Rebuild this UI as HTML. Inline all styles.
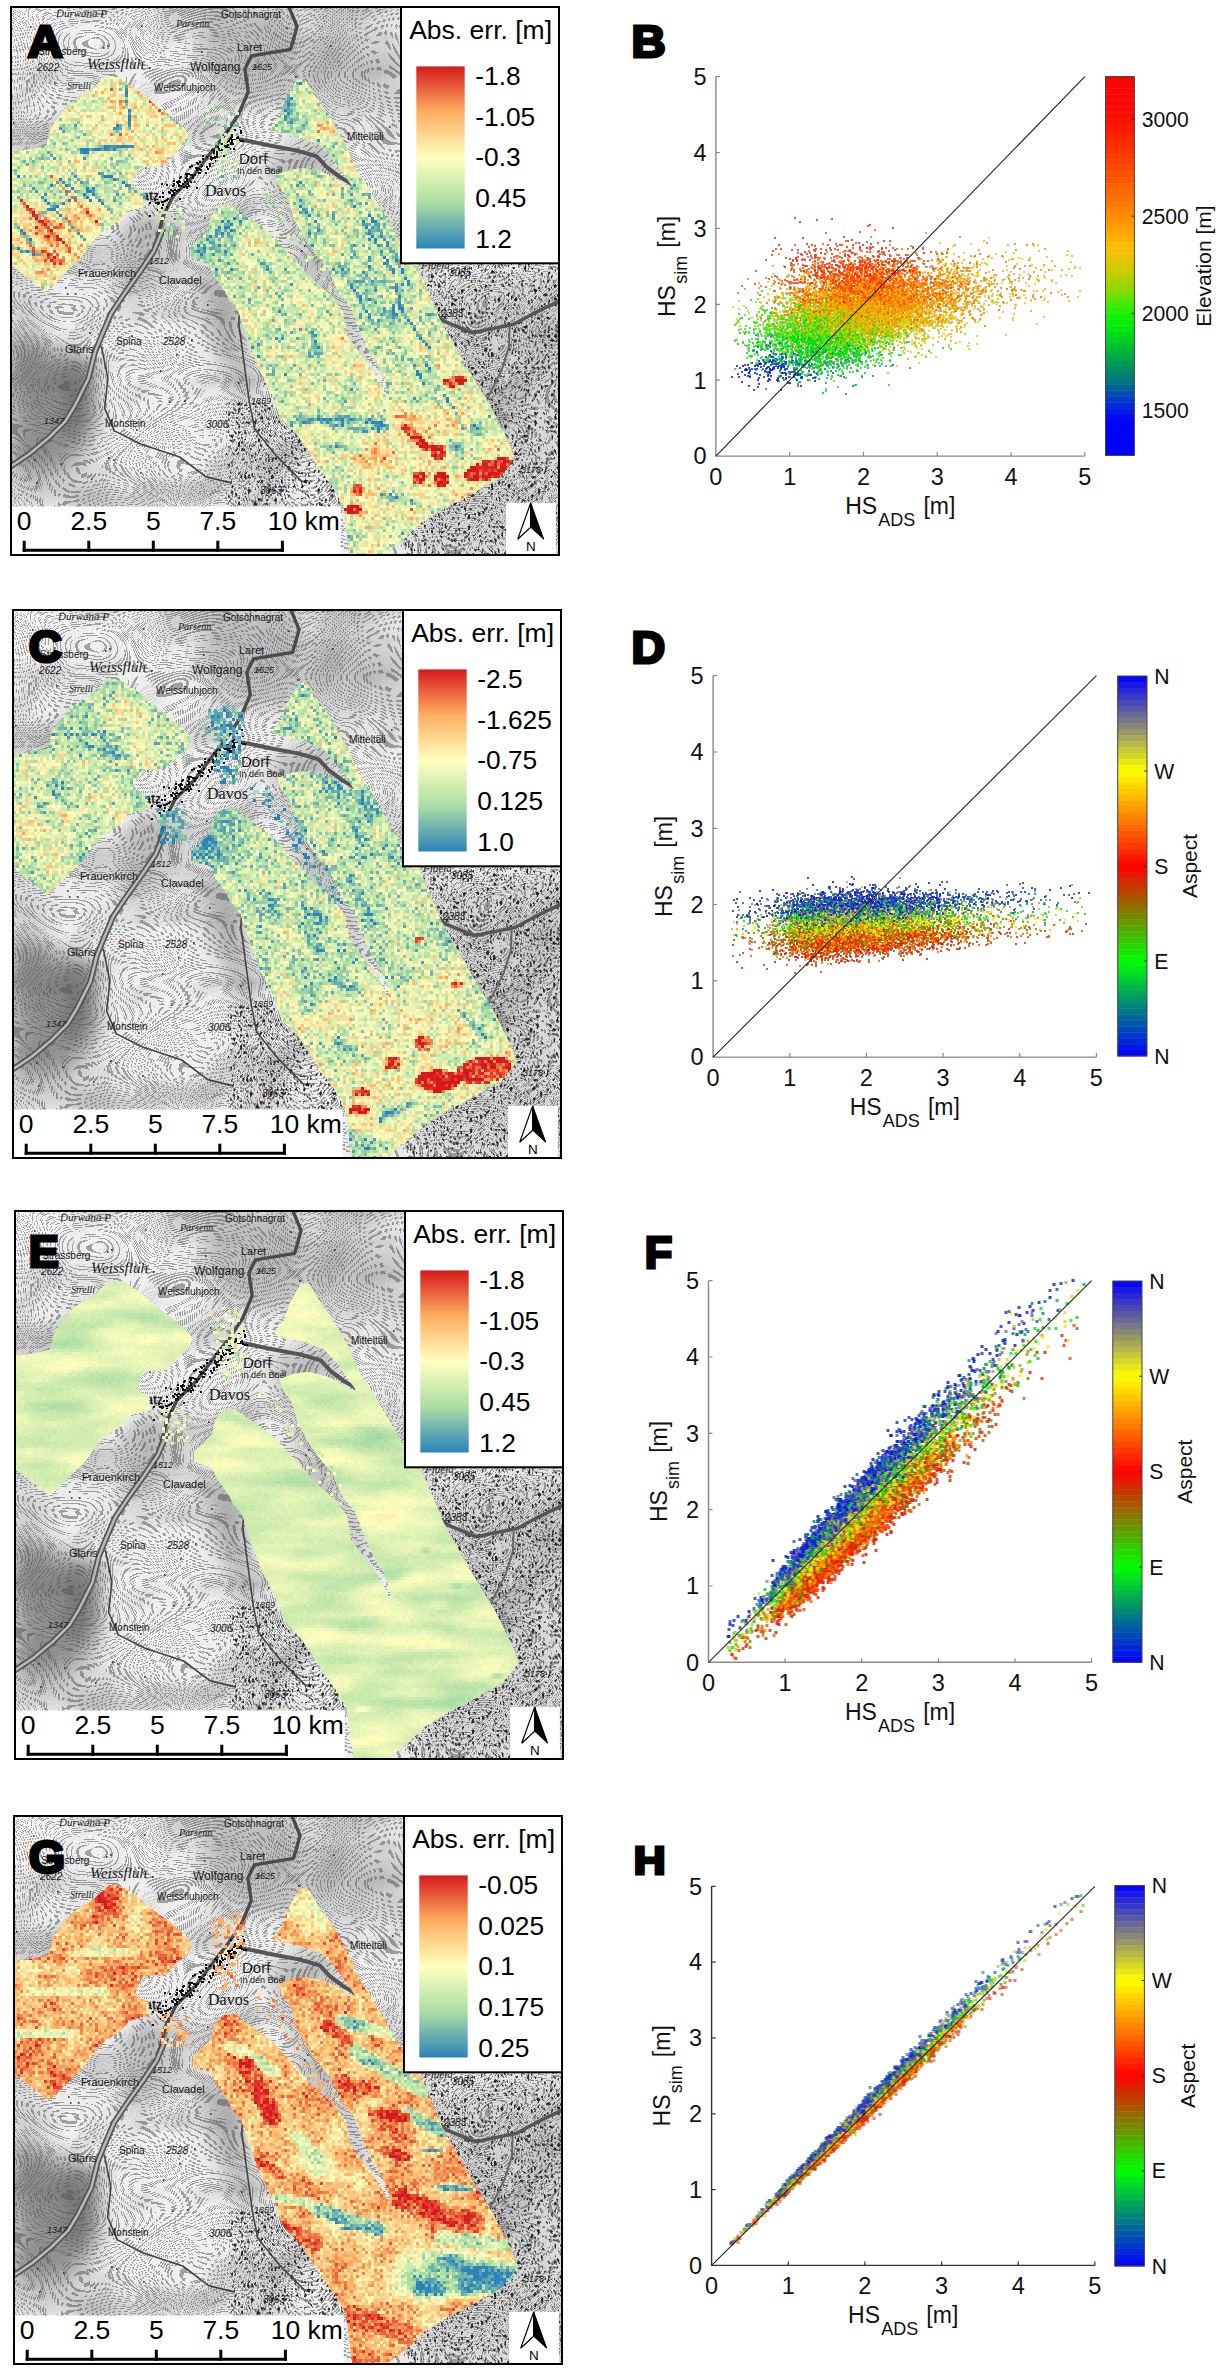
<!DOCTYPE html><html><head><meta charset="utf-8"><style>html,body{margin:0;padding:0;background:#fff;width:1226px;height:2373px;overflow:hidden}svg text{font-family:"Liberation Sans", sans-serif}</style></head><body><svg width="1226" height="2373" viewBox="0 0 1226 2373" style="position:absolute;left:0;top:0">
<defs>
<linearGradient id="gSpec" x1="0" y1="0" x2="0" y2="1"><stop offset="0.0" stop-color="#d7191c"/><stop offset="0.25" stop-color="#fdae61"/><stop offset="0.5" stop-color="#ffffbf"/><stop offset="0.75" stop-color="#abdda4"/><stop offset="1.0" stop-color="#2b83ba"/></linearGradient>
<clipPath id="cpFoot"><path d="M95.7 68.7 L109.7 70.7 L124.7 81.7 L141.7 95.7 L156.7 106.7 L170.7 118.7 L177.7 127.7 L174.7 136.7 L159.7 149.7 L152.7 158.7 L128.7 160.7 L120.7 178.7 L134.7 185.7 L134.7 199.7 L116.7 203.7 L106.7 214.7 L91.7 224.7 L80.7 235.7 L70.7 249.7 L55.7 264.7 L41.7 278.7 L34.7 284.7 L-1.3 256.7 L-1.3 144.7 L16.7 142.7 L34.7 138.7 L39.7 120.7 L45.7 111.7 L59.7 95.7 L77.7 84.7 Z M286.2 72.3 L293.7 72.3 L305.7 91.7 L317.5 107.5 L325.3 121.2 L333.1 134.7 L338.7 146.7 L344.7 162.3 L356.7 179.7 L368.4 199.5 L380.1 219.1 L387.7 232.7 L399.7 248.5 L408.7 264.1 L428.7 311.7 L455.7 359.7 L480.7 400.7 L496.7 432.7 L503.7 452.7 L487.7 471.7 L457.7 488.7 L432.7 501.7 L408.7 516.7 L393.7 531.7 L376.7 544.7 L372.7 550.7 L338.7 550.7 L331.7 497.7 L320.7 478.7 L307.7 460.7 L288.7 430.7 L268.7 409.7 L260.7 386.7 L251.7 368.7 L245.7 356.7 L235.7 329.7 L226.7 302.7 L217.7 292.7 L213.7 283.7 L201.7 267.7 L197.7 256.7 L178.7 250.7 L178.7 240.7 L197.7 222.7 L199.7 209.7 L207.7 199.7 L219.7 197.7 L233.7 207.7 L246.7 216.7 L257.7 224.7 L270.7 238.7 L283.3 252.1 L300.7 271.7 L320.5 289.3 L332.2 304.7 L336.2 328.4 L347.7 344.1 L359.7 359.7 L371.4 379.3 L375.3 390.7 L375.3 379.3 L367.5 359.7 L355.7 340.2 L347.7 320.7 L340.1 301.0 L328.3 287.3 L316.7 261.7 L300.7 242.3 L295.3 233.7 L282.3 211.2 L277.4 191.7 L266.7 177.7 L264.7 167.7 L278.7 162.7 L293.7 160.7 L309.7 164.7 L323.7 170.7 L334.7 179.7 L340.7 178.7 L323.7 154.7 L309.7 138.7 L289.7 130.7 L270.7 126.7 L258.7 122.7 L260.7 119.7 L268.7 109.7 L274.7 91.7 Z"/></clipPath>
<clipPath id="cpPanel"><rect x="0" y="0" width="548" height="548"/></clipPath>
<filter id="fA" x="0" y="0" width="548" height="548" filterUnits="userSpaceOnUse" color-interpolation-filters="sRGB"><feTurbulence type="fractalNoise" baseFrequency="0.45" numOctaves="1" seed="3" result="n1"/><feColorMatrix in="n1" type="matrix" values="1 0 0 0 0 1 0 0 0 0 1 0 0 0 0 0 0 0 0 1" result="m1"/><feTurbulence type="fractalNoise" baseFrequency="0.035" numOctaves="2" seed="53" result="n2"/><feColorMatrix in="n2" type="matrix" values="1 0 0 0 0 1 0 0 0 0 1 0 0 0 0 0 0 0 0 1" result="m2"/><feComposite in="SourceGraphic" in2="m1" operator="arithmetic" k1="0" k2="1" k3="1.15" k4="-0.575" result="v1"/><feComposite in="v1" in2="m2" operator="arithmetic" k1="0" k2="1" k3="0.45" k4="-0.225" result="v"/><feComponentTransfer in="v" result="c"><feFuncR type="table" tableValues="0.843 0.992 1.000 0.671 0.169"/><feFuncG type="table" tableValues="0.098 0.682 1.000 0.867 0.514"/><feFuncB type="table" tableValues="0.110 0.380 0.749 0.643 0.729"/></feComponentTransfer><feFlood x="1" y="1" width="1" height="1" flood-color="#fff"/><feComposite width="3" height="3"/><feTile result="grid"/><feComposite in="c" in2="grid" operator="in"/><feMorphology operator="dilate" radius="1"/></filter>
<filter id="fC" x="0" y="0" width="548" height="548" filterUnits="userSpaceOnUse" color-interpolation-filters="sRGB"><feTurbulence type="fractalNoise" baseFrequency="0.45" numOctaves="1" seed="5" result="n1"/><feColorMatrix in="n1" type="matrix" values="1 0 0 0 0 1 0 0 0 0 1 0 0 0 0 0 0 0 0 1" result="m1"/><feTurbulence type="fractalNoise" baseFrequency="0.035" numOctaves="2" seed="55" result="n2"/><feColorMatrix in="n2" type="matrix" values="1 0 0 0 0 1 0 0 0 0 1 0 0 0 0 0 0 0 0 1" result="m2"/><feComposite in="SourceGraphic" in2="m1" operator="arithmetic" k1="0" k2="1" k3="1.15" k4="-0.575" result="v1"/><feComposite in="v1" in2="m2" operator="arithmetic" k1="0" k2="1" k3="0.45" k4="-0.225" result="v"/><feComponentTransfer in="v" result="c"><feFuncR type="table" tableValues="0.843 0.992 1.000 0.671 0.169"/><feFuncG type="table" tableValues="0.098 0.682 1.000 0.867 0.514"/><feFuncB type="table" tableValues="0.110 0.380 0.749 0.643 0.729"/></feComponentTransfer><feFlood x="1" y="1" width="1" height="1" flood-color="#fff"/><feComposite width="3" height="3"/><feTile result="grid"/><feComposite in="c" in2="grid" operator="in"/><feMorphology operator="dilate" radius="1"/></filter>
<filter id="fE" x="0" y="0" width="548" height="548" filterUnits="userSpaceOnUse" color-interpolation-filters="sRGB"><feTurbulence type="fractalNoise" baseFrequency="0.45" numOctaves="1" seed="7" result="n1"/><feColorMatrix in="n1" type="matrix" values="1 0 0 0 0 1 0 0 0 0 1 0 0 0 0 0 0 0 0 1" result="m1"/><feTurbulence type="fractalNoise" baseFrequency="0.012 0.05" numOctaves="2" seed="57" result="n2"/><feColorMatrix in="n2" type="matrix" values="1 0 0 0 0 1 0 0 0 0 1 0 0 0 0 0 0 0 0 1" result="m2"/><feComposite in="SourceGraphic" in2="m1" operator="arithmetic" k1="0" k2="1" k3="0.12" k4="-0.06" result="v1"/><feComposite in="v1" in2="m2" operator="arithmetic" k1="0" k2="1" k3="0.4" k4="-0.2" result="v"/><feComponentTransfer in="v" result="c"><feFuncR type="table" tableValues="0.843 0.992 1.000 0.671 0.169"/><feFuncG type="table" tableValues="0.098 0.682 1.000 0.867 0.514"/><feFuncB type="table" tableValues="0.110 0.380 0.749 0.643 0.729"/></feComponentTransfer><feFlood x="1" y="1" width="1" height="1" flood-color="#fff"/><feComposite width="3" height="3"/><feTile result="grid"/><feComposite in="c" in2="grid" operator="in"/><feMorphology operator="dilate" radius="1"/></filter>
<filter id="fG" x="0" y="0" width="548" height="548" filterUnits="userSpaceOnUse" color-interpolation-filters="sRGB"><feTurbulence type="fractalNoise" baseFrequency="0.45" numOctaves="1" seed="9" result="n1"/><feColorMatrix in="n1" type="matrix" values="1 0 0 0 0 1 0 0 0 0 1 0 0 0 0 0 0 0 0 1" result="m1"/><feTurbulence type="fractalNoise" baseFrequency="0.03" numOctaves="2" seed="59" result="n2"/><feColorMatrix in="n2" type="matrix" values="1 0 0 0 0 1 0 0 0 0 1 0 0 0 0 0 0 0 0 1" result="m2"/><feComposite in="SourceGraphic" in2="m1" operator="arithmetic" k1="0" k2="1" k3="0.8" k4="-0.4" result="v1"/><feComposite in="v1" in2="m2" operator="arithmetic" k1="0" k2="1" k3="0.5" k4="-0.25" result="v"/><feComponentTransfer in="v" result="c"><feFuncR type="table" tableValues="0.843 0.992 1.000 0.671 0.169"/><feFuncG type="table" tableValues="0.098 0.682 1.000 0.867 0.514"/><feFuncB type="table" tableValues="0.110 0.380 0.749 0.643 0.729"/></feComponentTransfer><feFlood x="1" y="1" width="1" height="1" flood-color="#fff"/><feComposite width="3" height="3"/><feTile result="grid"/><feComposite in="c" in2="grid" operator="in"/><feMorphology operator="dilate" radius="1"/></filter>
<filter id="blur2" x="-20%" y="-20%" width="140%" height="140%"><feGaussianBlur stdDeviation="2"/></filter>
<filter id="blur3" x="-20%" y="-20%" width="140%" height="140%"><feGaussianBlur stdDeviation="3"/></filter>
<filter id="blur6" x="-30%" y="-30%" width="160%" height="160%"><feGaussianBlur stdDeviation="6"/></filter>
<filter id="blur8" x="-40%" y="-40%" width="180%" height="180%"><feGaussianBlur stdDeviation="8"/></filter>
<filter id="blur10" x="-40%" y="-40%" width="180%" height="180%"><feGaussianBlur stdDeviation="10"/></filter>
<filter id="blur12" x="-40%" y="-40%" width="180%" height="180%"><feGaussianBlur stdDeviation="12"/></filter>
<filter id="fCont" x="0" y="0" width="548" height="548" filterUnits="userSpaceOnUse" color-interpolation-filters="sRGB"><feTurbulence type="fractalNoise" baseFrequency="0.006 0.008" numOctaves="2" seed="4" result="h"/><feColorMatrix in="h" type="matrix" values="1 0 0 0 0 1 0 0 0 0 1 0 0 0 0 0 0 0 0 1" result="hh"/><feComponentTransfer in="hh" result="lines"><feFuncR type="discrete" tableValues="0 1 1 1 0 1 1 1 0 1 1 1 0 1 1 1 0 1 1 1 0 1 1 1 0 1 1 1 0 1 1 1 0 1 1 1 0 1 1 1 0 1 1 1 0 1 1 1 0 1 1 1 0 1 1 1 0 1 1 1 0 1 1 1 0 1 1 1 0 1 1 1 0 1 1 1 0 1 1 1 0 1 1 1 0 1 1 1 0 1 1 1 0 1 1 1 0 1 1 1 0 1 1 1 0 1 1 1 0 1 1 1 0 1 1 1 0 1 1 1 0 1 1 1 0 1 1 1 0 1 1 1 0 1 1 1 0 1 1 1 0 1 1 1 0 1 1 1 0 1 1 1 0 1 1 1 0 1 1 1 0 1 1 1 0 1 1 1 0 1 1 1 0 1 1 1 0 1 1 1 0 1 1 1 0 1 1 1 0 1 1 1 0 1 1 1 0 1 1 1 0 1 1 1 0 1 1 1 0 1 1 1 0 1 1 1 0 1 1 1 0 1 1 1 0 1 1 1 0 1 1 1 0 1 1 1 0 1 1 1 0 1 1 1 0 1 1 1 0 1 1 1 0 1 1 1"/></feComponentTransfer><feColorMatrix in="lines" type="matrix" values="0 0 0 0 0.33 0 0 0 0 0.33 0 0 0 0 0.33 -0.5 0 0 0 0.5"/><feGaussianBlur stdDeviation="0.3"/></filter>
<filter id="fHill" x="0" y="0" width="548" height="548" filterUnits="userSpaceOnUse" color-interpolation-filters="sRGB"><feTurbulence type="fractalNoise" baseFrequency="0.006 0.008" numOctaves="3" seed="4" result="h"/><feColorMatrix in="h" type="matrix" values="0 0 0 0 0 0 0 0 0 0 0 0 0 0 0 1 0 0 0 0" result="ha"/><feDiffuseLighting in="ha" surfaceScale="35" diffuseConstant="1" lighting-color="#fff"><feDistantLight azimuth="225" elevation="50"/></feDiffuseLighting><feColorMatrix type="matrix" values="0 0 0 0 0.3 0 0 0 0 0.3 0 0 0 0 0.3 -0.8 0 0 0 0.65"/></filter>
<clipPath id="cpRock"><path d="M395.0 265.0 L548.0 250.0 L548.0 548.0 L395.0 548.0 L380.0 520.0 Z M215 395 L330 395 L330 500 L215 500 Z"/></clipPath>
<filter id="fRock" x="0" y="0" width="548" height="548" filterUnits="userSpaceOnUse" color-interpolation-filters="sRGB"><feTurbulence type="turbulence" baseFrequency="0.3 0.22" numOctaves="2" seed="21" result="t"/><feColorMatrix in="t" type="matrix" values="0 0 0 0 0.15 0 0 0 0 0.15 0 0 0 0 0.15 4 0 0 0 -1.2"/></filter>
<g id="basemap"><rect x="0" y="0" width="548" height="548" fill="#efefef"/><rect x="0" y="0" width="548" height="548" filter="url(#fHill)" opacity="0.6"/><path d="M-1.0 319.5 L47.9 345.6 L83.8 371.7 L80.6 437.0 L51.2 469.6 L-1.0 469.6 Z" fill="#555" opacity="0.6" filter="url(#blur12)"/><path d="M47.9 352.1 L83.8 345.6 L80.6 417.4 L54.5 437.0 Z" fill="#555" opacity="0.45" filter="url(#blur8)"/><path d="M-1.0 280.4 L38.2 286.9 L38.2 326.0 L-1.0 326.0 Z" fill="#888" opacity="0.25" filter="url(#blur12)"/><path d="M181.7 254.3 L220.9 273.8 L247.0 384.8 L227.4 401.1 L194.8 319.5 Z" fill="#666" opacity="0.4" filter="url(#blur10)"/><path d="M-1.0 469.6 L106.7 469.6 L106.7 499.0 L-1.0 499.0 Z" fill="#888" opacity="0.25" filter="url(#blur10)"/><path d="M123.0 205.5 L181.7 202.3 L175.2 261.0 L136.0 293.6 L106.7 280.6 Z" fill="#777" opacity="0.3" filter="url(#blur10)"/><path d="M-1.0 124.0 L64.3 124.0 L64.3 182.7 L-1.0 182.7 Z" fill="#888" opacity="0.25" filter="url(#blur12)"/><path d="M282.8 0.0 L390.5 0.0 L390.5 65.3 L282.8 65.3 Z" fill="#999" opacity="0.15" filter="url(#blur12)"/><path d="M188.2 0.0 L282.8 0.0 L282.8 97.9 L227.4 97.9 L188.2 65.3 Z" fill="#777" opacity="0.4" filter="url(#blur10)"/><path d="M282.8 39.2 L399.0 39.2 L399.0 107.7 L282.8 107.7 Z" fill="#888" opacity="0.3" filter="url(#blur10)"/><path d="M-1.0 0.0 L162.1 0.0 L162.1 65.3 L-1.0 65.3 Z" fill="#fff" opacity="0.35" filter="url(#blur10)"/><path d="M253.5 140.3 L325.3 140.3 L357.9 358.9 L309.0 358.9 Z" fill="#777" opacity="0.25" filter="url(#blur8)"/><path d="M400.0 280.0 L548.0 260.0 L548.0 548.0 L400.0 548.0 Z" fill="#777" opacity="0.2" filter="url(#blur12)"/><rect x="0" y="0" width="548" height="548" filter="url(#fCont)"/><g clip-path="url(#cpRock)"><rect x="0" y="0" width="548" height="548" filter="url(#fRock)"/></g><path d="M278.0 0.0 L286.1 19.6 L279.6 42.4 L240.4 48.9 L233.9 62.0 L237.2 84.8 L227.4 107.7 L214.3 127.2 L201.3 143.6 L181.7 169.7 L162.1 189.2 L152.3 208.8 L142.6 244.5 L129.5 264.0 L113.2 286.9 L100.1 306.5 L90.4 329.3 L83.8 345.6 L77.3 371.7 L64.3 397.8 L54.5 414.1 L38.2 430.4 L18.6 446.7 L-1.0 459.8" fill="none" stroke="#4a4a4a" stroke-width="3.4" stroke-linejoin="round"/><path d="M152.3 221.6 L142.6 244.5 L129.5 264.0 L113.2 286.9 L100.1 306.5 L90.4 329.3 L83.8 345.6 L77.3 371.7 L64.3 397.8 L54.5 414.1 L38.2 430.4 L18.6 446.7 L-1.0 459.8" fill="none" stroke="#555" stroke-width="6" stroke-linejoin="round"/><path d="M152.3 221.6 L142.6 244.5 L129.5 264.0 L113.2 286.9 L100.1 306.5 L90.4 329.3 L83.8 345.6 L77.3 371.7 L64.3 397.8 L54.5 414.1 L38.2 430.4 L18.6 446.7 L-1.0 459.8" fill="none" stroke="#bbb" stroke-width="2.5" stroke-linejoin="round"/><path d="M230.4 289.0 L227.7 315.6 L233.0 355.5 L238.4 395.4 L243.7 422.0 L265.0 448.6 L291.6 475.2" fill="none" stroke="#444" stroke-width="1.6" stroke-linejoin="round"/><path d="M90.4 339.1 L96.9 371.7 L93.6 401.1 L103.4 423.9 L129.5 437.0 L168.7 450.0 L194.8 469.6 L220.9 476.1" fill="none" stroke="#444" stroke-width="1.6" stroke-linejoin="round"/><path d="M227.4 132.1 L260.0 138.7 L286.1 143.6 L305.7 149.4 L315.5 159.9 L328.5 169.7 L344.8 179.4" fill="none" stroke="#555" stroke-width="4" stroke-linejoin="round"/><path d="M418.8 302.8 L433.5 314.3 L461.2 325.7 L477.5 322.4 L502.0 317.5 L526.4 304.5 L547.0 294.7" fill="none" stroke="#555" stroke-width="3.5" stroke-linejoin="round"/><path d="M498.7 319.1 L497.9 340.4 L490.6 363.2 L477.5 389.3 L471.0 402.3" fill="none" stroke="#666" stroke-width="2" stroke-linejoin="round"/><path d="M188 166h2M151 198h2M160 189h2M226 132h2M199 150h2M190 159h2M210 143h2M210 153h2M138 196h2M205 149h2M213 135h2M179 175h2M176 167h2M168 171h2M202 146h2M185 163h2M162 188h2M215 140h2M216 138h2M148 190h2M229 124h2M158 186h2M177 167h2M221 137h2M195 160h2M169 170h2M151 195h2M155 178h2M226 130h2M198 157h2M214 140h2M210 137h2M174 167h2M169 179h2M177 179h2M178 160h2M207 142h2M205 150h2M217 134h2M167 179h2M150 177h2M201 156h2M213 139h2M200 153h2M163 183h2M176 167h2M180 159h2M210 143h2M159 183h2M185 161h2M191 152h2M227 133h2M202 151h2M185 156h2M168 175h2M198 159h2M145 196h2M173 175h2M186 157h2M143 193h2M196 162h2M222 142h2M151 186h2M167 174h2M231 134h2M188 155h2M181 171h2M185 181h2M179 168h2M201 154h2M181 169h2M175 169h2M165 175h2M146 197h2M219 137h2M214 135h2M214 137h2M148 199h2M162 178h2M220 133h2M215 135h2M206 140h2M162 174h2M224 132h2M214 140h2M224 132h2M189 163h2M222 132h2M215 135h2M199 152h2M195 150h2M138 209h2M215 140h2M166 176h2M157 185h2M167 178h2M223 123h2M169 179h2M167 183h2M201 151h2M184 161h2M150 195h2M224 131h2M175 174h2M146 203h2M219 131h2M210 138h2M203 154h2M220 130h2M200 143h2M203 151h2M165 184h2M160 188h2M218 132h2M179 168h2M208 144h2M151 190h2M217 141h2M179 175h2M156 192h2M161 184h2M219 136h2M174 179h2M205 145h2M201 151h2M175 172h2M150 201h2M214 143h2M176 177h2M187 162h2M147 196h2M162 186h2M203 141h2M174 171h2M203 141h2M203 150h2M218 142h2M216 124h2M161 179h2M175 181h2M172 180h2M206 146h2M216 138h2M185 163h2M187 166h2M220 135h2M183 168h2M162 177h2M155 200h2M215 138h2M168 192h2M180 168h2M211 139h2M212 149h2M175 180h2M171 177h2M205 146h2M153 194h2M220 128h2M155 193h2M229 126h2M229 134h2M194 166h2M216 142h2M144 196h2M162 186h2M228 120h2M202 144h2M191 149h2M205 148h2" stroke="#111" stroke-width="2"/><path d="M380 295h1.6M486 402h1.6M224 266h1.6M258 478h1.6M76 232h1.6M293 239h1.6M328 273h1.6M227 376h1.6M180 333h1.6M399 72h1.6M179 518h1.6M529 544h1.6M23 453h1.6M513 494h1.6M392 370h1.6M394 315h1.6M432 275h1.6M124 52h1.6M498 414h1.6M97 451h1.6M165 348h1.6M195 117h1.6M96 39h1.6M41 38h1.6M49 457h1.6M284 70h1.6M288 297h1.6M272 113h1.6M238 477h1.6M210 276h1.6M510 128h1.6M398 265h1.6M431 197h1.6M297 202h1.6M475 501h1.6M346 538h1.6M401 455h1.6M490 149h1.6M541 214h1.6M272 99h1.6M450 185h1.6M378 120h1.6M193 211h1.6M130 19h1.6M422 521h1.6M124 89h1.6M190 45h1.6M356 202h1.6M308 496h1.6M472 505h1.6M512 323h1.6M275 21h1.6M56 287h1.6M469 237h1.6M2 116h1.6M416 87h1.6M109 156h1.6M334 458h1.6M120 329h1.6M290 244h1.6M318 446h1.6M119 272h1.6M54 281h1.6M433 547h1.6M261 163h1.6M318 204h1.6M64 287h1.6M438 488h1.6M536 202h1.6M138 61h1.6M239 442h1.6M129 466h1.6M390 110h1.6M346 449h1.6M511 89h1.6M450 425h1.6M134 161h1.6M524 198h1.6M158 395h1.6M73 265h1.6M196 298h1.6M331 351h1.6M237 486h1.6M458 511h1.6M244 400h1.6M236 153h1.6M357 518h1.6M441 156h1.6M125 423h1.6M386 473h1.6M80 472h1.6M237 150h1.6M188 544h1.6M524 46h1.6M173 394h1.6M19 20h1.6M25 476h1.6M183 175h1.6M435 175h1.6M405 202h1.6M163 212h1.6M92 41h1.6M477 476h1.6M253 377h1.6M473 214h1.6M390 414h1.6M43 76h1.6M411 387h1.6M102 453h1.6M439 182h1.6M186 61h1.6M244 60h1.6M298 342h1.6M319 39h1.6M341 412h1.6M78 326h1.6M449 106h1.6M501 533h1.6M390 478h1.6M149 364h1.6" stroke="#222" stroke-width="1.6"/><text x="45" y="10" style='font-family:"Liberation Serif", serif' font-size="11" font-style="italic" font-weight="normal" fill="#1a1a1a">Durwana P</text><text x="210" y="11" style='font-family:"Liberation Sans", sans-serif' font-size="10" font-style="normal" font-weight="normal" fill="#1a1a1a">Gotschnagrat</text><text x="165" y="20" style='font-family:"Liberation Serif", serif' font-size="10" font-style="italic" font-weight="normal" fill="#1a1a1a">Parsenn</text><text x="226" y="44" style='font-family:"Liberation Sans", sans-serif' font-size="11" font-style="normal" font-weight="normal" fill="#1a1a1a">Laret</text><text x="179" y="64" style='font-family:"Liberation Sans", sans-serif' font-size="12" font-style="normal" font-weight="normal" fill="#1a1a1a">Wolfgang</text><text x="241" y="63" style='font-family:"Liberation Sans", sans-serif' font-size="9" font-style="italic" font-weight="normal" fill="#1a1a1a">1625</text><text x="76" y="62" style='font-family:"Liberation Serif", serif' font-size="15" font-style="italic" font-weight="normal" fill="#1a1a1a">Weissfluh</text><text x="27" y="48" style='font-family:"Liberation Sans", sans-serif' font-size="10" font-style="normal" font-weight="normal" fill="#1a1a1a">Strassberg</text><text x="26" y="64" style='font-family:"Liberation Sans", sans-serif' font-size="10" font-style="italic" font-weight="normal" fill="#1a1a1a">2622</text><text x="56" y="82" style='font-family:"Liberation Serif", serif' font-size="10" font-style="italic" font-weight="normal" fill="#1a1a1a">Strelli</text><text x="143" y="84" style='font-family:"Liberation Sans", sans-serif' font-size="10" font-style="normal" font-weight="normal" fill="#1a1a1a">Weissfluhjoch</text><text x="228" y="157" style='font-family:"Liberation Sans", sans-serif' font-size="15" font-style="normal" font-weight="normal" fill="#1a1a1a">Dorf</text><text x="226" y="167" style='font-family:"Liberation Sans", sans-serif' font-size="9" font-style="normal" font-weight="normal" fill="#1a1a1a">In den Büel</text><text x="194" y="189" style='font-family:"Liberation Serif", serif' font-size="16" font-style="normal" font-weight="normal" fill="#1a1a1a">Davos</text><text x="120" y="193" style='font-family:"Liberation Sans", sans-serif' font-size="12" font-style="normal" font-weight="bold" fill="#1a1a1a">Platz</text><text x="67" y="270" style='font-family:"Liberation Sans", sans-serif' font-size="11" font-style="normal" font-weight="normal" fill="#1a1a1a">Frauenkirch</text><text x="148" y="277" style='font-family:"Liberation Sans", sans-serif' font-size="11" font-style="normal" font-weight="normal" fill="#1a1a1a">Clavadel</text><text x="138" y="257" style='font-family:"Liberation Sans", sans-serif' font-size="9" font-style="italic" font-weight="normal" fill="#1a1a1a">1512</text><text x="54" y="346" style='font-family:"Liberation Sans", sans-serif' font-size="11" font-style="normal" font-weight="normal" fill="#1a1a1a">Glaris</text><text x="105" y="338" style='font-family:"Liberation Sans", sans-serif' font-size="10" font-style="normal" font-weight="normal" fill="#1a1a1a">Spina</text><text x="152" y="338" style='font-family:"Liberation Sans", sans-serif' font-size="10" font-style="italic" font-weight="normal" fill="#1a1a1a">2528</text><text x="94" y="420" style='font-family:"Liberation Sans", sans-serif' font-size="10" font-style="normal" font-weight="normal" fill="#1a1a1a">Monstein</text><text x="33" y="417" style='font-family:"Liberation Sans", sans-serif' font-size="9" font-style="italic" font-weight="normal" fill="#1a1a1a">1347</text><text x="195" y="421" style='font-family:"Liberation Sans", sans-serif' font-size="10" font-style="italic" font-weight="normal" fill="#1a1a1a">3006</text><text x="240" y="397" style='font-family:"Liberation Sans", sans-serif' font-size="9" font-style="italic" font-weight="normal" fill="#1a1a1a">1859</text><text x="249" y="487" style='font-family:"Liberation Sans", sans-serif' font-size="10" font-style="italic" font-weight="normal" fill="#1a1a1a">3063</text><text x="336" y="133" style='font-family:"Liberation Sans", sans-serif' font-size="10" font-style="normal" font-weight="normal" fill="#1a1a1a">Mitteltäli</text><text x="438" y="269" style='font-family:"Liberation Sans", sans-serif' font-size="10" font-style="italic" font-weight="normal" fill="#1a1a1a">3085</text><text x="430" y="310" style='font-family:"Liberation Sans", sans-serif' font-size="10" font-style="italic" font-weight="normal" fill="#1a1a1a">2383</text><text x="510" y="466" style='font-family:"Liberation Sans", sans-serif' font-size="9" font-style="italic" font-weight="normal" fill="#1a1a1a">3178</text><text x="410" y="262" style='font-family:"Liberation Serif", serif' font-size="11" font-style="italic" font-weight="normal" fill="#1a1a1a">Flüela</text></g>
</defs>
<rect x="0" y="0" width="1226" height="2373" fill="#fff"/>
<g transform="translate(11,7)">
<g clip-path="url(#cpPanel)">
<use href="#basemap"/>
<g clip-path="url(#cpFoot)"><g filter="url(#fA)"><rect x="0" y="0" width="548" height="548" fill="#999999"/><path d="M95.7 68.7 L178.7 127.7 L174.7 136.7 L152.7 158.7 L108.7 142.7 L78.7 92.7 Z" fill="#737373" filter="url(#blur6)"/><ellipse cx="28.7" cy="237.7" rx="50" ry="38" transform="rotate(-40 28.7 237.7)" fill="#6b6b6b" filter="url(#blur6)"/><path d="M3.7 232.7 L48.7 254.7" fill="none" stroke="#1a1a1a" stroke-width="6" stroke-linecap="round" filter="url(#blur2)"/><path d="M18.7 220.7 L58.7 242.7" fill="none" stroke="#262626" stroke-width="4" stroke-linecap="round" filter="url(#blur2)"/><ellipse cx="68.7" cy="207.7" rx="30" ry="18" transform="rotate(-40 68.7 207.7)" fill="#6b6b6b" filter="url(#blur6)"/><ellipse cx="18.7" cy="162.7" rx="25" ry="25" transform="rotate(0 18.7 162.7)" fill="#9e9e9e" filter="url(#blur6)"/><path d="M113.7 76.7 L116.7 97.7 L119.7 122.7" fill="none" stroke="#f7f7f7" stroke-width="3" stroke-linecap="round"/><path d="M70.7 143.7 L98.7 140.7 L120.7 138.7" fill="none" stroke="#f7f7f7" stroke-width="5" stroke-linecap="round"/><path d="M88.7 167.7 L108.7 172.7 L136.7 192.7" fill="none" stroke="#f2f2f2" stroke-width="3" stroke-linecap="round"/><path d="M28.7 207.7 L58.7 192.7 L83.7 182.7" fill="none" stroke="#ebebeb" stroke-width="3" stroke-linecap="round"/><path d="M2.7 240.7 L28.7 248.7" fill="none" stroke="#f2f2f2" stroke-width="3" stroke-linecap="round"/><ellipse cx="106.7" cy="122.7" rx="6" ry="5" transform="rotate(0 106.7 122.7)" fill="#f2f2f2"/><path d="M48.7 172.7 L78.7 192.7" fill="none" stroke="#e6e6e6" stroke-width="3" stroke-linecap="round"/><path d="M178.7 240.7 L197.7 222.7 L207.7 199.7 L233.7 207.7 L258.7 232.7 L288.7 287.7 L228.7 302.7 L201.7 267.7 Z" fill="#c2c2c2" filter="url(#blur6)"/><ellipse cx="233.7" cy="242.7" rx="12" ry="10" transform="rotate(0 233.7 242.7)" fill="#ededed" filter="url(#blur3)"/><ellipse cx="253.7" cy="270.7" rx="10" ry="6" transform="rotate(0 253.7 270.7)" fill="#e6e6e6" filter="url(#blur3)"/><ellipse cx="188.7" cy="244.7" rx="10" ry="5" transform="rotate(0 188.7 244.7)" fill="#e6e6e6" filter="url(#blur3)"/><path d="M285.7 72.7 L338.7 146.7 L288.7 132.7 L258.7 122.7 Z" fill="#b8b8b8" filter="url(#blur6)"/><ellipse cx="313.7" cy="120.7" rx="12" ry="8" transform="rotate(0 313.7 120.7)" fill="#6b6b6b" filter="url(#blur3)"/><ellipse cx="278.7" cy="102.7" rx="8" ry="14" transform="rotate(0 278.7 102.7)" fill="#e6e6e6" filter="url(#blur3)"/><path d="M218.7 222.7 L257.9 222.7 L328.3 287.3 L336.2 328.4 L375.3 389.1 L297.0 438.0 L218.7 359.7 Z" fill="#999999" filter="url(#blur10)"/><path d="M283.3 222.7 L385.1 222.7 L434.0 320.6 L414.5 359.7 L375.3 379.3 L328.3 287.3 Z" fill="#adadad" filter="url(#blur10)"/><path d="M248.1 252.1 L257.9 265.8" fill="none" stroke="#ebebeb" stroke-width="5" stroke-linecap="round" filter="url(#blur2)"/><path d="M297.0 316.7 L304.8 332.3 L308.8 350.0" fill="none" stroke="#ededed" stroke-width="5" stroke-linecap="round" filter="url(#blur2)"/><path d="M261.8 301.0 L273.5 306.9" fill="none" stroke="#e6e6e6" stroke-width="4" stroke-linecap="round" filter="url(#blur2)"/><path d="M355.7 289.3 L371.4 301.0 L385.1 310.8" fill="none" stroke="#e6e6e6" stroke-width="4" stroke-linecap="round" filter="url(#blur2)"/><path d="M365.5 312.8 L394.9 324.5" fill="none" stroke="#e6e6e6" stroke-width="3" stroke-linecap="round" filter="url(#blur2)"/><path d="M394.9 324.5 L406.6 344.1 L418.4 359.7" fill="none" stroke="#ebebeb" stroke-width="4" stroke-linecap="round" filter="url(#blur2)"/><path d="M336.2 238.4 L346.0 250.1" fill="none" stroke="#e6e6e6" stroke-width="4" stroke-linecap="round" filter="url(#blur2)"/><path d="M267.6 332.3 L283.3 344.1" fill="none" stroke="#e6e6e6" stroke-width="4" stroke-linecap="round" filter="url(#blur2)"/><path d="M238.3 246.2 L248.1 261.9" fill="none" stroke="#e0e0e0" stroke-width="3" stroke-linecap="round" filter="url(#blur2)"/><path d="M288.7 192.7 L298.7 232.7" fill="none" stroke="#e6e6e6" stroke-width="4" stroke-linecap="round" filter="url(#blur3)"/><path d="M323.7 207.7 L338.7 232.7 L348.7 252.7" fill="none" stroke="#e6e6e6" stroke-width="3" stroke-linecap="round" filter="url(#blur3)"/><path d="M383.7 272.7 L388.7 292.7 L393.7 312.7" fill="none" stroke="#e6e6e6" stroke-width="3" stroke-linecap="round"/><ellipse cx="416.7" cy="335.7" rx="6" ry="4" transform="rotate(0 416.7 335.7)" fill="#1a1a1a"/><ellipse cx="443.7" cy="374.7" rx="13" ry="5" transform="rotate(-10 443.7 374.7)" fill="#080808"/><ellipse cx="408.7" cy="332.7" rx="25" ry="15" transform="rotate(30 408.7 332.7)" fill="#737373" filter="url(#blur6)"/><path d="M288.7 430.7 L468.7 392.7 L503.7 452.7 L373.7 548.7 L331.7 497.7 Z" fill="#858585" filter="url(#blur10)"/><path d="M288.7 413.7 L328.7 410.7 L370.7 416.7" fill="none" stroke="#f2f2f2" stroke-width="6" stroke-linecap="round" filter="url(#blur2)"/><path d="M307.7 437.7 L328.7 439.7 L350.7 444.7" fill="none" stroke="#f2f2f2" stroke-width="5" stroke-linecap="round" filter="url(#blur2)"/><path d="M367.7 487.7 L388.7 492.7 L408.7 498.7" fill="none" stroke="#ebebeb" stroke-width="5" stroke-linecap="round" filter="url(#blur2)"/><path d="M300.9 410.6 L328.3 418.5 L355.7 422.4 L375.3 418.5" fill="none" stroke="#ededed" stroke-width="5" stroke-linecap="round" filter="url(#blur2)"/><ellipse cx="398.7" cy="420.7" rx="22" ry="12" transform="rotate(45 398.7 420.7)" fill="#545454" filter="url(#blur6)"/><ellipse cx="368.7" cy="454.7" rx="25" ry="9" transform="rotate(-10 368.7 454.7)" fill="#5c5c5c" filter="url(#blur6)"/><ellipse cx="443.7" cy="412.7" rx="15" ry="10" transform="rotate(0 443.7 412.7)" fill="#666666" filter="url(#blur6)"/><path d="M393.7 419.7 L415.7 440.7" fill="none" stroke="#080808" stroke-width="7" stroke-linecap="round"/><ellipse cx="427.7" cy="444.7" rx="9" ry="8" transform="rotate(0 427.7 444.7)" fill="#080808"/><ellipse cx="478.7" cy="462.7" rx="26" ry="10" transform="rotate(-15 478.7 462.7)" fill="#000000"/><ellipse cx="407.7" cy="470.7" rx="7" ry="7" transform="rotate(0 407.7 470.7)" fill="#0a0a0a"/><ellipse cx="430.7" cy="472.7" rx="8" ry="8" transform="rotate(0 430.7 472.7)" fill="#0a0a0a"/><ellipse cx="346.7" cy="482.7" rx="6" ry="6" transform="rotate(0 346.7 482.7)" fill="#0a0a0a"/><ellipse cx="341.7" cy="502.7" rx="9" ry="5" transform="rotate(0 341.7 502.7)" fill="#0a0a0a"/><ellipse cx="458.7" cy="487.7" rx="20" ry="8" transform="rotate(-30 458.7 487.7)" fill="#666666" filter="url(#blur3)"/><ellipse cx="443.7" cy="437.7" rx="8" ry="6" transform="rotate(0 443.7 437.7)" fill="#e6e6e6" filter="url(#blur2)"/><ellipse cx="463.7" cy="422.7" rx="6" ry="5" transform="rotate(0 463.7 422.7)" fill="#ebebeb" filter="url(#blur2)"/><path d="M338.7 192.7 L363.7 232.7 L383.7 267.7" fill="none" stroke="#ebebeb" stroke-width="3" stroke-linecap="round"/><path d="M358.7 207.7 L380.7 242.7 L398.7 277.7" fill="none" stroke="#e6e6e6" stroke-width="3" stroke-linecap="round"/><path d="M383.7 292.7 L403.7 322.7 L418.7 342.7" fill="none" stroke="#ebebeb" stroke-width="3" stroke-linecap="round"/><path d="M328.7 257.7 L348.7 292.7 L368.7 327.7" fill="none" stroke="#e6e6e6" stroke-width="3" stroke-linecap="round"/><path d="M398.7 352.7 L413.7 377.7" fill="none" stroke="#ebebeb" stroke-width="3" stroke-linecap="round"/><path d="M433.7 387.7 L453.7 422.7" fill="none" stroke="#e6e6e6" stroke-width="3" stroke-linecap="round"/><path d="M8.7 192.7 L33.7 217.7 L58.7 242.7" fill="none" stroke="#141414" stroke-width="3" stroke-linecap="round"/><path d="M18.7 177.7 L48.7 207.7 L73.7 232.7" fill="none" stroke="#e6e6e6" stroke-width="3" stroke-linecap="round"/><path d="M38.7 167.7 L68.7 197.7 L88.7 217.7" fill="none" stroke="#262626" stroke-width="3" stroke-linecap="round"/><path d="M3.7 217.7 L23.7 237.7" fill="none" stroke="#e6e6e6" stroke-width="3" stroke-linecap="round"/><path d="M58.7 162.7 L83.7 187.7 L103.7 207.7" fill="none" stroke="#ebebeb" stroke-width="3" stroke-linecap="round"/><path d="M118.7 77.7 L153.7 107.7" fill="none" stroke="#333333" stroke-width="3" stroke-linecap="round"/><path d="M138.7 87.7 L166.7 114.7" fill="none" stroke="#e6e6e6" stroke-width="3" stroke-linecap="round"/></g></g>
<path d="M207 111h3v3h-3zM225 135h3v3h-3zM201 153h3v3h-3zM210 153h3v3h-3zM207 159h3v3h-3zM213 108h3v3h-3zM228 111h3v3h-3zM213 135h3v3h-3zM222 159h3v3h-3zM195 117h3v3h-3zM210 150h3v3h-3zM210 120h3v3h-3zM207 144h3v3h-3zM216 141h3v3h-3zM210 96h3v3h-3zM216 144h3v3h-3zM207 123h3v3h-3zM204 141h3v3h-3zM210 159h3v3h-3zM228 117h3v3h-3zM222 99h3v3h-3zM204 117h3v3h-3zM159 219h3v3h-3zM165 228h3v3h-3zM150 222h3v3h-3zM144 213h3v3h-3zM159 222h3v3h-3zM165 210h3v3h-3zM153 213h3v3h-3zM153 225h3v3h-3zM159 225h3v3h-3zM153 228h3v3h-3zM297 252h3v3h-3zM318 291h3v3h-3zM303 234h3v3h-3zM309 249h3v3h-3zM291 252h3v3h-3zM255 189h3v3h-3zM288 228h3v3h-3zM294 228h3v3h-3zM267 213h3v3h-3zM318 255h3v3h-3zM327 282h3v3h-3zM306 246h3v3h-3zM279 231h3v3h-3zM270 213h3v3h-3zM252 180h3v3h-3zM315 252h3v3h-3zM252 186h3v3h-3z" fill="#abdda4"/><path d="M216 117h3v3h-3zM210 165h3v3h-3zM225 105h3v3h-3zM213 150h3v3h-3zM210 120h3v3h-3zM210 132h3v3h-3zM210 120h3v3h-3zM219 162h3v3h-3zM207 159h3v3h-3zM216 159h3v3h-3zM210 150h3v3h-3zM216 108h3v3h-3zM195 102h3v3h-3zM195 108h3v3h-3zM207 123h3v3h-3zM228 117h3v3h-3zM156 216h3v3h-3zM171 213h3v3h-3zM147 198h3v3h-3zM165 228h3v3h-3zM168 204h3v3h-3zM159 201h3v3h-3zM147 201h3v3h-3zM150 210h3v3h-3zM144 204h3v3h-3zM171 219h3v3h-3zM162 198h3v3h-3zM312 258h3v3h-3zM294 252h3v3h-3zM303 237h3v3h-3zM297 249h3v3h-3zM306 234h3v3h-3zM288 219h3v3h-3zM267 201h3v3h-3zM288 225h3v3h-3zM276 228h3v3h-3zM255 183h3v3h-3zM309 261h3v3h-3zM312 246h3v3h-3zM312 261h3v3h-3z" fill="#e3f4b6"/><path d="M207 162h3v3h-3zM210 129h3v3h-3zM204 156h3v3h-3zM213 126h3v3h-3zM207 144h3v3h-3zM201 138h3v3h-3zM201 99h3v3h-3zM216 153h3v3h-3zM225 132h3v3h-3zM207 129h3v3h-3zM201 153h3v3h-3zM219 123h3v3h-3zM213 168h3v3h-3zM219 96h3v3h-3zM213 144h3v3h-3zM213 132h3v3h-3zM201 99h3v3h-3zM222 153h3v3h-3zM195 111h3v3h-3zM225 153h3v3h-3zM204 96h3v3h-3zM219 168h3v3h-3zM213 153h3v3h-3zM210 138h3v3h-3zM213 141h3v3h-3zM144 198h3v3h-3zM147 222h3v3h-3zM171 216h3v3h-3zM168 213h3v3h-3zM165 207h3v3h-3zM153 204h3v3h-3zM147 210h3v3h-3zM159 225h3v3h-3zM162 213h3v3h-3zM171 222h3v3h-3zM162 219h3v3h-3zM150 204h3v3h-3zM294 222h3v3h-3zM282 228h3v3h-3zM318 282h3v3h-3zM258 186h3v3h-3zM306 237h3v3h-3zM264 210h3v3h-3zM318 279h3v3h-3zM291 234h3v3h-3zM270 198h3v3h-3zM258 198h3v3h-3zM300 249h3v3h-3zM324 294h3v3h-3zM312 270h3v3h-3zM297 234h3v3h-3z" fill="#c7e8ad"/><path d="M225 117h3v3h-3zM195 114h3v3h-3zM225 126h3v3h-3zM204 135h3v3h-3zM219 105h3v3h-3zM204 99h3v3h-3zM207 129h3v3h-3zM222 168h3v3h-3zM204 111h3v3h-3zM222 117h3v3h-3zM213 117h3v3h-3zM159 228h3v3h-3zM162 219h3v3h-3zM159 216h3v3h-3zM156 222h3v3h-3zM165 198h3v3h-3zM261 198h3v3h-3zM288 234h3v3h-3z" fill="#80bfab"/><path d="M210 168h3v3h-3z" fill="#56a1b3"/><path d="M222 129h3v3h-3zM147 222h3v3h-3zM168 201h3v3h-3zM162 198h3v3h-3zM309 249h3v3h-3z" fill="#ffffbf"/>
<rect x="390" y="0" width="160" height="256.3" fill="#fff" stroke="#000" stroke-width="2"/>
<text x="398.2" y="31.5" font-size="26.5" font-family='"Liberation Sans", sans-serif'>Abs. err. [m]</text>
<rect x="405.3" y="59.4" width="48.4" height="182.1" fill="url(#gSpec)"/>
<text x="464.3" y="77.7" font-size="26.3" font-family='"Liberation Sans", sans-serif'>-1.8</text>
<text x="464.3" y="118.5" font-size="26.3" font-family='"Liberation Sans", sans-serif'>-1.05</text>
<text x="464.3" y="159.2" font-size="26.3" font-family='"Liberation Sans", sans-serif'>-0.3</text>
<text x="464.3" y="199.9" font-size="26.3" font-family='"Liberation Sans", sans-serif'>0.45</text>
<text x="464.3" y="240.7" font-size="26.3" font-family='"Liberation Sans", sans-serif'>1.2</text>
<rect x="0" y="499.5" width="329.7" height="50" fill="#fff"/>
<path d="M11.7 543.2 H272.9" stroke="#000" stroke-width="3"/>
<path d="M13.2 533.7 V544.7" stroke="#000" stroke-width="3"/>
<path d="M77.8 533.7 V544.7" stroke="#000" stroke-width="3"/>
<path d="M142.3 533.7 V544.7" stroke="#000" stroke-width="3"/>
<path d="M206.8 533.7 V544.7" stroke="#000" stroke-width="3"/>
<path d="M271.4 533.7 V544.7" stroke="#000" stroke-width="3"/>
<text x="13.2" y="523.2" font-size="26.5" text-anchor="middle" font-family='"Liberation Sans", sans-serif'>0</text>
<text x="77.8" y="523.2" font-size="26.5" text-anchor="middle" font-family='"Liberation Sans", sans-serif'>2.5</text>
<text x="142.3" y="523.2" font-size="26.5" text-anchor="middle" font-family='"Liberation Sans", sans-serif'>5</text>
<text x="206.8" y="523.2" font-size="26.5" text-anchor="middle" font-family='"Liberation Sans", sans-serif'>7.5</text>
<text x="256.7" y="523.2" font-size="26.5" font-family='"Liberation Sans", sans-serif'>10 km</text>
<rect x="495.1" y="495.7" width="49.8" height="55" fill="#fff"/>
<path d="M519.7 495.9 L506.7 532.2 L519.7 520.3 Z" fill="#fff" stroke="#000" stroke-width="1.2" stroke-linejoin="miter"/>
<path d="M519.7 495.9 L532.7 532.2 L519.7 520.3 Z" fill="#000" stroke="#000" stroke-width="1"/>
<text x="519.8" y="543.9" font-size="13.5" text-anchor="middle" font-family='"Liberation Sans", sans-serif'>N</text>
</g>
<rect x="0" y="0" width="548" height="548" fill="none" stroke="#000" stroke-width="2"/>
</g>
<g transform="translate(13,610)">
<g clip-path="url(#cpPanel)">
<use href="#basemap"/>
<g clip-path="url(#cpFoot)"><g filter="url(#fC)"><rect x="0" y="0" width="548" height="548" fill="#a8a8a8"/><path d="M39.7 111.4 L97.8 66.7 L147.0 111.4 L88.9 133.7 L39.7 133.7 Z" fill="#bdbdbd" filter="url(#blur12)"/><path d="M42.0 124.8 L88.9 122.5" fill="none" stroke="#ededed" stroke-width="6" stroke-linecap="round" filter="url(#blur2)"/><path d="M66.6 133.7 L115.7 147.1" fill="none" stroke="#e6e6e6" stroke-width="4" stroke-linecap="round" filter="url(#blur2)"/><path d="M97.8 71.1 L147.0 111.4 L115.7 133.7 L88.9 111.4 Z" fill="#858585" filter="url(#blur12)"/><path d="M26.3 178.4 L53.1 209.7" fill="none" stroke="#595959" stroke-width="6" stroke-linecap="round" filter="url(#blur3)"/><path d="M8.4 225.3 L35.3 241.0" fill="none" stroke="#1a1a1a" stroke-width="7" stroke-linecap="round" filter="url(#blur2)"/><path d="M66.6 151.6 L133.6 156.1" fill="none" stroke="#666666" stroke-width="5" stroke-linecap="round" filter="url(#blur3)"/><path d="M-0.5 200.8 L66.6 223.1 L44.2 276.8 L-0.5 249.9 Z" fill="#8f8f8f" filter="url(#blur12)"/><path d="M80.0 187.4 L115.7 209.7" fill="none" stroke="#595959" stroke-width="4" stroke-linecap="round" filter="url(#blur3)"/><path d="M178.0 200.5 L222.8 200.5 L222.8 253.5 L178.0 253.5 Z" fill="#e6e6e6" filter="url(#blur8)"/><ellipse cx="232.0" cy="258.9" rx="17.881090746535538" ry="17.881090746535538" transform="rotate(0 232.0 258.9)" fill="#b2b2b2" filter="url(#blur6)"/><path d="M265.7 100.6 L284.0 100.6 L284.0 125.1 L265.7 125.1 Z" fill="#e6e6e6" filter="url(#blur8)"/><path d="M312.6 151.6 L333.0 151.6 L333.0 180.1 L312.6 180.1 Z" fill="#e0e0e0" filter="url(#blur6)"/><path d="M341.1 182.2 L361.5 182.2 L361.5 204.6 L341.1 204.6 Z" fill="#dbdbdb" filter="url(#blur6)"/><path d="M312.4 169.5 L348.2 232.1" fill="none" stroke="#e6e6e6" stroke-width="8" stroke-linecap="round" filter="url(#blur3)"/><path d="M285.6 290.2 L312.4 312.5" fill="none" stroke="#e6e6e6" stroke-width="6" stroke-linecap="round" filter="url(#blur3)"/><path d="M285.6 312.5 L312.4 348.3" fill="none" stroke="#e6e6e6" stroke-width="6" stroke-linecap="round" filter="url(#blur3)"/><path d="M312.4 366.2 L339.2 384.0" fill="none" stroke="#e6e6e6" stroke-width="6" stroke-linecap="round" filter="url(#blur3)"/><path d="M249.8 276.8 L267.7 312.5" fill="none" stroke="#e6e6e6" stroke-width="5" stroke-linecap="round" filter="url(#blur3)"/><path d="M330.3 249.9 L357.1 312.5" fill="none" stroke="#e6e6e6" stroke-width="5" stroke-linecap="round" filter="url(#blur3)"/><path d="M276.7 401.9 L446.5 357.2 L500.2 451.1 L401.8 536.0 L312.4 513.7 Z" fill="#8a8a8a" filter="url(#blur14)"/><ellipse cx="471.1" cy="460.0" rx="29.05677246312025" ry="13.410818059901654" transform="rotate(-10 471.1 460.0)" fill="#050505"/><ellipse cx="424.2" cy="471.2" rx="22.35136343316942" ry="11.17568171658471" transform="rotate(0 424.2 471.2)" fill="#0d0d0d"/><ellipse cx="348.2" cy="482.4" rx="8.940545373267769" ry="4.470272686633884" transform="rotate(0 348.2 482.4)" fill="#0d0d0d"/><ellipse cx="345.9" cy="500.3" rx="11.17568171658471" ry="4.470272686633884" transform="rotate(0 345.9 500.3)" fill="#0d0d0d"/><ellipse cx="444.3" cy="375.1" rx="6.705409029950827" ry="4.470272686633884" transform="rotate(0 444.3 375.1)" fill="#0f0f0f"/><ellipse cx="410.8" cy="433.2" rx="8.940545373267769" ry="8.940545373267769" transform="rotate(0 410.8 433.2)" fill="#141414"/><ellipse cx="379.5" cy="453.3" rx="8.940545373267769" ry="6.705409029950827" transform="rotate(0 379.5 453.3)" fill="#1a1a1a"/><ellipse cx="406.3" cy="330.4" rx="5.364327223960661" ry="3.5762181493071075" transform="rotate(0 406.3 330.4)" fill="#1a1a1a"/><path d="M321.4 428.7 L357.1 451.1" fill="none" stroke="#e6e6e6" stroke-width="6" stroke-linecap="round" filter="url(#blur2)"/><path d="M366.1 509.2 L401.8 491.3" fill="none" stroke="#e6e6e6" stroke-width="6" stroke-linecap="round" filter="url(#blur2)"/><path d="M446.5 401.9 L473.3 428.7" fill="none" stroke="#e0e0e0" stroke-width="5" stroke-linecap="round" filter="url(#blur2)"/></g></g>
<path d="M207 102h3v3h-3zM228 111h3v3h-3zM219 120h3v3h-3zM204 117h3v3h-3zM198 108h3v3h-3zM207 147h3v3h-3zM207 117h3v3h-3zM201 102h3v3h-3zM228 102h3v3h-3zM201 120h3v3h-3zM216 105h3v3h-3zM225 150h3v3h-3zM219 168h3v3h-3zM204 135h3v3h-3zM210 159h3v3h-3zM222 99h3v3h-3zM201 159h3v3h-3zM210 135h3v3h-3zM216 114h3v3h-3zM207 141h3v3h-3zM207 156h3v3h-3zM216 102h3v3h-3zM210 96h3v3h-3zM207 165h3v3h-3zM219 147h3v3h-3zM219 171h3v3h-3zM210 111h3v3h-3zM225 126h3v3h-3zM192 117h3v3h-3zM225 108h3v3h-3zM225 141h3v3h-3zM225 132h3v3h-3zM204 153h3v3h-3zM222 159h3v3h-3zM201 153h3v3h-3zM219 147h3v3h-3zM222 120h3v3h-3zM225 153h3v3h-3zM213 162h3v3h-3zM222 156h3v3h-3zM219 165h3v3h-3zM195 120h3v3h-3zM222 105h3v3h-3zM195 99h3v3h-3zM222 141h3v3h-3zM207 141h3v3h-3zM219 159h3v3h-3zM225 114h3v3h-3zM222 159h3v3h-3zM225 102h3v3h-3zM210 132h3v3h-3zM204 102h3v3h-3zM219 117h3v3h-3zM210 162h3v3h-3zM210 114h3v3h-3zM216 117h3v3h-3zM216 111h3v3h-3zM201 99h3v3h-3zM219 168h3v3h-3zM204 108h3v3h-3zM225 117h3v3h-3zM216 111h3v3h-3zM213 156h3v3h-3zM198 108h3v3h-3zM207 123h3v3h-3zM201 123h3v3h-3zM201 108h3v3h-3zM204 111h3v3h-3zM213 144h3v3h-3zM207 105h3v3h-3zM201 105h3v3h-3zM201 120h3v3h-3zM225 108h3v3h-3zM192 117h3v3h-3zM213 144h3v3h-3zM219 159h3v3h-3zM225 141h3v3h-3zM213 99h3v3h-3zM219 123h3v3h-3zM225 138h3v3h-3zM204 117h3v3h-3zM210 117h3v3h-3zM228 108h3v3h-3zM210 99h3v3h-3zM210 144h3v3h-3zM216 153h3v3h-3zM219 168h3v3h-3zM216 132h3v3h-3zM156 204h3v3h-3zM165 210h3v3h-3zM144 198h3v3h-3zM150 216h3v3h-3zM159 222h3v3h-3zM159 210h3v3h-3zM168 216h3v3h-3zM153 207h3v3h-3zM159 201h3v3h-3zM156 225h3v3h-3zM165 228h3v3h-3zM153 201h3v3h-3zM162 198h3v3h-3zM171 213h3v3h-3zM147 198h3v3h-3zM150 207h3v3h-3zM165 198h3v3h-3zM165 216h3v3h-3zM153 201h3v3h-3zM165 207h3v3h-3zM156 216h3v3h-3zM168 228h3v3h-3zM150 207h3v3h-3zM168 213h3v3h-3zM162 204h3v3h-3zM159 204h3v3h-3zM168 210h3v3h-3zM162 222h3v3h-3zM153 210h3v3h-3zM165 222h3v3h-3zM156 216h3v3h-3zM159 219h3v3h-3zM150 210h3v3h-3zM147 219h3v3h-3zM153 222h3v3h-3zM168 201h3v3h-3zM150 222h3v3h-3zM162 201h3v3h-3zM147 207h3v3h-3zM162 201h3v3h-3zM147 228h3v3h-3zM153 207h3v3h-3zM156 216h3v3h-3zM297 231h3v3h-3zM297 255h3v3h-3zM249 183h3v3h-3zM285 222h3v3h-3zM279 228h3v3h-3zM258 186h3v3h-3zM276 225h3v3h-3zM309 243h3v3h-3zM282 240h3v3h-3zM324 282h3v3h-3zM309 279h3v3h-3zM252 189h3v3h-3zM303 267h3v3h-3zM306 273h3v3h-3zM288 216h3v3h-3zM288 231h3v3h-3zM273 213h3v3h-3zM273 219h3v3h-3zM252 177h3v3h-3zM249 192h3v3h-3zM282 237h3v3h-3zM324 273h3v3h-3zM321 288h3v3h-3zM315 288h3v3h-3zM288 225h3v3h-3zM282 207h3v3h-3zM312 243h3v3h-3z" fill="#56a1b3"/><path d="M204 141h3v3h-3zM210 171h3v3h-3zM198 114h3v3h-3zM213 135h3v3h-3zM222 99h3v3h-3zM213 156h3v3h-3zM210 99h3v3h-3zM207 135h3v3h-3zM222 147h3v3h-3zM210 156h3v3h-3zM201 150h3v3h-3zM207 135h3v3h-3zM216 135h3v3h-3zM204 159h3v3h-3zM207 129h3v3h-3zM201 153h3v3h-3zM210 126h3v3h-3zM207 114h3v3h-3zM210 168h3v3h-3zM216 114h3v3h-3zM201 117h3v3h-3zM219 126h3v3h-3zM219 138h3v3h-3zM216 162h3v3h-3zM210 144h3v3h-3zM201 117h3v3h-3zM198 102h3v3h-3zM222 144h3v3h-3zM216 159h3v3h-3zM219 165h3v3h-3zM210 120h3v3h-3zM207 171h3v3h-3zM225 138h3v3h-3zM210 162h3v3h-3zM213 114h3v3h-3zM213 102h3v3h-3zM207 114h3v3h-3zM201 120h3v3h-3zM207 156h3v3h-3zM222 156h3v3h-3zM213 141h3v3h-3zM207 114h3v3h-3zM198 111h3v3h-3zM216 117h3v3h-3zM198 111h3v3h-3zM210 132h3v3h-3zM213 147h3v3h-3zM225 135h3v3h-3zM198 114h3v3h-3zM159 207h3v3h-3zM150 216h3v3h-3zM159 207h3v3h-3zM153 204h3v3h-3zM165 198h3v3h-3zM150 204h3v3h-3zM159 207h3v3h-3zM147 219h3v3h-3zM150 204h3v3h-3zM150 231h3v3h-3zM147 204h3v3h-3zM156 228h3v3h-3zM159 204h3v3h-3zM159 213h3v3h-3zM153 222h3v3h-3zM153 210h3v3h-3zM153 228h3v3h-3zM153 210h3v3h-3zM162 225h3v3h-3zM159 228h3v3h-3zM162 228h3v3h-3zM282 234h3v3h-3zM249 192h3v3h-3zM291 252h3v3h-3zM291 243h3v3h-3zM291 219h3v3h-3zM327 291h3v3h-3zM261 207h3v3h-3zM279 234h3v3h-3zM270 198h3v3h-3zM318 276h3v3h-3zM264 207h3v3h-3zM291 246h3v3h-3zM264 204h3v3h-3zM300 255h3v3h-3zM285 231h3v3h-3zM312 258h3v3h-3zM273 222h3v3h-3zM294 246h3v3h-3zM240 189h3v3h-3zM324 288h3v3h-3zM300 234h3v3h-3zM252 192h3v3h-3zM255 189h3v3h-3z" fill="#2b83ba"/><path d="M204 123h3v3h-3zM222 162h3v3h-3zM222 102h3v3h-3zM219 96h3v3h-3zM204 144h3v3h-3zM225 105h3v3h-3zM213 126h3v3h-3zM216 171h3v3h-3zM216 171h3v3h-3zM204 141h3v3h-3zM222 168h3v3h-3zM222 129h3v3h-3zM201 153h3v3h-3zM222 156h3v3h-3zM216 153h3v3h-3zM225 132h3v3h-3zM210 162h3v3h-3zM201 129h3v3h-3zM213 165h3v3h-3zM222 126h3v3h-3zM204 144h3v3h-3zM219 144h3v3h-3zM225 129h3v3h-3zM210 132h3v3h-3zM207 150h3v3h-3zM213 162h3v3h-3zM213 96h3v3h-3zM225 153h3v3h-3zM222 141h3v3h-3zM201 111h3v3h-3zM210 126h3v3h-3zM207 120h3v3h-3zM222 105h3v3h-3zM195 105h3v3h-3zM219 99h3v3h-3zM228 123h3v3h-3zM204 150h3v3h-3zM213 123h3v3h-3zM210 129h3v3h-3zM204 126h3v3h-3zM210 141h3v3h-3zM207 108h3v3h-3zM222 102h3v3h-3zM228 111h3v3h-3zM210 108h3v3h-3zM195 102h3v3h-3zM150 204h3v3h-3zM162 210h3v3h-3zM153 216h3v3h-3zM171 228h3v3h-3zM150 210h3v3h-3zM171 228h3v3h-3zM162 228h3v3h-3zM147 210h3v3h-3zM171 225h3v3h-3zM162 204h3v3h-3zM150 213h3v3h-3zM165 222h3v3h-3zM153 210h3v3h-3zM165 225h3v3h-3zM171 213h3v3h-3zM159 222h3v3h-3zM147 207h3v3h-3zM144 210h3v3h-3zM156 231h3v3h-3zM156 201h3v3h-3zM162 204h3v3h-3zM168 228h3v3h-3zM171 228h3v3h-3zM168 228h3v3h-3zM165 222h3v3h-3zM162 219h3v3h-3zM165 198h3v3h-3zM147 213h3v3h-3zM165 228h3v3h-3zM258 201h3v3h-3zM318 279h3v3h-3zM285 237h3v3h-3zM315 264h3v3h-3zM255 183h3v3h-3zM276 207h3v3h-3zM318 255h3v3h-3zM315 261h3v3h-3zM306 240h3v3h-3zM267 210h3v3h-3zM282 225h3v3h-3zM297 228h3v3h-3zM315 258h3v3h-3zM324 267h3v3h-3zM267 210h3v3h-3zM318 258h3v3h-3zM288 216h3v3h-3zM315 279h3v3h-3zM252 183h3v3h-3zM309 252h3v3h-3zM267 201h3v3h-3zM303 249h3v3h-3zM300 264h3v3h-3zM291 222h3v3h-3z" fill="#80bfab"/><path d="M201 120h3v3h-3zM213 120h3v3h-3zM222 99h3v3h-3zM213 126h3v3h-3zM216 120h3v3h-3zM216 120h3v3h-3zM204 147h3v3h-3zM207 150h3v3h-3zM207 141h3v3h-3zM198 102h3v3h-3zM195 123h3v3h-3zM207 111h3v3h-3zM222 105h3v3h-3zM162 216h3v3h-3zM156 228h3v3h-3zM153 207h3v3h-3zM147 207h3v3h-3zM159 213h3v3h-3zM168 204h3v3h-3zM276 216h3v3h-3zM303 264h3v3h-3zM309 249h3v3h-3zM240 180h3v3h-3zM252 192h3v3h-3zM243 180h3v3h-3zM252 180h3v3h-3zM240 183h3v3h-3z" fill="#abdda4"/><path d="M213 159h3v3h-3zM204 105h3v3h-3zM219 108h3v3h-3zM204 105h3v3h-3zM219 141h3v3h-3zM213 105h3v3h-3zM204 150h3v3h-3zM225 117h3v3h-3zM198 105h3v3h-3zM159 231h3v3h-3zM147 222h3v3h-3zM147 231h3v3h-3zM255 195h3v3h-3zM237 177h3v3h-3zM282 222h3v3h-3zM300 243h3v3h-3zM318 285h3v3h-3zM255 183h3v3h-3z" fill="#2b83ba"/><path d="M204 132h3v3h-3z" fill="#c7e8ad"/><path d="M225 105h3v3h-3zM147 219h3v3h-3zM309 240h3v3h-3zM285 228h3v3h-3z" fill="#2b83ba"/>
<rect x="390" y="0" width="160" height="256.3" fill="#fff" stroke="#000" stroke-width="2"/>
<text x="398.2" y="31.5" font-size="26.5" font-family='"Liberation Sans", sans-serif'>Abs. err. [m]</text>
<rect x="405.3" y="59.4" width="48.4" height="182.1" fill="url(#gSpec)"/>
<text x="464.3" y="77.7" font-size="26.3" font-family='"Liberation Sans", sans-serif'>-2.5</text>
<text x="464.3" y="118.5" font-size="26.3" font-family='"Liberation Sans", sans-serif'>-1.625</text>
<text x="464.3" y="159.2" font-size="26.3" font-family='"Liberation Sans", sans-serif'>-0.75</text>
<text x="464.3" y="199.9" font-size="26.3" font-family='"Liberation Sans", sans-serif'>0.125</text>
<text x="464.3" y="240.7" font-size="26.3" font-family='"Liberation Sans", sans-serif'>1.0</text>
<rect x="0" y="499.5" width="329.7" height="50" fill="#fff"/>
<path d="M11.7 543.2 H272.9" stroke="#000" stroke-width="3"/>
<path d="M13.2 533.7 V544.7" stroke="#000" stroke-width="3"/>
<path d="M77.8 533.7 V544.7" stroke="#000" stroke-width="3"/>
<path d="M142.3 533.7 V544.7" stroke="#000" stroke-width="3"/>
<path d="M206.8 533.7 V544.7" stroke="#000" stroke-width="3"/>
<path d="M271.4 533.7 V544.7" stroke="#000" stroke-width="3"/>
<text x="13.2" y="523.2" font-size="26.5" text-anchor="middle" font-family='"Liberation Sans", sans-serif'>0</text>
<text x="77.8" y="523.2" font-size="26.5" text-anchor="middle" font-family='"Liberation Sans", sans-serif'>2.5</text>
<text x="142.3" y="523.2" font-size="26.5" text-anchor="middle" font-family='"Liberation Sans", sans-serif'>5</text>
<text x="206.8" y="523.2" font-size="26.5" text-anchor="middle" font-family='"Liberation Sans", sans-serif'>7.5</text>
<text x="256.7" y="523.2" font-size="26.5" font-family='"Liberation Sans", sans-serif'>10 km</text>
<rect x="495.1" y="495.7" width="49.8" height="55" fill="#fff"/>
<path d="M519.7 495.9 L506.7 532.2 L519.7 520.3 Z" fill="#fff" stroke="#000" stroke-width="1.2" stroke-linejoin="miter"/>
<path d="M519.7 495.9 L532.7 532.2 L519.7 520.3 Z" fill="#000" stroke="#000" stroke-width="1"/>
<text x="519.8" y="543.9" font-size="13.5" text-anchor="middle" font-family='"Liberation Sans", sans-serif'>N</text>
</g>
<rect x="0" y="0" width="548" height="548" fill="none" stroke="#000" stroke-width="2"/>
</g>
<g transform="translate(15,1211)">
<g clip-path="url(#cpPanel)">
<use href="#basemap"/>
<g clip-path="url(#cpFoot)"><g filter="url(#fE)"><rect x="0" y="0" width="548" height="548" fill="#999999"/><path d="M276.7 169.5 L383.9 249.9" fill="none" stroke="#adadad" stroke-width="14" stroke-linecap="round" filter="url(#blur12)"/><path d="M223.0 285.7 L357.1 401.9" fill="none" stroke="#adadad" stroke-width="14" stroke-linecap="round" filter="url(#blur12)"/><path d="M312.4 312.5 L446.5 424.3" fill="none" stroke="#adadad" stroke-width="12" stroke-linecap="round" filter="url(#blur12)"/><path d="M44.2 133.7 L133.6 200.8" fill="none" stroke="#ababab" stroke-width="14" stroke-linecap="round" filter="url(#blur12)"/><path d="M312.4 401.9 L446.5 491.3" fill="none" stroke="#adadad" stroke-width="12" stroke-linecap="round" filter="url(#blur12)"/><ellipse cx="133.6" cy="129.2" rx="8.940545373267769" ry="3.5762181493071075" transform="rotate(0 133.6 129.2)" fill="#737373" filter="url(#blur6)"/><ellipse cx="312.4" cy="115.8" rx="11.17568171658471" ry="3.5762181493071075" transform="rotate(0 312.4 115.8)" fill="#7a7a7a" filter="url(#blur6)"/><ellipse cx="397.4" cy="366.2" rx="8.940545373267769" ry="3.5762181493071075" transform="rotate(0 397.4 366.2)" fill="#6b6b6b" filter="url(#blur6)"/><ellipse cx="424.2" cy="393.0" rx="8.940545373267769" ry="3.5762181493071075" transform="rotate(0 424.2 393.0)" fill="#6b6b6b" filter="url(#blur6)"/><ellipse cx="348.2" cy="498.0" rx="6.705409029950827" ry="2.6821636119803305" transform="rotate(0 348.2 498.0)" fill="#666666" filter="url(#blur3)"/><ellipse cx="410.8" cy="339.3" rx="4.470272686633884" ry="1.7881090746535537" transform="rotate(0 410.8 339.3)" fill="#d9d9d9" filter="url(#blur2)"/><ellipse cx="442.1" cy="375.1" rx="4.470272686633884" ry="1.7881090746535537" transform="rotate(0 442.1 375.1)" fill="#d9d9d9" filter="url(#blur2)"/><ellipse cx="482.3" cy="464.5" rx="6.705409029950827" ry="2.235136343316942" transform="rotate(0 482.3 464.5)" fill="#d9d9d9" filter="url(#blur2)"/><ellipse cx="12.9" cy="245.5" rx="8.940545373267769" ry="4.470272686633884" transform="rotate(0 12.9 245.5)" fill="#787878" filter="url(#blur6)"/></g></g>
<path d="M213 135h3v3h-3z" fill="#80bfab"/><path d="M219 132h3v3h-3zM213 165h3v3h-3zM225 117h3v3h-3zM210 135h3v3h-3zM222 105h3v3h-3zM198 105h3v3h-3zM213 123h3v3h-3zM204 120h3v3h-3zM219 135h3v3h-3zM219 102h3v3h-3zM225 159h3v3h-3zM210 126h3v3h-3zM219 144h3v3h-3zM219 108h3v3h-3zM210 126h3v3h-3zM210 132h3v3h-3zM207 135h3v3h-3zM216 117h3v3h-3zM201 123h3v3h-3zM201 144h3v3h-3zM168 210h3v3h-3zM162 216h3v3h-3zM159 207h3v3h-3zM147 219h3v3h-3zM150 198h3v3h-3zM276 216h3v3h-3zM270 216h3v3h-3zM312 267h3v3h-3zM303 240h3v3h-3zM300 258h3v3h-3zM294 243h3v3h-3zM294 255h3v3h-3zM318 279h3v3h-3zM273 204h3v3h-3zM306 243h3v3h-3z" fill="#c7e8ad"/><path d="M213 129h3v3h-3zM219 156h3v3h-3zM213 153h3v3h-3zM213 162h3v3h-3zM216 120h3v3h-3zM216 153h3v3h-3zM222 156h3v3h-3zM216 138h3v3h-3zM225 153h3v3h-3zM225 117h3v3h-3zM222 108h3v3h-3zM222 123h3v3h-3zM210 159h3v3h-3zM207 126h3v3h-3zM213 129h3v3h-3zM201 120h3v3h-3zM213 99h3v3h-3zM219 99h3v3h-3zM213 168h3v3h-3zM204 150h3v3h-3zM207 96h3v3h-3zM207 159h3v3h-3zM213 144h3v3h-3zM219 96h3v3h-3zM225 114h3v3h-3zM210 165h3v3h-3zM225 141h3v3h-3zM204 126h3v3h-3zM162 228h3v3h-3zM150 207h3v3h-3zM156 231h3v3h-3zM144 207h3v3h-3zM171 204h3v3h-3zM150 210h3v3h-3zM162 228h3v3h-3zM150 222h3v3h-3zM162 210h3v3h-3zM168 228h3v3h-3zM153 225h3v3h-3zM162 198h3v3h-3zM156 222h3v3h-3zM147 225h3v3h-3zM159 210h3v3h-3zM165 225h3v3h-3zM150 228h3v3h-3zM147 198h3v3h-3zM147 216h3v3h-3zM261 186h3v3h-3zM291 255h3v3h-3zM327 279h3v3h-3zM285 231h3v3h-3zM273 222h3v3h-3zM318 261h3v3h-3zM285 231h3v3h-3zM312 261h3v3h-3zM246 180h3v3h-3zM276 222h3v3h-3zM324 291h3v3h-3zM264 198h3v3h-3z" fill="#e3f4b6"/><path d="M222 147h3v3h-3zM210 165h3v3h-3zM222 141h3v3h-3zM225 144h3v3h-3zM219 141h3v3h-3zM201 117h3v3h-3zM162 225h3v3h-3zM171 204h3v3h-3zM282 234h3v3h-3zM315 255h3v3h-3zM276 225h3v3h-3z" fill="#abdda4"/><path d="M204 138h3v3h-3zM210 162h3v3h-3zM225 120h3v3h-3zM219 150h3v3h-3zM222 135h3v3h-3zM216 108h3v3h-3zM222 129h3v3h-3zM216 138h3v3h-3zM216 123h3v3h-3zM210 102h3v3h-3zM225 144h3v3h-3zM216 132h3v3h-3zM201 129h3v3h-3zM222 153h3v3h-3zM210 150h3v3h-3zM198 120h3v3h-3zM216 129h3v3h-3zM207 114h3v3h-3zM213 108h3v3h-3zM147 216h3v3h-3zM156 201h3v3h-3zM165 216h3v3h-3zM168 213h3v3h-3zM150 210h3v3h-3zM162 219h3v3h-3zM171 225h3v3h-3zM243 183h3v3h-3zM282 213h3v3h-3zM240 177h3v3h-3zM318 261h3v3h-3zM240 177h3v3h-3zM315 252h3v3h-3zM303 270h3v3h-3zM297 258h3v3h-3zM315 282h3v3h-3zM276 213h3v3h-3zM324 273h3v3h-3z" fill="#ffffbf"/><path d="M195 102h3v3h-3zM201 108h3v3h-3zM222 102h3v3h-3zM219 96h3v3h-3zM153 219h3v3h-3zM168 228h3v3h-3zM156 213h3v3h-3zM159 204h3v3h-3zM168 207h3v3h-3zM261 195h3v3h-3z" fill="#fee4a0"/>
<rect x="390" y="0" width="160" height="256.3" fill="#fff" stroke="#000" stroke-width="2"/>
<text x="398.2" y="31.5" font-size="26.5" font-family='"Liberation Sans", sans-serif'>Abs. err. [m]</text>
<rect x="405.3" y="59.4" width="48.4" height="182.1" fill="url(#gSpec)"/>
<text x="464.3" y="77.7" font-size="26.3" font-family='"Liberation Sans", sans-serif'>-1.8</text>
<text x="464.3" y="118.5" font-size="26.3" font-family='"Liberation Sans", sans-serif'>-1.05</text>
<text x="464.3" y="159.2" font-size="26.3" font-family='"Liberation Sans", sans-serif'>-0.3</text>
<text x="464.3" y="199.9" font-size="26.3" font-family='"Liberation Sans", sans-serif'>0.45</text>
<text x="464.3" y="240.7" font-size="26.3" font-family='"Liberation Sans", sans-serif'>1.2</text>
<rect x="0" y="499.5" width="329.7" height="50" fill="#fff"/>
<path d="M11.7 543.2 H272.9" stroke="#000" stroke-width="3"/>
<path d="M13.2 533.7 V544.7" stroke="#000" stroke-width="3"/>
<path d="M77.8 533.7 V544.7" stroke="#000" stroke-width="3"/>
<path d="M142.3 533.7 V544.7" stroke="#000" stroke-width="3"/>
<path d="M206.8 533.7 V544.7" stroke="#000" stroke-width="3"/>
<path d="M271.4 533.7 V544.7" stroke="#000" stroke-width="3"/>
<text x="13.2" y="523.2" font-size="26.5" text-anchor="middle" font-family='"Liberation Sans", sans-serif'>0</text>
<text x="77.8" y="523.2" font-size="26.5" text-anchor="middle" font-family='"Liberation Sans", sans-serif'>2.5</text>
<text x="142.3" y="523.2" font-size="26.5" text-anchor="middle" font-family='"Liberation Sans", sans-serif'>5</text>
<text x="206.8" y="523.2" font-size="26.5" text-anchor="middle" font-family='"Liberation Sans", sans-serif'>7.5</text>
<text x="256.7" y="523.2" font-size="26.5" font-family='"Liberation Sans", sans-serif'>10 km</text>
<rect x="495.1" y="495.7" width="49.8" height="55" fill="#fff"/>
<path d="M519.7 495.9 L506.7 532.2 L519.7 520.3 Z" fill="#fff" stroke="#000" stroke-width="1.2" stroke-linejoin="miter"/>
<path d="M519.7 495.9 L532.7 532.2 L519.7 520.3 Z" fill="#000" stroke="#000" stroke-width="1"/>
<text x="519.8" y="543.9" font-size="13.5" text-anchor="middle" font-family='"Liberation Sans", sans-serif'>N</text>
</g>
<rect x="0" y="0" width="548" height="548" fill="none" stroke="#000" stroke-width="2"/>
</g>
<g transform="translate(14,1816)">
<g clip-path="url(#cpPanel)">
<use href="#basemap"/>
<g clip-path="url(#cpFoot)"><g filter="url(#fG)"><rect x="0" y="0" width="548" height="548" fill="#4c4c4c"/><path d="M84.4 71.1 L106.8 75.6 L106.8 102.4 L84.4 102.4 Z" fill="#141414" filter="url(#blur6)"/><path d="M66.6 138.2 L115.7 133.7" fill="none" stroke="#b8b8b8" stroke-width="10" stroke-linecap="round" filter="url(#blur6)"/><path d="M-0.5 220.9 L53.1 214.2" fill="none" stroke="#d1d1d1" stroke-width="10" stroke-linecap="round" filter="url(#blur6)"/><path d="M4.0 232.1 L44.2 241.0 L44.2 267.8 L4.0 263.3 Z" fill="#1a1a1a" filter="url(#blur6)"/><path d="M17.4 178.4 L88.9 173.9" fill="none" stroke="#a8a8a8" stroke-width="10" stroke-linecap="round" filter="url(#blur6)"/><path d="M80.0 142.6 L124.7 147.1 L124.7 169.5 L80.0 165.0 Z" fill="#242424" filter="url(#blur6)"/><path d="M8.4 147.1 L53.1 156.1" fill="none" stroke="#9e9e9e" stroke-width="8" stroke-linecap="round" filter="url(#blur6)"/><path d="M276.7 75.6 L312.4 75.6 L312.4 111.4 L276.7 111.4 Z" fill="#8c8c8c" filter="url(#blur10)"/><path d="M215.8 230.1 L261.4 255.8" fill="none" stroke="#9e9e9e" stroke-width="12" stroke-linecap="round" filter="url(#blur4)"/><path d="M284.3 321.4 L304.3 344.3" fill="none" stroke="#9e9e9e" stroke-width="14" stroke-linecap="round" filter="url(#blur4)"/><path d="M327.1 204.4 L381.3 220.1" fill="none" stroke="#adadad" stroke-width="12" stroke-linecap="round" filter="url(#blur4)"/><path d="M341.4 235.8 L409.9 275.8" fill="none" stroke="#b2b2b2" stroke-width="14" stroke-linecap="round" filter="url(#blur4)"/><path d="M347.1 244.3 L364.2 248.6" fill="none" stroke="#e6e6e6" stroke-width="6" stroke-linecap="round" filter="url(#blur2)"/><path d="M392.8 295.7 L427.0 315.7" fill="none" stroke="#c7c7c7" stroke-width="12" stroke-linecap="round" filter="url(#blur4)"/><path d="M409.9 332.8 L427.0 335.7" fill="none" stroke="#f2f2f2" stroke-width="8" stroke-linecap="round" filter="url(#blur2)"/><path d="M427.0 371.4 L455.6 374.2" fill="none" stroke="#f2f2f2" stroke-width="10" stroke-linecap="round" filter="url(#blur2)"/><path d="M301.4 392.8 L364.2 412.8" fill="none" stroke="#c2c2c2" stroke-width="14" stroke-linecap="round" filter="url(#blur4)"/><path d="M330.0 411.3 L361.4 414.2" fill="none" stroke="#f2f2f2" stroke-width="7" stroke-linecap="round" filter="url(#blur2)"/><path d="M261.4 381.4 L295.7 387.1" fill="none" stroke="#adadad" stroke-width="10" stroke-linecap="round" filter="url(#blur4)"/><path d="M290.0 344.3 L335.7 361.4" fill="none" stroke="#8c8c8c" stroke-width="16" stroke-linecap="round" filter="url(#blur6)"/><path d="M427.0 421.3 L489.8 429.9" fill="none" stroke="#adadad" stroke-width="14" stroke-linecap="round" filter="url(#blur4)"/><path d="M375.6 435.6 L504.1 441.3 L504.1 478.4 L375.6 478.4 Z" fill="#b8b8b8" filter="url(#blur8)"/><path d="M444.1 449.9 L504.1 449.9 L501.2 478.4 L444.1 478.4 Z" fill="#f5f5f5" filter="url(#blur3)"/><path d="M398.5 462.7 L432.7 462.7 L432.7 478.4 L398.5 478.4 Z" fill="#ededed" filter="url(#blur3)"/><path d="M421.3 438.5 L449.9 438.5 L449.9 455.6 L421.3 455.6 Z" fill="#e6e6e6" filter="url(#blur3)"/><path d="M324.2 481.3 L364.2 481.3" fill="none" stroke="#ebebeb" stroke-width="10" stroke-linecap="round" filter="url(#blur2)"/><path d="M232.9 250.1 L258.6 301.4" fill="none" stroke="#141414" stroke-width="18" stroke-linecap="round" filter="url(#blur4)"/><path d="M312.8 210.1 L335.7 224.4" fill="none" stroke="#1a1a1a" stroke-width="12" stroke-linecap="round" filter="url(#blur4)"/><path d="M330.0 264.3 L361.4 275.8" fill="none" stroke="#1a1a1a" stroke-width="12" stroke-linecap="round" filter="url(#blur4)"/><path d="M358.5 295.7 L392.8 301.4" fill="none" stroke="#1a1a1a" stroke-width="10" stroke-linecap="round" filter="url(#blur4)"/><path d="M369.9 335.7 L392.8 341.4" fill="none" stroke="#1a1a1a" stroke-width="10" stroke-linecap="round" filter="url(#blur4)"/><path d="M387.0 384.2 L461.3 407.1" fill="none" stroke="#1a1a1a" stroke-width="20" stroke-linecap="round" filter="url(#blur4)"/><path d="M255.7 407.1 L301.4 427.0" fill="none" stroke="#1f1f1f" stroke-width="16" stroke-linecap="round" filter="url(#blur4)"/><path d="M335.7 498.4 L404.2 521.3" fill="none" stroke="#1f1f1f" stroke-width="20" stroke-linecap="round" filter="url(#blur4)"/><path d="M244.3 347.1 L267.2 358.5" fill="none" stroke="#1f1f1f" stroke-width="10" stroke-linecap="round" filter="url(#blur4)"/><path d="M270.0 227.2 L295.7 255.8" fill="none" stroke="#737373" stroke-width="10" stroke-linecap="round" filter="url(#blur6)"/></g></g>
<path d="M201 135h3v3h-3zM213 108h3v3h-3zM207 171h3v3h-3zM210 129h3v3h-3zM213 141h3v3h-3zM222 129h3v3h-3zM213 111h3v3h-3zM225 135h3v3h-3zM207 105h3v3h-3zM219 114h3v3h-3zM207 102h3v3h-3zM201 120h3v3h-3zM219 105h3v3h-3zM219 147h3v3h-3zM225 126h3v3h-3zM207 117h3v3h-3zM198 123h3v3h-3zM204 108h3v3h-3zM204 102h3v3h-3zM216 156h3v3h-3zM201 114h3v3h-3zM216 129h3v3h-3zM198 105h3v3h-3zM219 144h3v3h-3zM219 96h3v3h-3zM204 105h3v3h-3zM210 168h3v3h-3zM201 153h3v3h-3zM204 138h3v3h-3zM201 150h3v3h-3zM219 162h3v3h-3zM213 117h3v3h-3zM201 117h3v3h-3zM216 147h3v3h-3zM222 102h3v3h-3zM204 150h3v3h-3zM225 99h3v3h-3zM213 153h3v3h-3zM213 138h3v3h-3zM168 216h3v3h-3zM168 222h3v3h-3zM147 222h3v3h-3zM156 201h3v3h-3zM168 222h3v3h-3zM168 222h3v3h-3zM162 216h3v3h-3zM168 216h3v3h-3zM171 228h3v3h-3zM153 213h3v3h-3zM153 210h3v3h-3zM162 210h3v3h-3zM171 201h3v3h-3zM168 219h3v3h-3zM147 213h3v3h-3zM159 210h3v3h-3zM150 210h3v3h-3zM165 204h3v3h-3zM171 228h3v3h-3zM165 213h3v3h-3zM147 225h3v3h-3zM162 222h3v3h-3zM171 216h3v3h-3zM255 198h3v3h-3zM306 267h3v3h-3zM330 288h3v3h-3zM306 270h3v3h-3zM291 249h3v3h-3zM318 261h3v3h-3zM282 213h3v3h-3zM312 279h3v3h-3zM243 180h3v3h-3zM276 222h3v3h-3zM267 198h3v3h-3zM306 249h3v3h-3zM303 270h3v3h-3zM303 264h3v3h-3zM294 231h3v3h-3zM315 252h3v3h-3zM261 186h3v3h-3zM297 246h3v3h-3z" fill="#fdae61"/><path d="M216 111h3v3h-3zM207 117h3v3h-3zM228 111h3v3h-3zM228 117h3v3h-3zM222 141h3v3h-3zM198 108h3v3h-3zM210 117h3v3h-3zM222 120h3v3h-3zM210 165h3v3h-3zM201 126h3v3h-3zM210 135h3v3h-3zM210 171h3v3h-3zM225 123h3v3h-3zM219 165h3v3h-3zM222 105h3v3h-3zM213 114h3v3h-3zM198 111h3v3h-3zM201 135h3v3h-3zM210 156h3v3h-3zM207 159h3v3h-3zM210 111h3v3h-3zM222 168h3v3h-3zM210 105h3v3h-3zM225 114h3v3h-3zM216 126h3v3h-3zM207 129h3v3h-3zM198 123h3v3h-3zM156 207h3v3h-3zM156 228h3v3h-3zM159 210h3v3h-3zM159 201h3v3h-3zM165 213h3v3h-3zM153 198h3v3h-3zM147 201h3v3h-3zM165 216h3v3h-3zM159 210h3v3h-3zM147 213h3v3h-3zM162 225h3v3h-3zM171 219h3v3h-3zM165 225h3v3h-3zM150 210h3v3h-3zM294 225h3v3h-3zM330 285h3v3h-3zM300 258h3v3h-3zM240 192h3v3h-3zM318 273h3v3h-3zM285 225h3v3h-3zM294 258h3v3h-3zM297 258h3v3h-3zM285 210h3v3h-3zM309 252h3v3h-3z" fill="#fec980"/><path d="M204 108h3v3h-3zM204 156h3v3h-3zM225 108h3v3h-3zM207 150h3v3h-3zM225 111h3v3h-3zM210 120h3v3h-3zM213 138h3v3h-3zM219 117h3v3h-3zM219 99h3v3h-3zM222 129h3v3h-3zM228 126h3v3h-3zM204 108h3v3h-3zM213 114h3v3h-3zM222 120h3v3h-3zM213 156h3v3h-3zM201 129h3v3h-3zM219 138h3v3h-3zM222 168h3v3h-3zM162 222h3v3h-3zM165 207h3v3h-3zM165 219h3v3h-3zM150 198h3v3h-3zM312 264h3v3h-3zM258 189h3v3h-3zM282 231h3v3h-3zM318 282h3v3h-3zM321 270h3v3h-3zM258 183h3v3h-3zM312 246h3v3h-3zM270 219h3v3h-3zM276 204h3v3h-3z" fill="#f07c4a"/><path d="M204 168h3v3h-3zM219 132h3v3h-3z" fill="#ffffbf"/><path d="M216 159h3v3h-3zM228 105h3v3h-3zM222 111h3v3h-3zM147 216h3v3h-3zM267 201h3v3h-3z" fill="#e44b33"/><path d="M219 144h3v3h-3zM219 150h3v3h-3zM210 135h3v3h-3zM222 114h3v3h-3zM204 153h3v3h-3zM156 222h3v3h-3zM162 228h3v3h-3zM153 207h3v3h-3zM147 222h3v3h-3zM150 225h3v3h-3zM153 228h3v3h-3zM309 243h3v3h-3zM321 282h3v3h-3zM267 210h3v3h-3z" fill="#fee4a0"/>
<rect x="390" y="0" width="160" height="256.3" fill="#fff" stroke="#000" stroke-width="2"/>
<text x="398.2" y="31.5" font-size="26.5" font-family='"Liberation Sans", sans-serif'>Abs. err. [m]</text>
<rect x="405.3" y="59.4" width="48.4" height="182.1" fill="url(#gSpec)"/>
<text x="464.3" y="77.7" font-size="26.3" font-family='"Liberation Sans", sans-serif'>-0.05</text>
<text x="464.3" y="118.5" font-size="26.3" font-family='"Liberation Sans", sans-serif'>0.025</text>
<text x="464.3" y="159.2" font-size="26.3" font-family='"Liberation Sans", sans-serif'>0.1</text>
<text x="464.3" y="199.9" font-size="26.3" font-family='"Liberation Sans", sans-serif'>0.175</text>
<text x="464.3" y="240.7" font-size="26.3" font-family='"Liberation Sans", sans-serif'>0.25</text>
<rect x="0" y="499.5" width="329.7" height="50" fill="#fff"/>
<path d="M11.7 543.2 H272.9" stroke="#000" stroke-width="3"/>
<path d="M13.2 533.7 V544.7" stroke="#000" stroke-width="3"/>
<path d="M77.8 533.7 V544.7" stroke="#000" stroke-width="3"/>
<path d="M142.3 533.7 V544.7" stroke="#000" stroke-width="3"/>
<path d="M206.8 533.7 V544.7" stroke="#000" stroke-width="3"/>
<path d="M271.4 533.7 V544.7" stroke="#000" stroke-width="3"/>
<text x="13.2" y="523.2" font-size="26.5" text-anchor="middle" font-family='"Liberation Sans", sans-serif'>0</text>
<text x="77.8" y="523.2" font-size="26.5" text-anchor="middle" font-family='"Liberation Sans", sans-serif'>2.5</text>
<text x="142.3" y="523.2" font-size="26.5" text-anchor="middle" font-family='"Liberation Sans", sans-serif'>5</text>
<text x="206.8" y="523.2" font-size="26.5" text-anchor="middle" font-family='"Liberation Sans", sans-serif'>7.5</text>
<text x="256.7" y="523.2" font-size="26.5" font-family='"Liberation Sans", sans-serif'>10 km</text>
<rect x="495.1" y="495.7" width="49.8" height="55" fill="#fff"/>
<path d="M519.7 495.9 L506.7 532.2 L519.7 520.3 Z" fill="#fff" stroke="#000" stroke-width="1.2" stroke-linejoin="miter"/>
<path d="M519.7 495.9 L532.7 532.2 L519.7 520.3 Z" fill="#000" stroke="#000" stroke-width="1"/>
<text x="519.8" y="543.9" font-size="13.5" text-anchor="middle" font-family='"Liberation Sans", sans-serif'>N</text>
</g>
<rect x="0" y="0" width="548" height="548" fill="none" stroke="#000" stroke-width="2"/>
</g>
<text transform="translate(27.1,56.5) scale(1.083,1)" x="0.4" y="0" font-size="45.1" font-weight="bold" stroke="#000" stroke-width="3.0" stroke-linejoin="miter" fill="#000">A</text>
<text transform="translate(29.2,661.8) scale(1.014,1)" x="-0.4" y="0" font-size="45.2" font-weight="bold" stroke="#000" stroke-width="3.0" stroke-linejoin="miter" fill="#000">C</text>
<text transform="translate(30.2,1267.3) scale(1.028,1)" x="-1.4" y="0" font-size="43.9" font-weight="bold" stroke="#000" stroke-width="3.0" stroke-linejoin="miter" fill="#000">E</text>
<text transform="translate(29.2,1873.1) scale(1.024,1)" x="-0.4" y="0" font-size="45.6" font-weight="bold" stroke="#000" stroke-width="3.0" stroke-linejoin="miter" fill="#000">G</text>
<text transform="translate(633.0,57.0) scale(1.053,1)" x="-1.5" y="0" font-size="44.9" font-weight="bold" stroke="#000" stroke-width="3.0" stroke-linejoin="miter" fill="#000">B</text>
<text transform="translate(633.0,662.5) scale(1.035,1)" x="-1.5" y="0" font-size="45.1" font-weight="bold" stroke="#000" stroke-width="3.0" stroke-linejoin="miter" fill="#000">D</text>
<text transform="translate(646.3,1267.9) scale(0.998,1)" x="-1.5" y="0" font-size="45.1" font-weight="bold" stroke="#000" stroke-width="3.0" stroke-linejoin="miter" fill="#000">F</text>
<text transform="translate(635.1,1873.5) scale(1.135,1)" x="-1.1" y="0" font-size="38.8" font-weight="bold" stroke="#000" stroke-width="3.0" stroke-linejoin="miter" fill="#000">H</text>
<path d="M758 379v2m0 5v2m31-12v2" stroke="#0000ff" stroke-width="2" opacity="0.75"/><path d="M742 381v2m1-18v2m9-5v2m2 25v2m24-25v2m0 12v2" stroke="#0000ff" stroke-width="2" opacity="0.75"/><path d="M748 375v2m1-10v2m20-8v2m2 1v2m2-6v2m3-4v2m1 19v2m3-11v2m1 3v2m1-11v2m4 10v2m11-6v2" stroke="#0000ff" stroke-width="2" opacity="0.75"/><path d="M738 373v2m2-8v2m10 7v2m2-10v2m3 2v2m4-14v2m11-20v2m0 28v2m3-15v2m0 6v2m1-3v2m2-15v2m2 22v2m7-10v2m3-6v2m5-7v2m2 7v2m2-3v2m3 4v2m7-15v2m2 11v2m4 1v2" stroke="#0016eb" stroke-width="2" opacity="0.75"/><path d="M755 368v2m7-22v2m2 11v2m2-7v2m30 1v2m4-2v2m2-9v2m12 13v2m27 6v2" stroke="#0030d4" stroke-width="2" opacity="0.75"/><path d="M758 341v2m2 19v2m38-13v2m10 26v2m11-15v2m15-32v2" stroke="#004dae" stroke-width="2" opacity="0.75"/><path d="M817 356v2m9 5v2m5-8v2m0 11v2" stroke="#006b86" stroke-width="2" opacity="0.75"/><path d="M756 334v2m11 10v2m15-6v2m9 4v2m3 20v2m4 13v2m6-21v2m12-21v2m4 20v2m5-3v2m28-28v2m9 9v2" stroke="#00816f" stroke-width="2" opacity="0.75"/><path d="M785 353v2m10-24v2m2 34v2m3 12v2m5-42v2m2 12v2m0 18v2m1-28v2m8 9v2m4-17v2m6 9v2m11-5v2m2 10v2m5-43v2m1 18v2m14 8v2m3 20v2m11-3v2m34-36v2m3 24v2" stroke="#009759" stroke-width="2" opacity="0.75"/><path d="M761 317v2m5 69v2m2-46v2m0 11v2m5-24v2m2 10v2m2-16v2m3-5v2m6 36v2m4 6v2m2-20v2m1-31v2m1 10v2m1-14v2m0 31v2m6-31v2m5-3v2m0 1v2m2 4v2m0 5v2m0 1v2m1-46v2m0 46v2m0 7v2m1-6v2m2-4v2m3-3v2m5-8v2m1-22v2m0 0v2m0 6v2m1 8v2m1-1v2m1-3v2m6-32v2m2 8v2m0 9v2m4 26v2m2-49v2m1 25v2m1-5v2m2-11v2m3-16v2m1 36v2m1-15v2m0 16v2m1-40v2m2 19v2m2-21v2m0 9v2m0 1v2m3-16v2m2 37v2m2-21v2m6-14v2m9-5v2m1 27v2" stroke="#00ac44" stroke-width="2" opacity="0.75"/><path d="M758 345v2m7-36v2m1 24v2m3 35v2m3-20v2m1-6v2m3-7v2m1-21v2m2 11v2m1 11v2m1-13v2m0 27v2m5-17v2m0 3v2m2-15v2m9-42v2m0 31v2m0 5v2m3-20v2m3 19v2m2-29v2m1 32v2m1-14v2m1 7v2m1-15v2m0 28v2m5-28v2m1-13v2m0-2v2m0 17v2m3-17v2m0 15v2m1-14v2m0 1v2m1-20v2m0 4v2m0 27v2m1-16v2m0 15v2m1-17v2m1-31v2m1 20v2m2-12v2m1 24v2m1-42v2m2 24v2m0 3v2m1-20v2m1-2v2m1 30v2m4-27v2m1-2v2m0 0v2m2-2v2m2 5v2m1-24v2m0 11v2m1 3v2m1-11v2m5-18v2m0 18v2m0 13v2m3-12v2m3 35v2m4-52v2m0 23v2m1-49v2m0 24v2m2 3v2m2 9v2m0 16v2m2-49v2m1 9v2m0 1v2m0 2v2m0 19v2m0 1v2m5-35v2m7 15v2m2 1v2m7-13v2" stroke="#00c031" stroke-width="2" opacity="0.75"/><path d="M749 347v2m5-28v2m2 15v2m11-14v2m1 7v2m4 3v2m3 12v2m1-30v2m4 25v2m1-7v2m2-4v2m0-1v2m0 7v2m1-53v2m1 25v2m1 27v2m2-23v2m1-8v2m0 24v2m1-37v2m1 6v2m1 18v2m1-24v2m0 18v2m1 14v2m1-42v2m3 16v2m3-28v2m0 41v2m0 12v2m1-31v2m1-27v2m1-9v2m1 15v2m0 6v2m1 21v2m1-41v2m1 12v2m0 22v2m0 9v2m2-47v2m0 44v2m1-45v2m0 1v2m0 1v2m0 14v2m1-27v2m1-6v2m0 14v2m1-34v2m0 13v2m0 23v2m1 4v2m1-8v2m0 22v2m1-40v2m0 29v2m2-27v2m1-4v2m1-5v2m1-9v2m0 12v2m0 7v2m1-29v2m0 6v2m2-2v2m0 17v2m1-22v2m0 57v2m1-62v2m0 4v2m1 4v2m0 3v2m1-30v2m1 42v2m1-23v2m0-2v2m0 2v2m0-1v2m1-22v2m0 9v2m2-8v2m1-8v2m2 9v2m0 14v2m2-18v2m0 3v2m0 9v2m1-32v2m1-9v2m0 6v2m0 25v2m1-11v2m1-38v2m0 9v2m0 15v2m0 0v2m1 7v2m1-16v2m7-12v2m1 29v2m1-8v2m1-11v2m1-2v2m2-10v2m3-29v2m0 57v2m1-44v2m1-3v2m0 9v2m1 10v2m5-29v2m1 28v2m3-5v2m2-12v2m6 4v2m4-4v2m8 6v2m6 9v2" stroke="#00d51f" stroke-width="2" opacity="0.75"/><path d="M757 362v2m1-20v2m0 8v2m2-26v2m1 14v2m1-5v2m0-1v2m1-6v2m1-15v2m0-1v2m0 29v2m1 10v2m1-13v2m2-45v2m1 41v2m1-47v2m0 11v2m2 25v2m0 4v2m2-26v2m1-6v2m7-7v2m0 32v2m2-11v2m1-11v2m1-32v2m0 12v2m1-3v2m0 5v2m2 1v2m2 3v2m2-23v2m0 12v2m0 3v2m3-10v2m0 21v2m1-13v2m1-3v2m0 2v2m1 12v2m2-33v2m0 37v2m1-46v2m0-1v2m0 38v2m1-24v2m3-26v2m0 7v2m0 18v2m1-13v2m0 10v2m1-24v2m1-13v2m0 1v2m0 3v2m0 15v2m1-33v2m0 2v2m0 5v2m0 2v2m3 16v2m0 1v2m0 10v2m1-48v2m0 16v2m1 7v2m0 34v2m1-51v2m0 8v2m0 9v2m1-45v2m0 20v2m1 1v2m0 32v2m1-49v2m0 4v2m0 1v2m0 12v2m1-5v2m0-1v2m0-1v2m0 21v2m3-43v2m0 8v2m0 1v2m0 6v2m0 12v2m1-28v2m1-1v2m0 1v2m1-35v2m0 34v2m1-5v2m0 17v2m1-22v2m0 14v2m1 2v2m1-45v2m0 25v2m0 4v2m2 16v2m1-16v2m1-33v2m0 28v2m0 2v2m3-8v2m1-25v2m0 8v2m0 6v2m1 14v2m0 12v2m0-2v2m2-30v2m0 12v2m1-13v2m1-21v2m1-16v2m0 50v2m1-6v2m2-29v2m0 17v2m3-13v2m0 3v2m2 14v2m1-19v2m2 1v2m1 11v2m1-28v2m0 16v2m0 1v2m2-8v2m1-32v2m0 34v2m3-25v2m1-10v2m0 15v2m2-11v2m0 26v2m1-26v2m2-6v2m2-12v2m4 1v2m2 32v2m2-42v2m0 34v2m4-39v2m0 7v2m0 1v2m8-7v2m18 14v2m42 5v2" stroke="#00e90c" stroke-width="2" opacity="0.75"/><path d="M750 327v2m5-1v2m11 17v2m1-21v2m0 14v2m2-26v2m1 8v2m2 10v2m2 6v2m2-43v2m0 51v2m3-31v2m1-12v2m0 4v2m1-2v2m0 18v2m1-10v2m7-7v2m0 26v2m1-36v2m1 9v2m1-6v2m0 17v2m1-36v2m1 1v2m0 9v2m2-32v2m0 15v2m1 9v2m0 6v2m0 5v2m1-27v2m1 9v2m1-16v2m0 11v2m1 25v2m1-31v2m0 37v2m2-62v2m0 6v2m0 16v2m0 1v2m1 24v2m1-16v2m2-38v2m1-5v2m0 0v2m4 26v2m0 9v2m1-27v2m0 3v2m0 7v2m0 6v2m1-31v2m0 15v2m0 2v2m1-55v2m0 20v2m0 13v2m0 21v2m3 15v2m1-55v2m0 3v2m0 6v2m1-5v2m0 21v2m0 5v2m1-21v2m2 12v2m2 0v2m1-32v2m4-7v2m0 7v2m0 8v2m1-12v2m2 17v2m1-24v2m1-6v2m2-3v2m1 9v2m0 22v2m1-20v2m0 39v2m1-58v2m0 11v2m2-10v2m0 12v2m1 5v2m1-44v2m0 14v2m0 5v2m0 6v2m1-13v2m1-16v2m2 22v2m0 0v2m1-3v2m1 13v2m1-41v2m1 24v2m2 0v2m0 7v2m2-34v2m3 29v2m1-10v2m1-15v2m0 15v2m1-45v2m0 23v2m1 23v2m4 5v2m3 2v2m3-19v2m1-6v2m1-11v2m13 0v2m1 25v2m18-35v2" stroke="#11ee04" stroke-width="2" opacity="0.75"/><path d="M745 314v2m0 12v2m0 3v2m7 3v2m12-31v2m1 17v2m1 28v2m5-49v2m1 38v2m3-13v2m0 1v2m2-31v2m0 16v2m1-4v2m2 13v2m1-29v2m0 43v2m1-37v2m1-25v2m1 18v2m0 38v2m2-9v2m1-18v2m3-57v2m1 37v2m0 3v2m0-1v2m1-2v2m1-8v2m1-5v2m0 13v2m6-9v2m1 4v2m1-12v2m0 2v2m0 0v2m0 4v2m0 3v2m1-35v2m2 18v2m3-39v2m1 21v2m0 35v2m1-42v2m0 63v2m1-50v2m1 15v2m1-18v2m1 5v2m1-20v2m0 14v2m1 8v2m1-13v2m1-18v2m1 6v2m1-8v2m1 1v2m0 12v2m3 4v2m1-10v2m2-24v2m0 6v2m0-1v2m1-15v2m0 7v2m0-2v2m0 20v2m1 8v2m1-7v2m1-24v2m0 13v2m2-7v2m2-18v2m0 9v2m0 17v2m2-25v2m1-18v2m0 43v2m1-13v2m1-13v2m2-31v2m0 33v2m2-18v2m3 15v2m1-12v2m0 3v2m2-24v2m1 20v2m1-9v2m4-24v2m3 44v2m2-25v2m1-2v2m1-14v2m11 22v2m2-11v2m2-17v2m2 21v2m3-6v2m0 3v2m3-21v2m2-8v2m3 22v2m1-46v2m0 25v2m12-16v2m5 0v2m7 9v2" stroke="#2ded00" stroke-width="2" opacity="0.75"/><path d="M736 323v2m10-18v2m26 14v2m0 3v2m2 14v2m4-14v2m0 2v2m1-4v2m2-21v2m1 4v2m0 8v2m1-36v2m2 31v2m3-10v2m1 8v2m0-2v2m1 4v2m2-31v2m0 22v2m2-49v2m1 59v2m1-22v2m2-4v2m2 19v2m1-60v2m0 39v2m1 31v2m3-33v2m2-8v2m1 10v2m1-24v2m2-16v2m1 35v2m2-8v2m0-2v2m2-20v2m1 5v2m0 2v2m1-4v2m2 16v2m1-16v2m3-6v2m0 5v2m3-10v2m1-7v2m1 38v2m1-47v2m0 3v2m3 37v2m2-37v2m2 18v2m3-7v2m0-1v2m0-1v2m1-14v2m1 15v2m0 7v2m1 0v2m2-24v2m1-2v2m0 2v2m2-31v2m0 9v2m2 21v2m2-21v2m1 16v2m1-24v2m1 7v2m3 9v2m2-14v2m2 5v2m7-14v2m11 30v2m3-51v2m4 17v2m6 3v2m8-9v2m10 8v2m4 23v2m10-25v2" stroke="#5fe300" stroke-width="2" opacity="0.75"/><path d="M761 342v2m10-19v2m5 20v2m4-27v2m1-10v2m5-24v2m2 8v2m1 52v2m2-24v2m1-18v2m1 8v2m1 7v2m1-24v2m2 5v2m1-20v2m0 22v2m1 3v2m1-1v2m1-30v2m0 44v2m3-34v2m0 4v2m0 25v2m1-46v2m0 25v2m1-21v2m2 10v2m1-13v2m0 1v2m4-10v2m0 3v2m3 3v2m0-1v2m2-4v2m1-7v2m0 33v2m2-12v2m1-30v2m0 15v2m0 3v2m1-16v2m0 0v2m2 6v2m2-14v2m3 20v2m2-27v2m1 7v2m0 8v2m2-21v2m1 16v2m1-17v2m2 32v2m3-36v2m2-24v2m1 10v2m1-4v2m0 24v2m3-27v2m0 4v2m0 2v2m5 3v2m0 14v2m0 17v2m4-26v2m0 0v2m0 20v2m1-58v2m0 10v2m1 5v2m3-23v2m0 14v2m0 24v2m2-20v2m2-3v2m1-8v2m7-6v2m1 18v2m5-24v2m1 24v2m0 1v2m1-14v2m4-2v2m1 7v2m1-17v2m3 9v2m1-24v2m10 12v2m4 7v2m2-11v2m8-13v2m0 11v2m2 0v2m23-45v2m11-9v2m2 35v2m10-23v2m33 3v2" stroke="#8bda00" stroke-width="2" opacity="0.75"/><path d="M740 325v2m17-14v2m16 0v2m2 13v2m1 3v2m8-23v2m7-13v2m0 20v2m0 4v2m3 1v2m1-12v2m2-12v2m1-20v2m3 17v2m3-10v2m2 29v2m1-9v2m1-23v2m2 18v2m1-11v2m3-13v2m0 5v2m0 19v2m3-22v2m3-5v2m2-17v2m3 16v2m2-5v2m4-2v2m0 20v2m6-7v2m1-34v2m0 24v2m0 6v2m2-40v2m1 14v2m1-3v2m0 39v2m1-34v2m1-8v2m1-17v2m2 24v2m1-3v2m1 0v2m0-2v2m0 2v2m4-23v2m1 2v2m0 20v2m2-27v2m0 1v2m1-6v2m2 16v2m1-8v2m1-7v2m0 30v2m3-2v2m1-19v2m0 11v2m1-35v2m0 4v2m0 24v2m1-17v2m1-26v2m4 14v2m0 5v2m2-2v2m4-21v2m2 5v2m0 17v2m1-40v2m1 27v2m1-16v2m3-2v2m0 3v2m2-1v2m0 9v2m0-2v2m1 3v2m4-34v2m0 7v2m0 5v2m1-12v2m2 3v2m1 5v2m0 19v2m6-24v2m2 9v2m7-15v2m2 12v2m3-11v2m6-14v2m7 9v2m3-21v2m0 5v2m9 5v2m0 5v2m7 22v2m1-33v2m35-40v2m1 12v2" stroke="#a9d300" stroke-width="2" opacity="0.75"/><path d="M764 296v2m2 28v2m2-2v2m3 1v2m6-4v2m1-5v2m7-19v2m3 10v2m2 4v2m8 9v2m2-21v2m2 13v2m3-38v2m0 38v2m2-3v2m1-29v2m3 16v2m2-5v2m1 14v2m1-30v2m1 0v2m0 7v2m2-18v2m0 14v2m0 8v2m4-31v2m0 9v2m2-27v2m2 17v2m1-5v2m1 12v2m1-5v2m1-20v2m0 28v2m0-2v2m1-6v2m1 4v2m1-22v2m0 20v2m2-19v2m0 18v2m1-40v2m0 21v2m2 10v2m1-48v2m1 7v2m0 4v2m1 0v2m1 9v2m0 23v2m1-50v2m0 12v2m0 0v2m0 7v2m2-9v2m0 20v2m1-45v2m0 27v2m1-3v2m2 10v2m2-14v2m2 10v2m1-35v2m2 18v2m1-24v2m0 9v2m0 15v2m1-12v2m0 2v2m0 17v2m2 14v2m1-61v2m0 2v2m0 11v2m3 0v2m0 1v2m0 18v2m1-33v2m1 2v2m0 36v2m1-20v2m1-23v2m1 24v2m1-24v2m0 27v2m1-30v2m0 3v2m1 24v2m1-29v2m0 11v2m2-10v2m1-13v2m0 6v2m1 8v2m0 5v2m1-19v2m1-22v2m0 25v2m1-7v2m1-7v2m2 20v2m0-1v2m1-32v2m0 5v2m0-2v2m1-20v2m2 8v2m0 14v2m0 2v2m1-12v2m0 4v2m0 7v2m1-20v2m1 6v2m0 11v2m1-16v2m2-19v2m0 0v2m0 10v2m0 12v2m1-33v2m0 11v2m0 0v2m0 20v2m1-16v2m2 41v2m1-23v2m1-56v2m0 17v2m0 22v2m3 12v2m1-30v2m0 8v2m1 2v2m4-24v2m0 20v2m1-31v2m3-9v2m1 23v2m1 2v2m3-31v2m2 8v2m0 28v2m0-1v2m1-25v2m0 15v2m1-13v2m0 22v2m3-29v2m0 18v2m1-8v2m3-40v2m1 26v2m4 20v2m5-25v2m1-7v2m2 1v2m1 14v2m3-32v2m0 22v2m6-68v2m3 24v2m4 28v2m2-23v2m8 45v2m7-26v2m4-27v2m1-34v2m33 53v2m18-22v2m12-11v2m9-23v2m4 11v2m11-30v2" stroke="#c8cc00" stroke-width="2" opacity="0.75"/><path d="M739 308v2m34 1v2m2-1v2m1 7v2m1-15v2m2 21v2m2-36v2m9 9v2m5-6v2m1 14v2m1-10v2m2 38v2m1-57v2m0 8v2m4-9v2m0 9v2m1-13v2m0 11v2m0 12v2m2-39v2m0 8v2m3-2v2m0 33v2m3-46v2m0 12v2m1 10v2m2-21v2m1 20v2m2-11v2m1 5v2m0 13v2m1-36v2m3 17v2m2-2v2m0 13v2m1-29v2m0 14v2m1-3v2m1 10v2m0 3v2m2-38v2m5-13v2m0 12v2m1 12v2m1-36v2m0 12v2m1 13v2m1-5v2m0 2v2m1 7v2m0 3v2m0-1v2m1-23v2m0 22v2m1-39v2m0 28v2m1-37v2m1 6v2m0 3v2m0 9v2m0 9v2m0 7v2m0 23v2m1-54v2m0 0v2m0 11v2m1-38v2m0 23v2m0 7v2m0 15v2m1-31v2m0 6v2m1-12v2m0 13v2m1-7v2m0 14v2m0 7v2m1-39v2m0 4v2m0 8v2m1 5v2m1-24v2m0 7v2m1 3v2m2 1v2m0 17v2m1-48v2m2 15v2m2-17v2m1 26v2m1-15v2m0 6v2m0 3v2m1-18v2m1-28v2m1 18v2m0 10v2m1 0v2m2-12v2m0 3v2m0 8v2m1-30v2m0 2v2m0 4v2m0 2v2m1 25v2m1-16v2m1-11v2m1 4v2m0 9v2m1-28v2m0 0v2m0 7v2m0 4v2m0 19v2m1-44v2m0 28v2m1-28v2m1-15v2m0 4v2m0 13v2m1 10v2m1-3v2m2-13v2m2 1v2m1-3v2m1 4v2m1-20v2m0 19v2m1-22v2m0 3v2m0 5v2m0 1v2m1-13v2m0 19v2m1 6v2m1-27v2m0 2v2m1-21v2m0 21v2m2-34v2m0 41v2m0 14v2m1-40v2m0 7v2m0-1v2m1-7v2m1 4v2m0 8v2m1-23v2m0 6v2m2-26v2m1 21v2m0-2v2m1-23v2m0 19v2m1-1v2m1-1v2m1-1v2m1 6v2m3-2v2m1 5v2m1-16v2m1 3v2m1-5v2m1-30v2m0 29v2m2-35v2m0 18v2m0 42v2m2-49v2m1 16v2m0-1v2m0 33v2m2-57v2m1 30v2m2-47v2m2 10v2m0 11v2m1-40v2m0 18v2m4 2v2m1 16v2m2 2v2m9-12v2m2 3v2m1-10v2m2-48v2m1 1v2m0 47v2m1 11v2m2-30v2m1 9v2m1-13v2m0 1v2m1-41v2m2 54v2m1-35v2m5-6v2m1-9v2m6 30v2m10-46v2m2 21v2m4 6v2m1-20v2m9-31v2m14 27v2m4 29v2m11-13v2m9-59v2m4-3v2m1 34v2" stroke="#e1c600" stroke-width="2" opacity="0.75"/><path d="M768 326v2m17-19v2m10 33v2m1-34v2m0 13v2m1-7v2m1-27v2m0 5v2m0 0v2m2 4v2m4 4v2m1-23v2m1 3v2m0 4v2m4-17v2m0 11v2m0 2v2m1-11v2m0 7v2m0 29v2m2-18v2m0 2v2m1-48v2m0 11v2m0 13v2m0 4v2m1-19v2m1 1v2m0 12v2m0-1v2m0 4v2m1 2v2m3-15v2m0 12v2m0 0v2m1 0v2m2-53v2m0 36v2m3 7v2m1-24v2m1-2v2m2 7v2m2 2v2m2-20v2m0 7v2m1-9v2m2 4v2m1-23v2m1 26v2m1-18v2m0 21v2m1-33v2m0 5v2m0 12v2m0-1v2m1-19v2m0 36v2m1-22v2m0 23v2m1-27v2m0 8v2m3-27v2m0 2v2m0 0v2m0 24v2m1-50v2m0 27v2m0 6v2m1-37v2m0 12v2m1 22v2m1-22v2m0 37v2m1-44v2m0 11v2m0 18v2m1-42v2m0 19v2m0-1v2m2-11v2m0-1v2m0 2v2m1-10v2m0 7v2m0 14v2m1-29v2m0 2v2m0 3v2m0 11v2m0-1v2m1-50v2m0 39v2m3-24v2m0 15v2m0 12v2m3 2v2m1-5v2m1-37v2m0 1v2m0-1v2m0 0v2m1 25v2m1-13v2m0 1v2m1-11v2m0-1v2m0-1v2m0 5v2m0 4v2m0 15v2m1-17v2m1-7v2m0 0v2m0 3v2m1-21v2m0 16v2m0 2v2m1-18v2m0 0v2m0 8v2m3-19v2m0 9v2m2-16v2m1 3v2m0-2v2m0 5v2m0 7v2m1-32v2m0 10v2m0 30v2m1-37v2m0 24v2m1-5v2m1-17v2m0 0v2m1-52v2m2 47v2m0 6v2m1-45v2m0 14v2m0 0v2m0-2v2m1-7v2m0 20v2m0 0v2m0 6v2m0 2v2m1-31v2m0 22v2m1-23v2m0 2v2m1-21v2m0 17v2m3-11v2m1 18v2m0 13v2m1-14v2m1-7v2m1-11v2m0 9v2m1-27v2m1 8v2m1-1v2m1-32v2m0 20v2m0 14v2m0-1v2m0 3v2m1-40v2m1 2v2m0 13v2m0 6v2m0 3v2m1-20v2m0 12v2m1 5v2m0 17v2m1-26v2m0 7v2m3-2v2m3-17v2m0 13v2m2 22v2m1-53v2m1 7v2m0 7v2m0 5v2m1-25v2m0 26v2m1-26v2m0 11v2m1-4v2m2-15v2m1 9v2m3 0v2m1 0v2m0 8v2m4-15v2m1-2v2m3-19v2m1 0v2m2-15v2m2 24v2m1-2v2m1-14v2m0 1v2m1-48v2m1 56v2m2 0v2m1-3v2m8-41v2m8 17v2m0 9v2m3-35v2m1 29v2m7 5v2m3-38v2m1 0v2m6 33v2m6-26v2m2-30v2m5 35v2m9 38v2m1-71v2m12 29v2m1-1v2m2-10v2m12-1v2m10 7v2m17-26v2m14-11v2" stroke="#f5c000" stroke-width="2" opacity="0.75"/><path d="M779 296v2m4-3v2m7 10v2m5-6v2m1-7v2m2 21v2m3-19v2m3 1v2m0 3v2m0 1v2m1-27v2m0 33v2m3-28v2m1-14v2m1-14v2m0 43v2m4-33v2m0 4v2m0 49v2m1-60v2m0 17v2m1 16v2m1-11v2m1-19v2m0 16v2m2-6v2m3-1v2m3 16v2m2-24v2m3-2v2m0 8v2m3-16v2m1-14v2m0 17v2m1-6v2m1-36v2m1 24v2m0 1v2m1-18v2m0 28v2m1-33v2m0 4v2m0 27v2m1-18v2m0-1v2m0 16v2m1-22v2m0 6v2m1-2v2m0 3v2m0-2v2m0 9v2m1-53v2m0 19v2m2-14v2m0 7v2m0 18v2m0 19v2m0 5v2m1-53v2m0 4v2m0 6v2m0 11v2m1 10v2m2-17v2m0 7v2m1-14v2m1-43v2m0 15v2m0 15v2m0-1v2m0 10v2m1-19v2m0 1v2m1-10v2m1 22v2m2-21v2m1-24v2m2 47v2m1-36v2m0 24v2m0 0v2m2 4v2m1-43v2m0 11v2m0 6v2m0-1v2m0 1v2m0-1v2m1-10v2m0 2v2m0 11v2m1-32v2m1 14v2m2-3v2m1-22v2m1 3v2m1-12v2m0 12v2m0 15v2m1 4v2m0 17v2m1-37v2m1-13v2m0 5v2m0 15v2m0 14v2m1-44v2m2 8v2m0 13v2m1-7v2m0 6v2m1-17v2m0 7v2m0 1v2m0 9v2m1-20v2m0 2v2m0 6v2m0 5v2m1-41v2m0 0v2m1 29v2m1-30v2m0 18v2m1-44v2m0 17v2m0 11v2m0 13v2m1-13v2m0 14v2m1-33v2m0 3v2m0 1v2m0-1v2m0 3v2m2-16v2m1 21v2m2-26v2m0 26v2m1-33v2m0 23v2m1-38v2m0 7v2m1 15v2m0 16v2m2-39v2m0 31v2m1-16v2m0 12v2m1-45v2m1 34v2m1 22v2m1-31v2m0 1v2m0-1v2m1-2v2m0 3v2m1-8v2m1-5v2m1-17v2m1 19v2m1-13v2m2 4v2m2-1v2m3 0v2m1 5v2m0-2v2m1-10v2m2-12v2m0 0v2m0 38v2m1-31v2m2-18v2m0 12v2m0 25v2m1-43v2m1 10v2m0 9v2m0 3v2m2-29v2m0 21v2m6-19v2m1 14v2m2-29v2m4 4v2m7 7v2m1-5v2m3 8v2m2-30v2m1-44v2m5 24v2m1 21v2m4 10v2m5-34v2m1 66v2m25-68v2m19-20v2m16 25v2m10-37v2m8 4v2" stroke="#ffb600" stroke-width="2" opacity="0.75"/><path d="M780 311v2m4 15v2m4-20v2m4-10v2m0 24v2m3-31v2m1 24v2m2 2v2m1-34v2m3 37v2m1-40v2m1 8v2m0 3v2m1-35v2m1 4v2m0 27v2m1-15v2m4 24v2m5-30v2m0 25v2m4-18v2m2-24v2m4 27v2m0 6v2m3-13v2m2-36v2m2 34v2m2-20v2m0 15v2m1 14v2m1-35v2m0 1v2m0 9v2m0 0v2m1-22v2m3 8v2m0 3v2m2-22v2m0 14v2m0 19v2m1-25v2m1 1v2m2-12v2m0-1v2m0 29v2m1-43v2m0 2v2m2 21v2m0 0v2m1 13v2m1-4v2m1-42v2m0 36v2m3-12v2m1-13v2m0-1v2m0 5v2m1 11v2m1-53v2m0 7v2m0 8v2m0 1v2m0 8v2m1-8v2m1 3v2m1-4v2m0 7v2m1-18v2m1 1v2m1-16v2m0-1v2m0 36v2m1-38v2m0 8v2m0 5v2m2-17v2m0 5v2m0 4v2m1-25v2m0 15v2m0 5v2m1-18v2m1-9v2m0 12v2m2-20v2m4 25v2m0 34v2m3-69v2m1 47v2m1-44v2m1-3v2m1 19v2m0 2v2m0 15v2m1-42v2m1 15v2m0 13v2m1-33v2m1 26v2m1 2v2m1-16v2m0 7v2m1-31v2m0 46v2m2-32v2m1-11v2m0 4v2m0-2v2m1 6v2m0 4v2m2-7v2m1 7v2m2-24v2m0-1v2m1 7v2m1 4v2m1-10v2m0 46v2m1-38v2m1-12v2m3-8v2m1-3v2m1 14v2m2-14v2m1-6v2m6 1v2m1-1v2m3-28v2m0 18v2m1-20v2m0 46v2m3-29v2m0-2v2m1-7v2m2-1v2m4-7v2m9-9v2m0 14v2m1 16v2m3-41v2m1-12v2m3 45v2m5 26v2m7-57v2m1 28v2m1-37v2m5-17v2m2 27v2m6-5v2m52-38v2" stroke="#ffa700" stroke-width="2" opacity="0.75"/><path d="M760 301v2m8-10v2m1 4v2m5-18v2m1 23v2m1 3v2m1-19v2m3 19v2m10-19v2m4-13v2m5 26v2m6-24v2m0 2v2m3-28v2m6 44v2m4-12v2m1-16v2m5 14v2m2-2v2m1-8v2m2-19v2m1-13v2m1 20v2m2 2v2m0 47v2m2-61v2m1 17v2m1-5v2m1-11v2m0 1v2m1-35v2m1 39v2m3-25v2m1-4v2m0 7v2m2-24v2m3 30v2m1 8v2m0-1v2m0 7v2m1-25v2m0-2v2m2-19v2m1 13v2m0-1v2m1-1v2m1-7v2m0 10v2m1-10v2m0 9v2m1-17v2m0 25v2m1-45v2m1 14v2m1-38v2m0 27v2m0 15v2m0 0v2m0 1v2m2-2v2m0-1v2m1-28v2m0 11v2m0 12v2m0 13v2m2-48v2m0 15v2m0 2v2m2 23v2m1-21v2m0 6v2m0 9v2m2-37v2m0 35v2m2-47v2m0 34v2m0 3v2m1-44v2m0 24v2m1-42v2m1 2v2m1 4v2m1 45v2m2-46v2m0 9v2m1-28v2m0 23v2m0 14v2m1-39v2m0 0v2m0-1v2m1 18v2m3 22v2m3-31v2m0-1v2m0 4v2m0 20v2m5-33v2m0 12v2m1-25v2m5-5v2m0 25v2m1-21v2m3 7v2m0 26v2m0 6v2m1-24v2m2-7v2m1-18v2m0 10v2m0 0v2m1-16v2m0 8v2m1 1v2m0 6v2m3 1v2m2 6v2m2-13v2m1-9v2m4 27v2m1-10v2m2-4v2m3-29v2m1-2v2m1 16v2m2-16v2m1-5v2m6 36v2m3-49v2m0 3v2m0 32v2m4-35v2m0 28v2m1-24v2m1-7v2m0 10v2m2-5v2m0 12v2m3-26v2m9-1v2m2-37v2m6 19v2m1 10v2m1-21v2m3 31v2m2-47v2m1 8v2m2 46v2m4-30v2m0 10v2m20-3v2m4-28v2m7 8v2m8-11v2m11-8v2" stroke="#ff9700" stroke-width="2" opacity="0.75"/><path d="M782 292v2m2-29v2m8 50v2m3-30v2m4 5v2m11 3v2m5-24v2m1 24v2m5-27v2m1 23v2m1-7v2m0 8v2m1-30v2m0 35v2m3 3v2m2-29v2m1-5v2m3-17v2m4 25v2m4-25v2m0 5v2m0 17v2m4 24v2m1-59v2m0 14v2m0 3v2m2-23v2m0 23v2m1 6v2m2-47v2m0 19v2m0 2v2m2-8v2m0-2v2m0 44v2m1-51v2m0 25v2m1-21v2m1 13v2m0 4v2m2-36v2m1 11v2m0 18v2m1-17v2m0 7v2m1-25v2m0 36v2m2-50v2m0 12v2m0 29v2m2-40v2m1 6v2m0 23v2m1-11v2m0 33v2m1-50v2m0 2v2m3-4v2m1 8v2m1-24v2m0 22v2m1-31v2m0 13v2m1 14v2m1-7v2m1-2v2m1-4v2m1-10v2m0 3v2m1-10v2m0 2v2m1 2v2m1-5v2m1-23v2m0 26v2m1-17v2m1 4v2m0 31v2m1-53v2m0 26v2m1 2v2m1-31v2m0 19v2m1 0v2m1-7v2m0 2v2m1-34v2m0 34v2m0-1v2m1 1v2m1 17v2m1-24v2m1-37v2m0 47v2m1-15v2m0 6v2m2 4v2m1-38v2m1 23v2m0 5v2m2-35v2m0 27v2m4-21v2m3 11v2m0 1v2m0 11v2m2-13v2m1-38v2m0 18v2m3 7v2m0 8v2m2 3v2m1-32v2m3-30v2m2 60v2m1-14v2m1-10v2m0 18v2m3-25v2m3 0v2m0 3v2m1-4v2m1-4v2m6 8v2m1 8v2m2-23v2m5-24v2m2 43v2m4-32v2m1 8v2m0-1v2m1 3v2m2-28v2m1-4v2m1 14v2m3 11v2m1-19v2m2-11v2m2-16v2m0 12v2m3 16v2m1-48v2m7 29v2m11-33v2m8 26v2m16 8v2m1-7v2m5 7v2m26-51v2m7 30v2" stroke="#ff8800" stroke-width="2" opacity="0.75"/><path d="M774 280v2m19 10v2m8 17v2m1-18v2m3-26v2m0 29v2m0 6v2m1-40v2m2 5v2m2 22v2m6-9v2m2-24v2m2 5v2m6 20v2m1 9v2m1-45v2m0 49v2m2-34v2m3-1v2m1 10v2m1 7v2m1-32v2m0 4v2m0-1v2m0 0v2m1 11v2m2 0v2m2 5v2m1-41v2m0 4v2m1-31v2m1 52v2m1-15v2m0 12v2m1-7v2m1-30v2m0 21v2m0 0v2m2-9v2m0 14v2m1-45v2m0 18v2m0 4v2m3-3v2m2 3v2m1 12v2m1-14v2m2 17v2m1-40v2m2-2v2m1 19v2m2-25v2m1-15v2m0 34v2m1-27v2m0 26v2m0 1v2m0-1v2m0 1v2m1-41v2m1-8v2m0 12v2m0-2v2m1 32v2m1-17v2m1-13v2m0 3v2m0 3v2m2 10v2m0 3v2m1-33v2m0 17v2m0 0v2m2 5v2m0 8v2m1-33v2m2-21v2m0 19v2m1 2v2m0 6v2m0 7v2m1-49v2m1 16v2m0 20v2m1-10v2m1 1v2m1 0v2m0-1v2m0 3v2m1-22v2m0 2v2m0 6v2m1 0v2m1-32v2m2 25v2m3-5v2m2-18v2m0 14v2m2-4v2m1 14v2m1-31v2m0 41v2m1-50v2m0 20v2m1-6v2m1 0v2m0 2v2m0 19v2m3-33v2m0 8v2m1 4v2m1 20v2m1-27v2m1-33v2m1 9v2m0-1v2m0 12v2m1-15v2m0 14v2m1-13v2m1-5v2m1-4v2m2-4v2m0 6v2m1 12v2m0 13v2m1-41v2m0 12v2m2 26v2m1-28v2m2-7v2m1-15v2m2 22v2m1 1v2m7-39v2m0 25v2m1 12v2m3-15v2m1-27v2m0 0v2m0 28v2m1-9v2m2-25v2m0 5v2m1 10v2m2-2v2m5-8v2m1 19v2m3-11v2m1 0v2m1-36v2m0 51v2m1 1v2m1-29v2m1 23v2m1-40v2m5-17v2m15 21v2m21 4v2m7-20v2m2 19v2m5-52v2m19 47v2" stroke="#ff7a00" stroke-width="2" opacity="0.75"/><path d="M780 279v2m4 30v2m3-7v2m5-40v2m2 42v2m17 2v2m3-26v2m3 0v2m0 4v2m4-38v2m5 21v2m1-11v2m0 3v2m3 20v2m1-6v2m0 13v2m4-43v2m0 4v2m1 0v2m3 0v2m0 1v2m1-6v2m1 7v2m1-9v2m2-12v2m0 23v2m1-49v2m2 62v2m1-2v2m1-23v2m2-8v2m0 12v2m3-30v2m1 1v2m0 9v2m0-1v2m0 0v2m1 15v2m1-11v2m2-43v2m2 17v2m0 1v2m1 5v2m1-6v2m0 2v2m1 34v2m1-61v2m3-10v2m0 44v2m1-29v2m0 15v2m0 0v2m0 0v2m1-1v2m1 16v2m2-42v2m1 21v2m1-14v2m0 2v2m0 2v2m1-35v2m0 31v2m1-10v2m5 6v2m1-19v2m1-2v2m0 15v2m2-33v2m1 44v2m2-52v2m0 22v2m2 14v2m2-16v2m0 14v2m1-26v2m0 10v2m0 9v2m1-45v2m0 44v2m0-2v2m1 17v2m3-45v2m1-4v2m0 17v2m2-17v2m0 3v2m0 1v2m1-4v2m1-22v2m1 20v2m1-12v2m1 5v2m0 0v2m2-4v2m0 10v2m2-34v2m0 14v2m2 12v2m0-1v2m1-25v2m0 4v2m1 14v2m0 8v2m1-40v2m0 16v2m0 34v2m1-59v2m0 2v2m2 34v2m1-26v2m0 43v2m2-17v2m2-17v2m4-15v2m1 4v2m1-19v2m2 11v2m1 1v2m1 9v2m2-10v2m1-21v2m0 4v2m2 23v2m2-12v2m7-23v2m0 8v2m3 14v2m1 0v2m7-31v2m5-9v2m6 1v2m0 42v2m3-27v2m0 6v2m30 2v2m8-17v2m1 1v2" stroke="#ff6d00" stroke-width="2" opacity="0.75"/><path d="M810 298v2m10-10v2m2-18v2m2 30v2m2-24v2m0 13v2m2-13v2m2-7v2m3-5v2m1-4v2m1 16v2m1-24v2m1 39v2m1-31v2m0 10v2m1-23v2m1 2v2m0 8v2m1-7v2m1-5v2m0 3v2m1 1v2m1-3v2m0 8v2m1-8v2m1-16v2m0 4v2m1-16v2m0 10v2m0 3v2m2-10v2m0 12v2m0 0v2m2-24v2m0 15v2m2 8v2m1-26v2m4-4v2m0 20v2m2-19v2m0 10v2m2-27v2m1 14v2m0 0v2m2-5v2m1-16v2m0 23v2m1-4v2m1-19v2m0 12v2m1 3v2m2-9v2m2 3v2m1-16v2m1-5v2m0 2v2m0 7v2m1-7v2m0 16v2m1-27v2m1-7v2m2 21v2m0 29v2m1-37v2m0 20v2m2-36v2m0 8v2m0 6v2m1-21v2m0 0v2m4 4v2m0 6v2m0 2v2m4-20v2m0 4v2m1 4v2m1-23v2m0 46v2m3-29v2m2 12v2m4-14v2m4-2v2m2-14v2m0 5v2m0 16v2m3-35v2m2 9v2m0 0v2m1-9v2m1 2v2m2 14v2m1 2v2m1-34v2m1 22v2m1-7v2m1-16v2m3 22v2m4-7v2m1 9v2m5-24v2m1 12v2m3-25v2m0 1v2m4 3v2m3-17v2m1 21v2m12-9v2m0 0v2m2-5v2m4 2v2m3 6v2m9-11v2m0-1v2m3 25v2m52-73v2m18 47v2" stroke="#ff5f00" stroke-width="2" opacity="0.75"/><path d="M778 303v2m37-38v2m3-10v2m0 10v2m3-12v2m2-20v2m0 18v2m0 39v2m4-11v2m1-21v2m4-7v2m8 29v2m1 26v2m1-60v2m1 32v2m12-42v2m2 9v2m2 33v2m2-35v2m1 14v2m2 12v2m2-36v2m3 19v2m1-21v2m0 8v2m0 6v2m0 3v2m1 0v2m2-18v2m0 18v2m2-44v2m3 15v2m1-28v2m1 22v2m0 1v2m2-23v2m2 1v2m2 14v2m0 5v2m2-13v2m4 0v2m0 3v2m0 6v2m1-1v2m1-31v2m1 6v2m1 10v2m1 17v2m1-25v2m2 0v2m0 19v2m2-12v2m1-25v2m2 12v2m2 14v2m1-36v2m0-1v2m8 29v2m6-9v2m1-10v2m3 6v2m2 13v2m2-4v2m15-24v2m13 12v2m3-2v2m7-30v2m0 19v2m2-28v2m1 29v2" stroke="#ff5100" stroke-width="2" opacity="0.75"/><path d="M810 308v2m14-38v2m11 10v2m9 1v2m1 1v2m7-25v2m0 10v2m2 19v2m1-48v2m0 26v2m2 1v2m1 11v2m3-1v2m1-16v2m2 7v2m9-14v2m4-5v2m1-4v2m0 7v2m0 15v2m3-7v2m3-9v2m6-38v2m3 12v2m1-8v2m7 48v2m4-41v2m0 28v2m1-2v2m2-19v2m15-41v2m13 42v2m3-9v2m0 12v2m15 0v2m53-15v2" stroke="#ff4600" stroke-width="2" opacity="0.75"/><path d="M809 268v2m0 19v2m2 8v2m9-1v2m3 3v2m4-40v2m3 3v2m6 20v2m9-43v2m0 11v2m5 47v2m5-26v2m1-21v2m1 0v2m5-15v2m0 28v2m6-19v2m2 2v2m0 2v2m1-16v2m1 27v2m3-21v2m0 14v2m2 7v2m2-41v2m1 18v2m0 9v2m2-30v2m3 8v2m5-21v2m1 18v2m6-8v2m2 26v2m2-40v2m2 31v2m16 2v2m27-21v2m70 12v2" stroke="#ff3b00" stroke-width="2" opacity="0.75"/><path d="M769 278v2m3 27v2m13-25v2m6-17v2m10-1v2m3 10v2m6 10v2m4 15v2m4-51v2m0 5v2m4 0v2m1 8v2m3-34v2m0 30v2m9-7v2m2-4v2m3-3v2m2-31v2m1 20v2m5-4v2m0 10v2m3 15v2m2-43v2m1 38v2m1-21v2m0 10v2m5 5v2m4-2v2m3-7v2m2 12v2m1-57v2m1 27v2m1 4v2m1-6v2m1-3v2m2-9v2m0 7v2m1 7v2m1-34v2m0 12v2m2 12v2m3-14v2m0 19v2m3-34v2m3 21v2m4-2v2m7-15v2m2 12v2m5-3v2m1-6v2m6 3v2m2-17v2m0 6v2m7-32v2m5 47v2m5-31v2" stroke="#ff3000" stroke-width="2" opacity="0.75"/><path d="M755 283v2m20-48v2m0 36v2m15 39v2m4-49v2m22-15v2m8 11v2m3 22v2m11-46v2m0 24v2m0 0v2m2-23v2m4 2v2m6 21v2m3-20v2m6 18v2m6-26v2m5 7v2m0 3v2m4 14v2m5-37v2m3-7v2m1 0v2m1 18v2m3 3v2m3-25v2m6 15v2m3 26v2m1-41v2m3 16v2m4-21v2m16 22v2m14-33v2" stroke="#ff2500" stroke-width="2" opacity="0.75"/><path d="M800 290v2m1-14v2m9-4v2m2-11v2m3-24v2m4 20v2m1-1v2m1-1v2m2 30v2m11-43v2m2 2v2m9 0v2m2 6v2m8 18v2m5-40v2m1 13v2m10-8v2m1 28v2m1 0v2m4-28v2m7 22v2m4-35v2m1-14v2m0 18v2m0 16v2m3 1v2m5-30v2m1 1v2m5 21v2m2-21v2m9-2v2m17-21v2" stroke="#ff1a00" stroke-width="2" opacity="0.75"/><path d="M799 291v2m6-42v2m10 13v2m2 17v2m8 16v2m20-55v2m2-6v2m2 46v2m8-18v2m11-23v2m0 9v2m2-12v2m1-17v2m2 23v2m1-4v2m5 5v2m16-1v2m46-8v2" stroke="#ff0f00" stroke-width="2" opacity="0.75"/><path d="M831 275v2m1-24v2m28-9v2m0 22v2m6 17v2m58-39v2" stroke="#ff0900" stroke-width="2" opacity="0.75"/><path d="M768 380v2m33 3v2" stroke="#0000ff" stroke-width="2" opacity="0.75"/><path d="M765 370v2m5-18v2m0 23v2m19-10v2m6-1v2m2-10v2m14 8v2" stroke="#0000ff" stroke-width="2" opacity="0.75"/><path d="M742 371v2m28-5v2m2-1v2m6-8v2m4-1v2m2 0v2m1 4v2m11-10v2m2-12v2" stroke="#0000ff" stroke-width="2" opacity="0.75"/><path d="M749 372v2m1 1v2m5-12v2m4-4v2m5 0v2m0 9v2m10-11v2m8-13v2m0 14v2m12 0v2" stroke="#0016eb" stroke-width="2" opacity="0.75"/><path d="M746 369v2m9-6v2m11 1v2m2-4v2m0 5v2m5-7v2m2-7v2m10 7v2" stroke="#0030d4" stroke-width="2" opacity="0.75"/><path d="M770 360v2m4 6v2m2-5v2m2 0v2m15-8v2m7 10v2m2-11v2" stroke="#004dae" stroke-width="2" opacity="0.75"/><path d="M786 353v2m8 13v2m28 2v2m14-36v2m12 18v2" stroke="#006b86" stroke-width="2" opacity="0.75"/><path d="M753 350v2m31 27v2m1-18v2m12-48v2m0 24v2m12 19v2m1-27v2m7-2v2m12-2v2m1 5v2m1-21v2m5 29v2m29-16v2m4-5v2" stroke="#00816f" stroke-width="2" opacity="0.75"/><path d="M766 344v2m6-12v2m4 25v2m10-44v2m9 20v2m11-22v2m1 18v2m11-6v2m3 22v2m13-10v2m0 8v2m3-27v2m0 19v2m2-7v2m2-4v2m5-3v2m8-17v2m26 27v2" stroke="#009759" stroke-width="2" opacity="0.75"/><path d="M758 333v2m7 0v2m1 8v2m1 14v2m12 17v2m1-40v2m2-8v2m3 25v2m11-8v2m4-13v2m5-15v2m0 22v2m2-8v2m6-10v2m3-15v2m0 21v2m0 21v2m2-17v2m2-19v2m3 3v2m0 41v2m2-26v2m3-6v2m2-6v2m2-17v2m1 15v2m8-24v2m3 14v2m1-20v2m4 21v2m1-28v2m6-16v2m4 37v2m2-1v2m3-14v2m8-13v2m2 1v2" stroke="#00ac44" stroke-width="2" opacity="0.75"/><path d="M746 331v2m1 12v2m25 15v2m1-12v2m2 5v2m1-23v2m3 3v2m4-12v2m0 2v2m11-30v2m0 28v2m2-13v2m2 16v2m0 16v2m1-36v2m2 1v2m0 3v2m1 33v2m2-41v2m4 8v2m2-16v2m0 8v2m3 1v2m1 6v2m1 5v2m1-18v2m0 0v2m0 20v2m1-25v2m7-11v2m0 2v2m1-9v2m2-6v2m0 21v2m0 2v2m0 21v2m1-52v2m0 36v2m3-36v2m0 31v2m3-32v2m0 8v2m0 20v2m1-37v2m0 8v2m0 3v2m1 0v2m0 3v2m1-26v2m0 9v2m0 3v2m1 19v2m2-42v2m2 12v2m0 21v2m0-1v2m3-6v2m1-37v2m0 20v2m1-6v2m1-3v2m1 16v2m1 9v2m1-63v2m0 23v2m2 16v2m1-26v2m0 6v2m1 6v2m2 9v2m11-25v2m0 15v2m3-29v2m3 9v2m8-11v2m4 0v2m4 31v2m2-26v2m6-2v2m10-3v2" stroke="#00c031" stroke-width="2" opacity="0.75"/><path d="M749 350v2m5-20v2m8 22v2m1-17v2m4 5v2m7 7v2m0 3v2m1-30v2m2-1v2m0 0v2m1 3v2m10-8v2m0 28v2m1-23v2m2-22v2m1-2v2m0 21v2m1-7v2m2-12v2m1 43v2m3-45v2m0 5v2m1 10v2m0 6v2m1-9v2m1-21v2m0-1v2m1 8v2m1-30v2m1 7v2m0 7v2m0 1v2m1-5v2m1 11v2m1-20v2m1 1v2m1 3v2m0-1v2m0 8v2m2-51v2m0 46v2m1-22v2m0-2v2m0 12v2m0 2v2m0 0v2m1-18v2m0 3v2m0 0v2m2-18v2m0 3v2m1 18v2m0 6v2m1-26v2m0 4v2m0-2v2m0 2v2m0 7v2m1-21v2m1-3v2m0 18v2m0 6v2m1 6v2m1-52v2m0 2v2m0 3v2m1 15v2m1-9v2m3 21v2m2-46v2m1 21v2m2-19v2m0-2v2m1 29v2m0 0v2m3-46v2m1 53v2m3-30v2m1 21v2m1-39v2m1 46v2m1-28v2m0 5v2m0 6v2m1-34v2m0 8v2m4 3v2m0 13v2m1-21v2m0 5v2m1-19v2m2 19v2m3-5v2m0 5v2m1-20v2m0 8v2m2 8v2m6-53v2m0 42v2m1-32v2m1 41v2m3-25v2m1-4v2m1-7v2m0 12v2m1-26v2m2 39v2m4-37v2m0 3v2m5 11v2m1-42v2m0 22v2m6 31v2m35-11v2m17-11v2" stroke="#00d51f" stroke-width="2" opacity="0.75"/><path d="M746 325v2m11-5v2m4 9v2m4-25v2m2-3v2m1 18v2m0 17v2m1-26v2m0-1v2m1 13v2m4 6v2m1-43v2m0 16v2m3 8v2m0 21v2m1-31v2m2-2v2m2-5v2m0 5v2m0 16v2m4-18v2m0 13v2m3-32v2m0 23v2m6-14v2m1-4v2m0 5v2m2-14v2m3 12v2m1 9v2m1-32v2m1 0v2m0 7v2m0 4v2m1-5v2m1-24v2m0 4v2m1 14v2m0 10v2m0 1v2m1-28v2m0 14v2m1-3v2m0 2v2m1-15v2m0-1v2m2-17v2m0 15v2m1 5v2m0 22v2m1-53v2m0 20v2m0 22v2m1-35v2m0 0v2m0 11v2m1-25v2m0 6v2m0 0v2m0 0v2m0 3v2m0 4v2m0 24v2m2-41v2m0 17v2m0 5v2m2-14v2m0 0v2m1-19v2m0-1v2m0-1v2m0 1v2m0 19v2m2-29v2m1 5v2m0 8v2m0 2v2m0-1v2m1-10v2m0 0v2m2-7v2m2 3v2m4-15v2m0 10v2m3 1v2m1-23v2m0-2v2m0 21v2m0 6v2m2-29v2m0 19v2m1 4v2m2-52v2m0 30v2m1-15v2m0 5v2m1 8v2m0 8v2m1 0v2m0-1v2m1-2v2m2-50v2m0 24v2m3 6v2m1-40v2m0 50v2m0 16v2m2-54v2m1 5v2m0 36v2m4-9v2m1-44v2m0 19v2m1 25v2m1-32v2m2 8v2m0 21v2m1-7v2m1-39v2m0 7v2m0 11v2m1-33v2m1 40v2m1-43v2m2 15v2m3 2v2m4 13v2m10-1v2m1-55v2m0 51v2m6-22v2m5 12v2m0 5v2" stroke="#00e90c" stroke-width="2" opacity="0.75"/><path d="M751 299v2m0 54v2m6-5v2m2-43v2m1 11v2m2-18v2m0 59v2m1-62v2m2 31v2m1-14v2m8-4v2m5 26v2m3-40v2m0 19v2m0 19v2m2-44v2m0 11v2m0 13v2m4-15v2m2 19v2m0-2v2m1-18v2m1 5v2m2-23v2m0 5v2m1 8v2m1 3v2m0-2v2m2-13v2m1-14v2m0 2v2m2 27v2m0 2v2m2-45v2m1 4v2m0 14v2m1-30v2m0 27v2m0 11v2m0 10v2m1-43v2m0 4v2m1-40v2m1 23v2m0 12v2m0 8v2m1-28v2m0 12v2m0 14v2m2-13v2m0 3v2m0 5v2m1-15v2m0 1v2m1 0v2m0 26v2m1-29v2m1-17v2m2 3v2m0 29v2m1-13v2m1-7v2m0 15v2m3-49v2m0 4v2m0 49v2m1-63v2m0 14v2m0 10v2m1-17v2m0 23v2m1-17v2m1 6v2m1-16v2m0 15v2m0 24v2m3-68v2m1 16v2m0 11v2m0 16v2m0 5v2m1 14v2m1-57v2m0 14v2m0 14v2m1-42v2m2 11v2m0 2v2m0 2v2m1-13v2m0 11v2m0-1v2m1-15v2m0 60v2m2-66v2m0 5v2m0 2v2m0 33v2m1-19v2m0 0v2m1-57v2m0 35v2m3-9v2m0 11v2m1-20v2m0 0v2m0 8v2m1-21v2m0 13v2m1 21v2m1-11v2m2-3v2m0 5v2m1-23v2m0 17v2m1-3v2m1-5v2m2 9v2m1-64v2m0 29v2m1-18v2m1 14v2m4 10v2m1-25v2m1 12v2m2-5v2m6 2v2m0 0v2m0-2v2m1-30v2m0 17v2m1-30v2m1 31v2m0 32v2m3-1v2m17-31v2m25-20v2" stroke="#11ee04" stroke-width="2" opacity="0.75"/><path d="M735 324v2m12 31v2m2-28v2m7 30v2m2-25v2m2 2v2m1-2v2m4-19v2m1 7v2m4-26v2m5 45v2m4-11v2m4-13v2m1-3v2m1-9v2m0 18v2m3-4v2m0 21v2m1-52v2m1-8v2m2 1v2m2 32v2m1 7v2m1-44v2m1-16v2m0 9v2m2 15v2m0 9v2m0 2v2m0 3v2m1-35v2m0 23v2m2-10v2m2-5v2m2-3v2m1-27v2m1 14v2m0 0v2m1 6v2m1 1v2m1 0v2m0 0v2m1-32v2m0 31v2m1-21v2m0 30v2m1-24v2m1-21v2m0 17v2m2-21v2m1 1v2m0 15v2m1-11v2m0 18v2m3 15v2m1-63v2m1 31v2m0 21v2m2-56v2m0 25v2m0 14v2m1-17v2m0 6v2m0 6v2m2-30v2m1 5v2m1-16v2m1 24v2m2-6v2m1 3v2m3-23v2m1-36v2m0 62v2m1-33v2m0 2v2m0-1v2m0 16v2m1-15v2m1-22v2m0 23v2m1-8v2m1-28v2m0 39v2m1-12v2m0 8v2m0 5v2m1-37v2m0 25v2m0 14v2m1-37v2m0 0v2m1-2v2m0 27v2m1-24v2m0 12v2m1-42v2m0 33v2m1-37v2m1 10v2m0 4v2m1 7v2m0 1v2m2-12v2m3-13v2m1 18v2m2-29v2m0 23v2m3-13v2m0 27v2m2-27v2m0 16v2m8-9v2m1-39v2m1 25v2m0 4v2m1-12v2m9 16v2m2-37v2m1 16v2m0 15v2m7-10v2" stroke="#2ded00" stroke-width="2" opacity="0.75"/><path d="M741 328v2m26 3v2m5-11v2m5 12v2m1-22v2m1-16v2m9 34v2m0 2v2m4-47v2m1 26v2m1-10v2m4-17v2m0 3v2m0 3v2m1-8v2m0 40v2m1-18v2m1-28v2m2 29v2m2-11v2m1-21v2m0 8v2m0 28v2m1-29v2m0 27v2m4-43v2m1 8v2m1 8v2m0 9v2m2 8v2m2-40v2m2 19v2m2-21v2m3-6v2m0 35v2m2-43v2m0 6v2m0-1v2m1 21v2m3 13v2m1-50v2m1-4v2m0 17v2m0 4v2m2-1v2m3 3v2m2 7v2m3 9v2m2-53v2m1 38v2m6 5v2m1-50v2m1 24v2m0 1v2m3-6v2m1-8v2m0 9v2m0-1v2m0 2v2m0 3v2m3-8v2m1-15v2m0 21v2m5-28v2m2-20v2m0 40v2m2-42v2m13 20v2m2 8v2m2-13v2m1 4v2m3-24v2m2-7v2m11 1v2m3-2v2" stroke="#5fe300" stroke-width="2" opacity="0.75"/><path d="M735 339v2m17-24v2m14 0v2m9-6v2m3 2v2m12-21v2m0 29v2m0 27v2m1-30v2m0 5v2m5-51v2m1 24v2m1-1v2m5-8v2m0 30v2m2-13v2m0-2v2m1-4v2m1 15v2m5-34v2m2-1v2m0 26v2m1-39v2m1 24v2m0 0v2m2-11v2m0 27v2m1-26v2m3-15v2m2-25v2m0 8v2m0 35v2m2-14v2m1-5v2m3-11v2m2-12v2m0 24v2m1-6v2m0 16v2m1 6v2m6-50v2m2-13v2m1 32v2m0 5v2m3-8v2m1 22v2m2-41v2m0 13v2m1-14v2m0 5v2m0 2v2m1-14v2m1 5v2m1 11v2m8-6v2m1 10v2m2-23v2m4 0v2m1 5v2m4-29v2m0 3v2m0 4v2m0 43v2m3-63v2m4 26v2m1-15v2m3-1v2m1-13v2m0 33v2m3 27v2m2-48v2m1-35v2m0 27v2m2-27v2m2 7v2m2 15v2m3 16v2m4 9v2m12-30v2m2-2v2m6 9v2m14 4v2m7-23v2m86-12v2" stroke="#8bda00" stroke-width="2" opacity="0.75"/><path d="M759 328v2m15-10v2m2 15v2m9 12v2m1-56v2m4 25v2m2-1v2m3 21v2m4-30v2m1 22v2m1-11v2m1-38v2m0 3v2m1 22v2m7 4v2m1-19v2m1 32v2m1-16v2m1-25v2m0-1v2m1-25v2m0 37v2m6-33v2m0 6v2m3 12v2m0 19v2m1-49v2m0 24v2m1-17v2m0 34v2m1-16v2m0 6v2m1-25v2m0 8v2m2-9v2m0 0v2m0 6v2m0 7v2m1-1v2m1-36v2m3 7v2m2 20v2m7-22v2m1 3v2m3 16v2m1-31v2m3 15v2m0 9v2m1-23v2m2 15v2m3-49v2m0 35v2m0 1v2m1-4v2m1-17v2m0 6v2m1-14v2m0 1v2m0 37v2m1-31v2m0 12v2m0 1v2m3-12v2m2-2v2m1-9v2m0 0v2m1 13v2m0-2v2m1-9v2m2 21v2m5-19v2m3-13v2m0 13v2m2-38v2m0 28v2m3 6v2m3-7v2m2-17v2m0 30v2m1-23v2m2 8v2m1-8v2m0-2v2m0 2v2m2-46v2m3 11v2m1 23v2m3-16v2m1 17v2m0 7v2m1 0v2m1-29v2m3-4v2m3 9v2m2-26v2m4 8v2m3 1v2m1 0v2m4-10v2m5 37v2m3-27v2m10-8v2m2-41v2m8-22v2m4 44v2m23-17v2m13-15v2m4 16v2" stroke="#a9d300" stroke-width="2" opacity="0.75"/><path d="M748 310v2m0 33v2m20-21v2m1-1v2m12-45v2m15 36v2m9-13v2m5-28v2m0 46v2m1-17v2m1-3v2m1-13v2m2 9v2m0 13v2m1-23v2m2-5v2m0 14v2m1-25v2m0 8v2m1 0v2m0 4v2m3-7v2m1 10v2m2-15v2m0 12v2m1-3v2m4-12v2m1-14v2m0 14v2m2-24v2m0 40v2m1-15v2m1-54v2m0 57v2m1-43v2m0 16v2m1-2v2m0-1v2m2 25v2m1-44v2m1 14v2m0 5v2m1-5v2m2 14v2m1-17v2m1 0v2m1-19v2m0 15v2m0 0v2m0 13v2m1 4v2m1-36v2m0 15v2m1-34v2m0 30v2m1-32v2m2 7v2m0 33v2m1-47v2m0 26v2m0-1v2m0 11v2m0 0v2m4-35v2m0 14v2m1-32v2m0 19v2m0 3v2m1 5v2m0 3v2m1-31v2m0 34v2m1-34v2m0 16v2m1-6v2m0 3v2m1-27v2m1 39v2m1-49v2m0 37v2m1-26v2m0 1v2m0 4v2m0 4v2m1-20v2m0 16v2m1-14v2m0 18v2m0 2v2m0 4v2m1-39v2m0 12v2m1-1v2m0 7v2m1-14v2m1-4v2m1 5v2m2-6v2m0 0v2m0 0v2m2-9v2m1-11v2m0 9v2m0 4v2m1-22v2m0 7v2m1 33v2m1-46v2m0 0v2m0 12v2m0 23v2m1-42v2m0 19v2m0 1v2m1-20v2m0 13v2m1 1v2m0 19v2m1-20v2m1-16v2m4-6v2m0 24v2m3-21v2m4-25v2m0 27v2m1 2v2m0 3v2m1-18v2m0 15v2m2-25v2m3-6v2m0 4v2m1 21v2m1 11v2m1-47v2m1-8v2m0 16v2m0 10v2m4-36v2m0 24v2m1 10v2m3-11v2m4-9v2m0 0v2m1-3v2m0 14v2m3-37v2m0 17v2m0 35v2m3-21v2m1-21v2m1-7v2m3-3v2m5-15v2m1-58v2m6 20v2m1 60v2m2-29v2m0 8v2m3 0v2m2-60v2m2 44v2m1 29v2m16-14v2m1-29v2m38-3v2m7-35v2m61 31v2" stroke="#c8cc00" stroke-width="2" opacity="0.75"/><path d="M772 312v2m6 11v2m7 12v2m2-20v2m3-8v2m1 7v2m3-27v2m3 22v2m2 12v2m1 0v2m4-26v2m2 4v2m0 20v2m1-14v2m1-5v2m1 9v2m0 2v2m2-43v2m1-6v2m0 16v2m0 10v2m1-31v2m0 11v2m0 2v2m0 3v2m1-19v2m0 7v2m1 14v2m2 0v2m3-45v2m0 28v2m0 24v2m1-23v2m0 12v2m3-9v2m0 3v2m1-12v2m1-1v2m0 1v2m1-36v2m2 1v2m0 10v2m1 4v2m0 2v2m0 15v2m1-54v2m0 20v2m0 22v2m0 1v2m1-45v2m0 16v2m1 3v2m1 10v2m2 0v2m1-57v2m0 46v2m0 9v2m0 1v2m1-31v2m0 8v2m0 6v2m1-11v2m1-26v2m0 47v2m1-43v2m0 4v2m0 1v2m0 2v2m0 20v2m1-10v2m1 9v2m2-53v2m0 56v2m1-28v2m0 20v2m1-40v2m0 0v2m0 29v2m1-34v2m0 0v2m0 29v2m1-50v2m2 9v2m0 3v2m1-15v2m1 7v2m0 6v2m0 19v2m1-5v2m1-21v2m2-11v2m1 12v2m1 6v2m0 20v2m1-57v2m0 34v2m1-20v2m1 13v2m0 10v2m0 5v2m0 13v2m1-53v2m0 23v2m1-27v2m0 12v2m1-17v2m0 13v2m2-28v2m0 18v2m0 6v2m1 2v2m1-19v2m1-5v2m0 21v2m1-41v2m0 39v2m1-21v2m0-1v2m0 5v2m0 7v2m1-21v2m0 0v2m0 3v2m0 12v2m1-6v2m1-18v2m0 3v2m0 5v2m0 13v2m1-26v2m0 5v2m0 0v2m1-6v2m1-17v2m1 3v2m0 0v2m1-29v2m0 22v2m0 3v2m1 15v2m1-44v2m0 15v2m0 13v2m0 31v2m2-46v2m1 0v2m1 6v2m1-9v2m0 8v2m1-15v2m1 16v2m0-2v2m0 5v2m0 0v2m1 1v2m0 1v2m1-36v2m0 28v2m2-45v2m0 20v2m0 15v2m3-24v2m1-2v2m1-3v2m1 12v2m1 3v2m2-10v2m0-2v2m1-3v2m1 0v2m0 18v2m1-11v2m3-22v2m1-9v2m0 13v2m1 7v2m2-37v2m0 32v2m3-24v2m1-3v2m0 0v2m0 21v2m1 0v2m0 4v2m1-31v2m0 16v2m1 2v2m1-2v2m1-26v2m1 7v2m0 31v2m6-59v2m3 27v2m1-17v2m4 7v2m2-61v2m4 24v2m2 10v2m0 10v2m11 3v2m2-45v2m0 0v2m1 7v2m3 18v2m1-27v2m16-3v2m0 1v2m9 1v2m2-9v2m8 30v2m6-49v2m7 38v2m2-15v2m32 31v2m1-30v2m35-23v2" stroke="#e1c600" stroke-width="2" opacity="0.75"/><path d="M761 302v2m4 8v2m5-26v2m3 27v2m6 10v2m9 4v2m0-1v2m6-2v2m1-18v2m2-25v2m3-3v2m0 24v2m0 11v2m1-39v2m1 15v2m0 28v2m1-68v2m0 0v2m2-12v2m1 31v2m2 37v2m4-40v2m1 4v2m1 16v2m1-58v2m0 23v2m0 31v2m2-24v2m3 13v2m2-14v2m1-5v2m1 0v2m0 3v2m4-4v2m0 13v2m0 2v2m1-30v2m0 0v2m0 8v2m0 3v2m1-20v2m0 11v2m1 10v2m2-28v2m0 12v2m1-7v2m0 0v2m0-2v2m0 17v2m1-28v2m0-1v2m2-1v2m1 2v2m1-10v2m1 11v2m0-2v2m1-21v2m0 9v2m0 5v2m1-11v2m0 14v2m1-36v2m0-2v2m0 6v2m0 11v2m0 8v2m0 10v2m0-2v2m1-13v2m0 20v2m2-44v2m0 7v2m0-1v2m0 3v2m1-17v2m0 1v2m0 32v2m2-33v2m0-1v2m0 19v2m1-22v2m0-1v2m0 4v2m0-2v2m1-29v2m2 0v2m0 4v2m1 14v2m1-19v2m0 10v2m0 19v2m0 4v2m1-43v2m1 25v2m0-1v2m0 1v2m1-29v2m1 14v2m0 3v2m1-39v2m0 17v2m0 13v2m1-9v2m0-1v2m0 18v2m1-1v2m1-53v2m0 19v2m0 12v2m0 8v2m0 3v2m1-30v2m1-27v2m0 46v2m2-29v2m0 2v2m0 0v2m0 16v2m1-19v2m1-18v2m0 15v2m0 26v2m1-36v2m0 7v2m0-1v2m1-20v2m0 8v2m0 21v2m2-15v2m1-23v2m1-19v2m0 38v2m0-2v2m1-26v2m0 3v2m0 15v2m1-11v2m0-1v2m1-22v2m0 4v2m0 14v2m0 14v2m0 1v2m0 3v2m1-20v2m2-20v2m0 27v2m0 8v2m1-14v2m1-37v2m0 13v2m0 13v2m1-19v2m1 2v2m0 12v2m0 9v2m0 4v2m1-34v2m1-7v2m0 1v2m0 8v2m1-22v2m0 34v2m1-37v2m0 11v2m0 14v2m0 2v2m1-46v2m0 6v2m0 5v2m0 14v2m4-17v2m3 0v2m3 12v2m1-21v2m0-2v2m0 21v2m1 1v2m1-3v2m0-1v2m1-30v2m0 13v2m2-18v2m0 29v2m1-18v2m0-1v2m0 5v2m2 1v2m2-28v2m0 12v2m2-14v2m0 12v2m2-15v2m1 42v2m1-63v2m1 36v2m2-5v2m0 10v2m0-1v2m1-31v2m4 23v2m4-10v2m0 9v2m2-44v2m0 40v2m1-33v2m4 20v2m1-35v2m1 8v2m2 31v2m2-2v2m2-63v2m2 35v2m1-47v2m4 19v2m1 11v2m0 14v2m4-38v2m0 11v2m4 14v2m2 11v2m2-35v2m3 41v2m6-22v2m6-14v2m2 14v2m1-46v2m2 24v2m21-12v2m7 11v2m5-30v2m18 18v2m34-17v2m3 5v2m6 19v2" stroke="#f5c000" stroke-width="2" opacity="0.75"/><path d="M772 285v2m4 26v2m11-1v2m3-10v2m4 7v2m2 0v2m2-7v2m2 10v2m2-9v2m6-10v2m3 4v2m5-4v2m2-21v2m1 12v2m0 21v2m2-50v2m0 8v2m1-15v2m1 17v2m0 17v2m1-16v2m0 23v2m1-25v2m1-16v2m2-5v2m0 21v2m0 4v2m1-18v2m3 4v2m0 9v2m2-11v2m1-12v2m0 0v2m0 9v2m0 18v2m1-56v2m0 14v2m4 33v2m2-24v2m0 8v2m2-41v2m1-4v2m0 33v2m2-12v2m0 22v2m1-28v2m0 14v2m0 5v2m2-39v2m0 13v2m2-36v2m2 46v2m0 10v2m0 2v2m0 2v2m1-32v2m2-19v2m1-12v2m0 28v2m1-28v2m0 13v2m0 1v2m0 13v2m1-8v2m1-6v2m0-1v2m0 13v2m0 0v2m1-24v2m0-1v2m0 10v2m1-31v2m1 19v2m0 1v2m0 4v2m0 14v2m1-25v2m0 11v2m1-13v2m0 3v2m1 2v2m1-13v2m0 10v2m0 14v2m1-65v2m0 28v2m0 16v2m0 3v2m1-24v2m0 7v2m0 19v2m1-21v2m1-16v2m1-9v2m0 9v2m0 25v2m0 8v2m1-61v2m0 25v2m0 11v2m1-14v2m1 10v2m1-27v2m0 10v2m0 7v2m1-7v2m0 5v2m1-45v2m1 16v2m1 2v2m2-17v2m0 30v2m0 4v2m1-12v2m0 5v2m1-31v2m0 22v2m1-11v2m1-6v2m0 8v2m1-1v2m0 7v2m1-19v2m0 12v2m0 13v2m1-24v2m1-9v2m1 0v2m1-3v2m1-9v2m0 12v2m0 11v2m1-57v2m1 38v2m0 10v2m1-24v2m1 19v2m0 2v2m1-20v2m0 10v2m1-2v2m0 15v2m3-24v2m1-15v2m0 4v2m1-3v2m1-24v2m0 8v2m0 20v2m0 6v2m0 7v2m1-47v2m1 1v2m0 22v2m1-9v2m4-29v2m0 37v2m2 18v2m1-6v2m1-47v2m3-7v2m1 28v2m0 0v2m2-28v2m2 8v2m1-29v2m0 40v2m4 4v2m7-2v2m5-2v2m6-39v2m1-14v2m0 0v2m0 8v2m1 25v2m1-39v2m0 54v2m1-17v2m8-42v2m2-5v2m0 44v2m3-28v2m2-6v2m4 8v2m3-47v2m0 5v2m4 35v2m18-1v2m40-36v2m25 20v2" stroke="#ffb600" stroke-width="2" opacity="0.75"/><path d="M744 305v2m17 9v2m9 6v2m9 10v2m9-63v2m8 29v2m0 8v2m4-10v2m5-29v2m7 2v2m0 23v2m4-21v2m3 6v2m2 11v2m1-47v2m0 33v2m0 0v2m0 14v2m1-29v2m0 6v2m0 2v2m3 1v2m1-16v2m2 28v2m5-14v2m0 9v2m1-19v2m1-19v2m0 30v2m1-22v2m0 12v2m1-18v2m0 22v2m1-32v2m0 43v2m1-43v2m0 3v2m2-21v2m0 6v2m0 19v2m0 3v2m2 10v2m1-31v2m0 12v2m1-11v2m0 5v2m1-9v2m3-9v2m1-17v2m2-23v2m0 49v2m1-9v2m2 5v2m0 5v2m1-34v2m1 14v2m1-50v2m0 34v2m0 17v2m1-14v2m0 2v2m0 7v2m0 4v2m1-34v2m0 13v2m2-15v2m0-2v2m0 20v2m1-7v2m1-4v2m2-16v2m0 12v2m0 0v2m0 0v2m3 15v2m0-2v2m0 16v2m1-29v2m1-35v2m0 12v2m0 12v2m1 1v2m1-4v2m1-19v2m0 11v2m0 9v2m1-33v2m0 12v2m1-8v2m2 19v2m3-18v2m1-7v2m1-18v2m0 51v2m2-48v2m1 13v2m0 3v2m0 3v2m1-25v2m0 25v2m3-11v2m0 24v2m1-36v2m0 22v2m0 8v2m3-35v2m0 5v2m0 3v2m1-11v2m0 22v2m3-9v2m3-30v2m0 7v2m1 11v2m1-22v2m0 1v2m1 0v2m2 0v2m0 7v2m0 7v2m0 5v2m1-16v2m2 10v2m3-19v2m1-26v2m7 7v2m0 51v2m2-61v2m0 9v2m8-26v2m1 12v2m4 6v2m7 7v2m0 21v2m3-65v2m5 47v2m0 8v2m2-25v2m7 27v2m1-16v2m5-15v2m1 4v2m1-33v2m1 25v2m3 12v2m3-14v2m14-12v2m73-3v2" stroke="#ffa700" stroke-width="2" opacity="0.75"/><path d="M773 265v2m10 25v2m12 26v2m5-16v2m5 23v2m4-13v2m1-19v2m1-39v2m3 60v2m2-12v2m2 11v2m1-74v2m0 51v2m1-3v2m2 7v2m1-3v2m5-54v2m0 26v2m1 17v2m2-23v2m0 8v2m1-8v2m0 8v2m2-4v2m2-21v2m0-1v2m1-4v2m2 17v2m1-9v2m1-8v2m1 0v2m1 4v2m1-19v2m0 19v2m1 39v2m1-45v2m0-1v2m0 9v2m1-24v2m0 4v2m0 29v2m1-27v2m0 5v2m1-4v2m1-10v2m0 42v2m3-77v2m1 8v2m0 14v2m0 5v2m2-19v2m2 41v2m1-29v2m0 2v2m1 8v2m0 2v2m1-5v2m1-39v2m0 22v2m0 12v2m0 7v2m1-17v2m2-18v2m1 3v2m0 7v2m1-15v2m0 13v2m0 13v2m0 2v2m1-42v2m0 3v2m0 0v2m0 15v2m1-21v2m0 14v2m1-16v2m1 8v2m1 1v2m1-15v2m1-8v2m1 9v2m0 19v2m1-12v2m1 17v2m2-27v2m0 8v2m1-9v2m1-17v2m1 19v2m1-5v2m1-19v2m0 19v2m1-6v2m1-17v2m0 30v2m1-59v2m1 45v2m0-2v2m1-32v2m0 6v2m0 4v2m1-5v2m1-11v2m3 8v2m1-2v2m0 16v2m0 1v2m1-62v2m3 29v2m2-7v2m1-11v2m2 38v2m0 1v2m0 14v2m1-45v2m2-7v2m5-15v2m0 31v2m1-13v2m3-2v2m1 5v2m1-34v2m1 39v2m1 10v2m1-8v2m2-17v2m2-38v2m0 8v2m0 22v2m7-13v2m3 5v2m1 15v2m7-27v2m2 43v2m2-40v2m4-3v2m0 17v2m6-19v2m7-22v2m13 13v2m12 6v2m2-16v2m19-12v2m42-22v2" stroke="#ff9700" stroke-width="2" opacity="0.75"/><path d="M745 288v2m37 12v2m5-16v2m19-1v2m2-6v2m7 16v2m4 0v2m2-16v2m0 23v2m1-38v2m2-4v2m2 17v2m1 15v2m2-16v2m1-29v2m0 11v2m1 27v2m1-10v2m2-33v2m1 53v2m1-8v2m1-34v2m0 14v2m2-15v2m1 4v2m1 44v2m1-30v2m2-25v2m0 3v2m1-10v2m1-5v2m1 9v2m0 6v2m1 5v2m1-37v2m0 8v2m2 25v2m1-29v2m0 8v2m0 26v2m1-27v2m1-39v2m0 35v2m1-18v2m2 6v2m1 0v2m0 17v2m2-2v2m1-38v2m1 24v2m0 9v2m1-24v2m1 11v2m0 3v2m0 4v2m2-17v2m1-38v2m0 8v2m0 5v2m1-8v2m0 43v2m1-13v2m0 15v2m1-68v2m2 31v2m1-17v2m2-1v2m0 4v2m1-8v2m0 5v2m1-1v2m0 13v2m1-30v2m1 19v2m1-21v2m2 19v2m0 16v2m3-30v2m1 6v2m0 0v2m1-18v2m0 11v2m2-30v2m1 11v2m0 18v2m1-12v2m1-10v2m0-1v2m0 4v2m1-1v2m1-23v2m0 48v2m1-38v2m0 22v2m1-10v2m2 0v2m0-1v2m1 12v2m1-23v2m0 6v2m1-3v2m0 0v2m1-4v2m1-21v2m1-9v2m0 9v2m1 6v2m1-13v2m2 5v2m0 17v2m1-34v2m0 19v2m1-26v2m1 17v2m0 10v2m3-45v2m1 41v2m3-37v2m1 24v2m2 9v2m2-43v2m3 16v2m1-9v2m0 19v2m0 14v2m2-48v2m0 39v2m1-34v2m2 5v2m2-14v2m0 3v2m0 0v2m1 23v2m3-25v2m0 3v2m0 12v2m0 11v2m1-59v2m4 21v2m8 0v2m1 32v2m3-79v2m0 58v2m4-50v2m0 18v2m0 29v2m2-23v2m0 19v2m3 8v2m1 5v2m3-48v2m2-3v2m9-30v2m1 67v2m32-62v2m32 4v2" stroke="#ff8800" stroke-width="2" opacity="0.75"/><path d="M758 292v2m17 6v2m3 13v2m9-41v2m5-12v2m3 26v2m1 22v2m2-41v2m0 19v2m4-26v2m1 17v2m7 16v2m5-53v2m0 0v2m0 64v2m2-31v2m10-9v2m0 5v2m1 7v2m2-29v2m2 8v2m1-8v2m2 7v2m0 1v2m1 3v2m0 1v2m3 2v2m1 2v2m1-55v2m1 9v2m0 33v2m1-20v2m1 1v2m0 1v2m2-23v2m0 28v2m0 7v2m1 11v2m1-79v2m0 5v2m0 44v2m1-5v2m0 14v2m2-48v2m1 9v2m0 6v2m1 7v2m1-15v2m0 9v2m0 3v2m0 18v2m1-33v2m0 1v2m1-16v2m0 35v2m1-65v2m0 17v2m0 15v2m1-5v2m1 5v2m0-1v2m1 3v2m1-17v2m0 14v2m0 2v2m0 2v2m1-39v2m1 26v2m1-8v2m0 13v2m1-13v2m1-16v2m0 3v2m0 22v2m1 15v2m1-44v2m0 0v2m1-6v2m0 20v2m0 6v2m2-33v2m0 10v2m1-19v2m0 29v2m1-40v2m0 9v2m0 7v2m0 18v2m1-9v2m1 2v2m1-45v2m1 15v2m0 28v2m1-10v2m0 20v2m1-25v2m0 0v2m0 10v2m0 5v2m1-24v2m1 9v2m1-36v2m1 25v2m1-18v2m0 3v2m2 6v2m0 12v2m1-48v2m1 12v2m0 22v2m0 10v2m1-16v2m1-33v2m0 8v2m0-2v2m1-1v2m0 21v2m1-20v2m0 2v2m0 20v2m1-15v2m0 0v2m0 2v2m1-19v2m0 15v2m1-49v2m0 44v2m1-31v2m0 18v2m1-22v2m0 34v2m0 5v2m1-47v2m0 14v2m1-26v2m0 9v2m0 43v2m1-45v2m1 18v2m2-34v2m0 16v2m0-2v2m0 17v2m1-27v2m1-11v2m2 22v2m0 1v2m0 1v2m0-2v2m1-44v2m0 21v2m0 15v2m0 19v2m2-42v2m0 9v2m2-17v2m0 3v2m1-19v2m0 26v2m1 6v2m1-9v2m0 18v2m1-50v2m1 2v2m0 4v2m0 7v2m0 2v2m0 31v2m1-9v2m1-35v2m2-2v2m1-5v2m2 26v2m2-25v2m4 12v2m4-5v2m2-5v2m1 11v2m1-42v2m2-11v2m0 42v2m0 8v2m1-49v2m0 28v2m1 1v2m6-8v2m1-24v2m1 21v2m4-32v2m0 16v2m4 0v2m8 10v2m12-9v2m8-13v2m29-2v2" stroke="#ff7a00" stroke-width="2" opacity="0.75"/><path d="M738 292v2m10-16v2m27 16v2m4-2v2m10-24v2m6 16v2m7-3v2m3-17v2m0 18v2m2 1v2m4-24v2m1 14v2m2 10v2m6-4v2m1 8v2m2-24v2m1-18v2m0-1v2m1 12v2m1 31v2m1-33v2m0 3v2m1-21v2m1 17v2m0 7v2m1 1v2m2-3v2m1-37v2m0 23v2m1-10v2m1-11v2m0 15v2m3-1v2m1-10v2m0 15v2m1-10v2m2 16v2m1-27v2m0 2v2m1-1v2m2 13v2m2-35v2m0-1v2m0 18v2m1-33v2m6 0v2m2 35v2m0 10v2m1-16v2m1-28v2m1-13v2m0 7v2m0 29v2m1-36v2m0 9v2m0 11v2m1-8v2m0 13v2m2 1v2m1-29v2m0 7v2m1 20v2m0 3v2m2-33v2m0 5v2m0 1v2m1-14v2m0 12v2m0 9v2m1-23v2m0 14v2m1-74v2m0 35v2m0 39v2m1-38v2m1 33v2m1-36v2m1 8v2m2 4v2m1 16v2m2-25v2m1-26v2m1 7v2m0 10v2m2 7v2m1-18v2m0 10v2m1-15v2m2 49v2m1-52v2m1 22v2m1-1v2m1 3v2m1-17v2m0 0v2m0 10v2m3-5v2m2-19v2m0 9v2m1-23v2m1-12v2m4-3v2m0 24v2m0 4v2m0 4v2m1-6v2m2-7v2m2-28v2m0 25v2m0 11v2m1-29v2m1-41v2m4 44v2m0 1v2m1-14v2m1 11v2m1-12v2m1 3v2m3 21v2m1 7v2m2-41v2m0 34v2m4-17v2m0 6v2m1-16v2m1-23v2m0 20v2m1 5v2m4-30v2m2 24v2m1-47v2m0 25v2m1-15v2m0 17v2m1-11v2m1-11v2m1-17v2m3 30v2m0 18v2m2-16v2m2 2v2m3-17v2m3-11v2m4-4v2m8 24v2m1-20v2m6 14v2m7-10v2m3 32v2m1-41v2m10-14v2m37 20v2" stroke="#ff6d00" stroke-width="2" opacity="0.75"/><path d="M761 285v2m31-12v2m8 21v2m1-19v2m13 18v2m0 0v2m6 7v2m2-37v2m9-22v2m3 9v2m1 36v2m4-29v2m3 5v2m4 1v2m2-9v2m0-1v2m1-20v2m1 3v2m0 6v2m0 8v2m3 7v2m0 5v2m4-22v2m0 32v2m1-63v2m2 3v2m0 2v2m0 9v2m2-13v2m2 41v2m1-31v2m3 10v2m1-4v2m1-22v2m3 14v2m0 1v2m1-15v2m1 22v2m0 2v2m2-32v2m0 14v2m1-37v2m0 31v2m1-18v2m1-6v2m1-10v2m0 19v2m0 5v2m3-23v2m0 12v2m1 28v2m2-40v2m0 2v2m0 19v2m1-17v2m2-12v2m2 13v2m0 2v2m2-14v2m0-1v2m0 8v2m1 5v2m1-14v2m0 18v2m0 12v2m3-32v2m0 10v2m7-6v2m1-15v2m0 3v2m0 2v2m0 13v2m4-9v2m2-29v2m4-6v2m4 9v2m5 16v2m1-6v2m3-10v2m3 18v2m1-25v2m1-6v2m2 11v2m1 22v2m2-17v2m0 2v2m2-30v2m1 38v2m7-24v2m0 2v2m1-20v2m0 9v2m10-13v2m26-43v2m14 43v2m13-22v2m35 0v2" stroke="#ff5f00" stroke-width="2" opacity="0.75"/><path d="M791 287v2m0 3v2m17-38v2m8 28v2m10-9v2m3 20v2m1-40v2m6 21v2m4-3v2m0 11v2m2-19v2m2 12v2m1-10v2m2-10v2m1 13v2m3-18v2m0 31v2m6-21v2m1 2v2m4-12v2m1 1v2m4-8v2m1-5v2m0 10v2m2-31v2m0 18v2m3-6v2m1-8v2m1 21v2m2 7v2m2-14v2m1-10v2m2-12v2m3-17v2m1 26v2m0 35v2m2-44v2m0 29v2m4-15v2m1-26v2m0 4v2m2-12v2m2-27v2m1 12v2m1 48v2m0-1v2m0 17v2m1-50v2m8 14v2m3-37v2m0 30v2m2-11v2m1 5v2m3-31v2m1 8v2m17 18v2m1-10v2m2 13v2m1-27v2m0 2v2m7 20v2m3-22v2m2 7v2m6 2v2m6-29v2m3 17v2m1-11v2m0 13v2" stroke="#ff5100" stroke-width="2" opacity="0.75"/><path d="M790 288v2m1-9v2m15 9v2m3-44v2m6 14v2m4 23v2m1-36v2m3 17v2m2 45v2m6-54v2m3 13v2m1-11v2m3 25v2m2-3v2m8-8v2m1-49v2m3 41v2m2 4v2m4-7v2m1-16v2m0 17v2m1-2v2m2-3v2m5-14v2m5-20v2m1-2v2m0 0v2m3 27v2m7-40v2m0 27v2m2-12v2m2 24v2m1-16v2m2-40v2m0 21v2m7-7v2m1 25v2m2-44v2m0 17v2m0 11v2m8-37v2m1 22v2m2 28v2m1-37v2m7 7v2m4-1v2m2 3v2m9-20v2m4 34v2m8-17v2m2-12v2m27-28v2m25 37v2" stroke="#ff4600" stroke-width="2" opacity="0.75"/><path d="M792 267v2m0 13v2m4-5v2m1-3v2m11 21v2m10 7v2m4-11v2m2-28v2m0 6v2m5-8v2m4-6v2m2 23v2m1 1v2m1-39v2m0 29v2m2-28v2m3 27v2m2-9v2m5-18v2m2 3v2m1-30v2m1 26v2m0 6v2m1 13v2m1-27v2m0 14v2m3-24v2m3 29v2m5-20v2m1-30v2m0 5v2m0 0v2m6 18v2m6 15v2m2-29v2m1 5v2m0 2v2m1 4v2m4-24v2m1 15v2m1-27v2m4 17v2m1 1v2m5-7v2m1 18v2m4-44v2m0 21v2m1-9v2m3 17v2m3-35v2m15 17v2m17 12v2" stroke="#ff3b00" stroke-width="2" opacity="0.75"/><path d="M772 254v2m5 20v2m17 1v2m0 1v2m2-2v2m1-25v2m5 21v2m5-15v2m3 12v2m5-25v2m4 36v2m5-43v2m5 3v2m0 25v2m3-24v2m0 8v2m3 3v2m1-41v2m5 27v2m2 16v2m1-25v2m0 9v2m1-11v2m5-4v2m1-7v2m2-17v2m0 15v2m2-3v2m1 35v2m1-23v2m5-31v2m0 17v2m2 16v2m6-25v2m1 12v2m1 7v2m2-16v2m8-5v2m2-21v2m4 25v2m5-20v2m3-2v2m5-5v2m0 34v2m6-23v2m24 4v2m2 2v2m6-2v2m4 16v2" stroke="#ff3000" stroke-width="2" opacity="0.75"/><path d="M787 280v2m3 4v2m4-17v2m4-21v2m11-8v2m0 27v2m5 10v2m1-20v2m1 23v2m2-39v2m1 6v2m0 33v2m11-6v2m1-15v2m2-18v2m1-13v2m1-10v2m1 30v2m1 3v2m1 5v2m1-17v2m4-18v2m1 47v2m1-21v2m4-6v2m3-20v2m2 4v2m6-18v2m1 1v2m0 8v2m1-17v2m3 13v2m2-27v2m1 13v2m7 38v2m3-45v2m0 5v2m2 5v2m0 8v2m1-3v2m6 13v2m2-29v2m0 3v2m2-8v2m2 11v2m6-14v2m8-15v2m5 5v2m1-19v2m11 11v2m9 6v2" stroke="#ff2500" stroke-width="2" opacity="0.75"/><path d="M807 253v2m4 16v2m4-19v2m13 38v2m4-78v2m8 56v2m7-3v2m1-23v2m0 10v2m0 0v2m5-3v2m4 15v2m3-55v2m1 31v2m2-7v2m0 3v2m1 17v2m4-60v2m2 37v2m9-2v2m11-26v2m3 23v2m20-7v2m11 1v2" stroke="#ff1a00" stroke-width="2" opacity="0.75"/><path d="M821 252v2m15 19v2m24 2v2m6 7v2m0 12v2m4-27v2m3-11v2m7 4v2m62-21v2" stroke="#ff0f00" stroke-width="2" opacity="0.75"/><path d="M807 265v2m20 0v2m12 9v2m10-8v2m3-7v2" stroke="#ff0900" stroke-width="2" opacity="0.75"/><path d="M825 264v2m81-12v2" stroke="#ff0600" stroke-width="2" opacity="0.75"/><path d="M771 375v2m10 12v2" stroke="#0000ff" stroke-width="2" opacity="0.75"/><path d="M732 376v2m17-6v2m11-11v2m7 2v2m19 8v2m11 0v2" stroke="#0000ff" stroke-width="2" opacity="0.75"/><path d="M748 364v2m1 19v2m9-22v2m3-1v2m9 1v2m2-10v2m45 10v2" stroke="#0000ff" stroke-width="2" opacity="0.75"/><path d="M737 365v2m8 7v2m2-7v2m3-2v2m0-1v2m7-8v2m8-3v2m3 10v2m9-18v2m2 1v2m5 1v2m2-6v2m2-17v2m5 23v2m5 1v2m3 1v2m1-3v2m2-14v2m8-3v2m2 6v2" stroke="#0016eb" stroke-width="2" opacity="0.75"/><path d="M757 373v2m6-16v2m7-2v2m1 8v2" stroke="#0030d4" stroke-width="2" opacity="0.75"/><path d="M771 356v2m7 9v2m7-1v2m20-10v2" stroke="#004dae" stroke-width="2" opacity="0.75"/><path d="M780 358v2m15 2v2m2-4v2m22-5v2m34 26v2" stroke="#006b86" stroke-width="2" opacity="0.75"/><path d="M779 375v2m15-41v2m14 8v2m5 3v2m15 21v2m2-63v2m11 47v2m3 12v2m2 15v2m8-40v2m8-25v2m15-5v2" stroke="#00816f" stroke-width="2" opacity="0.75"/><path d="M763 368v2m6-25v2m19-1v2m4 1v2m3 16v2m0 5v2m4-32v2m0 19v2m8 0v2m2-32v2m10 39v2m2-41v2m4 10v2m6-8v2m1 4v2m0 0v2m1 11v2m5-31v2m0 35v2m3-34v2m5 2v2m0 11v2m2-17v2m3 21v2m12-40v2m8 25v2m11 5v2" stroke="#009759" stroke-width="2" opacity="0.75"/><path d="M761 349v2m16-2v2m1-3v2m8 2v2m2-3v2m11-15v2m0 12v2m0 4v2m3-19v2m0 10v2m1-24v2m5-6v2m5 14v2m0 5v2m0 15v2m2-30v2m4 5v2m0 11v2m3-19v2m4 38v2m1-27v2m3 3v2m1-28v2m2 34v2m2-31v2m1-11v2m1 11v2m1-10v2m0 23v2m2-28v2m1 18v2m0 1v2m1-5v2m1-18v2m4-2v2m6-30v2m0 18v2m1-18v2m1 34v2m1-22v2m0 17v2m3-14v2m7 9v2m12-7v2m3 5v2m5 9v2" stroke="#00ac44" stroke-width="2" opacity="0.75"/><path d="M753 349v2m1-1v2m2-7v2m10-9v2m2 8v2m2-33v2m0 27v2m7-26v2m3 2v2m0 48v2m2-30v2m4-7v2m0 1v2m1-7v2m5 5v2m2 17v2m1 2v2m1-36v2m3 2v2m1 17v2m1-5v2m1-30v2m0 27v2m2-38v2m1 5v2m1-12v2m0 7v2m1 24v2m1 5v2m1-23v2m1-11v2m1 14v2m1-10v2m0 8v2m4-4v2m2 25v2m1-20v2m3-31v2m1 35v2m1-43v2m0 36v2m2-33v2m0 4v2m1 1v2m0 1v2m3-3v2m1 0v2m0 0v2m2-6v2m2-18v2m1 5v2m0 13v2m1-36v2m1 4v2m0 23v2m0 6v2m2-16v2m0 10v2m1-27v2m0 13v2m0 6v2m0 0v2m1-4v2m3-14v2m1-15v2m1 40v2m1-58v2m7 9v2m3 12v2m0 29v2m3-22v2m3-19v2m1 1v2m0 16v2m2-32v2m4 20v2m17-12v2m3-1v2" stroke="#00c031" stroke-width="2" opacity="0.75"/><path d="M739 313v2m1 17v2m12 21v2m5-15v2m1-6v2m2-9v2m5 16v2m6-39v2m0 21v2m3-14v2m3 14v2m11-16v2m2-4v2m1 26v2m2-22v2m0 18v2m2-14v2m1-12v2m1 11v2m1-12v2m1-2v2m0 11v2m1 8v2m1-52v2m0 32v2m0 9v2m2-21v2m0 6v2m0 15v2m1-20v2m2 3v2m1 15v2m2-12v2m0-1v2m2-44v2m0 10v2m0 15v2m0 9v2m1-52v2m0 55v2m1-12v2m1 22v2m1-54v2m0 1v2m0-1v2m0 0v2m0 15v2m0-1v2m0 14v2m1-43v2m1 11v2m0 2v2m1-5v2m0 6v2m0-1v2m0 29v2m1-4v2m1-11v2m3-41v2m0 6v2m1-9v2m0 19v2m1 0v2m1-18v2m1-5v2m0 3v2m0 14v2m3-13v2m1 13v2m0 7v2m3-30v2m0 27v2m1-9v2m2-12v2m1-39v2m0 22v2m0 27v2m2-30v2m3-5v2m2-3v2m0 10v2m0 15v2m1-21v2m0 13v2m1-11v2m2-49v2m0 23v2m0 11v2m0 19v2m1-24v2m0-2v2m1-5v2m1 6v2m1-3v2m2 44v2m3-53v2m1 11v2m0 5v2m2-31v2m11-12v2m0 22v2m5 1v2m4 16v2m5-16v2m43 3v2" stroke="#00d51f" stroke-width="2" opacity="0.75"/><path d="M740 318v2m11 36v2m20-25v2m1 17v2m1-31v2m1-13v2m3 25v2m2-2v2m1-5v2m1 16v2m2-29v2m0 19v2m2-8v2m1-34v2m1 12v2m0 22v2m3-56v2m0 30v2m0 33v2m1-27v2m0 9v2m1-13v2m0 2v2m1-20v2m0-1v2m2 11v2m1-6v2m1 6v2m1-28v2m0 17v2m1-10v2m0 32v2m0 11v2m0 7v2m1-37v2m0 2v2m1-35v2m0 41v2m1-16v2m1-40v2m1 29v2m0-1v2m1-3v2m1-38v2m0 12v2m0 16v2m0 4v2m0 5v2m1-34v2m0 38v2m3 8v2m0-1v2m1-24v2m0 6v2m2-33v2m0 18v2m0 20v2m0 1v2m1-29v2m1 6v2m1-19v2m1-12v2m0 43v2m1-57v2m0 29v2m2 10v2m1-29v2m2-12v2m0 17v2m1 2v2m0 1v2m0 0v2m2-4v2m0 3v2m1-29v2m0 22v2m0 11v2m1-45v2m0 7v2m0 3v2m0 3v2m0-1v2m1-18v2m1 8v2m0 3v2m1 14v2m1-7v2m0 2v2m1-14v2m1-5v2m1 1v2m1-6v2m0 2v2m0 7v2m1-12v2m1-35v2m0 38v2m1-29v2m0 6v2m1-13v2m0 12v2m0 7v2m0 0v2m0-1v2m0 14v2m1-24v2m1 18v2m1-41v2m0 14v2m0 20v2m2-27v2m0 20v2m2-40v2m1 6v2m1 10v2m2-3v2m0 19v2m3-12v2m1-13v2m0-1v2m1 5v2m1 4v2m0 10v2m1-25v2m1 13v2m0 7v2m2-9v2m1-6v2m1-5v2m2-19v2m0 21v2m6-17v2m3-11v2m1 21v2m1-15v2m6-14v2m5 10v2m0 4v2m2-8v2m3-2v2m6-3v2m12-24v2" stroke="#00e90c" stroke-width="2" opacity="0.75"/><path d="M735 340v2m4-13v2m4 10v2m6-11v2m1 7v2m8-45v2m4 35v2m1-32v2m5 16v2m0 9v2m1-3v2m6-7v2m4 6v2m1 11v2m1-17v2m0 7v2m1-30v2m0 32v2m0 2v2m3-20v2m1-5v2m0 3v2m2 7v2m2-12v2m0 18v2m1-47v2m2 22v2m0 2v2m2-36v2m1-4v2m0 13v2m0 34v2m0 8v2m1-54v2m0 23v2m0-1v2m1-34v2m0 62v2m1-66v2m2 26v2m2-5v2m0 14v2m1-24v2m0 10v2m0 1v2m3-20v2m0 2v2m1-29v2m0 38v2m2 1v2m2 2v2m3 11v2m1-30v2m0 7v2m0 7v2m1-37v2m1-10v2m1 49v2m1-12v2m1-31v2m0 8v2m0 13v2m0 6v2m2-30v2m0 15v2m1-32v2m0 12v2m0 0v2m0 22v2m1-25v2m0 16v2m1-11v2m0 50v2m1-60v2m1 4v2m0 33v2m1-42v2m1 7v2m0-1v2m0 1v2m0 9v2m0-2v2m1-23v2m0 4v2m2-25v2m0 1v2m0 0v2m1 10v2m0 0v2m2-15v2m0 29v2m1-39v2m0 10v2m0 15v2m1-25v2m0 6v2m0 2v2m0 21v2m0 3v2m2-28v2m0 17v2m1-47v2m0 2v2m0 6v2m0 5v2m0 28v2m1-14v2m1-44v2m0 26v2m0 8v2m2-43v2m0 29v2m1 12v2m0 6v2m1-31v2m0 6v2m1-21v2m0-1v2m0 30v2m1-11v2m3 0v2m1-36v2m3 14v2m0 17v2m1-18v2m0 25v2m2-35v2m0 14v2m2 5v2m0 21v2m3-65v2m0 5v2m1 32v2m4 3v2m3-33v2m0 7v2m0 10v2m8-19v2m0-2v2" stroke="#11ee04" stroke-width="2" opacity="0.75"/><path d="M745 344v2m11-18v2m1 29v2m1-28v2m3 10v2m7-32v2m3 8v2m3-9v2m0 7v2m7-11v2m1 10v2m2-10v2m2-2v2m0 24v2m1-12v2m3-31v2m2 22v2m2-7v2m1 23v2m4-53v2m1 1v2m1 39v2m2-17v2m1-2v2m1-1v2m1-2v2m2-3v2m0 9v2m0 2v2m1-14v2m3 12v2m0 18v2m1-32v2m1-34v2m0 17v2m0 9v2m1 6v2m1-18v2m0 23v2m3-40v2m0 5v2m0 3v2m6-10v2m1 34v2m2-12v2m0 24v2m1-36v2m0 6v2m1-35v2m4 22v2m0 7v2m4-36v2m1 4v2m2 2v2m0 3v2m0 20v2m2-55v2m0 19v2m0 10v2m0 11v2m1 24v2m2-22v2m2-25v2m0 22v2m1-22v2m1-12v2m2 2v2m2 2v2m2-6v2m0 2v2m3 11v2m0 5v2m3-39v2m0 22v2m3 6v2m3 23v2m1-68v2m1 15v2m11 12v2m0 13v2m2 9v2m1-23v2m5-22v2m10 0v2m0 13v2m5-27v2m0 19v2m7-7v2m130-57v2" stroke="#2ded00" stroke-width="2" opacity="0.75"/><path d="M755 325v2m3-2v2m7 5v2m5-16v2m1 5v2m2 17v2m1-23v2m6 2v2m2 25v2m1-52v2m2 19v2m1 2v2m1-8v2m1-2v2m0 14v2m1-1v2m1-24v2m1 5v2m3 4v2m1 16v2m1-22v2m2-9v2m1 14v2m0 10v2m1-43v2m1-4v2m7-7v2m1 20v2m0 25v2m4-28v2m2-2v2m1-6v2m2-4v2m2-3v2m0 13v2m1-7v2m0 3v2m0-1v2m1-4v2m0 6v2m0 5v2m1-29v2m1 18v2m2-4v2m5-33v2m0 27v2m3 42v2m4-63v2m0 10v2m0 11v2m0-1v2m2-28v2m1-8v2m0 3v2m1-12v2m0 33v2m1-25v2m1 4v2m2 6v2m1-10v2m1-9v2m0-2v2m3 16v2m1-28v2m2 11v2m4 9v2m1-27v2m2 10v2m1 4v2m1 16v2m1-44v2m11 36v2m4-9v2m3-6v2m8-7v2m1-2v2" stroke="#5fe300" stroke-width="2" opacity="0.75"/><path d="M743 331v2m22-21v2m10-2v2m8-4v2m1-15v2m5 27v2m1 6v2m1-28v2m1 0v2m1 42v2m11-44v2m0 2v2m1 4v2m1-29v2m2 18v2m2-6v2m1 16v2m3-30v2m0 7v2m0-2v2m4 15v2m0 17v2m1-56v2m0 32v2m0 15v2m0 0v2m1-14v2m1 7v2m2-43v2m0 55v2m1-55v2m4 5v2m2 19v2m2-60v2m1 56v2m0 0v2m2-33v2m0 3v2m1 4v2m0-2v2m1-2v2m2 22v2m1-18v2m4 23v2m2-34v2m1 3v2m7-5v2m0 2v2m3 14v2m0 7v2m1-22v2m6-18v2m1 21v2m5 18v2m1-56v2m1 39v2m1-15v2m0 1v2m2-16v2m1 2v2m2-15v2m3 11v2m2 3v2m2-31v2m0 29v2m3-21v2m1 3v2m1 1v2m2-13v2m2 11v2m1-14v2m1 24v2m0 2v2m1-7v2m2-24v2m9 12v2m22-4v2m12-44v2m4-26v2m1 29v2m47-15v2" stroke="#8bda00" stroke-width="2" opacity="0.75"/><path d="M749 312v2m5 30v2m9-24v2m1-3v2m5 0v2m12-8v2m12-11v2m0 16v2m0 3v2m4-30v2m1 33v2m4-29v2m1-12v2m0 35v2m2-27v2m0 30v2m3-20v2m5-14v2m0 19v2m1-36v2m1 23v2m2-30v2m1 9v2m1 11v2m1-16v2m0 12v2m0 23v2m4-43v2m0 4v2m4 12v2m1 18v2m2-9v2m1-42v2m1 20v2m1-24v2m0 22v2m0 6v2m1-12v2m1-19v2m0 21v2m0 0v2m0 1v2m1-4v2m0 6v2m1 0v2m1-48v2m0 24v2m0 4v2m1-21v2m0 17v2m1-33v2m0 22v2m0 4v2m0 11v2m1-1v2m1-7v2m1-18v2m0 6v2m1-17v2m1-11v2m0 6v2m1 6v2m1-17v2m0 12v2m2-20v2m0 38v2m0 7v2m1-38v2m3 23v2m1-48v2m0 11v2m0 16v2m0 9v2m1-22v2m0 14v2m2-33v2m0 12v2m0 29v2m1-22v2m1-17v2m1 2v2m1-16v2m0 6v2m1-19v2m2 22v2m1-8v2m2 9v2m1-18v2m1-15v2m0 11v2m0 37v2m2-38v2m2-3v2m1 10v2m1-16v2m2 15v2m1-7v2m0 13v2m1-8v2m1-21v2m0 23v2m3-12v2m2-14v2m0 11v2m3-10v2m2 28v2m1-29v2m1 17v2m0 3v2m5-20v2m1-45v2m1 32v2m1 32v2m1-25v2m7-11v2m3 26v2m3-2v2m3-28v2m0 5v2m2-5v2m0-2v2m4-25v2m0 23v2m1-18v2m1 29v2m11-55v2m3-16v2m9 71v2m5-39v2m4-32v2m5-5v2m0 33v2m6-38v2m8-11v2m3 30v2" stroke="#a9d300" stroke-width="2" opacity="0.75"/><path d="M772 315v2m17-3v2m5-29v2m2 23v2m6 5v2m1-8v2m2-13v2m0 21v2m0-1v2m3-23v2m1 1v2m3 23v2m0 1v2m1-45v2m1 18v2m0 2v2m2-17v2m0 2v2m1 13v2m2-23v2m1 15v2m1-34v2m0 9v2m0 20v2m0 3v2m0 3v2m2-20v2m3 27v2m1-31v2m1-15v2m0 40v2m0 1v2m1-46v2m2 9v2m0 7v2m1 7v2m0 15v2m1-49v2m0 24v2m0 7v2m2-18v2m1 11v2m0 12v2m1-59v2m0 5v2m2 48v2m3-32v2m0 29v2m2-55v2m0 24v2m2 4v2m1-17v2m0 8v2m1-30v2m2 22v2m0 27v2m1-26v2m1-21v2m0 19v2m0 29v2m2-30v2m1-19v2m0 6v2m0 10v2m0 8v2m1-29v2m0 0v2m0 20v2m1-32v2m1 7v2m1-8v2m0 15v2m0 17v2m1-12v2m1-33v2m0 15v2m2-37v2m0 27v2m0 22v2m2-15v2m1-23v2m2 3v2m0 0v2m0 5v2m0 5v2m1-22v2m0 32v2m1-37v2m0 6v2m2 10v2m1 14v2m1-36v2m0 21v2m1-27v2m0 17v2m0 13v2m1-29v2m0 2v2m2-20v2m1 0v2m2-9v2m0 32v2m3-24v2m1 6v2m4-13v2m0 22v2m1 10v2m1-12v2m2-6v2m2 7v2m1-26v2m1 11v2m1-12v2m1 6v2m1 18v2m1-29v2m0-2v2m0 1v2m0 17v2m3-4v2m3-1v2m6-25v2m1-1v2m1 11v2m1-48v2m0 22v2m2 1v2m3 23v2m5-6v2m1-8v2m1 15v2m1-13v2m9-31v2m1 32v2m1-38v2m4 15v2m4-27v2m4 28v2m2-11v2m18 8v2m5 16v2m0 6v2m7-105v2m3 21v2m5 12v2m9 13v2m8-35v2" stroke="#c8cc00" stroke-width="2" opacity="0.75"/><path d="M756 301v2m4 5v2m9 24v2m1-11v2m10-6v2m1-1v2m3-26v2m6 13v2m2 0v2m0 4v2m4 2v2m1-29v2m1-13v2m2 32v2m3-26v2m1 31v2m1-63v2m0 41v2m0 4v2m1 8v2m2-24v2m0 19v2m1-38v2m0 16v2m0 17v2m3-20v2m1 0v2m0 3v2m1-12v2m0 8v2m1-23v2m3 1v2m0 17v2m1-27v2m0 14v2m1-2v2m0 1v2m1 6v2m0 9v2m2-24v2m0 2v2m1-4v2m0 0v2m0 11v2m2-34v2m1 10v2m0-1v2m1-9v2m2 9v2m1-7v2m1 5v2m1 15v2m0-1v2m1-39v2m0 29v2m2-16v2m1-9v2m0 16v2m2-35v2m0 21v2m1-14v2m0 6v2m0 15v2m1-1v2m2-23v2m0 35v2m1-50v2m2 19v2m2 13v2m0 1v2m1-39v2m0 15v2m0 0v2m0 2v2m1-9v2m0 1v2m1 4v2m1-4v2m0 2v2m0 1v2m1-13v2m0 1v2m0 5v2m0 6v2m1-28v2m1-3v2m1-18v2m0 3v2m0 15v2m0 7v2m1 7v2m1-40v2m0 17v2m0-1v2m1 25v2m1-62v2m0 44v2m1-8v2m1-12v2m0 11v2m1-8v2m1-14v2m0 2v2m0 2v2m0-1v2m1-8v2m0 18v2m0 18v2m1-59v2m0 23v2m0-2v2m1-18v2m1 16v2m1-31v2m0 35v2m0 8v2m1-42v2m0 21v2m1-33v2m0 18v2m0 2v2m0 10v2m1-28v2m0 2v2m0 4v2m0-2v2m0 10v2m1 13v2m2-60v2m0 18v2m0 7v2m0-1v2m0 9v2m1-1v2m0 15v2m1-30v2m0 2v2m1 13v2m1-33v2m0 21v2m1-1v2m1 1v2m1-54v2m0 11v2m1 38v2m1-46v2m0 20v2m0 14v2m1-14v2m0 16v2m2-23v2m0 13v2m4-4v2m1-24v2m0 6v2m0 0v2m0 22v2m1-32v2m0 7v2m0 5v2m0 6v2m0 5v2m2-30v2m2 14v2m1-17v2m1-24v2m1 51v2m1-53v2m0 32v2m0 16v2m1-35v2m1 24v2m1-6v2m2-45v2m0 18v2m0 25v2m1-16v2m0 5v2m0 1v2m1-15v2m0-2v2m0 6v2m3-2v2m0 2v2m0 28v2m1-50v2m0 0v2m0 33v2m3-44v2m2 2v2m2 17v2m1 5v2m2-1v2m1-8v2m1 6v2m1-20v2m0 2v2m3-26v2m0 39v2m1-6v2m4-11v2m0 4v2m2-17v2m3-51v2m0 32v2m0 4v2m1-33v2m0 25v2m2 18v2m1-63v2m0 62v2m5-49v2m0 14v2m3 14v2m2-24v2m3-6v2m1 17v2m0 5v2m2 13v2m9-30v2m4-53v2m1 22v2m10 21v2m1-34v2m11 42v2m19-9v2m24-19v2" stroke="#e1c600" stroke-width="2" opacity="0.75"/><path d="M774 318v2m2 25v2m4-23v2m11-20v2m12 2v2m2-22v2m3 5v2m3 14v2m0 8v2m2-19v2m3-11v2m0 2v2m3 7v2m0 29v2m2-31v2m0 2v2m1 2v2m0 13v2m1-22v2m1-10v2m0 18v2m1-38v2m0 9v2m0 12v2m1-8v2m1-25v2m1 13v2m0-1v2m0 0v2m1-7v2m1-4v2m0-1v2m0 3v2m0 8v2m0 21v2m2-67v2m0 34v2m0 11v2m1-24v2m0 0v2m0 19v2m1-11v2m1 21v2m1-48v2m0 1v2m0 26v2m2-25v2m1 17v2m0 0v2m1-3v2m0 10v2m1-8v2m1-28v2m0-1v2m1-7v2m0 27v2m0 2v2m1-30v2m0 30v2m1-23v2m0 6v2m0 5v2m1-5v2m0 2v2m1-33v2m0 8v2m1-1v2m0 3v2m1-17v2m0 22v2m0 3v2m1-37v2m0 11v2m0 6v2m0-1v2m1-26v2m0 9v2m0 3v2m0-1v2m0 11v2m1-23v2m0 12v2m0 0v2m0 6v2m0 5v2m1-24v2m0 4v2m1 3v2m1-22v2m1 17v2m0 23v2m1-41v2m0 16v2m3-4v2m1-36v2m0 12v2m0 25v2m0 0v2m1-43v2m0 1v2m0 12v2m0 4v2m0-1v2m0 30v2m1-41v2m0 3v2m0 12v2m0 27v2m2-44v2m0 1v2m0 10v2m0 10v2m0 8v2m2-27v2m0 10v2m1-22v2m0 4v2m2-1v2m0 12v2m1-22v2m0-1v2m1 3v2m1-34v2m0 10v2m1-15v2m0 17v2m0 0v2m0 11v2m0 9v2m2-20v2m0 13v2m0 9v2m1-56v2m0 13v2m0 13v2m1-11v2m0 2v2m1-17v2m0 2v2m0 0v2m0 36v2m1-16v2m1-9v2m1 10v2m0 0v2m1-32v2m0 3v2m0-1v2m2-19v2m0 0v2m1 3v2m0 5v2m1-4v2m0 11v2m1-21v2m1 0v2m1 10v2m0 21v2m0 1v2m2-27v2m0 8v2m0 3v2m1-24v2m1 12v2m2-1v2m1-20v2m1 21v2m1-43v2m0 10v2m0 22v2m1-25v2m1 16v2m1 2v2m2-8v2m2 1v2m1-14v2m0 23v2m2-42v2m0 17v2m0 6v2m0 3v2m2-18v2m1 7v2m2-17v2m0 15v2m0-2v2m1-11v2m0 0v2m1 12v2m1-49v2m0 27v2m0 25v2m1-34v2m0 4v2m0 0v2m4 43v2m3-19v2m2-27v2m1-1v2m0 22v2m1-51v2m0 3v2m0 14v2m3 2v2m2 0v2m1-1v2m4-37v2m1 1v2m0 17v2m1 23v2m1-36v2m2 5v2m1-38v2m1 68v2m1-67v2m2 42v2m1-29v2m2 3v2m1-30v2m1 27v2m0 23v2m2-27v2m3-28v2m3 50v2m6-37v2m19 25v2m2-76v2m17 12v2m1 16v2m61-21v2" stroke="#f5c000" stroke-width="2" opacity="0.75"/><path d="M768 281v2m5-10v2m14 28v2m3 11v2m1-12v2m1-6v2m0 43v2m4-41v2m2-18v2m3-19v2m2 26v2m4 10v2m0 21v2m3-47v2m2 2v2m3 5v2m2 5v2m4-4v2m0-1v2m3-15v2m1 7v2m0 3v2m3-21v2m0 18v2m1-33v2m0 19v2m0 11v2m0 7v2m2-7v2m1 16v2m1-51v2m1 41v2m1-46v2m0 3v2m0 7v2m5-4v2m0 1v2m0 9v2m0 12v2m1-23v2m0 15v2m2-7v2m0 4v2m0 1v2m1-12v2m1-30v2m0 11v2m0 6v2m0 32v2m1-43v2m0-2v2m0 13v2m1-1v2m1-17v2m0 0v2m1-8v2m1-2v2m0 6v2m1-17v2m1 13v2m3-21v2m0-1v2m0 8v2m0 6v2m0 9v2m1-54v2m2 20v2m0 4v2m2 12v2m0 23v2m1-31v2m0-2v2m1-3v2m0 5v2m1-15v2m0 32v2m0 9v2m1-55v2m0-1v2m0 14v2m1 21v2m2-35v2m1 27v2m1-21v2m0 6v2m1-23v2m0 2v2m0 7v2m0-2v2m1 15v2m1-24v2m0 12v2m0 5v2m1 16v2m1-32v2m1-11v2m0 10v2m1 6v2m1-30v2m0 34v2m0 2v2m2-52v2m1 20v2m0 0v2m4-32v2m0 15v2m0 19v2m0 23v2m1-61v2m1-3v2m0 3v2m0 24v2m1 15v2m0 0v2m1-34v2m1-4v2m0 29v2m1-41v2m0 13v2m1 49v2m1-62v2m0 17v2m0 4v2m4-31v2m1 22v2m2-16v2m1 3v2m0 2v2m1-22v2m1 29v2m1-1v2m2-31v2m0 8v2m1 27v2m2-71v2m0 22v2m1 4v2m0-1v2m0 12v2m0 8v2m1-54v2m2 33v2m1-1v2m0 17v2m1-23v2m2-31v2m1 27v2m0 18v2m0 1v2m3-33v2m2 10v2m2 13v2m1-2v2m3-5v2m1-19v2m0 9v2m1 8v2m1 1v2m2 12v2m2-18v2m1 2v2m2-45v2m0 2v2m1 10v2m0-1v2m1 19v2m1-18v2m4-41v2m0 20v2m4-10v2m0 6v2m3-21v2m0 6v2m2-7v2m1 28v2m5-5v2m1 26v2m1-66v2m2-12v2m1 39v2m0 8v2m11-24v2m0 8v2m11-29v2m5 33v2m7-7v2m1 21v2m3-8v2m21-42v2m4 0v2m9 48v2" stroke="#ffb600" stroke-width="2" opacity="0.75"/><path d="M760 316v2m20-16v2m1-16v2m2-8v2m11 28v2m1 4v2m7 13v2m4-32v2m1-18v2m6-7v2m1 15v2m0 7v2m0 8v2m1-12v2m1-36v2m0 22v2m0 6v2m1-17v2m0 1v2m1 13v2m4-11v2m3-13v2m1-2v2m0 14v2m0 6v2m0 8v2m3-27v2m1 11v2m1-2v2m1 4v2m1-10v2m2 14v2m1-22v2m3-30v2m0 36v2m1 7v2m2-11v2m1-13v2m3 21v2m1-1v2m2-19v2m0 0v2m2-3v2m1-13v2m3-14v2m0 15v2m0 10v2m1-41v2m1 8v2m0 17v2m0 0v2m0 9v2m1-20v2m0 16v2m1-32v2m1 6v2m0 5v2m1-45v2m0 21v2m0 9v2m0 33v2m1-39v2m0 2v2m0 25v2m1-6v2m1-28v2m0 14v2m2 9v2m1-57v2m0 58v2m1-37v2m1 13v2m0 8v2m2-19v2m0 34v2m1-48v2m1-12v2m0 14v2m0 14v2m0 2v2m2-26v2m2-6v2m0 15v2m1-11v2m2 0v2m1-16v2m0 23v2m1-21v2m1 4v2m0 1v2m0 12v2m0 3v2m1-29v2m1 7v2m0 13v2m1 4v2m0-1v2m0-1v2m2-22v2m0 2v2m1 6v2m1-54v2m3 36v2m2 20v2m2-17v2m0-1v2m3-19v2m0 2v2m0 13v2m0 2v2m2-18v2m0 6v2m0 0v2m3-15v2m0 14v2m1-21v2m1 17v2m1-11v2m0 52v2m1-73v2m0 0v2m1 12v2m1 11v2m2-41v2m0 37v2m2-45v2m0 31v2m0 3v2m1-28v2m1 15v2m3-22v2m0 16v2m0 2v2m0 15v2m2-17v2m0 3v2m1-20v2m1-12v2m9 11v2m3-16v2m2-9v2m0 9v2m9 32v2m4-32v2m0 30v2m1-26v2m0 4v2m3-2v2m2-41v2m9 3v2m10 13v2m2 9v2m5 8v2m2-13v2m7 4v2m24-13v2m4-18v2m18 4v2m20 9v2m8-19v2m6-21v2" stroke="#ffa700" stroke-width="2" opacity="0.75"/><path d="M773 300v2m1 0v2m9-10v2m21-24v2m1 40v2m4-19v2m0 6v2m2 12v2m1-5v2m2 11v2m6-3v2m2-34v2m1-11v2m7 13v2m1-10v2m1 14v2m2-14v2m0 0v2m0 18v2m6-29v2m0 17v2m0 10v2m1-23v2m0 4v2m0 11v2m1-14v2m0 0v2m1-10v2m1 4v2m1 1v2m0 9v2m1-48v2m0 32v2m1-21v2m0 0v2m3 1v2m0 19v2m1-37v2m2 42v2m1-32v2m0 3v2m0 8v2m2-48v2m0 16v2m0 17v2m0 12v2m1-34v2m0 24v2m1-12v2m0 2v2m1-28v2m0 3v2m0 27v2m0 3v2m3-8v2m1-13v2m0 11v2m1 4v2m1-3v2m5-38v2m1 0v2m1-12v2m0 19v2m1-36v2m0 28v2m0 0v2m0 7v2m2 0v2m1-6v2m0 9v2m4-33v2m0 6v2m2-12v2m0 16v2m0 35v2m1-64v2m2 26v2m1 2v2m1-32v2m0 19v2m0 1v2m1-3v2m0 3v2m0 19v2m0 0v2m3-58v2m0 56v2m1-35v2m0 12v2m2-2v2m1-6v2m0 19v2m4-28v2m1-3v2m1-5v2m0 8v2m1-16v2m0 21v2m2 3v2m5-22v2m4-5v2m3 17v2m1-5v2m2-31v2m0 30v2m3-12v2m3-10v2m1-3v2m0-1v2m0 13v2m1 2v2m1-44v2m0 16v2m4 30v2m1-25v2m1-11v2m3-8v2m1-7v2m0 32v2m1-18v2m1-42v2m0 28v2m2 7v2m1 4v2m3-13v2m5-5v2m3 18v2m1-11v2m6-27v2m0 5v2m0 34v2m4 11v2m1-56v2m10 1v2m1-23v2m0 25v2m3-5v2m6 2v2m7 9v2m21-14v2m24-15v2" stroke="#ff9700" stroke-width="2" opacity="0.75"/><path d="M779 296v2m1 3v2m1-1v2m7 7v2m1-32v2m0 32v2m5-28v2m5-17v2m1 22v2m4-8v2m4 6v2m1-8v2m1 8v2m1 8v2m2-24v2m7 15v2m1-6v2m6-4v2m2-19v2m0 5v2m0 14v2m0 0v2m1-37v2m1 32v2m2-7v2m1-25v2m0 4v2m2-35v2m1 43v2m1-22v2m0 35v2m1-21v2m3-7v2m0 5v2m1-9v2m0-2v2m0 30v2m1-11v2m2-9v2m1-22v2m0 5v2m0 0v2m1-2v2m0 0v2m0 2v2m1-11v2m1 34v2m2-25v2m1-12v2m0-1v2m1 5v2m1 0v2m1-21v2m0 26v2m1-31v2m0 6v2m2-7v2m1-19v2m0 23v2m0 7v2m0 0v2m1-10v2m1-25v2m2 30v2m1-32v2m0 28v2m1-37v2m0 19v2m0 7v2m1-27v2m0 13v2m0 2v2m1-14v2m0 7v2m0-2v2m1 15v2m0 13v2m2-27v2m1-15v2m1-21v2m0 20v2m1 18v2m2-54v2m0 26v2m1-4v2m1 7v2m1-38v2m0 31v2m0 3v2m1-8v2m0 0v2m0 3v2m1-22v2m0 27v2m1-29v2m0 21v2m2-22v2m0 12v2m1 9v2m1 4v2m2-22v2m0 0v2m0 1v2m1-35v2m0 8v2m2-25v2m1 3v2m0 21v2m0 12v2m3 4v2m2-27v2m0 37v2m1-34v2m0 5v2m0 4v2m1-10v2m1 26v2m1-21v2m0 26v2m3-56v2m0 28v2m1-12v2m0 11v2m3-15v2m1-6v2m0 21v2m1-32v2m0-1v2m1 8v2m1-14v2m0 12v2m0 25v2m1-40v2m3-5v2m0-1v2m5 16v2m1-17v2m0 22v2m3-9v2m1-15v2m1-25v2m3 37v2m0 4v2m2-7v2m1-4v2m1 8v2m3-33v2m0-1v2m0 12v2m1-14v2m0 5v2m7-13v2m0 13v2m1 19v2m5-21v2m2 4v2m3-25v2m0 21v2m5-37v2m1 9v2m0 2v2m17-2v2m3 4v2m4-3v2m3-7v2m20-13v2" stroke="#ff8800" stroke-width="2" opacity="0.75"/><path d="M772 276v2m6 19v2m16-11v2m5 20v2m5-19v2m0 4v2m3-10v2m5-11v2m4 9v2m3-17v2m0 32v2m1-19v2m1 9v2m0-2v2m8-22v2m1 9v2m1-13v2m1-5v2m0 3v2m0 6v2m2 22v2m1-20v2m3-27v2m0 15v2m1-13v2m0 0v2m1-35v2m1 39v2m1 2v2m1 1v2m2 5v2m2-38v2m1 37v2m1-6v2m0 5v2m1-12v2m0-2v2m3 7v2m1-3v2m2-29v2m1-8v2m0 23v2m3-18v2m0 2v2m0 21v2m1-8v2m0 15v2m1-37v2m1 4v2m1-22v2m2 15v2m1-16v2m0 22v2m2-6v2m2-24v2m0 3v2m0 19v2m1-1v2m1-13v2m0 38v2m1-45v2m0 7v2m0 7v2m1-30v2m1 20v2m1-4v2m1-18v2m0 10v2m0 0v2m1-17v2m0 7v2m1 12v2m0 10v2m1-33v2m0 1v2m1 4v2m0 18v2m1-38v2m0-1v2m0 40v2m3-26v2m0 5v2m1 3v2m1-2v2m2-17v2m0 2v2m2-42v2m0 43v2m2-19v2m1-13v2m0 3v2m0 9v2m0 8v2m1-14v2m0 29v2m1-23v2m2-16v2m0 29v2m0 5v2m1-39v2m1 1v2m0 17v2m1 4v2m1-23v2m0 12v2m3-2v2m1-26v2m1 30v2m2-8v2m1-22v2m0 6v2m0-1v2m0 10v2m1-10v2m1-30v2m0 9v2m0 25v2m1-56v2m0 29v2m1-2v2m2-25v2m3 27v2m0 6v2m2 0v2m1-17v2m1-12v2m2-52v2m0 77v2m1-6v2m1 12v2m2-16v2m1-22v2m4-9v2m2 18v2m1 15v2m6-40v2m0 9v2m0 10v2m1-19v2m0 3v2m0 5v2m1-3v2m4-11v2m0 19v2m1-24v2m0 12v2m2 3v2m2 3v2m7-28v2m6 3v2m4 12v2m8 5v2m12-29v2m1-16v2m7 34v2m13-18v2m2-48v2m18 49v2" stroke="#ff7a00" stroke-width="2" opacity="0.75"/><path d="M779 253v2m6 29v2m10 16v2m3-8v2m7 6v2m3-24v2m0 10v2m0 9v2m6-39v2m2 5v2m0 5v2m0 17v2m4 3v2m3-35v2m5 34v2m1-9v2m3-38v2m0 5v2m1-5v2m0 9v2m2 14v2m1-44v2m0 36v2m1-10v2m0 10v2m1 3v2m2-31v2m0 10v2m0 29v2m1-22v2m1-7v2m0 31v2m2-53v2m1-5v2m0 11v2m0 13v2m1-16v2m0 41v2m1-31v2m1 8v2m1-36v2m0 51v2m1-43v2m1-2v2m0 12v2m2-14v2m0 11v2m0 8v2m1-18v2m1-10v2m3-12v2m1-1v2m0 2v2m0 5v2m1 2v2m1-13v2m1-19v2m0 3v2m0 40v2m1-14v2m1-6v2m0 8v2m1-53v2m0 20v2m0 20v2m0 28v2m1-37v2m1 3v2m0-1v2m1-33v2m0 19v2m0 5v2m1-20v2m1-1v2m1 17v2m2 22v2m1-32v2m1-9v2m1-13v2m0-1v2m0 13v2m0 13v2m1-27v2m3-12v2m0 22v2m0-2v2m1 0v2m2-2v2m0 5v2m1 2v2m2-29v2m0 3v2m0 3v2m0 24v2m1-48v2m0 15v2m0 0v2m0 0v2m0 18v2m1-24v2m1 13v2m0 3v2m1-13v2m3-29v2m0 10v2m0 0v2m0-2v2m0 0v2m0 18v2m1-15v2m1-27v2m2 15v2m1 4v2m2-21v2m0 30v2m2-13v2m1-3v2m0 15v2m1-14v2m2-31v2m0 10v2m2 24v2m2-48v2m1 11v2m1-6v2m3 18v2m0 0v2m0 10v2m2-42v2m0 13v2m0 15v2m1-9v2m0 9v2m0 16v2m2-14v2m3-8v2m2-19v2m1-20v2m2 20v2m0-1v2m2-25v2m1 18v2m7-13v2m2 10v2m0 14v2m1-22v2m1-33v2m0 12v2m1 25v2m4 8v2m1-17v2m0 12v2m9-26v2m0 27v2m1-47v2m0 3v2m1 53v2m5-32v2m1 6v2m3-32v2m5 20v2m1 6v2m3-36v2m1 40v2m1-8v2m9-48v2m1 39v2m2-22v2m7 11v2m14-11v2m0 6v2m13-1v2" stroke="#ff6d00" stroke-width="2" opacity="0.75"/><path d="M775 290v2m12 1v2m14 28v2m15-44v2m7-17v2m2 13v2m0 22v2m2-29v2m0 17v2m0 10v2m0 8v2m3-55v2m5 2v2m0 1v2m0 12v2m7-29v2m1 10v2m2 25v2m1-19v2m0-1v2m1 1v2m2-25v2m1 23v2m0 8v2m0-1v2m2-15v2m0 20v2m1-29v2m0 8v2m1-3v2m1-19v2m0 18v2m2-8v2m0 33v2m1-33v2m2-3v2m2-5v2m0 1v2m0 10v2m1-7v2m6-14v2m0 27v2m2-28v2m1-8v2m1-4v2m1 16v2m1 0v2m1-8v2m1-1v2m1-34v2m2 31v2m0 8v2m1-17v2m2-14v2m1 1v2m0 30v2m4-27v2m0 17v2m0 2v2m1-30v2m0 36v2m2-27v2m0 2v2m3 7v2m2 7v2m1-67v2m0 21v2m2-8v2m2 3v2m1-30v2m0 36v2m2-6v2m1 7v2m0 17v2m4-42v2m0 11v2m1-15v2m0 29v2m6-51v2m0 33v2m1 22v2m0 6v2m4-28v2m10 3v2m2-6v2m2-8v2m1-23v2m2 53v2m2-10v2m9-20v2m4-18v2m2-19v2m3 31v2m2-62v2m3 75v2m11-13v2m10-27v2m15 30v2m30-33v2m12 16v2" stroke="#ff5f00" stroke-width="2" opacity="0.75"/><path d="M767 302v2m27-40v2m0 10v2m20-13v2m1 27v2m2 5v2m6-16v2m11-9v2m8 5v2m0 0v2m2 24v2m1-34v2m5-21v2m1-3v2m0 27v2m1-20v2m0 33v2m5-43v2m1 13v2m0 12v2m1-31v2m1 10v2m2-12v2m4-8v2m3 18v2m0 21v2m1-32v2m3 24v2m2-16v2m2-14v2m2 32v2m2-29v2m3-4v2m1-7v2m1-9v2m3 12v2m4-22v2m1 9v2m0 14v2m1-35v2m6 0v2m3 19v2m0 24v2m1-13v2m3-15v2m8-13v2m3-3v2m4 17v2m5-20v2m0 19v2m4-30v2m7 18v2m7 5v2m2-46v2m26 31v2m6 10v2m50-20v2" stroke="#ff5100" stroke-width="2" opacity="0.75"/><path d="M742 285v2m18 7v2m39-8v2m0 18v2m14-11v2m1-22v2m1 3v2m5 11v2m3-12v2m7-16v2m2 23v2m1-18v2m2-23v2m1 37v2m0 5v2m4-23v2m2-1v2m5-9v2m1-1v2m2-2v2m0 16v2m1 3v2m1-15v2m1-18v2m0 21v2m1-32v2m7 14v2m1 5v2m7-17v2m3-15v2m5 19v2m2 24v2m2-4v2m3-58v2m3 32v2m4 9v2m1-26v2m0 17v2m1-23v2m0 35v2m8-38v2m4-13v2m7 24v2m2 32v2m4-29v2m9-19v2m0 0v2m1 6v2m2 9v2m0-2v2m22-19v2m1-23v2m4 5v2m26 20v2" stroke="#ff4600" stroke-width="2" opacity="0.75"/><path d="M795 244v2m8 42v2m3 29v2m2-23v2m2-7v2m0 6v2m3-29v2m7 0v2m5-20v2m0 16v2m0 0v2m6 0v2m0 14v2m7-43v2m2 4v2m0 2v2m4 7v2m2-36v2m1 38v2m3-26v2m0 42v2m3-35v2m3 11v2m0 1v2m2 1v2m1 0v2m2-23v2m0 10v2m2 11v2m1-11v2m1-25v2m2 10v2m1 7v2m0 10v2m3-48v2m1 16v2m0 40v2m1-26v2m0-1v2m1 8v2m1-67v2m0 42v2m0 12v2m1-29v2m3 19v2m0 15v2m2-17v2m4-21v2m7 7v2m11 25v2m8-7v2m3-1v2m5-40v2m32 27v2" stroke="#ff3b00" stroke-width="2" opacity="0.75"/><path d="M766 286v2m8 2v2m5-10v2m3-1v2m18-17v2m3 20v2m4-21v2m1-2v2m2 10v2m1-3v2m1-27v2m10 39v2m1-15v2m9-27v2m1 17v2m4 7v2m1 13v2m1-44v2m1 27v2m4 3v2m1-23v2m0 12v2m0 12v2m3-45v2m2 24v2m1-24v2m0 22v2m1-1v2m2-5v2m3-11v2m1 3v2m3-11v2m4-5v2m1-6v2m1-26v2m1 54v2m2-19v2m7-23v2m5 19v2m12-12v2m0 15v2m1-15v2m6 25v2m2-38v2m4 30v2m1-37v2m2 5v2m5-4v2m2 17v2m3-16v2m5 22v2" stroke="#ff3000" stroke-width="2" opacity="0.75"/><path d="M791 264v2m2-6v2m5 20v2m3-31v2m0 46v2m1-44v2m3 20v2m10-27v2m2 19v2m19-10v2m6-14v2m0 14v2m1-12v2m0 12v2m1-9v2m4 22v2m3-45v2m1 15v2m1 1v2m0 39v2m2-61v2m1-13v2m1 22v2m2 18v2m1-41v2m7-2v2m3 11v2m2 5v2m0 8v2m5 4v2m3-6v2m6-34v2m0 12v2m0 6v2m7-3v2m6 0v2m2 7v2m9-12v2m4 10v2m14-23v2m3 19v2" stroke="#ff2500" stroke-width="2" opacity="0.75"/><path d="M773 250v2m17 6v2m1 2v2m5-6v2m9 5v2m10 3v2m8-11v2m7 8v2m0-2v2m1-24v2m5 17v2m0-2v2m2-5v2m1 4v2m4-9v2m1-30v2m7 29v2m1 13v2m3-2v2m0 7v2m15-32v2m4 13v2m3-8v2m5-24v2m1 26v2m5-10v2m2 10v2m5-33v2m4 3v2m4 13v2" stroke="#ff1a00" stroke-width="2" opacity="0.75"/><path d="M785 266v2m11-11v2m14 0v2m2-17v2m3 4v2m1 23v2m42 16v2m12-22v2m4 2v2m8-32v2m11-22v2m2 43v2" stroke="#ff0f00" stroke-width="2" opacity="0.75"/><path d="M779 244v2m26 13v2m12-42v2m7 50v2m10 2v2m6-33v2m8-6v2m4-3v2m3 19v2m2 6v2m6-26v2m25 32v2" stroke="#ff0900" stroke-width="2" opacity="0.75"/><path d="M816 248v2" stroke="#ff0600" stroke-width="2" opacity="0.75"/><path d="M745 369v2m12-3v2" stroke="#0000ff" stroke-width="2" opacity="0.75"/><path d="M746 368v2m13 13v2m11-14v2m11-5v2m7 12v2m2-2v2m8-11v2" stroke="#0000ff" stroke-width="2" opacity="0.75"/><path d="M739 376v2m20-1v2m1-5v2m6-14v2m3 14v2m14-17v2m0 7v2m0 3v2m3-23v2m0 15v2m0-1v2m6-14v2m17 6v2m6 8v2" stroke="#0000ff" stroke-width="2" opacity="0.75"/><path d="M757 351v2m4 10v2m6 6v2m1-2v2m5-17v2m4 5v2m1 13v2m1-15v2m2-2v2m0 0v2m7 12v2m3-12v2m3 3v2m2-18v2m3 1v2m3 12v2" stroke="#0016eb" stroke-width="2" opacity="0.75"/><path d="M745 364v2m24 0v2m1-8v2m0 6v2m1-20v2m2 11v2m2-5v2m7-9v2m0 3v2m1-3v2m2 2v2m2 5v2m5-14v2m2-5v2m3 7v2m18 13v2" stroke="#0030d4" stroke-width="2" opacity="0.75"/><path d="M743 365v2m26-12v2m11-15v2m6 10v2m0 7v2m4 8v2m2-15v2m101 2v2" stroke="#004dae" stroke-width="2" opacity="0.75"/><path d="M758 346v2m16 5v2m37 10v2m20-27v2" stroke="#006b86" stroke-width="2" opacity="0.75"/><path d="M770 346v2m8 14v2m1 1v2m54 5v2m15-52v2m4 18v2m2 8v2m4-7v2" stroke="#00816f" stroke-width="2" opacity="0.75"/><path d="M756 369v2m15-35v2m10 22v2m6-25v2m11 44v2m6-47v2m9 6v2m0 4v2m2 9v2m9-14v2m1 9v2m1-15v2m1-8v2m1 16v2m7-14v2m1-4v2m1 14v2m6-13v2m4-7v2m2-4v2m3 12v2m1 1v2m4-14v2m9 0v2m7-13v2m14-17v2" stroke="#009759" stroke-width="2" opacity="0.75"/><path d="M754 349v2m15 4v2m6-13v2m1-2v2m4-13v2m2 9v2m6-19v2m0 16v2m1 15v2m4-25v2m0 5v2m7 2v2m1-7v2m1-13v2m1 8v2m0 25v2m2 1v2m2-29v2m2 17v2m1-49v2m8 30v2m1-7v2m0 6v2m1-1v2m1 7v2m0 7v2m5-41v2m2 19v2m4-1v2m1-6v2m7 1v2m1-17v2m2 23v2m1-55v2m7 43v2m4-11v2m7 25v2m4-26v2m4-20v2m16-2v2m8 12v2" stroke="#00ac44" stroke-width="2" opacity="0.75"/><path d="M738 343v2m9 7v2m6-12v2m5-9v2m4 9v2m8-4v2m10 12v2m0 0v2m3-15v2m1 11v2m4 19v2m2-22v2m1-27v2m1 6v2m0 9v2m2-27v2m0 5v2m1 15v2m1-6v2m1 15v2m1-34v2m0-1v2m0 0v2m3 11v2m0 10v2m1-26v2m2-26v2m1 39v2m1-12v2m2-9v2m1-13v2m0 13v2m1-22v2m1 22v2m0 0v2m0 0v2m1-10v2m1 10v2m3-43v2m0 28v2m0 4v2m1-6v2m3 0v2m1 8v2m1-35v2m2-6v2m0 27v2m1-35v2m0 41v2m4-26v2m1 7v2m0-1v2m4-3v2m1-10v2m1 0v2m3-6v2m2 11v2m0 25v2m1-41v2m0 0v2m1 11v2m6-20v2m0 29v2m1-28v2m0 8v2m3 1v2m3 7v2m3-2v2m2-34v2m0 24v2m4-40v2m2 27v2m0-1v2m2 4v2m4 1v2m2-10v2m4-29v2m4 9v2m11 16v2" stroke="#00c031" stroke-width="2" opacity="0.75"/><path d="M735 368v2m7-53v2m7-1v2m0 24v2m5-17v2m3-16v2m4 40v2m1-45v2m1 32v2m2-9v2m2 16v2m1-43v2m0 39v2m1-16v2m1-13v2m5-35v2m0 28v2m1 26v2m1-49v2m1 28v2m2 17v2m3-28v2m0 0v2m0 0v2m2-3v2m3-8v2m5 30v2m2-49v2m0 8v2m0 10v2m0 12v2m1-17v2m0 0v2m0 12v2m0 3v2m0 13v2m2-37v2m2-44v2m0 26v2m0 22v2m1-2v2m1-15v2m1-28v2m1 45v2m1-34v2m0 5v2m0 4v2m1 11v2m0-2v2m1 3v2m1-5v2m1-12v2m0 5v2m1 9v2m1-9v2m2-15v2m3 4v2m0 3v2m2-27v2m0-1v2m0 18v2m1-16v2m0 0v2m3-10v2m1-14v2m0 8v2m0 35v2m1-56v2m3-2v2m0 44v2m0 8v2m1-24v2m1-7v2m1 4v2m1-6v2m1 19v2m2-42v2m0 26v2m4-35v2m0 21v2m4 29v2m1-35v2m0 7v2m0 24v2m2-52v2m0 22v2m0 1v2m1-1v2m0 25v2m1-34v2m0 14v2m1-30v2m0 24v2m2-29v2m0 9v2m4-7v2m0 20v2m2-11v2m0 6v2m2-10v2m1 7v2m0-2v2m1-20v2m2-20v2m1 12v2m6 15v2m2-44v2m0 25v2m1-10v2m1 10v2m1 13v2m2-28v2m3 5v2m7-6v2m6 14v2" stroke="#00d51f" stroke-width="2" opacity="0.75"/><path d="M743 342v2m2-12v2m6 28v2m3-36v2m1-8v2m0 29v2m7-65v2m7 42v2m1-4v2m1-1v2m3 14v2m1-18v2m4 6v2m2-22v2m0 20v2m2-27v2m0 19v2m1-5v2m2-6v2m1 20v2m4-4v2m1-39v2m0 21v2m2-1v2m1-10v2m0 29v2m1-44v2m1-6v2m0 5v2m0 9v2m1-12v2m1 29v2m1-19v2m2-5v2m0 16v2m0 4v2m1-29v2m0 5v2m1-26v2m1 45v2m1-33v2m2-24v2m1 28v2m1-22v2m0 1v2m0 35v2m1-19v2m0 11v2m1-27v2m1 12v2m0-2v2m1-29v2m1 18v2m2 9v2m0 7v2m3-44v2m0 21v2m0 3v2m1-4v2m1-24v2m0 42v2m1-57v2m0 17v2m0 19v2m0 3v2m3-12v2m0 13v2m1-44v2m0 18v2m1 0v2m1-13v2m0 20v2m0 6v2m0 8v2m1-27v2m1 34v2m2-43v2m1-3v2m0-1v2m0-2v2m0 13v2m1-11v2m2-39v2m1 12v2m0 19v2m0 11v2m2-55v2m1 10v2m0 2v2m0 20v2m1-7v2m1-40v2m0 39v2m2 14v2m1-12v2m1 6v2m2-23v2m0 22v2m1-50v2m2 10v2m2 41v2m1-59v2m0 26v2m0 13v2m0 6v2m0 3v2m1-28v2m1 33v2m1-1v2m1-49v2m0 16v2m2 2v2m1-12v2m2 2v2m3 5v2m1-31v2m1 7v2m2 2v2m0 24v2m4-32v2m1 5v2m1 18v2m1 3v2m6-13v2m2-7v2m3 40v2m17-54v2" stroke="#00e90c" stroke-width="2" opacity="0.75"/><path d="M738 320v2m11 17v2m0 14v2m16-37v2m2 2v2m0 6v2m2-9v2m5-2v2m2-28v2m2 15v2m0 23v2m2-3v2m3-20v2m1-8v2m3 13v2m0 12v2m1-34v2m0 4v2m3 4v2m0-2v2m0 10v2m2-4v2m0 24v2m2-25v2m2-8v2m1 7v2m1 1v2m1 0v2m1-44v2m1 8v2m0 17v2m0 6v2m1-1v2m1-5v2m1-19v2m0 24v2m1-30v2m0 27v2m2-38v2m0 25v2m0 6v2m0 7v2m3-41v2m0 16v2m1-5v2m0-1v2m1-7v2m0 2v2m1 2v2m1-23v2m1 10v2m0 34v2m3-31v2m0 34v2m1-69v2m0 13v2m1 2v2m0 12v2m0 5v2m0 2v2m1-41v2m0 52v2m1-48v2m0 16v2m2-28v2m1-12v2m0 6v2m1 24v2m1-20v2m0 8v2m1 23v2m1-10v2m1-5v2m1-43v2m0 23v2m0 22v2m0 26v2m1-60v2m2 27v2m0 3v2m1-39v2m0 4v2m2 2v2m0 14v2m2-15v2m1 11v2m0-1v2m1-22v2m1 17v2m1 12v2m1-3v2m4-45v2m1 6v2m1-1v2m0 7v2m0 7v2m2-9v2m2-11v2m0 7v2m0 4v2m1-13v2m0 14v2m0 15v2m2-9v2m0 10v2m1-58v2m4 31v2m1-4v2m5-10v2m1 11v2m1-30v2m2-26v2m0 37v2m0 18v2m7-7v2m6-34v2m1 26v2m11-7v2m2-18v2m5 20v2m6-25v2" stroke="#11ee04" stroke-width="2" opacity="0.75"/><path d="M737 339v2m11 7v2m2 24v2m4-30v2m2-27v2m4 18v2m1 4v2m11-36v2m1 30v2m3-1v2m1-10v2m1-12v2m2 41v2m1-43v2m0 12v2m1-22v2m0 3v2m1-4v2m0 17v2m1-27v2m1 23v2m1-18v2m3-15v2m1-21v2m1 13v2m0 8v2m0-2v2m1-8v2m2 21v2m1-13v2m0 3v2m2-15v2m1 4v2m2 9v2m0 7v2m4-74v2m0 29v2m1 4v2m0 22v2m1 8v2m2-25v2m1 25v2m0 10v2m1-42v2m0 6v2m1-14v2m1 4v2m0 1v2m1 17v2m0-2v2m2-37v2m0 10v2m1 4v2m1-20v2m0 7v2m1 27v2m1-27v2m1 4v2m0 9v2m1-29v2m1-11v2m0 28v2m0 3v2m1 3v2m1-50v2m0 33v2m0-1v2m1-22v2m1-17v2m2 14v2m0 30v2m1-3v2m1-26v2m3 12v2m1-1v2m0 10v2m1-26v2m0 6v2m0 8v2m0-2v2m1-5v2m1-8v2m1 14v2m1-40v2m1 18v2m1-21v2m1 7v2m1 12v2m0 2v2m1 0v2m1-30v2m1 13v2m0 17v2m1 19v2m1-57v2m0-1v2m0 20v2m1-24v2m0 10v2m1-4v2m1-5v2m0 7v2m1-10v2m0 16v2m1-15v2m2-1v2m2 3v2m1-16v2m0 8v2m1 14v2m1-17v2m0 2v2m0 1v2m2-32v2m1 20v2m1-11v2m0 1v2m3-19v2m11 4v2m10 17v2m25-5v2m26-30v2" stroke="#2ded00" stroke-width="2" opacity="0.75"/><path d="M737 322v2m21-6v2m11 36v2m11-32v2m1 17v2m0 3v2m1-31v2m1 10v2m2-6v2m3-3v2m4 19v2m4-14v2m5-19v2m4 1v2m2 2v2m2-8v2m0-2v2m0 8v2m1-20v2m1-9v2m1 26v2m2-4v2m3-19v2m0 5v2m0 6v2m0 0v2m1-16v2m0 5v2m2-16v2m1 21v2m0 14v2m4-38v2m0 13v2m0 2v2m0 3v2m1-31v2m0 23v2m0-1v2m2 3v2m1-25v2m0 7v2m0-1v2m0 8v2m1-11v2m1-30v2m0 16v2m1 10v2m3 19v2m2-41v2m3 1v2m1 12v2m0 14v2m1-16v2m0 11v2m1 3v2m1-19v2m0 9v2m1-15v2m0 2v2m1-25v2m0 11v2m3 11v2m0 2v2m3-12v2m0 9v2m1-33v2m0 9v2m0 12v2m1 21v2m1-25v2m2 1v2m1-8v2m2-12v2m2-3v2m3-15v2m1 29v2m1-9v2m1-3v2m2-22v2m2 33v2m1-27v2m0 14v2m1-29v2m0 13v2m0 12v2m9-11v2m1-4v2m3 0v2m2 16v2m12-49v2m18 48v2m42-28v2" stroke="#5fe300" stroke-width="2" opacity="0.75"/><path d="M763 324v2m8-1v2m1 25v2m1-11v2m3-26v2m3-3v2m2 12v2m4-13v2m3-8v2m1 17v2m2 5v2m1-12v2m2-17v2m0 5v2m1-15v2m1-16v2m1 45v2m0 0v2m3-36v2m1 17v2m0-2v2m2 10v2m0 0v2m2-37v2m1 19v2m1 3v2m2-17v2m2-4v2m5-7v2m0 20v2m5-12v2m3-12v2m0 2v2m0 5v2m1-4v2m2-15v2m1 8v2m1 32v2m1-24v2m1-30v2m0 8v2m2 12v2m1-21v2m3 2v2m1 7v2m0 16v2m0 14v2m7-50v2m1-14v2m2 5v2m0 26v2m6-40v2m0 36v2m2-20v2m5-14v2m0 19v2m2-19v2m0 6v2m0 32v2m1-26v2m1-20v2m8 6v2m0 12v2m1-1v2m2-1v2m3 9v2m2-12v2m0 1v2m0 5v2m4-6v2m1-22v2m4 10v2m2-32v2m0 3v2m7 20v2m3 14v2m5-33v2m5 14v2m2 13v2m6-39v2m18 22v2m13 9v2m21-37v2" stroke="#8bda00" stroke-width="2" opacity="0.75"/><path d="M761 306v2m5 27v2m20-17v2m5 9v2m1-36v2m7 33v2m7-12v2m1-8v2m0 4v2m3 5v2m5-16v2m3-17v2m0 10v2m1-6v2m2 11v2m2-2v2m0 0v2m0-1v2m0 6v2m1-6v2m5-28v2m0 14v2m0 21v2m3-24v2m0 9v2m2-23v2m0 5v2m3 11v2m1-5v2m0 4v2m0 0v2m1-20v2m2-3v2m1 12v2m1-23v2m0 13v2m2-31v2m0 43v2m5-18v2m1 4v2m1-16v2m0 2v2m0 15v2m1-15v2m1 4v2m0 2v2m1-27v2m0 40v2m2-43v2m2-7v2m0 18v2m1-13v2m0 19v2m4-4v2m2 9v2m1-1v2m1-31v2m0 4v2m0 25v2m1 1v2m1-48v2m1 24v2m1 9v2m5-50v2m1 31v2m1-32v2m0 5v2m1 27v2m1-12v2m1-7v2m0 26v2m0 12v2m2-40v2m0 17v2m1-19v2m3-17v2m0 6v2m0 14v2m4-11v2m7-36v2m1 49v2m6-14v2m0 3v2m3-17v2m4-7v2m2 11v2m1-5v2m0 19v2m6-34v2m1 23v2m11-19v2m10-13v2m25-30v2m15-4v2m1 5v2m23-45v2" stroke="#a9d300" stroke-width="2" opacity="0.75"/><path d="M755 328v2m19 3v2m4 6v2m7-33v2m12 15v2m1-14v2m1 3v2m7-13v2m3-4v2m0 6v2m3 6v2m1-14v2m5-1v2m0 16v2m2-18v2m4-13v2m0 31v2m1-35v2m0 24v2m1-8v2m2-25v2m1 0v2m0 17v2m2 28v2m2-40v2m1-22v2m0 3v2m0 44v2m1-32v2m0 6v2m4-38v2m1 35v2m1 4v2m1-16v2m0 0v2m0 12v2m1-32v2m1 15v2m0-2v2m1 16v2m2-53v2m0 16v2m0 1v2m2 16v2m1-10v2m0 18v2m2-15v2m0 3v2m1-4v2m1 10v2m0 6v2m1-46v2m1 15v2m1-21v2m0-2v2m0-1v2m0 17v2m1 23v2m1-37v2m0 15v2m1-16v2m0 12v2m1-35v2m0 0v2m1-11v2m0 22v2m0 9v2m1-36v2m1 24v2m0 5v2m0 1v2m1-30v2m0 24v2m0 8v2m1-31v2m0 21v2m0 9v2m1-45v2m0 13v2m1 9v2m0 6v2m1-34v2m1-1v2m1 9v2m0 8v2m1-18v2m0 9v2m0 0v2m1-13v2m0-1v2m1 5v2m1 13v2m2-23v2m0 8v2m0 7v2m1-22v2m1 2v2m1-11v2m0 2v2m2-3v2m0 21v2m1-12v2m1-8v2m0 18v2m1-3v2m1-38v2m0 23v2m1-2v2m0 8v2m1-12v2m0 7v2m2-19v2m0 4v2m0 28v2m2-72v2m0 14v2m1 45v2m0 8v2m1-39v2m1-13v2m0 27v2m1-17v2m1 0v2m2-8v2m1 13v2m1-39v2m0 30v2m0-2v2m1 4v2m2-8v2m1 6v2m1-29v2m0 7v2m0 1v2m1-14v2m1-4v2m1 8v2m1 1v2m1-22v2m0 12v2m1 18v2m1-7v2m0-2v2m1-9v2m1-35v2m0 52v2m5-30v2m0-1v2m4-24v2m1 33v2m0 16v2m5-39v2m1 18v2m6-65v2m2 11v2m2 10v2m2-17v2m4-2v2m2 24v2m2-29v2m0 65v2m1-9v2m10-53v2m0 34v2m1-50v2m0 41v2m1-44v2m2 28v2m7-12v2m11 3v2m7-13v2m23-31v2" stroke="#c8cc00" stroke-width="2" opacity="0.75"/><path d="M737 318v2m49 11v2m7-24v2m2-2v2m9 3v2m2-27v2m7 14v2m1-10v2m0 10v2m1-20v2m0 45v2m2-27v2m0 27v2m1-30v2m1-16v2m0 14v2m4-13v2m0 7v2m0 2v2m0 2v2m1-29v2m0 8v2m2 17v2m1 6v2m1-25v2m0 0v2m0 2v2m0 12v2m1-47v2m0 0v2m0 37v2m1-10v2m1-4v2m0 29v2m1-29v2m1-21v2m1 20v2m0 12v2m1-34v2m0 1v2m0 5v2m1-13v2m0 55v2m1-42v2m0 0v2m1-22v2m1 2v2m1-19v2m0 34v2m2-14v2m1-12v2m0 4v2m2 1v2m1-6v2m0 12v2m0 6v2m2-26v2m0 13v2m1-36v2m1 47v2m1-18v2m0 12v2m2-35v2m0 9v2m0 11v2m0 2v2m1-43v2m0 32v2m0 13v2m1-15v2m1-17v2m0 2v2m0 14v2m1-20v2m1-11v2m0 25v2m1-43v2m0 32v2m0 15v2m1-46v2m0 14v2m0-2v2m0-1v2m1-19v2m0 31v2m1-26v2m0 8v2m0 8v2m1-24v2m0 13v2m2 24v2m1-41v2m1-5v2m0 5v2m0 3v2m0 28v2m1-44v2m0 2v2m1-9v2m0 26v2m1-22v2m0 5v2m0 21v2m0 5v2m1-10v2m0-1v2m0 6v2m1-28v2m0 8v2m3-37v2m2-11v2m0 10v2m0 14v2m1-1v2m1 0v2m1 2v2m0 21v2m1-45v2m0 11v2m0 1v2m1-5v2m0 13v2m1-40v2m0 11v2m0 7v2m0 14v2m1-44v2m0 21v2m0 18v2m0 3v2m1-38v2m0 6v2m0 1v2m0 0v2m0 20v2m1-23v2m1-17v2m0 9v2m2-5v2m0 12v2m0 11v2m2-51v2m1 7v2m0 33v2m1-32v2m0 4v2m0 24v2m1-27v2m1-17v2m0 4v2m2-4v2m0 3v2m0 9v2m0 5v2m4-5v2m0 11v2m1-14v2m1-8v2m0-1v2m0-1v2m0 7v2m0 2v2m1-5v2m0 3v2m1-12v2m0 2v2m0 3v2m0 2v2m1-15v2m1 0v2m1 0v2m0 0v2m1-40v2m0 19v2m0 7v2m1 0v2m2-2v2m1-13v2m0 9v2m2-24v2m1-2v2m0 18v2m2 38v2m1-88v2m0 40v2m1 12v2m1-23v2m2 13v2m0 22v2m2-5v2m2-16v2m1-16v2m1-7v2m1 6v2m4 1v2m1-13v2m1 0v2m0 11v2m2-35v2m2 11v2m0-1v2m4-2v2m3-52v2m2 21v2m0 41v2m3-4v2m4 0v2m4-38v2m0 59v2m3-50v2m2 14v2m5-28v2m0 2v2m3-2v2m3-3v2m1 12v2m15-13v2m0-2v2m1 2v2m18-24v2m2 44v2m9-61v2m22 15v2m1 11v2m0 7v2m3 2v2m21-3v2m2-41v2" stroke="#e1c600" stroke-width="2" opacity="0.75"/><path d="M733 306v2m6-8v2m38 10v2m2 10v2m3-34v2m1 22v2m10-7v2m2-20v2m4 29v2m4-30v2m5 7v2m0 3v2m1 8v2m1 3v2m3-8v2m1-13v2m3-10v2m0 8v2m0 24v2m2-7v2m4-3v2m1 11v2m2-17v2m5-7v2m1 9v2m3-19v2m0 4v2m1-20v2m0 8v2m1-19v2m0 2v2m0 7v2m1 1v2m1-22v2m2 1v2m1 6v2m0 10v2m0 30v2m2-45v2m0 2v2m0 13v2m0 9v2m2-39v2m0 9v2m0 25v2m2-30v2m0 15v2m0 3v2m1-36v2m0-2v2m0 14v2m2-18v2m0 13v2m0-1v2m0 0v2m1-36v2m0 59v2m1-44v2m0 15v2m0 5v2m1-23v2m0 0v2m0 11v2m0 17v2m1-31v2m0 2v2m1-18v2m0 9v2m0 34v2m2-47v2m0 19v2m0-1v2m1-36v2m0 13v2m0 19v2m1-29v2m0 1v2m0 31v2m1 4v2m2-24v2m0 9v2m0-1v2m1-24v2m0 13v2m0 1v2m0 0v2m1-17v2m1-6v2m0 3v2m0-1v2m0 6v2m0 6v2m1-34v2m1 12v2m0 2v2m0 14v2m1-30v2m0 36v2m1-26v2m0 9v2m3-45v2m0 13v2m1-19v2m0 25v2m0 2v2m1-18v2m1 2v2m0 3v2m1-24v2m0 38v2m1-14v2m1-40v2m0 28v2m0 0v2m1 10v2m1-20v2m0 12v2m1-25v2m0 12v2m0 9v2m1-13v2m0 11v2m1-25v2m0 22v2m1-27v2m1 29v2m1-29v2m1 25v2m1-37v2m1-8v2m0 30v2m0-2v2m0 14v2m3-29v2m0 25v2m1-14v2m2-8v2m1-15v2m1-24v2m1-9v2m1 15v2m0 32v2m0 10v2m1-22v2m2-7v2m1-14v2m0 40v2m2-62v2m0 2v2m0 12v2m0 10v2m0 8v2m1-3v2m1 37v2m2-46v2m1-13v2m3-18v2m0 5v2m0 11v2m0 10v2m1 2v2m0 10v2m1-21v2m0 4v2m1-15v2m0 36v2m2-25v2m2-38v2m2 2v2m1 14v2m0 19v2m1-41v2m0 50v2m2-35v2m5-8v2m1 9v2m3 9v2m0 29v2m1-34v2m2-48v2m0 56v2m3-24v2m1-2v2m1-19v2m2-37v2m2 3v2m3 1v2m1 26v2m0 17v2m2-30v2m1-15v2m2 53v2m1-11v2m1-32v2m5 32v2m1-53v2m0 1v2m13 41v2m3-18v2m4-45v2m17 18v2m5 18v2m9 0v2m10-24v2m6-20v2m12-1v2m1 4v2" stroke="#f5c000" stroke-width="2" opacity="0.75"/><path d="M756 301v2m5 4v2m12-26v2m4 10v2m2 0v2m16 8v2m6 23v2m1-27v2m0 9v2m1-23v2m2-1v2m0 7v2m1 0v2m1-12v2m0 2v2m1 6v2m0 9v2m2-17v2m0 6v2m0 10v2m1-32v2m0 1v2m5-10v2m0 18v2m4-9v2m1 10v2m2-24v2m0 18v2m1-14v2m1 8v2m1-23v2m2 3v2m1 24v2m2-31v2m0 49v2m1-17v2m1-31v2m0 26v2m3-41v2m2 43v2m1-28v2m0 2v2m1 23v2m1-50v2m0 10v2m1-5v2m0 0v2m0 7v2m0 3v2m1 1v2m1-11v2m0 9v2m2-7v2m1-11v2m1-5v2m0 14v2m1-8v2m1-33v2m1 13v2m1 33v2m2-11v2m0 3v2m2-48v2m1 39v2m2-26v2m1 34v2m0-1v2m2-51v2m1 16v2m0 5v2m1 16v2m1-12v2m4-42v2m0 33v2m0-1v2m0 7v2m0 15v2m1-27v2m1-21v2m0 34v2m1-52v2m1-1v2m0 0v2m0 12v2m0 9v2m0 5v2m1-30v2m0 0v2m1 7v2m1-2v2m1-12v2m0 5v2m1 10v2m1-14v2m0 0v2m1-11v2m0 1v2m0 0v2m0 30v2m1-12v2m1-22v2m0 6v2m1 39v2m1-72v2m0 9v2m0 15v2m0 14v2m1-8v2m1-33v2m0 6v2m0 10v2m0 0v2m1 3v2m4-20v2m1 29v2m1-39v2m0 0v2m0 16v2m0-1v2m0 11v2m1-13v2m1-14v2m0 5v2m1 8v2m1-31v2m0 8v2m0 34v2m1-33v2m0 12v2m1-38v2m1 10v2m0 2v2m1 2v2m1-18v2m2 35v2m1-40v2m1 17v2m1-19v2m0 13v2m1-7v2m0 12v2m0-1v2m0-1v2m0 0v2m1-22v2m0 16v2m0 14v2m2-56v2m0 36v2m0 17v2m1-25v2m1-15v2m0 11v2m0 1v2m0 4v2m0 9v2m2-39v2m6 4v2m0 1v2m0 10v2m4-32v2m0 18v2m4 14v2m3-27v2m0 25v2m3 6v2m2-52v2m3 37v2m3-27v2m1 40v2m4-35v2m0 16v2m0 14v2m3-51v2m1-3v2m3 16v2m1-5v2m0 25v2m13 20v2m2-37v2m3-49v2m36 25v2m5-8v2m0 15v2m9-12v2m7 4v2m8-23v2m6-4v2m7 0v2" stroke="#ffb600" stroke-width="2" opacity="0.75"/><path d="M761 319v2m15-6v2m10-15v2m11-14v2m8-13v2m1 22v2m1-22v2m0 25v2m1-41v2m0 17v2m3 3v2m0 14v2m0 6v2m1-29v2m0 18v2m0 7v2m2-10v2m1-21v2m1 17v2m3-9v2m0 8v2m1-22v2m0 19v2m1-45v2m0 28v2m0 11v2m2 5v2m0 3v2m4-41v2m6 11v2m0 2v2m2-18v2m0 5v2m0 23v2m1 3v2m3-27v2m2-14v2m1 13v2m0 3v2m1-4v2m2-5v2m1-17v2m1 10v2m0 5v2m0 3v2m1-44v2m0 12v2m1 4v2m1-6v2m1 22v2m1-30v2m0 10v2m1 10v2m0 9v2m3-31v2m0 11v2m1-4v2m0 4v2m0 2v2m4-31v2m0 31v2m1-32v2m1 6v2m1 20v2m1-8v2m2-14v2m0 2v2m0 0v2m0 3v2m1-32v2m1 12v2m1-18v2m0 27v2m0 10v2m1-27v2m0 9v2m1 3v2m1-3v2m1-12v2m1 10v2m0 10v2m0 11v2m4-26v2m1-42v2m0 33v2m1-1v2m1 0v2m0 0v2m1 6v2m1-29v2m0 13v2m0 3v2m4-31v2m1 17v2m0-2v2m0 11v2m2-23v2m1-2v2m0 4v2m0 12v2m0 15v2m2-12v2m0-1v2m1-34v2m1 29v2m1-21v2m1-9v2m2 4v2m2 1v2m1 0v2m0 9v2m1-23v2m0-1v2m0 6v2m0 3v2m1-17v2m0 11v2m1-13v2m2 11v2m1 4v2m1-18v2m1-24v2m0 7v2m0 32v2m1-22v2m0-1v2m1 17v2m3-24v2m0 1v2m2-10v2m3-2v2m0 4v2m0 27v2m1-27v2m14-18v2m0 12v2m1-23v2m0 14v2m1 26v2m2-12v2m2 4v2m8-22v2m3-26v2m4 29v2m4-1v2m3-20v2m12-18v2m1-15v2m1 22v2m2-3v2m2 26v2m7-35v2m14-12v2m16 8v2m7 15v2m11-9v2m38-25v2" stroke="#ffa700" stroke-width="2" opacity="0.75"/><path d="M739 321v2m20-36v2m38 29v2m3-32v2m0 10v2m2 0v2m4-16v2m1 43v2m2-63v2m0 44v2m8-35v2m2 20v2m1-21v2m0-1v2m2 17v2m5-1v2m4-26v2m0 16v2m1 35v2m2-51v2m0 22v2m2-16v2m0 20v2m2 4v2m2-27v2m0 29v2m2 2v2m1-32v2m1 8v2m1-21v2m1-7v2m1-4v2m0 12v2m1-18v2m0 20v2m1-19v2m1 9v2m2 9v2m0-2v2m1-21v2m1 29v2m1-18v2m1-25v2m1-7v2m0-1v2m0 13v2m0 4v2m0 12v2m1 1v2m1-39v2m2 18v2m1-20v2m1 15v2m3-5v2m1-14v2m1-4v2m0 10v2m0 35v2m1-44v2m0 33v2m1-49v2m0 31v2m4-26v2m2 17v2m2-1v2m2-42v2m0 47v2m1-36v2m0 8v2m4-18v2m3 29v2m1 8v2m2-43v2m0 14v2m1 22v2m1-32v2m0 34v2m1-42v2m0 22v2m1-27v2m0 19v2m2-23v2m0 0v2m0 3v2m0 2v2m1 13v2m0 14v2m1-32v2m0 9v2m2-24v2m0 6v2m0 20v2m1-58v2m2 21v2m1 12v2m1-17v2m0 10v2m2-9v2m1 12v2m1-28v2m4 7v2m2 16v2m1-16v2m1 19v2m5-17v2m0 31v2m4-48v2m4 14v2m1 20v2m2-55v2m5-12v2m1 56v2m2-50v2m0 26v2m1-5v2m3-17v2m4-1v2m2-1v2m2-1v2m2 7v2m0 17v2m7-2v2m1-34v2m1 5v2m8-13v2m2 3v2m1 17v2m8 8v2m7-27v2m1 10v2m2-14v2m27 4v2m34-26v2" stroke="#ff9700" stroke-width="2" opacity="0.75"/><path d="M759 282v2m16 14v2m3-22v2m4 36v2m5-17v2m0 11v2m0 3v2m7-25v2m2 23v2m6 5v2m1-30v2m3 4v2m3-35v2m0 24v2m2-13v2m4-23v2m3 41v2m5-25v2m3 2v2m0 1v2m1 13v2m1-17v2m7 9v2m1-27v2m2-3v2m0 11v2m0 11v2m1-25v2m0 16v2m0 6v2m1-50v2m0 60v2m2-10v2m1-23v2m2 5v2m1-3v2m1 2v2m1 14v2m2-39v2m0 2v2m0 16v2m0 2v2m0 14v2m1-50v2m0 7v2m0 4v2m1-25v2m1 23v2m1 1v2m1 26v2m1-7v2m1-43v2m0 7v2m2 23v2m2-20v2m1-22v2m0 28v2m1-22v2m1-27v2m1 17v2m0 10v2m1-5v2m0 1v2m0 1v2m0 9v2m0 13v2m0 3v2m1-16v2m1-26v2m0 11v2m0 0v2m1 20v2m0 8v2m1-13v2m1-42v2m0 12v2m1-12v2m0 32v2m2-26v2m1-1v2m2-14v2m0 10v2m0 33v2m1-58v2m0 19v2m0 18v2m1-11v2m0 18v2m1-23v2m2-27v2m0 4v2m1-22v2m2 36v2m0 4v2m1-30v2m0 27v2m1-27v2m1 16v2m1-36v2m2 32v2m1-14v2m0 0v2m1-5v2m0 5v2m2-14v2m0 1v2m0 23v2m1-19v2m0 10v2m6-13v2m0 3v2m0 2v2m1-33v2m0 18v2m2-1v2m1-17v2m2 19v2m1-10v2m0 15v2m1-9v2m0 3v2m0 2v2m2-35v2m2 11v2m0 5v2m1-29v2m1 10v2m0 10v2m0-2v2m0 2v2m0 5v2m6-10v2m0 9v2m1-15v2m1-26v2m5 38v2m1-7v2m0 6v2m2-18v2m5-22v2m0 32v2m2-52v2m1 14v2m3-4v2m0 14v2m2-27v2m2-4v2m1-24v2m4 45v2m11 15v2m4-20v2m0 6v2m3 5v2m4-17v2m40-24v2m1 32v2m2-12v2m13-23v2m32-9v2" stroke="#ff8800" stroke-width="2" opacity="0.75"/><path d="M774 283v2m0 27v2m11 0v2m1-5v2m6-21v2m1 14v2m1 4v2m1-29v2m1 32v2m1-31v2m3 11v2m4-5v2m1 29v2m3-42v2m0 3v2m8-27v2m2 0v2m3-10v2m1 20v2m2 2v2m1-16v2m2-30v2m2 59v2m1-31v2m1 12v2m1-11v2m1 6v2m1-8v2m3 7v2m1-26v2m0-2v2m0 27v2m1-12v2m0 0v2m1-31v2m0 21v2m0 3v2m2 7v2m2-29v2m0 6v2m0 13v2m0 15v2m1-23v2m2-28v2m0 6v2m1 5v2m1 19v2m1 20v2m0 4v2m1-29v2m0 5v2m2-45v2m0 5v2m1-5v2m0 15v2m0 10v2m2-18v2m0 16v2m1-4v2m0 6v2m1-43v2m1 4v2m1 9v2m1-12v2m1 42v2m1-38v2m1-15v2m0 11v2m0 16v2m1-3v2m0 18v2m1-43v2m0 13v2m1-28v2m0 37v2m0 0v2m1-32v2m0 7v2m0 22v2m1-33v2m0 26v2m1-44v2m0 26v2m0 11v2m1-16v2m1 0v2m0 4v2m1-19v2m0 7v2m0 0v2m0 27v2m1-71v2m0 29v2m1 17v2m0 4v2m0 1v2m0 1v2m2-38v2m0 12v2m1-7v2m1-5v2m1-2v2m1 3v2m0 5v2m0 27v2m1-51v2m0 35v2m1-40v2m1 12v2m1-14v2m0 10v2m0-1v2m0 6v2m0 11v2m1-16v2m3-4v2m0 1v2m1-63v2m2 66v2m0 6v2m1-48v2m0 26v2m0-1v2m0 0v2m1-30v2m0 12v2m0 7v2m0 11v2m1-6v2m1-15v2m0 5v2m2-24v2m0-1v2m0 9v2m0 16v2m0 5v2m4-4v2m1-25v2m1 11v2m0-1v2m2-7v2m0 5v2m1-23v2m1 10v2m2-41v2m0 21v2m1 20v2m0 20v2m1-22v2m1-11v2m1 5v2m2-31v2m0 11v2m0 19v2m2-4v2m2 4v2m1-24v2m0 20v2m2-55v2m1 39v2m4-16v2m4-15v2m0 15v2m2-12v2m0 7v2m5 9v2m2-44v2m0 30v2m0 26v2m5-18v2m1-21v2m3-16v2m0 34v2m1-26v2m1 12v2m1-27v2m4 53v2m3-49v2m1 48v2m6-28v2m7-20v2m15-6v2m6-6v2m6 14v2m2-18v2m12 8v2m9-1v2m5-33v2m36 32v2m3 1v2" stroke="#ff7a00" stroke-width="2" opacity="0.75"/><path d="M780 287v2m9 3v2m3-31v2m2 5v2m0 30v2m4-41v2m1 41v2m1-4v2m5-4v2m5-4v2m2-8v2m1-35v2m5 39v2m1-16v2m1-13v2m1-9v2m0 31v2m2-8v2m1 12v2m2-27v2m2 26v2m4-38v2m1 14v2m1 0v2m1-15v2m2 22v2m2-19v2m3 6v2m1-15v2m0 11v2m2-6v2m2-10v2m1 15v2m0-1v2m1-37v2m0 17v2m1-15v2m0 6v2m2-7v2m0 12v2m0-1v2m1-15v2m0 17v2m0 0v2m0 4v2m3-39v2m0 17v2m0-1v2m2-26v2m0 30v2m0 1v2m1-37v2m0 31v2m2-11v2m0 5v2m1-17v2m0 21v2m1-8v2m1-40v2m1-1v2m0 24v2m3 8v2m2-7v2m0-2v2m0 4v2m1-37v2m1-1v2m0 52v2m3-20v2m1-30v2m1 15v2m0 3v2m2-20v2m1 31v2m2-33v2m0 7v2m0 8v2m1-30v2m0 9v2m0 3v2m1 13v2m1-17v2m3 3v2m1 3v2m1 3v2m1-26v2m3 5v2m1 11v2m2-20v2m0 19v2m6-1v2m0 9v2m2-14v2m1-41v2m0 27v2m4-14v2m1 43v2m0 2v2m1-55v2m2-4v2m0 2v2m0 20v2m2-32v2m0 23v2m2-5v2m0 21v2m1-58v2m1 43v2m1-19v2m0 9v2m1-2v2m0 30v2m1-43v2m1-11v2m0 15v2m0 3v2m2-20v2m2 7v2m3-7v2m1 28v2m1-29v2m1-6v2m4-10v2m3 20v2m0 9v2m5-28v2m1-1v2m8-12v2m1 33v2m1-5v2m2-20v2m6 15v2m0-1v2m1-23v2m0 10v2m3-19v2m0 28v2m4 4v2m4-56v2m4 15v2m3-3v2m0 31v2m2-42v2m9 12v2m24-11v2m1-11v2m5-5v2m0-2v2m2-23v2m3 19v2" stroke="#ff6d00" stroke-width="2" opacity="0.75"/><path d="M766 277v2m9 2v2m7-3v2m15 13v2m6-27v2m0 26v2m0 4v2m2-29v2m12 17v2m1-35v2m2 37v2m0 16v2m2-35v2m5 9v2m2 52v2m3-32v2m1-31v2m2 6v2m1-17v2m4-14v2m4 24v2m0 20v2m3-42v2m1-5v2m0 7v2m2 0v2m0 5v2m1-26v2m0-1v2m1 7v2m1 6v2m2 18v2m3-17v2m3 3v2m0 13v2m1-57v2m1 31v2m4-29v2m0 11v2m0 27v2m3-26v2m0 9v2m1-7v2m0 4v2m1-4v2m1-21v2m1 3v2m0 5v2m3 1v2m0 10v2m1-43v2m3-4v2m0 12v2m0 12v2m0-1v2m0 9v2m1-12v2m2-11v2m1 18v2m0 5v2m2-10v2m1-9v2m1-24v2m2 30v2m0 10v2m1-26v2m0 1v2m2 10v2m1-12v2m1-17v2m0 12v2m2-23v2m0 14v2m1-16v2m0 9v2m0 8v2m0 3v2m0 0v2m1-26v2m1 22v2m1-28v2m0 8v2m0-1v2m1-6v2m0 16v2m1-18v2m0 2v2m1-11v2m1 32v2m3-42v2m2-9v2m0-2v2m0 11v2m2 3v2m0 4v2m1 24v2m8-42v2m3-2v2m2 12v2m5-36v2m0 15v2m4-27v2m4 29v2m0 10v2m3 1v2m11 0v2m5-1v2m9-19v2m7 34v2m27-66v2m4 4v2m9 2v2" stroke="#ff5f00" stroke-width="2" opacity="0.75"/><path d="M793 264v2m1 28v2m2 1v2m21-24v2m9-1v2m5 12v2m6-8v2m4 34v2m6-49v2m4 40v2m1-38v2m0 6v2m0 15v2m1-29v2m5 11v2m4-18v2m0 14v2m2 3v2m1-27v2m4 24v2m5-42v2m1 22v2m2 21v2m3-19v2m2 1v2m2 11v2m3-10v2m2-9v2m7-11v2m2 12v2m4-12v2m6-36v2m3 40v2m6-38v2m0 22v2m0 13v2m6-19v2m1 12v2m13 6v2m2-7v2m1 2v2m6-12v2m11-17v2m1 14v2m1-2v2m21-37v2" stroke="#ff5100" stroke-width="2" opacity="0.75"/><path d="M805 278v2m8 2v2m3 26v2m9-23v2m4-26v2m2 38v2m4-13v2m2-39v2m3 23v2m1-22v2m5 33v2m1-22v2m2 10v2m1-23v2m4 22v2m10-30v2m0 12v2m3-21v2m1 27v2m2-14v2m6-4v2m0-1v2m0 2v2m4 14v2m2-20v2m1-15v2m1 7v2m5 24v2m2-14v2m6-20v2m7 32v2m7-20v2m2-20v2m11 30v2m18-18v2m11-9v2" stroke="#ff4600" stroke-width="2" opacity="0.75"/><path d="M803 267v2m2-4v2m1 27v2m2-1v2m11 28v2m1-16v2m1-25v2m1-15v2m4-45v2m2 41v2m2 2v2m3 6v2m4-44v2m1 27v2m2 9v2m0 9v2m1-10v2m2 6v2m0 3v2m1-43v2m8 23v2m1-11v2m5-12v2m9 29v2m1-24v2m5-2v2m2-17v2m1 31v2m2-39v2m0 53v2m1-21v2m1-8v2m1 6v2m3-12v2m3 0v2m1 24v2m5-49v2m5 4v2m0 0v2m0 11v2m0 13v2m6-40v2m6 33v2m2 1v2m3-43v2" stroke="#ff3b00" stroke-width="2" opacity="0.75"/><path d="M756 270v2m33 9v2m1 0v2m2 27v2m1-55v2m10 3v2m0 33v2m10-37v2m1 45v2m1-56v2m2 13v2m1 27v2m5-30v2m1 7v2m1-11v2m2-7v2m0 31v2m2-36v2m2 30v2m2-19v2m1-25v2m1 13v2m3 10v2m4-8v2m9 5v2m0 1v2m2-22v2m6 3v2m1-8v2m1 8v2m0 10v2m1 22v2m1-52v2m1 12v2m1 15v2m2-47v2m8 37v2m3-50v2m0 7v2m0 9v2m2 34v2m1-18v2m0-1v2m3-21v2m0 37v2m3-34v2m5-3v2m6-12v2m0 9v2m2 12v2m5 7v2m8-50v2m1 19v2m1 9v2m3-23v2m2 15v2m15 2v2" stroke="#ff3000" stroke-width="2" opacity="0.75"/><path d="M781 248v2m4 29v2m1-24v2m12-10v2m5 7v2m0 30v2m2 8v2m5-50v2m4-5v2m2 3v2m0 16v2m0 25v2m6-36v2m5-4v2m1 5v2m3-1v2m1-9v2m4-2v2m0 14v2m8-1v2m1 7v2m2-24v2m2-10v2m1-13v2m1 26v2m6-5v2m2-9v2m1-20v2m0 10v2m4 23v2m1-26v2m1 2v2m0 3v2m4 7v2m0-1v2m2-4v2m8 13v2m2-24v2m1-6v2m2-16v2m0 39v2m5-12v2m4-29v2m17 6v2m3 27v2m24-39v2m9-8v2" stroke="#ff2500" stroke-width="2" opacity="0.75"/><path d="M766 259v2m26-12v2m6 5v2m2 23v2m4-13v2m11 2v2m2-1v2m1-11v2m2-1v2m8-25v2m2 1v2m9 17v2m0 15v2m1-14v2m0 29v2m5-49v2m0 20v2m1-15v2m4 3v2m0 16v2m4-9v2m5-7v2m3-17v2m0 6v2m3 5v2m2-2v2m3-26v2m4 42v2m2-29v2m1 14v2m2-4v2m3-21v2m6-7v2m4 29v2m1-44v2m2 11v2m11 4v2m4 2v2m3-2v2m30 17v2" stroke="#ff1a00" stroke-width="2" opacity="0.75"/><path d="M776 248v2m19-33v2m2 41v2m5-8v2m1-19v2m4 4v2m4 10v2m10 20v2m4-13v2m19 33v2m2-19v2m7-42v2m12 21v2m4 18v2m1-65v2m0 22v2m3 5v2m7-4v2m3 32v2m1-49v2m0 44v2m5-27v2m3-3v2m2-1v2m8 6v2m2 13v2" stroke="#ff0f00" stroke-width="2" opacity="0.75"/><path d="M821 248v2m1 20v2m3-19v2m5-16v2m29 1v2m1 20v2m9 0v2m4-22v2m6 2v2" stroke="#ff0900" stroke-width="2" opacity="0.75"/><path d="M800 221v2m49 32v2m6 16v2" stroke="#ff0600" stroke-width="2" opacity="0.75"/>
<path d="M715.9 76.6 V456.1 H1084.8" fill="none" stroke="#888" stroke-width="1.4"/><path d="M789.7 456.1 v-4 M715.9 380.2 h4" stroke="#888" stroke-width="1.2"/><path d="M863.5 456.1 v-4 M715.9 304.3 h4" stroke="#888" stroke-width="1.2"/><path d="M937.2 456.1 v-4 M715.9 228.4 h4" stroke="#888" stroke-width="1.2"/><path d="M1011.0 456.1 v-4 M715.9 152.5 h4" stroke="#888" stroke-width="1.2"/><path d="M1084.8 456.1 v-4 M715.9 76.6 h4" stroke="#888" stroke-width="1.2"/><text x="715.9" y="485.1" font-size="23.5" text-anchor="middle" font-family='"Liberation Sans", sans-serif' fill="#111">0</text><text x="706.5" y="464.4" font-size="23.5" text-anchor="end" font-family='"Liberation Sans", sans-serif' fill="#111">0</text><text x="789.7" y="485.1" font-size="23.5" text-anchor="middle" font-family='"Liberation Sans", sans-serif' fill="#111">1</text><text x="706.5" y="388.5" font-size="23.5" text-anchor="end" font-family='"Liberation Sans", sans-serif' fill="#111">1</text><text x="863.5" y="485.1" font-size="23.5" text-anchor="middle" font-family='"Liberation Sans", sans-serif' fill="#111">2</text><text x="706.5" y="312.6" font-size="23.5" text-anchor="end" font-family='"Liberation Sans", sans-serif' fill="#111">2</text><text x="937.2" y="485.1" font-size="23.5" text-anchor="middle" font-family='"Liberation Sans", sans-serif' fill="#111">3</text><text x="706.5" y="236.7" font-size="23.5" text-anchor="end" font-family='"Liberation Sans", sans-serif' fill="#111">3</text><text x="1011.0" y="485.1" font-size="23.5" text-anchor="middle" font-family='"Liberation Sans", sans-serif' fill="#111">4</text><text x="706.5" y="160.8" font-size="23.5" text-anchor="end" font-family='"Liberation Sans", sans-serif' fill="#111">4</text><text x="1084.8" y="485.1" font-size="23.5" text-anchor="middle" font-family='"Liberation Sans", sans-serif' fill="#111">5</text><text x="706.5" y="84.9" font-size="23.5" text-anchor="end" font-family='"Liberation Sans", sans-serif' fill="#111">5</text><path d="M715.9 456.1 L1084.8 76.6" stroke="#222" stroke-width="1.1"/><text x="900.3" y="513.7" font-size="23" text-anchor="middle" font-family='"Liberation Sans", sans-serif' fill="#111">HS<tspan font-size="18" dx="1.2" dy="12">ADS</tspan><tspan dx="1.7" dy="-12"> [m]</tspan></text><text transform="translate(674.6,266.4) rotate(-90)" x="0" y="0" font-size="23" text-anchor="middle" font-family='"Liberation Sans", sans-serif' fill="#111">HS<tspan font-size="18" dx="1.2" dy="12">sim</tspan><tspan dx="1.7" dy="-12"> [m]</tspan></text><rect x="1105.5" y="76.60" width="28.9" height="6.32" fill="#ff0100"/><rect x="1105.5" y="82.52" width="28.9" height="6.32" fill="#ff0200"/><rect x="1105.5" y="88.44" width="28.9" height="6.32" fill="#ff0400"/><rect x="1105.5" y="94.36" width="28.9" height="6.32" fill="#ff0500"/><rect x="1105.5" y="100.28" width="28.9" height="6.32" fill="#ff0700"/><rect x="1105.5" y="106.20" width="28.9" height="6.32" fill="#ff0900"/><rect x="1105.5" y="112.12" width="28.9" height="6.32" fill="#ff0b00"/><rect x="1105.5" y="118.04" width="28.9" height="6.32" fill="#ff1200"/><rect x="1105.5" y="123.96" width="28.9" height="6.32" fill="#ff1800"/><rect x="1105.5" y="129.88" width="28.9" height="6.32" fill="#ff1f00"/><rect x="1105.5" y="135.80" width="28.9" height="6.32" fill="#ff2600"/><rect x="1105.5" y="141.72" width="28.9" height="6.32" fill="#ff2d00"/><rect x="1105.5" y="147.64" width="28.9" height="6.32" fill="#ff3400"/><rect x="1105.5" y="153.56" width="28.9" height="6.32" fill="#ff3b00"/><rect x="1105.5" y="159.48" width="28.9" height="6.32" fill="#ff4100"/><rect x="1105.5" y="165.40" width="28.9" height="6.32" fill="#ff4800"/><rect x="1105.5" y="171.32" width="28.9" height="6.32" fill="#ff4f00"/><rect x="1105.5" y="177.25" width="28.9" height="6.32" fill="#ff5700"/><rect x="1105.5" y="183.17" width="28.9" height="6.32" fill="#ff6000"/><rect x="1105.5" y="189.09" width="28.9" height="6.32" fill="#ff6800"/><rect x="1105.5" y="195.01" width="28.9" height="6.32" fill="#ff7100"/><rect x="1105.5" y="200.93" width="28.9" height="6.32" fill="#ff7900"/><rect x="1105.5" y="206.85" width="28.9" height="6.32" fill="#ff8200"/><rect x="1105.5" y="212.77" width="28.9" height="6.32" fill="#ff8a00"/><rect x="1105.5" y="218.69" width="28.9" height="6.32" fill="#ff9400"/><rect x="1105.5" y="224.61" width="28.9" height="6.32" fill="#ff9e00"/><rect x="1105.5" y="230.53" width="28.9" height="6.32" fill="#ffa800"/><rect x="1105.5" y="236.45" width="28.9" height="6.32" fill="#ffb100"/><rect x="1105.5" y="242.37" width="28.9" height="6.32" fill="#ffbb00"/><rect x="1105.5" y="248.29" width="28.9" height="6.32" fill="#f6c000"/><rect x="1105.5" y="254.21" width="28.9" height="6.32" fill="#eac300"/><rect x="1105.5" y="260.13" width="28.9" height="6.32" fill="#ddc600"/><rect x="1105.5" y="266.05" width="28.9" height="6.32" fill="#ceca00"/><rect x="1105.5" y="271.97" width="28.9" height="6.32" fill="#bbcf00"/><rect x="1105.5" y="277.89" width="28.9" height="6.32" fill="#a8d300"/><rect x="1105.5" y="283.81" width="28.9" height="6.32" fill="#95d800"/><rect x="1105.5" y="289.73" width="28.9" height="6.32" fill="#81dc00"/><rect x="1105.5" y="295.65" width="28.9" height="6.32" fill="#62e200"/><rect x="1105.5" y="301.57" width="28.9" height="6.32" fill="#43e900"/><rect x="1105.5" y="307.49" width="28.9" height="6.32" fill="#24ef00"/><rect x="1105.5" y="313.41" width="28.9" height="6.32" fill="#14ee03"/><rect x="1105.5" y="319.33" width="28.9" height="6.32" fill="#09ec07"/><rect x="1105.5" y="325.25" width="28.9" height="6.32" fill="#00e80d"/><rect x="1105.5" y="331.17" width="28.9" height="6.32" fill="#00db19"/><rect x="1105.5" y="337.09" width="28.9" height="6.32" fill="#00ce24"/><rect x="1105.5" y="343.01" width="28.9" height="6.32" fill="#00c230"/><rect x="1105.5" y="348.93" width="28.9" height="6.32" fill="#00b53c"/><rect x="1105.5" y="354.85" width="28.9" height="6.32" fill="#00a848"/><rect x="1105.5" y="360.77" width="28.9" height="6.32" fill="#009b55"/><rect x="1105.5" y="366.70" width="28.9" height="6.32" fill="#008d63"/><rect x="1105.5" y="372.62" width="28.9" height="6.32" fill="#008070"/><rect x="1105.5" y="378.54" width="28.9" height="6.32" fill="#00737d"/><rect x="1105.5" y="384.46" width="28.9" height="6.32" fill="#006292"/><rect x="1105.5" y="390.38" width="28.9" height="6.32" fill="#004fac"/><rect x="1105.5" y="396.30" width="28.9" height="6.32" fill="#003cc5"/><rect x="1105.5" y="402.22" width="28.9" height="6.32" fill="#002bd8"/><rect x="1105.5" y="408.14" width="28.9" height="6.32" fill="#001be7"/><rect x="1105.5" y="414.06" width="28.9" height="6.32" fill="#000cf5"/><rect x="1105.5" y="419.98" width="28.9" height="6.32" fill="#0000ff"/><rect x="1105.5" y="425.90" width="28.9" height="6.32" fill="#0000ff"/><rect x="1105.5" y="431.82" width="28.9" height="6.32" fill="#0000ff"/><rect x="1105.5" y="437.74" width="28.9" height="6.32" fill="#0000ff"/><rect x="1105.5" y="443.66" width="28.9" height="6.32" fill="#0000ff"/><rect x="1105.5" y="449.58" width="28.9" height="6.32" fill="#0000ff"/><rect x="1105.5" y="76.6" width="28.9" height="378.9" fill="none" stroke="#444" stroke-width="1"/><path d="M1134.4 119.1 h-3" stroke="#333" stroke-width="1"/><text x="1141.7" y="126.6" font-size="21.2" font-family='"Liberation Sans", sans-serif' fill="#111">3000</text><path d="M1134.4 216.2 h-3" stroke="#333" stroke-width="1"/><text x="1141.7" y="223.7" font-size="21.2" font-family='"Liberation Sans", sans-serif' fill="#111">2500</text><path d="M1134.4 313.3 h-3" stroke="#333" stroke-width="1"/><text x="1141.7" y="320.8" font-size="21.2" font-family='"Liberation Sans", sans-serif' fill="#111">2000</text><path d="M1134.4 410.4 h-3" stroke="#333" stroke-width="1"/><text x="1141.7" y="417.9" font-size="21.2" font-family='"Liberation Sans", sans-serif' fill="#111">1500</text><text transform="translate(1211.0,266.1) rotate(-90)" x="0" y="0" font-size="21" text-anchor="middle" font-family='"Liberation Sans", sans-serif' fill="#111">Elevation [m]</text>
<path d="M764 916v2m10-13v2m10-12v2m2-5v2m7 7v2m1 0v2m1 16v2m1 5v2m2-26v2m1-1v2m3 8v2m3-7v2m0 0v2m1 2v2m4-13v2m0 4v2m3-12v2m3 2v2m1 4v2m2-8v2m1-7v2m5 10v2m0 6v2m2-12v2m1 5v2m1-21v2m1 2v2m5-1v2m3 4v2m1-9v2m0 9v2m3-8v2m0 16v2m1-24v2m1-4v2m1 12v2m1-11v2m1 14v2m2-17v2m0-1v2m3 6v2m3 3v2m8-17v2m0 9v2m8-10v2m1 0v2m2-11v2m0 6v2m3-6v2m2-7v2m1-3v2m9-11v2m3 8v2m1 1v2m5 0v2m5-6v2m3 6v2m0 2v2m1-20v2m3 0v2m1-3v2m7-13v2m4 9v2m6-5v2m8-4v2m3 7v2m6-15v2m1 18v2m12 0v2m32-18v2" stroke="#000df2" stroke-width="2" opacity="0.8"/><path d="M738 906v2m31-3v2m13 8v2m10-1v2m14-5v2m4-11v2m0 0v2m5-9v2m5 25v2m4-15v2m1-20v2m0 14v2m1-15v2m0 15v2m3 7v2m1-12v2m1-14v2m2 16v2m1-17v2m1 1v2m0 9v2m1-8v2m4-24v2m1 5v2m3 19v2m1-2v2m1-19v2m4 6v2m1-13v2m3 8v2m2-9v2m0 1v2m0-1v2m0 4v2m1-5v2m1 9v2m7-24v2m1 2v2m2-14v2m0 6v2m1-3v2m2 2v2m2 2v2m9-9v2m0 1v2m1 17v2m3-16v2m1 1v2m1-21v2m0 13v2m3-11v2m4 12v2m1-5v2m4 0v2m0 0v2m2-9v2m1 15v2m1-14v2m1-3v2m10-20v2m0 7v2m9 8v2m2-18v2m4-2v2m9 14v2m18-8v2m8-9v2m5 7v2m8 2v2m18-11v2m38-5v2" stroke="#0026d9" stroke-width="2" opacity="0.8"/><path d="M736 902v2m45 13v2m2 2v2m8 1v2m3-31v2m2 7v2m4 6v2m3-6v2m0 5v2m5-13v2m2 8v2m3 5v2m6-24v2m2 0v2m1 0v2m1 10v2m4 3v2m3-21v2m2 3v2m1 6v2m0 7v2m2-22v2m2 8v2m3-6v2m1-5v2m1-14v2m7 11v2m2-7v2m1 1v2m2 3v2m0 6v2m1-5v2m1-12v2m3 2v2m6-5v2m2 4v2m4-21v2m5 2v2m0 2v2m2 3v2m9-8v2m1-5v2m10-1v2m11 10v2m9-7v2m2-9v2m12 7v2m2-9v2m15-4v2m17 7v2m13-21v2m5 9v2m20 2v2" stroke="#0040bf" stroke-width="2" opacity="0.8"/><path d="M748 916v2m12-9v2m13 2v2m14 0v2m7-7v2m2 0v2m8 0v2m4 0v2m3-15v2m4 9v2m1-6v2m2-9v2m1-4v2m0 5v2m2-16v2m1-5v2m4 24v2m2 4v2m1-38v2m1 18v2m4-7v2m0 0v2m3 26v2m2-32v2m4 0v2m0 22v2m1-28v2m3-4v2m10 10v2m4-8v2m1 5v2m1-9v2m0 0v2m0 4v2m1-2v2m1-7v2m0 7v2m9-24v2m4 15v2m0-1v2m2-23v2m4 6v2m0 17v2m2-20v2m3 7v2m6-18v2m8 13v2m2-3v2m5-9v2m1-6v2m11 16v2m15-21v2m16-3v2m3-9v2m0 16v2m18-6v2m5-7v2m5 9v2m24-8v2m27-17v2m6 9v2" stroke="#0059a6" stroke-width="2" opacity="0.8"/><path d="M743 902v2m0 10v2m44-5v2m1-7v2m5 2v2m5 8v2m3-9v2m11-4v2m3-4v2m0 0v2m1 5v2m4-12v2m0 3v2m2-5v2m4 10v2m1-27v2m3 24v2m3-19v2m2 1v2m2 4v2m1-7v2m1 13v2m1-12v2m3-2v2m0 4v2m2-9v2m3-16v2m7 2v2m1-2v2m1 15v2m0 6v2m2-35v2m3 20v2m1-5v2m8-2v2m0 6v2m1-22v2m3 4v2m6-8v2m1-4v2m4-17v2m0 14v2m2 3v2m2 1v2m1-11v2m0 4v2m10 3v2m5 3v2m1-7v2m13 6v2m3-10v2m14-19v2m0 2v2m2 0v2m22-4v2m6 4v2m7 0v2m2-5v2m11 10v2m5-26v2m82-1v2" stroke="#00738c" stroke-width="2" opacity="0.8"/><path d="M786 910v2m9-14v2m1 19v2m1-14v2m3-16v2m1 10v2m4-1v2m1-2v2m9 2v2m4-9v2m0 0v2m0 16v2m2-5v2m1-14v2m2-6v2m1 0v2m4-2v2m4-9v2m6 7v2m0 7v2m3-11v2m2-10v2m11 13v2m2-4v2m4 7v2m4-14v2m6 11v2m1-11v2m2 9v2m3-23v2m2-2v2m1 3v2m0 7v2m1-21v2m6 8v2m1-9v2m5-2v2m7-7v2m0-1v2m6 0v2m0 4v2m8 2v2m4 12v2m4-11v2m2-11v2m1-12v2m0-1v2m7 6v2m5-12v2m9 17v2m26-10v2m29 3v2m20-8v2m6-7v2m0 1v2m8-12v2" stroke="#008c73" stroke-width="2" opacity="0.8"/><path d="M749 914v2m33 12v2m13-15v2m1 7v2m3-13v2m0 4v2m1-20v2m2 7v2m0 6v2m10-1v2m2-17v2m3 14v2m1-6v2m2-2v2m2 2v2m3-1v2m2 4v2m1-20v2m0 2v2m0 12v2m1-14v2m3-4v2m0 3v2m2-4v2m2 5v2m1-11v2m7-11v2m4-3v2m1 11v2m0-1v2m0 7v2m3-30v2m3 14v2m5 1v2m1 2v2m1-25v2m0 10v2m0 3v2m0 1v2m8-14v2m4-3v2m1-2v2m7-2v2m5-4v2m2-3v2m3 0v2m3 8v2m0 13v2m1-29v2m1 3v2m1-1v2m3-5v2m1-4v2m10 8v2m12-8v2m15-3v2m1 7v2m5-1v2m12-23v2m12 0v2m7-5v2m5 0v2m52-1v2" stroke="#00a659" stroke-width="2" opacity="0.8"/><path d="M775 928v2m4-13v2m3-5v2m8-6v2m1 11v2m13 0v2m8-20v2m6-16v2m0 15v2m6 0v2m0 1v2m0 15v2m2-36v2m5 17v2m1-3v2m1 12v2m1-8v2m6-4v2m2-11v2m1-11v2m2-8v2m1 4v2m1-5v2m0 9v2m0 3v2m0 17v2m1-1v2m0-2v2m3-14v2m3-19v2m0-2v2m1-1v2m0 14v2m1-8v2m0 2v2m1-9v2m4-1v2m3-11v2m1 6v2m4-10v2m0 19v2m7-9v2m1-19v2m2-3v2m4-3v2m10-1v2m6 6v2m5-8v2m4 0v2m3-1v2m2-3v2m18 12v2m2-16v2m8 0v2m2-2v2m11 11v2m29-15v2m28 0v2m67-13v2" stroke="#00bf40" stroke-width="2" opacity="0.8"/><path d="M744 920v2m14-18v2m3 8v2m14 15v2m5-3v2m8-18v2m6 11v2m4-10v2m0 10v2m6-17v2m3-6v2m7 17v2m2-11v2m1-18v2m1 34v2m5-33v2m1 7v2m1 4v2m2-3v2m3-4v2m2-5v2m1-15v2m1 9v2m1-2v2m2-12v2m3-3v2m2 15v2m1 8v2m1-34v2m1 13v2m0 6v2m1-10v2m1-3v2m0 13v2m3-21v2m1 0v2m0 3v2m0 4v2m1-11v2m1 6v2m0 1v2m1 0v2m1-23v2m0 14v2m2-9v2m3 0v2m0 1v2m1-9v2m1-2v2m1 3v2m4 3v2m4-23v2m1 30v2m11-21v2m3-1v2m11 2v2m2-8v2m4-12v2m1 28v2m2-31v2m1 16v2m2-10v2m14-6v2m3 2v2m4 4v2m15-17v2m8 2v2m27 4v2m4-3v2m7-6v2m0 14v2m30-20v2m2-3v2m50 4v2" stroke="#00d926" stroke-width="2" opacity="0.8"/><path d="M779 933v2m3-7v2m1-16v2m5-1v2m0 2v2m10-4v2m6 11v2m4 1v2m4-23v2m3-2v2m2 3v2m2 10v2m1-7v2m1-1v2m0 5v2m2-27v2m0 15v2m1-9v2m5-11v2m1 12v2m4 0v2m1-11v2m1 1v2m0-1v2m0 6v2m3-11v2m4-13v2m3 4v2m2-7v2m1 15v2m2 4v2m2-29v2m1 11v2m4-20v2m0 21v2m2-2v2m4 2v2m2-9v2m0-1v2m2-3v2m1-13v2m0 17v2m1-10v2m0 6v2m1-10v2m2-4v2m20-12v2m4 11v2m5 10v2m6-15v2m4 8v2m7-16v2m2-3v2m8 3v2m5-3v2m7-4v2m5 1v2m3 7v2m1-10v2m3 0v2m19-14v2" stroke="#00f20d" stroke-width="2" opacity="0.8"/><path d="M775 935v2m17-18v2m6 8v2m0-1v2m2-3v2m1 4v2m2 1v2m7-18v2m10-12v2m8 19v2m1 0v2m7 3v2m2-26v2m1 7v2m3 9v2m1-18v2m1 0v2m16-9v2m1 3v2m8-1v2m7-1v2m3-4v2m0 18v2m1-25v2m0 15v2m1-5v2m1 9v2m10-16v2m2-21v2m5 9v2m0 1v2m3-4v2m3 2v2m2-9v2m4-3v2m17-1v2m1 4v2m18-1v2m5-22v2m12 14v2m22-8v2m40 0v2m8-4v2" stroke="#0df200" stroke-width="2" opacity="0.8"/><path d="M768 934v2m18-9v2m1 7v2m3-7v2m1 13v2m2-9v2m1-33v2m2 16v2m10 9v2m2-7v2m2 0v2m7-8v2m1-9v2m0-1v2m4-8v2m0 3v2m0 7v2m0-1v2m1 14v2m1-30v2m8 30v2m1-33v2m0-1v2m0 6v2m0 1v2m0 0v2m2-15v2m0 14v2m4-21v2m1 9v2m1-8v2m0 8v2m2-2v2m3-11v2m2-9v2m2 10v2m11-4v2m1-12v2m1-3v2m6 4v2m0 16v2m4-3v2m1-15v2m3-10v2m3 3v2m0 4v2m6-5v2m3-13v2m4 14v2m1 1v2m7 10v2m14-37v2m0 3v2m5 18v2m2-14v2m4-14v2m7 11v2m5-1v2m13 7v2m6-15v2m2-2v2m0 4v2m22-21v2m86-1v2" stroke="#26d900" stroke-width="2" opacity="0.8"/><path d="M789 915v2m3 12v2m5-13v2m4 3v2m2-2v2m1 17v2m3-7v2m5-17v2m4-5v2m5 5v2m5-14v2m0 6v2m2-1v2m8 4v2m0 5v2m3-15v2m4-5v2m2 11v2m7-2v2m3-12v2m2-6v2m0 6v2m1-4v2m1-1v2m1 1v2m0 3v2m2-8v2m0 2v2m3-8v2m0 14v2m1-24v2m4 2v2m0 2v2m1 13v2m3-9v2m1-13v2m1-14v2m1 7v2m3-2v2m0 27v2m2-31v2m2 7v2m1-15v2m4 19v2m1-11v2m2-6v2m2-6v2m7 11v2m9-15v2m16-13v2m10 12v2m13 4v2m3-7v2m3-14v2m10 8v2m9 1v2m11 0v2m9-5v2m25 0v2m28-14v2" stroke="#40bf00" stroke-width="2" opacity="0.8"/><path d="M759 930v2m19 21v2m16-25v2m12 8v2m1 1v2m2-6v2m4-20v2m0 17v2m6-13v2m4-5v2m4 15v2m4-22v2m4 18v2m1-3v2m2-26v2m1 18v2m2-18v2m0 15v2m2-25v2m3 6v2m1 1v2m1-6v2m7 12v2m1 8v2m1-23v2m0 5v2m1-20v2m3 17v2m1 6v2m6-13v2m0 3v2m3-28v2m0 14v2m5 11v2m1-20v2m0 23v2m1-11v2m1-4v2m3 20v2m3-19v2m1-12v2m4-9v2m2 20v2m2-15v2m0 0v2m4 3v2m1-17v2m1 14v2m1-1v2m5-9v2m2-4v2m1 4v2m3-29v2m8 13v2m6 11v2m5-16v2m4 0v2m12 0v2m3-6v2m2-12v2m3 13v2m22-9v2m1 12v2m12-10v2m22-8v2m11-4v2m3 2v2m12-10v2" stroke="#59a600" stroke-width="2" opacity="0.8"/><path d="M793 945v2m10-10v2m2 1v2m1-9v2m0 2v2m1-12v2m1 0v2m2 13v2m2 10v2m5-27v2m0 11v2m3-16v2m0-1v2m5 0v2m1 11v2m1-15v2m1 9v2m4-19v2m3 0v2m2-15v2m0 28v2m1-29v2m2 14v2m1 2v2m1-15v2m1-4v2m0 9v2m0 13v2m3-23v2m1-5v2m0 19v2m1-12v2m4-3v2m1 9v2m1-10v2m1-10v2m2 2v2m5-17v2m1-5v2m0 23v2m1-19v2m1-9v2m1 29v2m1-16v2m2-3v2m1-14v2m2 13v2m1 4v2m9-10v2m2-2v2m2 7v2m4-8v2m5-3v2m4-19v2m4-2v2m1 11v2m3-14v2m6 14v2m18-21v2m15 2v2m1 1v2m9 10v2m5-7v2m5 4v2m5-28v2m18 13v2m15-3v2m8-2v2m29 2v2" stroke="#738c00" stroke-width="2" opacity="0.8"/><path d="M774 941v2m11 10v2m2-12v2m17-14v2m3 0v2m1-16v2m0 32v2m1-24v2m3 22v2m4-5v2m1-19v2m1 2v2m2-4v2m1 7v2m5-1v2m6-12v2m3-3v2m4-4v2m3-1v2m0 0v2m0 4v2m4-13v2m1-2v2m0 2v2m0 3v2m1-4v2m1 3v2m1-8v2m1-13v2m2 12v2m1-9v2m0-1v2m1-3v2m6-2v2m0 2v2m7 9v2m6-11v2m6 11v2m6-28v2m5 13v2m3-9v2m2 5v2m4-10v2m0 10v2m10-14v2m9-13v2m1 4v2m1 3v2m5-16v2m5 11v2m1-1v2m0 1v2m7 0v2m1-21v2m6 14v2m6-3v2m4-2v2m3-1v2m123-8v2" stroke="#8c7300" stroke-width="2" opacity="0.8"/><path d="M775 951v2m3-14v2m12 11v2m7-11v2m3-8v2m5-7v2m1-1v2m3 8v2m1-7v2m1 1v2m5 4v2m3-10v2m5 9v2m1-16v2m0 2v2m2-5v2m2-7v2m0 4v2m1-12v2m1 6v2m0 5v2m0 4v2m1-11v2m1-14v2m0 17v2m0 2v2m7-13v2m1-8v2m1 3v2m1-1v2m1-4v2m0 3v2m2-10v2m3 9v2m0-1v2m2-14v2m5-16v2m6 19v2m3-12v2m7-5v2m2 5v2m11 3v2m4-9v2m2-18v2m0 7v2m0 0v2m0 5v2m4-3v2m9 13v2m4-14v2m1-20v2m7 10v2m6 3v2m7-7v2m3 7v2m2-21v2m4 15v2m2-9v2m12 4v2m21-17v2m3 4v2m94 2v2" stroke="#a65900" stroke-width="2" opacity="0.8"/><path d="M763 937v2m14 0v2m9-21v2m7 8v2m5 4v2m2 5v2m3-5v2m13 4v2m2-5v2m5-9v2m5 21v2m2-19v2m0-2v2m0-1v2m0 10v2m6-28v2m0 6v2m2 16v2m1-12v2m3-22v2m5 26v2m1-17v2m2 15v2m2-29v2m0 14v2m1-15v2m5-9v2m1 35v2m1-31v2m0 7v2m0 17v2m1-40v2m6 12v2m1 6v2m1-21v2m0 26v2m1-28v2m6 0v2m0 9v2m1 3v2m8-14v2m2-7v2m2 4v2m0 5v2m1-9v2m4 5v2m3-7v2m3 1v2m0 1v2m0 1v2m1-13v2m7 2v2m1-7v2m2 5v2m4-6v2m2 12v2m1-16v2m2-20v2m1 13v2m14-1v2m36-3v2m12-2v2m8-7v2m8 1v2" stroke="#bf4000" stroke-width="2" opacity="0.8"/><path d="M767 948v2m15-1v2m8-5v2m9-7v2m9-15v2m5 14v2m0 7v2m1-19v2m5 6v2m6-7v2m2 11v2m2-14v2m2-1v2m0-2v2m1-17v2m2 22v2m1-16v2m0 3v2m0 11v2m2-8v2m7-7v2m1 7v2m1-6v2m2-18v2m2-5v2m2 7v2m9 11v2m1-25v2m0 9v2m5-13v2m0 15v2m2-19v2m1 0v2m3-14v2m0 19v2m7 0v2m3-10v2m0 13v2m2-20v2m1-1v2m8 4v2m4-5v2m1-18v2m11 26v2m5-1v2m1-20v2m2 0v2m20 4v2m3 4v2m2-2v2m18-5v2m3-16v2m1 19v2m42-17v2m1 1v2m8 6v2m12-29v2m17 12v2" stroke="#d92600" stroke-width="2" opacity="0.8"/><path d="M737 961v2m35-22v2m2-23v2m3 28v2m6-13v2m3 6v2m0 3v2m13-9v2m3 9v2m5-12v2m0 16v2m7-24v2m1 12v2m6-20v2m11 2v2m1-23v2m1 4v2m0 10v2m0-2v2m2 20v2m2-17v2m1-1v2m0-1v2m1-12v2m1 20v2m1-22v2m0 1v2m4 4v2m1-2v2m1-17v2m0 15v2m5-34v2m0 16v2m1 8v2m1-23v2m3 24v2m0 1v2m2-29v2m4 10v2m4 9v2m4-5v2m1-14v2m2-3v2m1-3v2m0 0v2m2 11v2m5-18v2m0 1v2m2 8v2m2-4v2m3-15v2m8 1v2m2-14v2m10 23v2m7-17v2m4 19v2m4-27v2m11 9v2m1 7v2m4-8v2m11-3v2" stroke="#f20d00" stroke-width="2" opacity="0.8"/><path d="M742 967v2m30-36v2m8 15v2m1 2v2m2-12v2m0 4v2m8-3v2m4-17v2m0 20v2m2-2v2m3-20v2m6-5v2m3 17v2m5-15v2m1-16v2m1 36v2m2-17v2m1 0v2m1 2v2m2-3v2m2-14v2m7 2v2m2-13v2m0 9v2m2-19v2m2 20v2m3-21v2m1 7v2m0-2v2m0 4v2m2-26v2m2 19v2m4-12v2m0 1v2m1-1v2m2-1v2m2-9v2m0 1v2m2 16v2m5-19v2m1 4v2m3-2v2m1 8v2m1-20v2m1 12v2m1-11v2m1-10v2m7 15v2m4-3v2m2-15v2m0 5v2m1-11v2m0 7v2m0 0v2m6-11v2m3-6v2m2 13v2m1-1v2m2-24v2m4 17v2m1 6v2m3-23v2m4 2v2m14-15v2m9 22v2m10-12v2m5-16v2m10 8v2m12-3v2m47 3v2" stroke="#ff0d00" stroke-width="2" opacity="0.8"/><path d="M743 952v2m31-1v2m13-19v2m13-1v2m1 6v2m2-10v2m3-3v2m2 8v2m3 5v2m3 5v2m3-29v2m3 7v2m0 5v2m2-18v2m0 10v2m0 2v2m1 0v2m3-3v2m1-10v2m0-1v2m1-18v2m2 8v2m10-3v2m4 9v2m1-16v2m0 13v2m1-10v2m7 3v2m3 2v2m1-11v2m1-2v2m0 7v2m5-13v2m6 1v2m0 6v2m1-8v2m5-23v2m5 4v2m1 9v2m2-11v2m0 7v2m5-7v2m4-5v2m1 11v2m5-17v2m4-6v2m0 20v2m8-15v2m0 11v2m10-18v2m0 10v2m14-13v2m11 5v2m43-7v2m5-21v2" stroke="#ff2600" stroke-width="2" opacity="0.8"/><path d="M746 930v2m5 23v2m11-11v2m25 16v2m2-29v2m13-13v2m4 3v2m10 28v2m6-16v2m0-2v2m1-13v2m0 5v2m1-2v2m2-4v2m2-10v2m1 22v2m1-21v2m5-5v2m2-5v2m0 0v2m1-4v2m0 11v2m1-20v2m3 12v2m0 2v2m5-5v2m3-3v2m4 1v2m1-21v2m1 29v2m1-24v2m2 2v2m0 0v2m1 3v2m1-20v2m1-7v2m0 18v2m3-4v2m0 7v2m1-18v2m1 7v2m1 0v2m8-5v2m4-3v2m2-11v2m6 15v2m0-2v2m3-23v2m0 17v2m1-21v2m5-1v2m2 2v2m0 14v2m2-20v2m0 14v2m1-10v2m1 1v2m8-12v2m1 4v2m0 7v2m9-20v2m5 1v2m6 5v2m2-6v2m1-4v2m3 8v2m5-13v2m8 1v2m10 5v2m27-3v2m33-7v2m7-1v2" stroke="#ff4000" stroke-width="2" opacity="0.8"/><path d="M770 943v2m15 8v2m8-28v2m3 23v2m4 11v2m1-25v2m0 3v2m2-5v2m2 0v2m8-14v2m7 11v2m1-33v2m5 24v2m1 4v2m6-16v2m0 3v2m3-12v2m1 22v2m5-17v2m1-10v2m1 9v2m4-12v2m0 4v2m3-15v2m1 10v2m3 9v2m2-10v2m1 2v2m3-12v2m1-7v2m7 24v2m2-21v2m1 3v2m7 2v2m1-20v2m2 16v2m3-7v2m1-11v2m1 0v2m2 6v2m1-10v2m6 12v2m2-19v2m2 4v2m5 3v2m3-9v2m5 13v2m5-20v2m2 5v2m3-4v2m4 7v2m1-19v2m17 3v2m5-9v2m1 18v2m15-17v2m8-16v2m3 18v2m1-8v2m52-5v2" stroke="#ff5900" stroke-width="2" opacity="0.8"/><path d="M768 926v2m21 9v2m8-10v2m2 4v2m7-2v2m1 4v2m1 3v2m0 8v2m7-10v2m1-2v2m1-14v2m0 1v2m1-10v2m4-14v2m3 23v2m3-6v2m1-18v2m0 11v2m2 12v2m4-42v2m1 27v2m0 3v2m2-11v2m2-1v2m5-6v2m0 0v2m1-23v2m3 11v2m0-1v2m3 14v2m4-10v2m0 15v2m1-29v2m0 12v2m0 4v2m1 4v2m2-22v2m2-1v2m1 10v2m3-13v2m0 2v2m5-14v2m1 4v2m0 3v2m1-2v2m0 4v2m1 10v2m1-19v2m3-15v2m2 8v2m1-11v2m1 4v2m3-2v2m0-2v2m0 15v2m1-6v2m4-13v2m3 9v2m3-13v2m1-7v2m6 9v2m7 7v2m1-17v2m25 2v2m92-23v2" stroke="#ff7300" stroke-width="2" opacity="0.8"/><path d="M773 928v2m4 4v2m7 14v2m13-3v2m1-2v2m4-16v2m5 2v2m3 13v2m5-29v2m3 11v2m1 6v2m1-17v2m1-8v2m2-11v2m1-3v2m0 25v2m0-1v2m1-25v2m1-1v2m1 14v2m1-8v2m4-6v2m2-6v2m2 14v2m3-18v2m4 7v2m0 10v2m5-15v2m1-6v2m4 12v2m2-1v2m1-2v2m3-10v2m4-15v2m5 0v2m0-1v2m0 12v2m5-4v2m1-17v2m1 17v2m1-18v2m0 3v2m1 8v2m0 7v2m4-22v2m0 3v2m1 6v2m2 2v2m2-12v2m3 1v2m1-21v2m3 5v2m8 8v2m1-4v2m6-8v2m5 3v2m2 2v2m5 2v2m0 3v2m1-5v2m13-11v2m2-11v2m1-2v2m0-1v2m7 6v2m8-23v2m6 15v2m2-12v2m24-1v2m2 2v2m2-10v2" stroke="#ff8c00" stroke-width="2" opacity="0.8"/><path d="M797 927v2m4-4v2m0 17v2m2-11v2m1 0v2m6-8v2m0 5v2m5 9v2m7-32v2m5 12v2m0 10v2m1-20v2m0 12v2m1-6v2m2-21v2m0 20v2m6-25v2m2 12v2m0-1v2m1-7v2m0 10v2m1-19v2m3 8v2m2-2v2m1-2v2m8 8v2m5-7v2m1 2v2m2-17v2m2 12v2m1-11v2m1 2v2m1-5v2m3 4v2m1 7v2m8-20v2m6 5v2m1-14v2m0 1v2m1 3v2m0-1v2m3 10v2m3-2v2m8-11v2m1-5v2m5 2v2m1-3v2m3-9v2m7-12v2m3 7v2m5-11v2m0 2v2m5 3v2m1-2v2m13-1v2m3-13v2m7 5v2m12-5v2m13-2v2m16 3v2" stroke="#ffa600" stroke-width="2" opacity="0.8"/><path d="M743 933v2m48-6v2m0 1v2m7-2v2m0 4v2m3-9v2m2-3v2m1 14v2m2-17v2m2 3v2m1-16v2m1 3v2m0 0v2m2 1v2m1-6v2m2-2v2m5 4v2m4-12v2m3 10v2m2-17v2m5 17v2m2-20v2m0 7v2m2-6v2m1-8v2m1 11v2m0 2v2m1-8v2m0 5v2m0 4v2m3-17v2m1-6v2m4 3v2m3 6v2m3-1v2m2-14v2m1-4v2m0 1v2m1 10v2m0-1v2m1-11v2m6 0v2m7-12v2m1-1v2m1 6v2m4 4v2m2-20v2m3 12v2m1-4v2m2-15v2m0-1v2m8 1v2m1-7v2m0-2v2m0 13v2m5-17v2m2 9v2m1-8v2m3 6v2m2-5v2m2-3v2m2 1v2m3-3v2m5-9v2m0 3v2m1-4v2m9 1v2m2-5v2m5 2v2m26-7v2m16 4v2m2-5v2m16-6v2m52 2v2m6-17v2" stroke="#ffbf00" stroke-width="2" opacity="0.8"/><path d="M739 918v2m57 6v2m7 0v2m5 5v2m1-25v2m1 21v2m1 2v2m3-15v2m0-1v2m0 6v2m5 13v2m6-25v2m2 7v2m2-5v2m2-6v2m8-18v2m6 10v2m4-2v2m0 17v2m1-26v2m1-7v2m0 11v2m2-8v2m2 3v2m1-2v2m0 4v2m2-7v2m1-7v2m1 0v2m1-28v2m0 24v2m0 5v2m3-12v2m1-1v2m3-16v2m3 6v2m6 0v2m2-2v2m0 15v2m1-22v2m2-3v2m3-4v2m1 2v2m5 17v2m2 2v2m2-7v2m2-1v2m8-21v2m1 15v2m6-5v2m3-3v2m8-19v2m2 10v2m2-5v2m4 2v2m1 0v2m19-6v2m1-5v2m6 0v2m21 6v2m5-22v2m7-2v2m16 5v2" stroke="#ffd900" stroke-width="2" opacity="0.8"/><path d="M786 933v2m1 6v2m2-5v2m4-10v2m11-13v2m1 2v2m6 10v2m5-13v2m3 6v2m3-14v2m1 10v2m1-11v2m1-11v2m2 12v2m1-8v2m1-9v2m0 5v2m7-11v2m0 20v2m2-5v2m1-12v2m0 11v2m2-26v2m2 12v2m1 5v2m2-4v2m2-9v2m2-11v2m2 13v2m5-2v2m0 4v2m2-26v2m0 4v2m1 1v2m2 7v2m3-3v2m3-5v2m7 4v2m6-8v2m20-15v2m7 4v2m2-4v2m2-1v2m6-10v2m1-2v2m2 17v2m3-14v2m5-15v2m36 1v2m23 8v2m53 0v2" stroke="#fff200" stroke-width="2" opacity="0.8"/><path d="M753 925v2m0 2v2m9 3v2m28-9v2m11-17v2m3 20v2m9-21v2m2-17v2m1 7v2m9 10v2m1-5v2m2 5v2m1-8v2m0 19v2m4-18v2m0 5v2m1-10v2m1-1v2m2-13v2m0 4v2m2 10v2m4-20v2m1-2v2m1 10v2m0-1v2m3-3v2m1-16v2m0 22v2m2-32v2m0 31v2m1-31v2m0 5v2m4 4v2m3-8v2m1-10v2m10 6v2m1 9v2m3-6v2m0 0v2m1-16v2m2 9v2m2-8v2m4 0v2m1 4v2m2-15v2m1 3v2m0 9v2m0 1v2m3-30v2m5 6v2m9 1v2m12-18v2m2 16v2m0 15v2m1-13v2m0 0v2m1-18v2m12-4v2m10 8v2m2-11v2m2-7v2m29 12v2m9-5v2m16 8v2m41-11v2" stroke="#f2f20d" stroke-width="2" opacity="0.8"/><path d="M766 946v2m13-15v2m13-8v2m1-21v2m4 23v2m7-1v2m1-21v2m3-20v2m0 25v2m2 2v2m3-22v2m3 0v2m1 26v2m2-19v2m0-1v2m5-20v2m1 8v2m2-1v2m2 4v2m2 2v2m2-4v2m1 8v2m1-13v2m1 4v2m2-6v2m1-19v2m0 12v2m0-1v2m1-10v2m0 9v2m3-12v2m1 2v2m1 6v2m0 11v2m3-14v2m4-9v2m1-9v2m1-6v2m0 11v2m0 1v2m0 4v2m6-11v2m1-17v2m6 24v2m3-24v2m0 3v2m4-13v2m0 18v2m1-10v2m2-3v2m1 2v2m0-2v2m2-4v2m1-6v2m3 2v2m1-3v2m2-8v2m1 3v2m0 6v2m1-12v2m2 5v2m9-1v2m2-20v2m6 6v2m5 5v2m2-11v2m18 8v2m4-4v2m10-14v2m2 11v2m15-5v2m14-9v2m5-2v2m32 0v2" stroke="#d9d926" stroke-width="2" opacity="0.8"/><path d="M793 909v2m2 10v2m7-3v2m2-1v2m3-25v2m3 13v2m5-2v2m1 5v2m1-1v2m2-12v2m7-3v2m2 6v2m0 0v2m1-7v2m2-3v2m1 2v2m1-4v2m2-10v2m1 6v2m2 2v2m2-15v2m3 5v2m0 6v2m6-8v2m0-1v2m2-10v2m2 9v2m3-6v2m1 6v2m2-8v2m3-2v2m1-12v2m0 0v2m0 4v2m3-1v2m2-18v2m0 12v2m2-23v2m0 14v2m0 0v2m0 11v2m2-9v2m12-3v2m1-16v2m2 6v2m4 10v2m3-13v2m10 4v2m3-3v2m28-10v2m6 3v2m0 2v2m17-22v2m1 20v2m3-13v2m2-2v2m35-7v2m9 8v2m31-8v2m17-2v2" stroke="#bfbf40" stroke-width="2" opacity="0.8"/><path d="M737 923v2m53-19v2m2 0v2m2-10v2m15 35v2m7-28v2m0 3v2m1-20v2m0 22v2m3-29v2m0 5v2m0 1v2m2 10v2m0 1v2m2 0v2m1-12v2m0 7v2m3-10v2m2-10v2m5 13v2m1-13v2m2-3v2m0 16v2m6-20v2m0 12v2m3-6v2m1-14v2m1 11v2m11 1v2m2-17v2m3 15v2m2-9v2m8 3v2m1-15v2m7-5v2m0-2v2m5-5v2m1 15v2m5-7v2m1-3v2m0 7v2m4-19v2m1 18v2m6-10v2m7-8v2m1-3v2m9 4v2m1-17v2m1 8v2m8-1v2m5-10v2m2-7v2m1 13v2m16-14v2m5 2v2m10-12v2m6 15v2m19-8v2m14-11v2m23-4v2m46-2v2" stroke="#a6a659" stroke-width="2" opacity="0.8"/><path d="M796 900v2m0 17v2m9-4v2m6-14v2m1 12v2m2-2v2m8-12v2m9 3v2m2-11v2m4-4v2m0 2v2m0-1v2m2-13v2m0 10v2m1 13v2m1-19v2m0 4v2m2-8v2m2-13v2m1 4v2m0 17v2m1-24v2m4 9v2m2-4v2m1 10v2m1-22v2m7 2v2m4 6v2m2-7v2m1 6v2m5-9v2m3-19v2m0 11v2m2-8v2m0 21v2m5-14v2m3-6v2m6 12v2m1-18v2m3-18v2m2 18v2m1-32v2m0 23v2m1 3v2m1 9v2m13-9v2m7-6v2m5 2v2m6-15v2m0 12v2m7 7v2m5-20v2m9 17v2m8-12v2m21-7v2" stroke="#8c8c73" stroke-width="2" opacity="0.8"/><path d="M789 901v2m4-2v2m1-1v2m1 5v2m0 8v2m2-10v2m11-15v2m1 1v2m5-1v2m2 13v2m1-15v2m4 7v2m1-21v2m3 31v2m9-13v2m1-10v2m4 4v2m2 0v2m1-22v2m1 5v2m0 2v2m1-3v2m7 8v2m0-1v2m5-31v2m0 18v2m8-7v2m0 1v2m2 10v2m1-19v2m1-3v2m0 18v2m1-13v2m1-6v2m5-11v2m2 13v2m3-7v2m7 8v2m2-18v2m1 2v2m2 2v2m0-1v2m4-2v2m9-1v2m4-11v2m4-2v2m10 9v2m1-2v2m8-7v2m15-11v2m11 3v2m1 1v2m9 1v2m45-20v2" stroke="#73738c" stroke-width="2" opacity="0.8"/><path d="M737 921v2m44-8v2m10-24v2m0 2v2m3 18v2m3-24v2m0 29v2m1-36v2m7-1v2m5 16v2m0-1v2m4-12v2m3-7v2m0 0v2m0 3v2m1 7v2m1-5v2m0 9v2m2-22v2m0 6v2m5-7v2m0-1v2m0 11v2m2-7v2m2-6v2m1-7v2m2-5v2m1 10v2m1-14v2m0 5v2m0 4v2m1-8v2m0-2v2m1 1v2m1-18v2m1 0v2m2 9v2m1-3v2m1 5v2m0-1v2m4-22v2m0 5v2m0 12v2m2-17v2m0 0v2m0 19v2m1-10v2m0 10v2m1-23v2m7-8v2m1 6v2m1-16v2m0 6v2m2-8v2m1 11v2m1-8v2m1-20v2m2 8v2m0 6v2m3-6v2m0 10v2m2-19v2m8 20v2m1-10v2m2-3v2m0 6v2m3-2v2m3-13v2m2-13v2m4 1v2m0 7v2m3-9v2m9-2v2m0-1v2m5 5v2m3-21v2m6 10v2m4 1v2m14-5v2m1-8v2m33 3v2m10 0v2m9-2v2m0 1v2" stroke="#5959a6" stroke-width="2" opacity="0.8"/><path d="M787 902v2m1 16v2m12-18v2m0 8v2m1 2v2m7-6v2m0 6v2m10-25v2m0 16v2m0 1v2m2-19v2m2-11v2m0 6v2m3 0v2m1 1v2m1-11v2m2 4v2m3 7v2m2-1v2m4-22v2m0 3v2m3 3v2m2-3v2m4-10v2m0 15v2m1-5v2m2-1v2m1-11v2m3 0v2m3 2v2m5-5v2m1 1v2m10-14v2m0 4v2m1 2v2m2-6v2m3 7v2m6-6v2m9-11v2m0 6v2m1-8v2m1 9v2m21-6v2m0 4v2m2-10v2m17-9v2m12 16v2m5-16v2m41-10v2m11 9v2m21-6v2" stroke="#4040bf" stroke-width="2" opacity="0.8"/><path d="M738 914v2m3 1v2m8-7v2m18-9v2m13 15v2m6-14v2m1-20v2m2 6v2m0 7v2m15-11v2m1 0v2m0 6v2m1 5v2m5-9v2m2-14v2m1-1v2m1-4v2m6 5v2m1-3v2m0 3v2m2-14v2m1 10v2m2-13v2m1 0v2m0 3v2m2 1v2m5 11v2m2-27v2m1 8v2m0 2v2m7-17v2m0 4v2m0 0v2m1-5v2m0 2v2m2-14v2m0 26v2m7-6v2m3-1v2m0-2v2m3-26v2m0-1v2m5 8v2m3 8v2m1-14v2m5 5v2m10-2v2m0 2v2m5-12v2m14-3v2m14 2v2m7 8v2m7-14v2m0 2v2m1-13v2m4-7v2m16 18v2m6-20v2m9 1v2" stroke="#2626d9" stroke-width="2" opacity="0.8"/><path d="M750 910v2m12 4v2m16-6v2m4-4v2m5-11v2m0 24v2m6-36v2m3 9v2m5 16v2m1-18v2m5 7v2m5-21v2m1 15v2m2 2v2m1-15v2m4 10v2m5-21v2m0 1v2m2 10v2m3 7v2m1-16v2m0 7v2m2 0v2m1-21v2m2 6v2m1-7v2m0 7v2m1-19v2m0 21v2m4-5v2m5-23v2m0 2v2m17 13v2m1-7v2m0 10v2m1-23v2m0 17v2m9-9v2m2-12v2m1 0v2m4-1v2m1-12v2m1 11v2m4-4v2m4-8v2m1-1v2m1-3v2m1-6v2m1 2v2m8-7v2m15 10v2m3-1v2m0-1v2m25-7v2m1-2v2m26-5v2m10 4v2m36-7v2" stroke="#0d0df2" stroke-width="2" opacity="0.8"/><path d="M775 912v2m1 11v2m11-9v2m4-6v2m3-12v2m7 4v2m4 1v2m2 9v2m1-32v2m5-12v2m1 11v2m0 2v2m4-6v2m0-1v2m1 17v2m5-12v2m0 17v2m1-18v2m2 7v2m2-35v2m6 5v2m0 10v2m2-2v2m0 9v2m0 8v2m1-12v2m6-7v2m1 1v2m2-4v2m4-14v2m0 12v2m3-3v2m3-7v2m3-2v2m0 3v2m3-13v2m11 6v2m0 0v2m7-10v2m0 0v2m2-16v2m2 11v2m2-2v2m1-5v2m2 9v2m3-12v2m10-1v2m2-7v2m3-7v2m4 9v2m0 12v2m6-14v2m1-8v2m5-8v2m0 16v2m3-15v2m4 2v2m2-3v2m1 4v2m5-5v2m6-7v2m8-1v2m1-7v2m44-8v2m18 1v2m54-11v2" stroke="#000df2" stroke-width="2" opacity="0.8"/><path d="M734 899v2m16-4v2m12-2v2m16-2v2m1 6v2m1 14v2m8-10v2m10-18v2m1 18v2m2-22v2m2 7v2m1-16v2m5 14v2m3 2v2m1-13v2m5 11v2m3-5v2m1-16v2m0 18v2m1-5v2m0 3v2m3-15v2m2-11v2m3 7v2m1-1v2m2-5v2m3 12v2m2-27v2m0 23v2m2-13v2m3-3v2m2-10v2m1 8v2m1-17v2m1-3v2m1 12v2m1 0v2m1-2v2m3-4v2m1-4v2m1-15v2m2 30v2m5-7v2m4-5v2m7-33v2m8 18v2m1 6v2m11-8v2m2-3v2m3-7v2m2 5v2m2-19v2m12 30v2m6-22v2m1-3v2m2-1v2m5-3v2m1-5v2m15 5v2m4-13v2m0 6v2m13-8v2m2 11v2m2-13v2m15 4v2m26-5v2m81-11v2" stroke="#0026d9" stroke-width="2" opacity="0.8"/><path d="M733 910v2m42-8v2m7 2v2m3-7v2m9-1v2m0 7v2m7-15v2m8 8v2m1 0v2m1 5v2m3-25v2m0 4v2m1 6v2m4-15v2m2 8v2m2-17v2m0 22v2m1-11v2m2 0v2m12-6v2m1 8v2m1-14v2m0 13v2m5-26v2m2 2v2m0 7v2m2-2v2m3 4v2m0-1v2m1-17v2m3 2v2m1 11v2m1-29v2m2 19v2m4-6v2m0 0v2m1-1v2m1-7v2m0 3v2m6-24v2m2 16v2m2-12v2m0 1v2m3-1v2m2 12v2m0 10v2m6-25v2m1 2v2m1 8v2m5-12v2m6 1v2m3-8v2m0 6v2m1-2v2m1-20v2m4 5v2m3-5v2m8 4v2m3-8v2m8 1v2m4 3v2m1-18v2m8 14v2m20-9v2m1 11v2m3 0v2m7-22v2m3-4v2" stroke="#0040bf" stroke-width="2" opacity="0.8"/><path d="M755 920v2m23-15v2m3-10v2m3 1v2m9-1v2m3 5v2m1-12v2m2 18v2m3-19v2m4 11v2m5-23v2m0 16v2m5-6v2m4-18v2m2 22v2m5-7v2m2-9v2m2 6v2m2-7v2m4 0v2m3-10v2m1 18v2m1-21v2m0 21v2m1-35v2m4 24v2m1-20v2m0-2v2m3 4v2m0 9v2m3-17v2m1 1v2m1-14v2m0 29v2m2-27v2m1-2v2m4 3v2m0 14v2m3-9v2m1-14v2m2-12v2m0 9v2m0 16v2m3-34v2m5 12v2m1 8v2m1-11v2m0 5v2m1-7v2m4-9v2m2 17v2m3-4v2m1-9v2m3-10v2m7 3v2m1 3v2m12-12v2m1-3v2m10-1v2m5-5v2m11 16v2m5 5v2m5-16v2m4-5v2m15 1v2m1-15v2m10-1v2m3 5v2m24-14v2" stroke="#0059a6" stroke-width="2" opacity="0.8"/><path d="M773 915v2m22-7v2m6 0v2m0 6v2m1 2v2m1-7v2m7-13v2m7 10v2m2-6v2m3-3v2m3-4v2m0 2v2m3-17v2m0 8v2m5-8v2m0 14v2m2-14v2m1 10v2m1-23v2m1 16v2m3-15v2m0 20v2m3-20v2m4-5v2m5-9v2m1 17v2m1-17v2m6-4v2m0 4v2m0 10v2m2-19v2m0 4v2m1-7v2m1 0v2m4-14v2m3 8v2m1-3v2m0 2v2m0-2v2m2 3v2m3-9v2m0 9v2m4-19v2m0 2v2m5-3v2m4 5v2m2-10v2m3-2v2m6 6v2m0 7v2m16-20v2m14 7v2m16-3v2m10-13v2m12 1v2m1-4v2m49 4v2" stroke="#00738c" stroke-width="2" opacity="0.8"/><path d="M775 913v2m7 13v2m4-3v2m17-19v2m1 8v2m1-7v2m0 8v2m4-19v2m2-4v2m1-5v2m0 8v2m1-14v2m0 3v2m0 9v2m0-1v2m2 5v2m2-38v2m1 29v2m1-12v2m1 1v2m2-5v2m0 0v2m0 2v2m0 0v2m3-3v2m3-3v2m2-16v2m2 17v2m1-20v2m1-10v2m2 15v2m1-1v2m0 2v2m4-1v2m2-12v2m1 7v2m1-1v2m1-16v2m0 16v2m0-1v2m4-10v2m1-1v2m1-5v2m3-15v2m2 11v2m1-9v2m4 8v2m4-4v2m0 20v2m1-20v2m3-15v2m1 2v2m2-17v2m8 8v2m2 6v2m5-17v2m6-2v2m0 23v2m3-25v2m5 14v2m4 3v2m1-17v2m12-3v2m2-9v2m5 12v2m1-8v2m3 8v2m1-11v2m3-1v2m3 4v2m8-5v2m57-10v2m56-2v2" stroke="#008c73" stroke-width="2" opacity="0.8"/><path d="M743 928v2m25-31v2m11 23v2m13 4v2m16-23v2m3 1v2m4-2v2m6-10v2m0 3v2m0 11v2m4-16v2m2 12v2m3-17v2m1 13v2m0 5v2m4-16v2m3 6v2m3-16v2m3 4v2m1-5v2m1-15v2m0 12v2m0 6v2m6-21v2m1 9v2m5-11v2m0 18v2m2-6v2m2-3v2m2-6v2m2-11v2m3-5v2m1 9v2m2 2v2m5-21v2m0 8v2m2-6v2m5 3v2m3 4v2m9 1v2m1 7v2m3-28v2m0 10v2m1-12v2m1 2v2m2 0v2m4 7v2m1-8v2m7-10v2m7 4v2m10-3v2m17-8v2m15 9v2m7-20v2m5 14v2m4 4v2m5-26v2m10 5v2m19 7v2m18-2v2m12-10v2" stroke="#00a659" stroke-width="2" opacity="0.8"/><path d="M778 924v2m1-6v2m16-4v2m7-15v2m0-1v2m3 7v2m1-9v2m0 6v2m1-3v2m2-2v2m0 0v2m4 2v2m1-4v2m3-11v2m4-3v2m1 2v2m1-1v2m4-7v2m2 3v2m1-6v2m0 1v2m0 6v2m1-10v2m2 1v2m3-5v2m1-7v2m1-2v2m0 16v2m0 6v2m1-18v2m0-2v2m0 7v2m1-27v2m2 21v2m2-5v2m1-5v2m1 1v2m0-1v2m2-20v2m3 17v2m1-12v2m0-2v2m3 19v2m4-21v2m0 3v2m4-8v2m3 9v2m13-14v2m1-5v2m3 0v2m3-5v2m1-4v2m4 3v2m2 7v2m1-3v2m17-14v2m2 4v2m1-14v2m3 11v2m9-4v2m6 0v2m3-14v2m3-1v2m33 3v2m60 3v2" stroke="#00bf40" stroke-width="2" opacity="0.8"/><path d="M775 918v2m14 9v2m9-9v2m1-14v2m2 11v2m3 1v2m13-1v2m2-21v2m5-2v2m0 32v2m1-38v2m1 22v2m4 0v2m5-10v2m1 11v2m2-31v2m0 3v2m0 7v2m0-1v2m1-12v2m2 17v2m1-22v2m1 18v2m2-20v2m1-2v2m3-13v2m0 14v2m3-4v2m0 4v2m1-7v2m2 1v2m0 0v2m3-16v2m0 6v2m8-9v2m0 4v2m1-3v2m2-4v2m1 4v2m2 0v2m1 14v2m3-29v2m0 23v2m1-16v2m0 1v2m1-19v2m2 11v2m3-14v2m0 3v2m0 9v2m3-7v2m2 5v2m2-29v2m1 20v2m1-2v2m1-10v2m1 5v2m2-15v2m0 0v2m1 20v2m1-14v2m5-4v2m2-11v2m2 4v2m3-3v2m4 18v2m3-14v2m2 5v2m7-10v2m2-10v2m5 8v2m7-4v2m3-6v2m7-16v2m1 17v2m2-28v2m10 16v2m65-1v2m33-8v2" stroke="#00d926" stroke-width="2" opacity="0.8"/><path d="M772 947v2m15-17v2m2-26v2m6 16v2m2-7v2m3-12v2m2 19v2m5-18v2m10-4v2m1 4v2m3-8v2m4 20v2m1-11v2m1 12v2m1-20v2m1-5v2m1 2v2m2 6v2m5-27v2m0 12v2m2-9v2m3-9v2m1 5v2m3 17v2m1-14v2m3-3v2m2 11v2m7-15v2m3 10v2m1-15v2m0 16v2m2-20v2m2 5v2m4-10v2m0 4v2m8-13v2m1 1v2m2 1v2m6-4v2m3-10v2m12-4v2m0 0v2m1 10v2m0 1v2m4-4v2m2-16v2m9 8v2m2-2v2m2-1v2m10-4v2m8 3v2m10-8v2m9 5v2m7-7v2m12-3v2m34-2v2" stroke="#00f20d" stroke-width="2" opacity="0.8"/><path d="M739 909v2m9 21v2m26 3v2m15-2v2m1-14v2m6-2v2m2-2v2m1 9v2m2-6v2m4-31v2m5 18v2m0-2v2m1-1v2m9-12v2m0 4v2m2 3v2m6 1v2m1-9v2m1 5v2m0 2v2m10-2v2m1-14v2m0 5v2m1-5v2m1-3v2m0 6v2m1-12v2m3 4v2m2-9v2m5 0v2m2 3v2m0 1v2m12-14v2m1 0v2m4-15v2m2 0v2m11-1v2m10 9v2m1-7v2m1 14v2m3-14v2m2-14v2m0 21v2m2-19v2m4 4v2m2 10v2m4-24v2m4 9v2m4-7v2m1 5v2m13-6v2m10-5v2m6 4v2m48-3v2m63-1v2" stroke="#0df200" stroke-width="2" opacity="0.8"/><path d="M742 936v2m25-7v2m10-8v2m17 15v2m2-14v2m3 8v2m2-15v2m2-6v2m1 1v2m0 13v2m1-6v2m13-14v2m4-10v2m3 23v2m0-2v2m2-13v2m3 0v2m3-10v2m1 11v2m6 6v2m2-7v2m2-13v2m2 8v2m2-10v2m1-3v2m1-6v2m1-8v2m4 6v2m2-17v2m6 1v2m0-1v2m0 7v2m1-19v2m3 29v2m0 1v2m1-18v2m2 14v2m1-34v2m0 24v2m5-19v2m1-5v2m3 15v2m5-9v2m4-1v2m2-5v2m0 9v2m4-21v2m8 5v2m0-1v2m5-11v2m1 6v2m0 2v2m5-7v2m2 2v2m6-5v2m1-9v2m0 14v2m8-21v2m1 12v2m14-9v2m65 12v2" stroke="#26d900" stroke-width="2" opacity="0.8"/><path d="M788 928v2m5-10v2m0 19v2m7 3v2m2-23v2m3 4v2m6 2v2m1-4v2m1 9v2m1-5v2m6-7v2m2-18v2m1-7v2m0 10v2m0 18v2m3-20v2m0 2v2m3 5v2m1-10v2m1-14v2m1-8v2m4 3v2m2 20v2m1-14v2m3-4v2m2-5v2m5 4v2m1 5v2m1-23v2m0 13v2m0 14v2m3-33v2m1 19v2m2-13v2m0 7v2m5-9v2m0 4v2m11-14v2m3 0v2m8 4v2m0 1v2m2-20v2m3 7v2m1 15v2m1-19v2m2 5v2m2-14v2m2-4v2m0 7v2m0 0v2m2-11v2m6 6v2m2 0v2m12-20v2m2 14v2m4 5v2m5-10v2m1-5v2m9-10v2m5 9v2m7-5v2m4-3v2m18 11v2m1-8v2m34-17v2m4-4v2" stroke="#40bf00" stroke-width="2" opacity="0.8"/><path d="M745 937v2m30-5v2m7-7v2m8 8v2m14-19v2m1 16v2m2-8v2m3-9v2m1 8v2m1-7v2m2 9v2m3 6v2m2-32v2m0 19v2m2-14v2m1 1v2m1 5v2m6-13v2m0 20v2m5-35v2m0 14v2m4-3v2m2-5v2m1 10v2m1-13v2m0 0v2m7-2v2m0-1v2m2-11v2m0 4v2m3 1v2m2-15v2m12-1v2m0 17v2m1-15v2m8 9v2m5-16v2m3 3v2m7-15v2m0 12v2m0 10v2m2-18v2m1 4v2m4-1v2m1-16v2m1 14v2m4-4v2m2-10v2m1-2v2m1-1v2m1-7v2m0 1v2m0 13v2m1-13v2m1-11v2m0-2v2m11 9v2m24 11v2m7-21v2m4 9v2m2-11v2m5-11v2m65 8v2" stroke="#59a600" stroke-width="2" opacity="0.8"/><path d="M789 933v2m12 1v2m7-3v2m5-14v2m9 7v2m2-3v2m5-2v2m2 5v2m2 3v2m4-7v2m1 3v2m3-9v2m2 1v2m0 2v2m10-7v2m1-21v2m1 7v2m0 10v2m1 4v2m0 1v2m2-36v2m1 10v2m5 10v2m2-15v2m4-1v2m10-6v2m0 6v2m0 2v2m4 1v2m9-9v2m0-1v2m6-5v2m5-6v2m0 15v2m3-29v2m0 21v2m1-3v2m3-8v2m2 0v2m1-8v2m14-2v2m1 5v2m4 3v2m1-19v2m3-6v2m5 8v2m9-10v2m45 0v2m64-5v2" stroke="#738c00" stroke-width="2" opacity="0.8"/><path d="M800 932v2m0 9v2m4-3v2m7 2v2m4-21v2m1 9v2m5-3v2m4-8v2m0 10v2m4-10v2m1-10v2m0 0v2m5 8v2m11-26v2m3 33v2m6-14v2m3 4v2m3-7v2m7 0v2m0 1v2m2-17v2m3-1v2m4 14v2m5-26v2m0 14v2m2-7v2m5-6v2m2-4v2m2 11v2m2 1v2m3-11v2m1-5v2m4-1v2m0 1v2m4-3v2m2 4v2m2-20v2m6 6v2m3 2v2m2-10v2m4 7v2m9-16v2m30 7v2m2 4v2m10-14v2m59 2v2m13 6v2m20-10v2" stroke="#8c7300" stroke-width="2" opacity="0.8"/><path d="M781 945v2m13-10v2m12-7v2m5 26v2m5-24v2m0 15v2m2-19v2m1-9v2m5-4v2m1 4v2m2 0v2m1 11v2m1-16v2m0 4v2m5-16v2m1 12v2m6 4v2m3-20v2m1-15v2m1 20v2m2-5v2m1-13v2m1 6v2m0 13v2m6-7v2m6 11v2m6-8v2m3-14v2m1-5v2m2 9v2m3-6v2m1-23v2m0 17v2m3-10v2m5 2v2m2 7v2m0 1v2m3-23v2m0 5v2m4 10v2m4 5v2m1-17v2m33-4v2m4 1v2m1-13v2m10-4v2m1-5v2m2 6v2m12-6v2m7-4v2m77 9v2" stroke="#a65900" stroke-width="2" opacity="0.8"/><path d="M750 918v2m44 12v2m1 0v2m2-1v2m0 7v2m1-21v2m6 9v2m1-16v2m1 23v2m1-19v2m0 6v2m1 1v2m4 3v2m0 5v2m2-15v2m2-10v2m2 9v2m1-21v2m3 26v2m8-23v2m5-10v2m4 13v2m2-1v2m1-5v2m0 5v2m1 5v2m3-12v2m1-6v2m2 5v2m1 8v2m1-11v2m3-18v2m0 16v2m3-19v2m6 23v2m9-23v2m0-1v2m3 0v2m0 5v2m2-7v2m2-7v2m0 3v2m6-7v2m2 0v2m4-10v2m3 21v2m6-18v2m9 11v2m2-23v2m12 12v2m9 3v2m1-19v2m1 17v2m4-9v2m8-3v2m24 1v2m30-12v2" stroke="#bf4000" stroke-width="2" opacity="0.8"/><path d="M736 934v2m49 3v2m1 6v2m10-1v2m8-3v2m7-23v2m7 5v2m2 4v2m6 5v2m1-6v2m0 2v2m3-14v2m0 9v2m0-2v2m2-9v2m3-7v2m1 14v2m3-20v2m3 2v2m2 6v2m3-11v2m0 1v2m3 1v2m1-6v2m2 8v2m2-15v2m0 2v2m2 5v2m1-18v2m2 2v2m3 0v2m1-2v2m2-6v2m3 4v2m7 6v2m3-16v2m4-3v2m0-2v2m0 7v2m4 0v2m0-1v2m1 4v2m0 4v2m4-11v2m1-5v2m5 0v2m2-8v2m12 12v2m2-27v2m2 0v2m7-3v2m3 6v2m1 3v2m3-7v2m4 4v2m11-25v2m0 1v2m3 20v2m4-10v2m16 0v2m6-13v2" stroke="#d92600" stroke-width="2" opacity="0.8"/><path d="M771 939v2m4 20v2m6-10v2m4-2v2m5-20v2m4 7v2m2 10v2m9-35v2m0 17v2m0 1v2m2-5v2m4-1v2m0 0v2m0 13v2m2-7v2m2-12v2m3-12v2m1-2v2m1 6v2m12-9v2m0 11v2m2-19v2m1 1v2m1 11v2m3-2v2m0 12v2m2-35v2m1 12v2m4-3v2m3-14v2m0 7v2m0 0v2m4-19v2m1 18v2m3-11v2m0 13v2m0 7v2m5-19v2m3 6v2m1-15v2m3-5v2m5-5v2m2 4v2m3-1v2m10 4v2m4-11v2m3 1v2m6 2v2m1-9v2m7-1v2m8 13v2m2-20v2m5-8v2m0 4v2m2 23v2m3-39v2m11 27v2m16-4v2m3-3v2m54-29v2" stroke="#f20d00" stroke-width="2" opacity="0.8"/><path d="M743 937v2m43-3v2m12 1v2m7-4v2m1-2v2m1 4v2m4 1v2m0 5v2m5-8v2m4-24v2m2 22v2m1-13v2m13 0v2m2-4v2m1 13v2m4-30v2m0 20v2m2-3v2m1 7v2m6-10v2m1-8v2m0 2v2m2-15v2m2-2v2m0 6v2m1 0v2m0 6v2m1-12v2m1-13v2m0 9v2m1-9v2m1 9v2m3-2v2m1-6v2m2-8v2m1-2v2m1 0v2m2 7v2m1 0v2m0-2v2m2-15v2m0 12v2m2-8v2m2-8v2m0 10v2m5 0v2m2-27v2m0 12v2m0 2v2m3-17v2m1 12v2m7-17v2m1 14v2m3-8v2m1-5v2m3-12v2m2 19v2m6-13v2m17 2v2m2 0v2m15-4v2m2-5v2m0-2v2m6-2v2m3-20v2m3 13v2m26 3v2m80-9v2m3-6v2" stroke="#ff0d00" stroke-width="2" opacity="0.8"/><path d="M773 945v2m16-8v2m0-1v2m6-13v2m7 10v2m2 7v2m4-13v2m1 8v2m4 3v2m1-20v2m4 8v2m1-19v2m2 0v2m0 6v2m2 3v2m0-1v2m5 1v2m0-1v2m3 12v2m12-37v2m0 15v2m4-12v2m2 9v2m1-13v2m1 2v2m1-6v2m1-20v2m2 23v2m1 7v2m1-11v2m0 2v2m2-9v2m0 1v2m4 3v2m3-6v2m0 6v2m3 8v2m3-39v2m3 7v2m0 19v2m1-18v2m4 4v2m2 3v2m4-26v2m0 15v2m4 4v2m2-14v2m4-5v2m2-5v2m5 1v2m5 12v2m10-5v2m1-13v2m0-1v2m5-2v2m25-11v2m4 1v2m1 7v2m7-6v2m5-2v2m6-9v2m9-2v2m3-3v2m13 10v2" stroke="#ff2600" stroke-width="2" opacity="0.8"/><path d="M777 930v2m15 7v2m1 10v2m1-7v2m2-12v2m1 14v2m7-25v2m2 26v2m1-5v2m2-22v2m2-4v2m0 0v2m2 5v2m10-7v2m7 1v2m0 6v2m5-20v2m0 3v2m1 6v2m0-1v2m1-18v2m0 14v2m1-14v2m6 5v2m0 8v2m1-12v2m3 1v2m0 2v2m2-6v2m2 4v2m7-11v2m1 6v2m1-2v2m1-8v2m3-6v2m2 0v2m0 2v2m1-6v2m6 5v2m3-28v2m0 12v2m2-2v2m2 13v2m3-18v2m3 1v2m1 0v2m0 6v2m4-23v2m1-1v2m1 6v2m7-1v2m5-1v2m5 3v2m6-4v2m3-20v2m3 11v2m16-9v2m3 18v2m12-4v2m8-13v2m2-8v2m0 7v2m9-2v2" stroke="#ff4000" stroke-width="2" opacity="0.8"/><path d="M775 942v2m12 13v2m10-16v2m8 2v2m0 6v2m3-22v2m11-6v2m3 9v2m0 18v2m1-13v2m1-6v2m1 8v2m1-6v2m4-36v2m1 18v2m1 14v2m4-16v2m1-1v2m2-5v2m0 1v2m1-2v2m1 14v2m4-35v2m2-7v2m0 13v2m1-13v2m0 0v2m1 17v2m5-8v2m2 5v2m3-1v2m2-31v2m6 16v2m0 1v2m1-16v2m0 10v2m1-6v2m1-1v2m2 9v2m1-6v2m2-13v2m0-1v2m0 6v2m1-12v2m0 12v2m4-5v2m5 1v2m9-10v2m1-4v2m0 0v2m0 5v2m1-13v2m0 8v2m5-16v2m2 10v2m2 5v2m2-6v2m0 8v2m3-14v2m3-21v2m6 16v2m0 0v2m5-11v2m21 4v2m11-27v2m7 20v2m3-1v2m39-5v2m29-11v2" stroke="#ff5900" stroke-width="2" opacity="0.8"/><path d="M774 951v2m6-31v2m11 4v2m1-5v2m1 18v2m2-14v2m6-12v2m6 4v2m2 5v2m3-6v2m0 5v2m5-20v2m3 29v2m1-15v2m2 5v2m1-20v2m5 2v2m1 6v2m0-2v2m0 1v2m1 5v2m1-15v2m2-2v2m4 20v2m4-31v2m0 0v2m0 3v2m2-8v2m2 4v2m3-4v2m1 9v2m1-22v2m0 3v2m0 6v2m0 10v2m1-27v2m1 0v2m2-3v2m0 9v2m2-3v2m1-9v2m0 19v2m2-28v2m0 2v2m2-14v2m0 12v2m1-1v2m3 2v2m0 12v2m5-24v2m0 8v2m8-2v2m2-6v2m2 3v2m3-14v2m3-3v2m1 6v2m9 8v2m5-7v2m6-1v2m0 8v2m2-23v2m2 3v2m8 12v2m1-21v2m3 5v2m2-8v2m2-6v2m15 11v2m6-8v2m14 4v2m1-1v2m3-6v2m4-3v2m8-13v2m13 12v2m33-8v2" stroke="#ff7300" stroke-width="2" opacity="0.8"/><path d="M749 942v2m27-12v2m14 8v2m2 7v2m2-17v2m10 7v2m2-1v2m1-29v2m1 37v2m2-27v2m7-12v2m0 4v2m4 12v2m2-13v2m2 18v2m2-37v2m2 23v2m1-4v2m3-8v2m2 2v2m0 2v2m2-8v2m1-8v2m3 14v2m3-11v2m0 13v2m4-22v2m3 0v2m1 10v2m4-12v2m1-11v2m2 10v2m1-18v2m0 15v2m2-16v2m2 6v2m2-12v2m2-1v2m1 12v2m1-2v2m0 6v2m3-18v2m2 6v2m1-19v2m0 16v2m1-7v2m2 4v2m2-11v2m5 6v2m1-4v2m1 0v2m3-2v2m1-20v2m1 15v2m6-21v2m6 11v2m1-14v2m0 9v2m2-11v2m2 2v2m10-1v2m3-3v2m15 3v2m20-6v2m17-3v2" stroke="#ff8c00" stroke-width="2" opacity="0.8"/><path d="M764 940v2m16-8v2m8-9v2m5 8v2m4-11v2m1-1v2m1 3v2m5-15v2m5 14v2m0 1v2m1 8v2m1-10v2m2-20v2m4-4v2m1 7v2m1-5v2m0 2v2m2-8v2m0 14v2m5-6v2m1-15v2m1 36v2m2-36v2m2 18v2m2-18v2m0-1v2m2-3v2m1 8v2m2-3v2m2-13v2m0 0v2m0 5v2m2-20v2m1-14v2m6 9v2m0 14v2m3-21v2m1 24v2m5 0v2m5-24v2m1-8v2m3 10v2m1-17v2m6 20v2m1-17v2m3-3v2m1 10v2m4-7v2m3 6v2m1-9v2m4 8v2m3-13v2m3 17v2m2-18v2m3-7v2m1 6v2m3-10v2m1 16v2m6-22v2m1 5v2m1-4v2m4-6v2m7 4v2m39-8v2m5 3v2m42-9v2m19-11v2" stroke="#ffa600" stroke-width="2" opacity="0.8"/><path d="M734 921v2m21 4v2m13 0v2m13-2v2m6 1v2m6 0v2m1-15v2m6 21v2m5-30v2m2-5v2m1 10v2m0 7v2m3-17v2m3 10v2m3 0v2m4 5v2m1-7v2m4-1v2m2-23v2m2 16v2m0-2v2m1-22v2m0 3v2m0 12v2m0 15v2m5-22v2m2-7v2m1 4v2m2 4v2m1-8v2m2 0v2m1-3v2m4 0v2m0 7v2m2-10v2m1-9v2m2-1v2m1-18v2m2 21v2m4-5v2m3-14v2m6 9v2m3-3v2m0 4v2m4-11v2m1-4v2m5-7v2m1 1v2m2 2v2m2-10v2m1 12v2m1-13v2m0 0v2m0 15v2m2-19v2m2-8v2m8 12v2m6-4v2m2-7v2m5 1v2m25-5v2m2 2v2m7 2v2m14-9v2m1 13v2" stroke="#ffbf00" stroke-width="2" opacity="0.8"/><path d="M785 932v2m13 13v2m4-37v2m0 37v2m1-31v2m5 7v2m1 2v2m0-1v2m1-17v2m0 8v2m1-2v2m1-6v2m0 2v2m1-2v2m3-5v2m3-5v2m6 0v2m3 1v2m1-9v2m0-2v2m0 6v2m1-7v2m3 2v2m0-1v2m0 8v2m2-15v2m1 2v2m1-1v2m1 12v2m2-40v2m0 19v2m5-17v2m5-10v2m0 15v2m5-21v2m0 12v2m0 18v2m1-12v2m5-20v2m0 22v2m3-21v2m0 7v2m1-4v2m1 3v2m1-13v2m1-1v2m0 19v2m9-15v2m4-4v2m0 5v2m4 10v2m1-19v2m6-11v2m0 12v2m1-17v2m1-2v2m1 17v2m20-8v2m1-14v2m5 7v2m8 3v2m4-33v2m0 22v2m9-8v2m23-3v2m7 8v2m5-7v2m6 9v2m11-18v2m4-5v2" stroke="#ffd900" stroke-width="2" opacity="0.8"/><path d="M757 922v2m4-9v2m35-1v2m1 12v2m8-6v2m8 3v2m3-13v2m5 9v2m1-15v2m2-7v2m5 7v2m3-8v2m1 21v2m3-29v2m4 8v2m0 4v2m6-5v2m0 1v2m7-19v2m3 4v2m0 9v2m0 2v2m1-2v2m10-24v2m0 9v2m2-10v2m1 4v2m2 7v2m2-5v2m1-13v2m1 2v2m0 2v2m2 6v2m5-14v2m4 4v2m2-8v2m5 10v2m16-2v2m5 0v2m4-9v2m8-2v2m1-9v2m4-8v2m0 9v2m2-7v2m9-10v2m2-5v2m4 17v2m12-9v2m12-3v2m29-3v2" stroke="#fff200" stroke-width="2" opacity="0.8"/><path d="M775 907v2m3 19v2m9-1v2m9-5v2m1-3v2m5-3v2m5 3v2m2-14v2m1-18v2m0 21v2m3 2v2m1-13v2m1 10v2m1-10v2m0 2v2m1-6v2m1 5v2m1-11v2m3-1v2m5 0v2m4 0v2m2-24v2m0 14v2m3 4v2m5-17v2m0 20v2m5-9v2m6 3v2m2-1v2m1-30v2m2 0v2m2 1v2m0 13v2m5 7v2m2-17v2m0 0v2m1 11v2m0 0v2m3-22v2m1 5v2m8-23v2m1 20v2m0-1v2m6-7v2m1-9v2m0 12v2m4 4v2m1-9v2m3-6v2m6 4v2m0-1v2m2-9v2m0 9v2m7-10v2m3 1v2m1 3v2m22-6v2m12-16v2m0 11v2m5-4v2m1-3v2m7 3v2m4-19v2m17 25v2m7-27v2m34 13v2" stroke="#f2f20d" stroke-width="2" opacity="0.8"/><path d="M737 929v2m18-9v2m27-17v2m5 23v2m4-2v2m3-35v2m1 17v2m4-7v2m4 18v2m3-27v2m2-7v2m0 4v2m3 0v2m3-7v2m0 9v2m5-9v2m2 12v2m3-6v2m1-17v2m0 37v2m2-13v2m2-18v2m1 2v2m1-3v2m3-14v2m0 13v2m1-1v2m1-7v2m8-4v2m2 5v2m3-8v2m8-14v2m0 26v2m11-4v2m3-25v2m15 2v2m13-1v2m0 6v2m12-7v2m9 0v2m5-10v2m7-14v2m4 9v2m1 5v2m1-4v2m30-2v2m41 3v2" stroke="#d9d926" stroke-width="2" opacity="0.8"/><path d="M732 928v2m42-15v2m6-10v2m1-5v2m6 3v2m8 10v2m0 6v2m1-7v2m2-11v2m1-4v2m2 19v2m8-8v2m1-33v2m0 2v2m5 11v2m3 5v2m2 6v2m3-10v2m8 0v2m1-9v2m3 10v2m4-6v2m6-17v2m1 5v2m0 0v2m0 7v2m2-19v2m0 2v2m1 1v2m1-24v2m4 17v2m1 13v2m7-11v2m3-12v2m6 5v2m1 4v2m3-12v2m2 5v2m5-27v2m1 14v2m3-3v2m5 6v2m0-1v2m10-7v2m0 1v2m2-5v2m0 8v2m9 1v2m5-15v2m20-5v2m9-12v2m8 3v2m2 13v2m67-4v2" stroke="#bfbf40" stroke-width="2" opacity="0.8"/><path d="M753 922v2m38-20v2m1 9v2m3-9v2m3-8v2m16 15v2m3-7v2m9 5v2m1-1v2m8-21v2m3 16v2m2 3v2m5-14v2m2-35v2m0 33v2m0 0v2m1-11v2m5 0v2m0 4v2m1-4v2m0-1v2m0 2v2m0-1v2m7-18v2m0 16v2m0-1v2m1-11v2m1-13v2m3 12v2m0 0v2m1-20v2m5 15v2m8-7v2m15 5v2m5-29v2m0 18v2m0-1v2m1-1v2m0 2v2m1-7v2m1-13v2m2 12v2m4-16v2m4-6v2m5 13v2m1-8v2m1-18v2m21 4v2m3 22v2m3-24v2m5 7v2m12 2v2m2-5v2m15-3v2m47 5v2m11-17v2m10 2v2" stroke="#a6a659" stroke-width="2" opacity="0.8"/><path d="M755 904v2m29-1v2m3 12v2m3-18v2m2 31v2m8-7v2m12-28v2m7 10v2m3-17v2m2 4v2m0 8v2m2-9v2m1-3v2m1 12v2m1-10v2m3-17v2m0-1v2m3 9v2m3-2v2m3 4v2m1-7v2m1-9v2m1 14v2m1-10v2m2-31v2m0 6v2m1 13v2m2 3v2m2-2v2m1-10v2m2 8v2m5-22v2m7 8v2m8-12v2m1 10v2m1 6v2m1-15v2m5 4v2m10-19v2m2 13v2m5-18v2m1 12v2m1-9v2m6 6v2m0 0v2m1-3v2m1 9v2m5-22v2m1 10v2m7 1v2m9 1v2m5-16v2m2 3v2m25-9v2m2 9v2" stroke="#8c8c73" stroke-width="2" opacity="0.8"/><path d="M752 903v2m28 15v2m1-13v2m6-7v2m10 21v2m1-10v2m2-31v2m4 26v2m3-32v2m3 19v2m2 19v2m2-27v2m0 5v2m2-7v2m4-5v2m4 2v2m5-2v2m0 15v2m3-29v2m0 9v2m2-9v2m4 1v2m0 9v2m2-22v2m0 4v2m1 10v2m7-13v2m0 1v2m0 2v2m1 4v2m3 6v2m2-22v2m4 11v2m1-16v2m1-17v2m3 26v2m5-5v2m1-23v2m6 18v2m0-2v2m1-15v2m3 1v2m2-4v2m1 16v2m6-19v2m1 2v2m4-8v2m3-4v2m4 17v2m2-17v2m0-2v2m6 13v2m6-19v2m4 5v2m9-13v2m4-8v2m2 20v2m15-8v2m11 1v2m3-9v2m19-3v2m11-4v2m2 5v2" stroke="#73738c" stroke-width="2" opacity="0.8"/><path d="M758 915v2m19-18v2m3 20v2m12-7v2m11-2v2m6-8v2m4-2v2m1 3v2m4-19v2m2-3v2m1 16v2m1-17v2m0 35v2m2-22v2m1-10v2m1 11v2m3-15v2m0 5v2m2-15v2m4 6v2m5 5v2m2-24v2m1 7v2m2-5v2m0 3v2m0 8v2m0 6v2m1-34v2m7 20v2m2-14v2m0 1v2m2 7v2m2-6v2m2-12v2m0 0v2m0 19v2m3-22v2m1-6v2m2 15v2m4-17v2m1-8v2m3 9v2m3 10v2m1-13v2m1-10v2m4-4v2m1 18v2m4-20v2m2-5v2m1 1v2m3-4v2m2 21v2m3-25v2m2-9v2m1 12v2m0 9v2m2-14v2m5-21v2m20 26v2m4-6v2m5-14v2m0 5v2m38-10v2m20 3v2m3-7v2m13-5v2m2 13v2m35-11v2" stroke="#5959a6" stroke-width="2" opacity="0.8"/><path d="M740 891v2m45 26v2m10-23v2m6 28v2m2-26v2m4 5v2m1 8v2m3-25v2m2 7v2m1-5v2m5 2v2m4-19v2m0 18v2m2-21v2m0 21v2m1-16v2m0 3v2m0-2v2m3-2v2m4 11v2m6-2v2m1-34v2m0 25v2m4-1v2m1-6v2m3-8v2m1 0v2m0 3v2m1 5v2m1-28v2m1 11v2m0 9v2m1-15v2m3-5v2m0-1v2m2 1v2m2-3v2m2-4v2m2-14v2m0 11v2m1 7v2m0 6v2m4-19v2m5-18v2m2 5v2m0 4v2m3 3v2m1-9v2m0 6v2m1-19v2m0 18v2m2-16v2m1 8v2m9 0v2m2-16v2m2 12v2m1-6v2m6 15v2m5-18v2m2 3v2m1-11v2m1-5v2m9-1v2m20 8v2m41-6v2m37-23v2m1 13v2m8-7v2" stroke="#4040bf" stroke-width="2" opacity="0.8"/><path d="M773 889v2m2 10v2m19 2v2m3 9v2m1 2v2m6-4v2m3-11v2m1-6v2m4 3v2m7-6v2m1 3v2m5 9v2m2-25v2m0-2v2m0 14v2m0-2v2m4-7v2m0 2v2m2-5v2m2-5v2m2 3v2m2-16v2m0 10v2m2-5v2m3-7v2m6-9v2m5-6v2m0 18v2m1-7v2m1-17v2m2 9v2m0 3v2m2-17v2m0 12v2m0 5v2m5-15v2m3 12v2m5-26v2m2 16v2m6 2v2m6-15v2m2 10v2m8-11v2m4 7v2m4-15v2m2-3v2m0 11v2m1-5v2m0 3v2m2-3v2m4-6v2m2 0v2m2-16v2m8 7v2m4 2v2m6-13v2m0-1v2m0-1v2m2-4v2m5-2v2m3 6v2m4-9v2m58-10v2m14-11v2" stroke="#2626d9" stroke-width="2" opacity="0.8"/><path d="M760 900v2m7 13v2m3-10v2m19-4v2m3 4v2m5-1v2m3-1v2m1-14v2m11-8v2m0 4v2m8-5v2m2 8v2m3-3v2m1 4v2m0 1v2m7-13v2m2-2v2m1-1v2m2 2v2m1-15v2m2-8v2m2 12v2m3-4v2m0 1v2m3-2v2m4-25v2m0 4v2m0 8v2m1 2v2m0 1v2m1 5v2m1 13v2m3-38v2m0 14v2m0 5v2m2-3v2m1-18v2m3 6v2m1-5v2m3-9v2m0-1v2m0 9v2m2 7v2m2-14v2m2-9v2m0 11v2m4-12v2m2 5v2m2-5v2m5-19v2m0 16v2m0 3v2m1-11v2m6-2v2m3 11v2m5-6v2m4-9v2m1-5v2m6-10v2m1 0v2m15 0v2m6-2v2m10 2v2m13-8v2m22 4v2m98-11v2" stroke="#0d0df2" stroke-width="2" opacity="0.8"/><path d="M755 911v2m17-3v2m8 10v2m11-12v2m15-12v2m7 4v2m1 0v2m0 5v2m1-26v2m0 16v2m21 14v2m3-32v2m1 1v2m0 3v2m5-10v2m3 6v2m1 5v2m3-38v2m6 26v2m1 2v2m1-7v2m4-9v2m3-3v2m3 7v2m1-12v2m1 5v2m0 2v2m2-14v2m1-3v2m0 4v2m3 1v2m5 2v2m7 4v2m4-16v2m2 1v2m0-1v2m5 3v2m3-14v2m0 12v2m3-9v2m4-2v2m6-6v2m22 6v2m1-23v2m19 10v2m73-11v2" stroke="#000df2" stroke-width="2" opacity="0.8"/><path d="M787 911v2m10-12v2m0-1v2m2 14v2m1 2v2m8-47v2m3 20v2m0 18v2m2-5v2m5 0v2m3-12v2m3-12v2m0 19v2m1-20v2m3 3v2m1-12v2m0 12v2m1-10v2m1-6v2m3-3v2m0 0v2m0 3v2m7 7v2m1-15v2m0 5v2m4 7v2m4-8v2m0 11v2m3-20v2m0 1v2m2-19v2m1 12v2m0 7v2m2-7v2m8-7v2m2 5v2m1-19v2m0 7v2m0 18v2m4-41v2m0 5v2m5 13v2m5-7v2m0 7v2m5 3v2m6-16v2m4 0v2m4 0v2m3 7v2m1-13v2m0 8v2m6-9v2m17-26v2m3 12v2m12 2v2m12 2v2m7-13v2m18 13v2m19-7v2" stroke="#0026d9" stroke-width="2" opacity="0.8"/><path d="M757 903v2m20-4v2m7 14v2m1-7v2m12-1v2m3 5v2m9-10v2m1-8v2m1-3v2m2 3v2m1 0v2m4 2v2m1-2v2m1-14v2m1-2v2m5-6v2m1 13v2m2-1v2m2-22v2m1 1v2m1 2v2m0 6v2m3-17v2m2 1v2m2-4v2m4 10v2m2 12v2m3-20v2m0 1v2m1-11v2m1 14v2m2-12v2m7-9v2m0 5v2m0 4v2m2-17v2m2 3v2m4 14v2m1-14v2m3 11v2m1-18v2m2 6v2m0 3v2m2 1v2m4-10v2m0-1v2m4-8v2m1-9v2m0 9v2m3-6v2m1 3v2m3-10v2m5-1v2m1 1v2m0-2v2m3-16v2m2 4v2m1 3v2m4-6v2m1 4v2m2-5v2m9-2v2m2-6v2m6 15v2m2-23v2m7 3v2m2-8v2m27 13v2m46-11v2" stroke="#0040bf" stroke-width="2" opacity="0.8"/><path d="M776 915v2m13-12v2m7-3v2m2 2v2m3-4v2m0 1v2m1-13v2m4 16v2m1 8v2m3-15v2m5-5v2m2-1v2m3-3v2m1-20v2m5 20v2m1-11v2m3-21v2m0 0v2m4 14v2m13 3v2m11-21v2m1 11v2m3 17v2m1-4v2m1-21v2m0 7v2m2-4v2m1-7v2m0 4v2m0 1v2m1-9v2m0 6v2m0 3v2m2-7v2m3-13v2m0 0v2m0 15v2m1-16v2m4-2v2m1 5v2m4-10v2m2-13v2m4 17v2m1-22v2m3 8v2m1-1v2m1 6v2m1-17v2m0 2v2m3 8v2m4-10v2m7 0v2m1-15v2m8 11v2m1-18v2m3 9v2m12 1v2m2-13v2m8 16v2m10-8v2m4 0v2m4-5v2m0 6v2m5-5v2m15-13v2m5 11v2m23-14v2m2 11v2m21-6v2" stroke="#0059a6" stroke-width="2" opacity="0.8"/><path d="M750 920v2m9-14v2m29 10v2m3-1v2m6-17v2m6-13v2m0 30v2m2-14v2m9-11v2m0 12v2m1-9v2m0-1v2m2 2v2m4 6v2m1-17v2m1-12v2m1 6v2m4 8v2m1-8v2m2 18v2m1-15v2m5-9v2m1 2v2m5-23v2m0 23v2m3-10v2m1-2v2m2-3v2m4 10v2m3-12v2m0-1v2m4-25v2m0-1v2m1 8v2m1 8v2m1-7v2m4 6v2m2-18v2m1 0v2m0 7v2m2-10v2m0 1v2m0 3v2m1-7v2m11 8v2m3-3v2m4-8v2m5-1v2m7-10v2m17 4v2m9-6v2m5-4v2m5 9v2m2-10v2m2 5v2m2-12v2m2-2v2m8-4v2m7 1v2m11-11v2m11 10v2m30 1v2m13-11v2" stroke="#00738c" stroke-width="2" opacity="0.8"/><path d="M761 903v2m22 5v2m15 7v2m2-9v2m3 12v2m4-29v2m2 13v2m3 2v2m3-14v2m2-11v2m2 18v2m1 0v2m2-8v2m3-6v2m2 0v2m1-2v2m13-5v2m6 13v2m1 2v2m7-22v2m1-11v2m1 2v2m8-1v2m4 5v2m0 3v2m1-2v2m2-6v2m3-3v2m9 9v2m1-24v2m1 10v2m1-8v2m6 10v2m0 1v2m4-9v2m4 3v2m1-7v2m7-5v2m3 0v2m1-5v2m2-4v2m19 2v2m4 0v2m2 3v2m5-7v2m4-6v2m21-7v2m11 8v2m12-17v2m5 1v2m47 18v2" stroke="#008c73" stroke-width="2" opacity="0.8"/><path d="M750 922v2m9 2v2m36-5v2m1-4v2m1-28v2m5 48v2m4-48v2m0 2v2m1 6v2m4 3v2m1-9v2m1-5v2m2 3v2m0 3v2m2-10v2m3 2v2m1 2v2m0-1v2m1-23v2m2 6v2m1 3v2m0-1v2m1 20v2m1-31v2m0 18v2m4-21v2m0 11v2m1-14v2m1 16v2m6-2v2m3-29v2m0 2v2m0 21v2m2-7v2m1-21v2m2 14v2m3-17v2m4-4v2m0-2v2m0 5v2m1 9v2m0 5v2m2-31v2m2 11v2m10 14v2m7-4v2m1-12v2m4-11v2m3 19v2m6-21v2m8 7v2m1-11v2m0 2v2m1 5v2m1-19v2m2 7v2m0 1v2m4-9v2m4 6v2m4 3v2m1-10v2m5-6v2m9 7v2m14-11v2m8-9v2m24 2v2m59-13v2" stroke="#00a659" stroke-width="2" opacity="0.8"/><path d="M777 930v2m15-22v2m9 4v2m7-4v2m9 9v2m1-6v2m2-18v2m2 2v2m0 9v2m0 1v2m0 8v2m1-26v2m0 13v2m1 2v2m1-10v2m3-14v2m2-6v2m0 17v2m5-12v2m0 12v2m3 2v2m2-26v2m5 13v2m1-31v2m0 23v2m0-1v2m0 6v2m1-27v2m1 4v2m2 4v2m7 4v2m1-10v2m0 3v2m4-3v2m3-11v2m3 16v2m4-11v2m1-9v2m2 4v2m0 11v2m1-12v2m1-8v2m0 13v2m2-24v2m2 8v2m2-3v2m1-3v2m0 7v2m2-19v2m12 7v2m6-12v2m0 20v2m2-10v2m9-6v2m1 3v2m9-3v2m5 3v2m3-13v2m9-10v2m8 16v2m8-8v2m20-9v2" stroke="#00bf40" stroke-width="2" opacity="0.8"/><path d="M777 930v2m10-12v2m2-3v2m5-5v2m1 15v2m2-22v2m3-1v2m4 13v2m1-15v2m2 4v2m4-5v2m11 1v2m1 10v2m3-16v2m10 10v2m1-13v2m4-21v2m1 15v2m2-10v2m0 16v2m1 5v2m4-8v2m2-14v2m1-9v2m2-6v2m2 10v2m5 4v2m1-13v2m1 15v2m1-5v2m3-12v2m0 4v2m5-12v2m0 1v2m0 2v2m2-13v2m4 0v2m2-13v2m0 3v2m2 11v2m2 0v2m7 10v2m2-13v2m2 12v2m4-21v2m1-15v2m1 15v2m1-14v2m1 3v2m3-4v2m6-4v2m10 16v2m5-27v2m3 12v2m2-17v2m38 18v2m44-11v2m32-2v2" stroke="#00d926" stroke-width="2" opacity="0.8"/><path d="M776 954v2m6-29v2m2 1v2m11-16v2m1 30v2m7-23v2m9 10v2m5-22v2m1-7v2m0 13v2m5-15v2m1-7v2m2-5v2m2 9v2m7 1v2m0-2v2m1-5v2m2-2v2m3-4v2m1-18v2m4 29v2m2-12v2m0 4v2m4-15v2m0 4v2m2 10v2m2-13v2m0 6v2m2 7v2m3-28v2m5-2v2m2 6v2m3-2v2m1-14v2m0 4v2m0-2v2m0 1v2m0 5v2m1-11v2m2 7v2m1-3v2m2-13v2m10-7v2m7 19v2m2-20v2m1 6v2m1-14v2m2 26v2m1-12v2m9-13v2m14-1v2m0 2v2m2-12v2m3-2v2m8 9v2m7-8v2m2-1v2m7-2v2" stroke="#00f20d" stroke-width="2" opacity="0.8"/><path d="M758 918v2m16 11v2m8-7v2m2-3v2m4 5v2m1-8v2m8-13v2m0 2v2m2 17v2m8 3v2m1-9v2m2-12v2m0 9v2m2-26v2m0 19v2m3-15v2m3 1v2m6 4v2m2 2v2m1-21v2m0 8v2m1 4v2m3-5v2m0 10v2m2-1v2m1-26v2m0 10v2m1-12v2m1 5v2m0 19v2m2-28v2m2 9v2m7-11v2m0 0v2m2-9v2m1-5v2m0 0v2m1 9v2m0 9v2m1-17v2m1-6v2m1-10v2m0 18v2m0 1v2m4-13v2m1 5v2m3-3v2m4-19v2m0 14v2m4-11v2m1-9v2m1-2v2m5 18v2m2-16v2m1 9v2m5-14v2m5 6v2m8-12v2m2 5v2m1-8v2m0 34v2m6-25v2m3-24v2m0 4v2m14 8v2m6 4v2m18-5v2m2 4v2m2-23v2m13 3v2m2-2v2m1 4v2m6-4v2" stroke="#0df200" stroke-width="2" opacity="0.8"/><path d="M748 923v2m4 13v2m5-17v2m26-6v2m6-5v2m7 18v2m0 1v2m1-1v2m3-13v2m1-3v2m18-14v2m1 22v2m1-15v2m3 12v2m1-15v2m1-2v2m3-22v2m11 10v2m2 19v2m2-7v2m4-13v2m4-1v2m1-9v2m2 7v2m3 8v2m3-4v2m2-11v2m1-6v2m1 8v2m5-2v2m1-19v2m0 16v2m1-5v2m3-2v2m5-21v2m1 11v2m1-15v2m2 14v2m14 4v2m4-6v2m3-5v2m8 8v2m8-27v2m1 17v2m15-3v2m4-13v2m1 9v2m4-19v2m21 7v2m6-10v2m24 7v2m81-13v2" stroke="#26d900" stroke-width="2" opacity="0.8"/><path d="M758 929v2m19 20v2m2-10v2m4-17v2m14-3v2m5-9v2m0 15v2m3-28v2m5 21v2m8-12v2m1-15v2m1 12v2m3 13v2m1-6v2m4-17v2m1-12v2m0 21v2m3-7v2m0 2v2m0 1v2m1-5v2m3-14v2m0 4v2m0 6v2m0 10v2m1-21v2m0 9v2m1 0v2m13-11v2m5-13v2m1-1v2m0 0v2m4-3v2m1-8v2m1 8v2m3 8v2m0 5v2m1-21v2m1-15v2m1 15v2m0 2v2m6-6v2m2-2v2m8-18v2m2 10v2m1 9v2m1-5v2m1 11v2m2-8v2m10-4v2m1-11v2m0 0v2m9-8v2m11 6v2m3-10v2m0-1v2m6 5v2m5-6v2m18-16v2m4 10v2m9-1v2m8 0v2m11-5v2" stroke="#40bf00" stroke-width="2" opacity="0.8"/><path d="M795 948v2m1-16v2m2-4v2m1-4v2m6 13v2m4-10v2m1-10v2m10-4v2m0 1v2m2 8v2m2-11v2m3 8v2m1 14v2m5-29v2m2-15v2m0 8v2m2-4v2m1 15v2m3-28v2m0 18v2m6 10v2m3-22v2m1-14v2m0 11v2m3 2v2m1-9v2m3 5v2m0 3v2m2 1v2m1-4v2m4-10v2m5-6v2m3-13v2m0 0v2m7 15v2m5-7v2m1 4v2m1-4v2m2-6v2m1-9v2m1 2v2m1 9v2m13-5v2m11-20v2m1 2v2m4 3v2m21 0v2m4-20v2m10 15v2m7 7v2m16-19v2m66-2v2" stroke="#59a600" stroke-width="2" opacity="0.8"/><path d="M769 947v2m7-4v2m3-11v2m6-7v2m7 2v2m1-4v2m3-14v2m1 10v2m2 0v2m5 4v2m2 6v2m2-14v2m13-1v2m0-2v2m3-8v2m0-1v2m0 18v2m3-27v2m2 3v2m0 12v2m4-10v2m0 3v2m2-25v2m1 16v2m0 2v2m8-2v2m2-15v2m1-14v2m0 6v2m1 13v2m4-11v2m0-1v2m0 1v2m1-6v2m1-2v2m1-8v2m3 3v2m1-4v2m0 2v2m0 4v2m5-15v2m1-16v2m1 23v2m2-14v2m3-12v2m6 21v2m3 1v2m8-6v2m3-7v2m0 2v2m1-19v2m2 13v2m1-7v2m5-15v2m1 10v2m4-5v2m2 11v2m5-15v2m12-5v2m0 1v2m2 15v2m3-24v2m0 16v2m2-7v2m10-2v2m2-1v2m12-7v2m5-8v2m8 3v2m11 4v2m4-15v2m1 4v2m22-11v2" stroke="#738c00" stroke-width="2" opacity="0.8"/><path d="M740 954v2m14-24v2m12-3v2m19-6v2m4-12v2m1 25v2m3 7v2m1-16v2m1-17v2m9 12v2m1 8v2m9-7v2m1-18v2m0 13v2m1 6v2m2-7v2m1 0v2m3-25v2m3 13v2m1-14v2m0 11v2m0 0v2m3-7v2m1 16v2m1-20v2m1 1v2m1 4v2m1-14v2m2-16v2m1 1v2m0 11v2m1-10v2m0 11v2m1-1v2m0 0v2m1-9v2m0 0v2m1 10v2m3-7v2m7-15v2m3-5v2m0-2v2m4 9v2m1-9v2m3 10v2m2-19v2m3 7v2m1-13v2m1 4v2m0 7v2m4-5v2m1-3v2m2 0v2m4-12v2m2-4v2m0 7v2m0 0v2m1-10v2m2 4v2m1 1v2m0 3v2m8-12v2m6 7v2m5-30v2m0 25v2m2-7v2m2-2v2m5-9v2m0 12v2m3-18v2m0 4v2m6-11v2m1 10v2m1-9v2m5 1v2m18-17v2m3 8v2m0-1v2m31-10v2m6 12v2" stroke="#8c7300" stroke-width="2" opacity="0.8"/><path d="M763 942v2m1-12v2m4 10v2m8 1v2m25 0v2m7-17v2m0 12v2m3-19v2m2-4v2m2 7v2m1 5v2m0 16v2m1-26v2m1-8v2m3 4v2m2-13v2m1 5v2m1-2v2m4 7v2m1 4v2m1-12v2m1-5v2m1 7v2m3-15v2m1-1v2m2-5v2m1-3v2m5 10v2m1-12v2m0 2v2m1-23v2m0 24v2m1-7v2m4 5v2m1-20v2m0 7v2m0 1v2m2 2v2m5-7v2m2 2v2m7 17v2m3-42v2m2 21v2m12-6v2m0 5v2m1-9v2m2-4v2m1-3v2m2 5v2m8 1v2m1-4v2m2-6v2m7-12v2m2 13v2m18 1v2m1-13v2m16-1v2m11-14v2m11 18v2m19-9v2" stroke="#a65900" stroke-width="2" opacity="0.8"/><path d="M759 947v2m5 15v2m7-35v2m4 19v2m1-5v2m13-28v2m3 21v2m2-4v2m5 8v2m1-23v2m5 0v2m0 15v2m1-21v2m4 10v2m3 8v2m1-19v2m0 2v2m1-3v2m6 5v2m1-5v2m0 5v2m1-2v2m2 5v2m6-10v2m1-10v2m1-1v2m0 2v2m0 8v2m3-16v2m1-14v2m0 2v2m1-10v2m0 11v2m8 12v2m2-6v2m2-17v2m2-6v2m1 3v2m6 2v2m10-1v2m0 1v2m2-4v2m1 3v2m1-4v2m2-14v2m0 8v2m2-10v2m0 13v2m1-21v2m0 3v2m1-17v2m0 14v2m1-24v2m1 28v2m1-27v2m1 28v2m2-20v2m1-6v2m0 15v2m1-11v2m1-10v2m0 5v2m1 4v2m4-11v2m0 5v2m1-3v2m2-7v2m14-7v2m0 12v2m6-22v2m3 1v2m5 3v2m17 4v2m1-10v2m3 1v2m9 2v2m5 4v2m1-11v2m40-8v2m29-3v2" stroke="#bf4000" stroke-width="2" opacity="0.8"/><path d="M776 942v2m1 1v2m15 0v2m4-2v2m6 3v2m1-24v2m5 6v2m4-2v2m0-1v2m1-3v2m0 1v2m6 6v2m1 0v2m1-15v2m1 2v2m7-21v2m2 14v2m2 15v2m4-20v2m2 9v2m3-3v2m1-14v2m1-6v2m0 6v2m3 0v2m1-2v2m2-4v2m1-22v2m1 11v2m0 5v2m6 13v2m2-46v2m3 32v2m1-18v2m1 7v2m3 2v2m1 0v2m2-11v2m1 1v2m0 2v2m4 0v2m3-18v2m0 9v2m2-3v2m1-3v2m2-10v2m2-4v2m0 19v2m1 2v2m3-12v2m2 3v2m3-26v2m3 19v2m1-3v2m5 3v2m8-16v2m5 4v2m5 0v2m0 5v2m2-8v2m10-6v2m3-10v2m5 1v2m1-6v2m4 4v2m2 11v2m24-8v2m93-14v2m20-10v2" stroke="#d92600" stroke-width="2" opacity="0.8"/><path d="M769 942v2m5 9v2m3-23v2m12 25v2m15-20v2m1 10v2m1 0v2m1-13v2m1-12v2m1 7v2m1-2v2m4-22v2m2 10v2m7 10v2m2-4v2m1-8v2m2 6v2m1-25v2m1 30v2m3-8v2m3-12v2m1 1v2m0 1v2m3-1v2m1-15v2m9 6v2m2-7v2m2 21v2m3-30v2m0 15v2m2-17v2m4 8v2m5-20v2m1 19v2m0-1v2m1-10v2m1-9v2m8 5v2m4 3v2m2-14v2m3 13v2m0 0v2m4-9v2m4-21v2m2 17v2m19 5v2m2-9v2m3-30v2m0 27v2m1-15v2m6 15v2m1-22v2m1 4v2m3 8v2m1-8v2m7 3v2m7-12v2" stroke="#f20d00" stroke-width="2" opacity="0.8"/><path d="M733 944v2m47-3v2m10-18v2m5 11v2m0 30v2m3-17v2m1-27v2m2-2v2m2 5v2m7 17v2m6-22v2m4 3v2m7 9v2m11-25v2m0 17v2m2-12v2m1-1v2m1-7v2m0 5v2m2-5v2m0 0v2m7-25v2m12 9v2m1 0v2m2-9v2m7-7v2m0 25v2m1-4v2m1 1v2m1-18v2m6 11v2m1 5v2m2-24v2m3 2v2m6-6v2m1 1v2m0 10v2m6 8v2m3-24v2m2-4v2m4-1v2m2 1v2m1 3v2m2-10v2m1 1v2m3 8v2m1 7v2m8-19v2m11 3v2m2-6v2m6 8v2m4-6v2m7-13v2" stroke="#ff0d00" stroke-width="2" opacity="0.8"/><path d="M752 941v2m17 5v2m3-7v2m9-6v2m11-5v2m4 8v2m12 15v2m1-25v2m4-13v2m1 11v2m3-2v2m0 3v2m2-6v2m2-6v2m0 12v2m0 16v2m3-40v2m0 19v2m5-5v2m8 6v2m6-23v2m7 12v2m1-12v2m0 1v2m0-1v2m2-17v2m0 12v2m2-16v2m0 11v2m1-10v2m1 22v2m5-17v2m4-11v2m5 1v2m8-11v2m1 19v2m12-18v2m0 4v2m9 7v2m14-25v2m1 7v2m2 3v2m4 0v2m1-20v2m4 13v2m0 1v2m1-7v2m5-15v2m0 21v2m5-7v2m10-12v2m0 2v2m43 3v2m3-21v2m60-1v2" stroke="#ff2600" stroke-width="2" opacity="0.8"/><path d="M733 955v2m59-25v2m0 20v2m9-8v2m8-5v2m0 2v2m2 2v2m2-27v2m2-9v2m5 21v2m3-10v2m4 3v2m2 2v2m1-17v2m5-2v2m2-9v2m3-1v2m0 4v2m1 2v2m1-4v2m1 7v2m0 15v2m1-16v2m1-13v2m2 16v2m3-8v2m1-5v2m1-7v2m1 7v2m2-9v2m1-14v2m2-5v2m1 11v2m3 4v2m3-7v2m4-4v2m1 9v2m2-33v2m2 28v2m2-6v2m1-15v2m2 3v2m0-1v2m6 13v2m1-15v2m1 6v2m1-11v2m6 0v2m5-18v2m16 9v2m1-1v2m3-4v2m2 7v2m2-5v2m4 2v2m9-7v2m1 9v2m45-20v2m67 3v2" stroke="#ff4000" stroke-width="2" opacity="0.8"/><path d="M743 936v2m6-6v2m19 14v2m13-1v2m9-9v2m12-2v2m4-11v2m2-4v2m3-6v2m1 14v2m7 4v2m1-11v2m3-11v2m1 6v2m1-5v2m1 6v2m1-5v2m2 9v2m1-21v2m4-15v2m0 12v2m1 12v2m1-11v2m0-1v2m0-1v2m0 0v2m4-4v2m4 7v2m5-8v2m8-17v2m3 22v2m1-32v2m1 23v2m1-14v2m4-3v2m5-9v2m4 6v2m5 10v2m5-4v2m4-13v2m2 6v2m11-3v2m1-7v2m4-10v2m0 9v2m0 4v2m3-19v2m2 15v2m3-18v2m3 1v2m6 0v2m1-14v2m2 23v2m4-26v2m18 6v2m13-6v2m30 2v2" stroke="#ff5900" stroke-width="2" opacity="0.8"/><path d="M777 939v2m7 2v2m11-27v2m7 31v2m4-14v2m4 2v2m3-9v2m0 4v2m8 9v2m2-20v2m0 7v2m0 2v2m1-17v2m3 3v2m0 4v2m1-2v2m3-3v2m0-2v2m2-28v2m3 22v2m0 0v2m3-2v2m1 1v2m2-11v2m5 1v2m3 6v2m4-9v2m3-5v2m1-7v2m1-7v2m4 9v2m1-3v2m0 1v2m3-19v2m0 18v2m0-1v2m3-10v2m6-17v2m2 11v2m6 2v2m4-10v2m1-11v2m0 5v2m0 1v2m1-4v2m1 0v2m1 7v2m2-11v2m16 8v2m3-9v2m2-11v2m3 6v2m6-8v2m2 6v2m12 13v2m2-34v2m15-2v2m1 0v2m33 17v2m2-1v2" stroke="#ff7300" stroke-width="2" opacity="0.8"/><path d="M777 956v2m2-37v2m2 22v2m8-27v2m0 16v2m19 4v2m4-4v2m4 11v2m1-8v2m0 0v2m1-20v2m3 12v2m3-15v2m0-1v2m3 8v2m1 4v2m3-7v2m2-23v2m0 6v2m3-8v2m3 7v2m8-11v2m5 6v2m1-5v2m3-5v2m0 6v2m1 5v2m1-19v2m0 2v2m0 8v2m1-4v2m9 2v2m1-9v2m3-1v2m2-5v2m2-2v2m0 3v2m1-20v2m0 8v2m6-2v2m6 7v2m0 3v2m6-21v2m0 3v2m3-24v2m3 35v2m4-28v2m0 7v2m0 3v2m2-16v2m7 13v2m2-13v2m4 10v2m1-6v2m7-3v2m1 0v2m8-6v2m12-10v2m7 11v2m5-9v2m2 1v2m21-7v2m7 8v2m49-8v2" stroke="#ff8c00" stroke-width="2" opacity="0.8"/><path d="M789 935v2m5 1v2m8-13v2m4 6v2m3-5v2m3-13v2m1-3v2m0 18v2m1 3v2m2-2v2m1-14v2m0 3v2m3 10v2m2-27v2m5 10v2m5-10v2m2 2v2m0 4v2m1-13v2m3-6v2m4 18v2m3-21v2m1 5v2m1-3v2m0-1v2m1-4v2m0 9v2m1 0v2m3-1v2m1-14v2m1-11v2m0 7v2m6-4v2m3 1v2m1 0v2m0 2v2m6-29v2m0 17v2m2-6v2m1 3v2m4-12v2m0 9v2m2-8v2m1 18v2m1-22v2m3 13v2m13-17v2m15-6v2m10-6v2m14 12v2m4-11v2m4 11v2m46-8v2m24-12v2m10 2v2" stroke="#ffa600" stroke-width="2" opacity="0.8"/><path d="M777 928v2m2 8v2m5-7v2m15 4v2m2-14v2m3 13v2m3-15v2m2 9v2m4-5v2m4 1v2m3-12v2m1-7v2m1 2v2m2-17v2m0 15v2m2 3v2m4-7v2m1-1v2m1 4v2m1 0v2m1-22v2m0 23v2m1-31v2m0 13v2m3 2v2m3-16v2m1 3v2m3-2v2m2 6v2m2-4v2m1-4v2m0 2v2m11-19v2m0 1v2m1-3v2m0 3v2m1-1v2m1-3v2m1-10v2m2 11v2m2-3v2m1-7v2m0 1v2m0 15v2m8-34v2m2 18v2m2-1v2m4-4v2m1-5v2m2-14v2m2-1v2m14 17v2m7-4v2m1-16v2m0 7v2m2-7v2m3-10v2m11 16v2m1-14v2m3-5v2m5 14v2m4 2v2m18-7v2m10-10v2m31-5v2" stroke="#ffbf00" stroke-width="2" opacity="0.8"/><path d="M740 914v2m32 23v2m11-8v2m10-12v2m4-1v2m0 4v2m4-10v2m5-1v2m1 9v2m2-3v2m2-4v2m3-13v2m2-10v2m0 14v2m3-6v2m2-15v2m2-6v2m1 8v2m0 2v2m1 10v2m2 1v2m3-14v2m0 6v2m1-8v2m3-5v2m0 2v2m2 5v2m4-18v2m0 12v2m1-2v2m3-12v2m2 22v2m1-38v2m5 15v2m2-5v2m1-10v2m5 11v2m1-9v2m4-1v2m0 4v2m4-7v2m3 2v2m1 1v2m0 8v2m6-20v2m0 10v2m4-13v2m12-4v2m9 1v2m3-4v2m4 4v2m2-20v2m1-2v2m18 27v2m5-22v2m3 13v2m22-26v2m26 4v2" stroke="#ffd900" stroke-width="2" opacity="0.8"/><path d="M774 913v2m11 17v2m1-7v2m7-2v2m3 0v2m3 5v2m6-10v2m5-11v2m2 2v2m0 2v2m1-8v2m1 3v2m0 13v2m1-10v2m1-5v2m1-14v2m1 12v2m1-10v2m4-21v2m0 28v2m1-16v2m1 11v2m1-13v2m2 6v2m3-22v2m2 3v2m3 11v2m2-9v2m0 4v2m2-4v2m1-11v2m0 9v2m1-22v2m1 12v2m2-11v2m1-5v2m1 3v2m4-4v2m0 5v2m1 12v2m1-16v2m10 0v2m1-4v2m0 12v2m1-37v2m1 15v2m0 16v2m3-10v2m0-2v2m2 2v2m2-25v2m1 4v2m1 7v2m8-9v2m4 17v2m3-20v2m6 13v2m4-3v2m0 2v2m3-19v2m11-5v2m0 13v2m2-8v2m5-4v2m5-1v2m10 1v2m3 0v2m7-5v2m1-12v2m5 6v2m36-13v2m5 6v2" stroke="#fff200" stroke-width="2" opacity="0.8"/><path d="M771 911v2m17 7v2m3 0v2m2-9v2m7 2v2m0 16v2m2-10v2m5 5v2m1-31v2m3 5v2m7-5v2m2 1v2m3 1v2m4 7v2m3-12v2m1 22v2m1-15v2m3-5v2m0 6v2m4 7v2m4-27v2m2-2v2m0 4v2m1 2v2m1-10v2m1-10v2m1 6v2m1-1v2m0 1v2m2-1v2m1-3v2m0 2v2m3-14v2m1 6v2m4-16v2m1 22v2m3-21v2m1-6v2m0 4v2m0 10v2m1-24v2m4 8v2m0 12v2m0 3v2m8-18v2m1 8v2m2-14v2m0 6v2m12-9v2m5 3v2m7-8v2m1 2v2m1 18v2m1-32v2m8 6v2m2-10v2m1 7v2m2 9v2m4-12v2m4-5v2m1-7v2m6-4v2m4 11v2m10-11v2m2 5v2m2-3v2m2-2v2m6-19v2m9 1v2m7 0v2m11-6v2m13 2v2m6 9v2m27 1v2" stroke="#f2f20d" stroke-width="2" opacity="0.8"/><path d="M799 924v2m4-19v2m2 6v2m3 15v2m2-19v2m1 10v2m3-9v2m1-10v2m1 22v2m1-36v2m4 18v2m1-11v2m0 18v2m1-8v2m3-1v2m9-12v2m1 13v2m0 4v2m3-40v2m1 11v2m4-10v2m0 19v2m1-17v2m3 17v2m1-24v2m1 6v2m2-6v2m2 10v2m1-12v2m1-11v2m4-6v2m1 15v2m3 1v2m3-4v2m3 1v2m5-17v2m0 29v2m3-13v2m4-18v2m0 1v2m4-8v2m1 8v2m1-7v2m0 1v2m1 11v2m3-24v2m0-1v2m15-2v2m2 8v2m3 1v2m12-10v2m2 6v2m2-17v2m23-2v2m7 2v2m22-5v2m35 10v2" stroke="#d9d926" stroke-width="2" opacity="0.8"/><path d="M771 938v2m16-20v2m3 13v2m9-1v2m6-34v2m2 15v2m1-10v2m2 17v2m4-29v2m1 9v2m1 1v2m2-3v2m1 3v2m4-14v2m1 4v2m1 0v2m2 4v2m2-3v2m1-20v2m1 9v2m3 11v2m2-26v2m3 8v2m4 13v2m1-18v2m2 2v2m1-22v2m1 15v2m1-11v2m0 6v2m2 4v2m0-1v2m0 2v2m6-14v2m2-1v2m3 3v2m1-5v2m0 15v2m2-13v2m5-21v2m3 28v2m1-37v2m0 2v2m2 8v2m5 7v2m4-4v2m2-11v2m1-14v2m1 14v2m2 8v2m7-14v2m2-10v2m4 2v2m0 18v2m1-32v2m3 15v2m9-8v2m6-1v2m18 3v2m7 13v2m2-42v2m13 23v2m23-22v2m1 13v2m11-4v2m79-9v2" stroke="#bfbf40" stroke-width="2" opacity="0.8"/><path d="M767 924v2m9-6v2m3-13v2m3 16v2m3-11v2m6-2v2m5-21v2m1 22v2m17-8v2m1-6v2m1-13v2m3 3v2m2 2v2m1-8v2m1 13v2m7 8v2m1-22v2m0 2v2m1-24v2m1-1v2m0 14v2m2 6v2m2 6v2m2-13v2m2 9v2m3-26v2m3 8v2m14 0v2m3-4v2m1 5v2m1-25v2m1 16v2m1 2v2m3-9v2m0-1v2m0 1v2m0-2v2m1 7v2m1-26v2m15 18v2m1-7v2m1-6v2m1-5v2m3 7v2m1-3v2m1-2v2m4-4v2m0 10v2m4-30v2m7 17v2m1-14v2m3 12v2m10-9v2m27-6v2m7 6v2m29-16v2m5-1v2" stroke="#a6a659" stroke-width="2" opacity="0.8"/><path d="M756 920v2m34 6v2m3-22v2m12 15v2m1-15v2m4 4v2m5-15v2m3 8v2m3 5v2m1-28v2m1 7v2m2-1v2m2-2v2m0 7v2m1-3v2m1-10v2m3 10v2m3-24v2m4 29v2m12-16v2m1-3v2m4-14v2m1 8v2m8-8v2m2 5v2m3-2v2m2-1v2m1-4v2m3-12v2m0 3v2m0 2v2m1 0v2m3 9v2m3-10v2m1-10v2m7 8v2m2-14v2m6 10v2m1-13v2m1-9v2m6 6v2m1-9v2m2 6v2m1-5v2m1 7v2m3-12v2m6 3v2m19-12v2m0 12v2m2-8v2m13 6v2m49-10v2m1-6v2m67-20v2" stroke="#8c8c73" stroke-width="2" opacity="0.8"/><path d="M769 907v2m6-4v2m11-3v2m15-9v2m0 16v2m5-7v2m0 1v2m1 3v2m2 10v2m5-9v2m2-28v2m1 3v2m1 2v2m1 18v2m6-15v2m1 3v2m3-13v2m7-5v2m0 4v2m1-13v2m2 12v2m0 6v2m1-23v2m1 8v2m0 0v2m1 2v2m3-18v2m3-1v2m0 12v2m6-18v2m1 9v2m3-16v2m2 10v2m3-3v2m6-3v2m0 7v2m1-10v2m1-6v2m0 6v2m6-3v2m3-2v2m0-1v2m5-16v2m2-2v2m6 6v2m4 4v2m1-22v2m0 13v2m5 8v2m3-2v2m7 2v2m3-14v2m1 1v2m11-11v2m0 0v2m0 7v2m2-4v2m27-13v2m37 4v2" stroke="#73738c" stroke-width="2" opacity="0.8"/><path d="M758 904v2m9-8v2m3 13v2m3 9v2m2-26v2m2-5v2m6 12v2m9-7v2m0 11v2m6-16v2m5 9v2m5-17v2m1 13v2m3-14v2m0 6v2m0 0v2m3-13v2m4 1v2m2 12v2m1-3v2m0-1v2m1-17v2m5 9v2m0 4v2m1-22v2m5 6v2m0 2v2m4-14v2m1 7v2m0 8v2m3-14v2m5-13v2m1 11v2m2 2v2m1-8v2m1-7v2m0 8v2m4 9v2m1-27v2m2-7v2m0 9v2m1-9v2m1 4v2m7-2v2m2 1v2m2-10v2m1 2v2m3-13v2m0 11v2m3-20v2m7 13v2m1-5v2m9 2v2m2-4v2m1 10v2m6-16v2m2-14v2m1 14v2m1-20v2m1 21v2m0 0v2m3-13v2m2 2v2m4-10v2m3 13v2m1-6v2m6-2v2m10-3v2m8 7v2m13-14v2m9-2v2m3-4v2" stroke="#5959a6" stroke-width="2" opacity="0.8"/><path d="M782 908v2m11-5v2m10 1v2m0 2v2m0 4v2m3 6v2m4-24v2m3-4v2m4 5v2m1-8v2m0 13v2m1-4v2m8-14v2m2-7v2m1 8v2m0-1v2m1-9v2m0-1v2m0 2v2m3-3v2m1 3v2m2-10v2m3 5v2m1-9v2m1-15v2m0 3v2m0 6v2m1-12v2m0 22v2m2-14v2m1 10v2m2-2v2m1-10v2m2 2v2m3-38v2m2 27v2m1-20v2m0 19v2m1-2v2m1-2v2m1-15v2m2 1v2m1 5v2m5-15v2m0 14v2m2-13v2m1 17v2m7-11v2m1-16v2m3 6v2m0 3v2m0 0v2m4-15v2m1 3v2m1 5v2m2-14v2m2 0v2m1-4v2m10-2v2m1-4v2m2-8v2m0 26v2m28-15v2m1-1v2m5-14v2m8 7v2m35-13v2m31 2v2" stroke="#4040bf" stroke-width="2" opacity="0.8"/><path d="M802 892v2m4 30v2m1 2v2m10-27v2m0 2v2m3-4v2m2 0v2m2-9v2m1 15v2m2-18v2m2 0v2m0 5v2m2-21v2m2 25v2m2-10v2m1 18v2m1-26v2m2-4v2m1 21v2m1-36v2m1 11v2m5 9v2m1-17v2m3-9v2m2 6v2m0 1v2m0 1v2m1-5v2m1 4v2m0 9v2m2-30v2m5 2v2m3-5v2m7 7v2m2 5v2m5-17v2m4 11v2m1-5v2m2-6v2m5-4v2m3-11v2m0 9v2m0 3v2m6 7v2m1-26v2m1 2v2m13-3v2m1-7v2m0 12v2m2-6v2m5-5v2m8-3v2m6 3v2m0 7v2m1-7v2m0-1v2m10-15v2m5 3v2m70-14v2" stroke="#2626d9" stroke-width="2" opacity="0.8"/><path d="M737 898v2m10 15v2m34 4v2m14-13v2m5 13v2m1-28v2m6 7v2m1 7v2m9-22v2m6 5v2m2 4v2m4-10v2m0 9v2m1-12v2m2 5v2m2-15v2m0 6v2m0 7v2m0 5v2m1-11v2m1-18v2m0 1v2m0 1v2m1-9v2m3 2v2m2 5v2m2 3v2m1-5v2m0 6v2m3-1v2m4-20v2m2 7v2m1-8v2m2-1v2m1 2v2m2 5v2m1-18v2m1 1v2m2-5v2m0 6v2m6-10v2m0 14v2m1-4v2m1-19v2m0-2v2m1-10v2m0 12v2m0 11v2m5-10v2m2-10v2m1-2v2m0 4v2m1-5v2m5 2v2m0 7v2m0-2v2m3-20v2m4-6v2m2 5v2m7 16v2m4-11v2m5-5v2m3-6v2m8-11v2m1 14v2m3-5v2m7-11v2m9 15v2m40-17v2m3-7v2m1 7v2m1-10v2m5-6v2m9 9v2m16-2v2" stroke="#0d0df2" stroke-width="2" opacity="0.8"/><path d="M766 910v2m8-7v2m12-10v2m1 18v2m12-2v2m13-8v2m0 4v2m1-7v2m6-1v2m3 3v2m0-1v2m0 4v2m2-34v2m1 9v2m0-1v2m1-2v2m7-26v2m3 15v2m3 1v2m1-14v2m3 4v2m8 7v2m1-22v2m0 11v2m0 19v2m1-15v2m2-4v2m0 12v2m4-22v2m2 2v2m3-7v2m1-11v2m0 11v2m4-3v2m1 5v2m3-6v2m4 1v2m0 0v2m11-11v2m11 17v2m4-21v2m7 8v2m3-7v2m11-11v2m4 3v2m15-9v2m17 9v2m90-16v2m22 6v2" stroke="#000df2" stroke-width="2" opacity="0.8"/><path d="M737 916v2m23-28v2m28 19v2m3-13v2m2-3v2m1 10v2m2-4v2m1 0v2m6-10v2m3 6v2m5-2v2m4-6v2m5 7v2m2-16v2m1-13v2m1 30v2m3-20v2m4-7v2m0 3v2m1-6v2m5 12v2m1-17v2m1 12v2m4-11v2m3-2v2m2-2v2m2-24v2m0 9v2m2-1v2m0 22v2m2-23v2m1 5v2m0-2v2m1 7v2m0 5v2m1-14v2m10-22v2m0 6v2m4 3v2m23 1v2m5-10v2m7 7v2m3-1v2m7-26v2m38 15v2m5-7v2m15-2v2m14 1v2m21-5v2m16-6v2" stroke="#0026d9" stroke-width="2" opacity="0.8"/><path d="M754 899v2m40 3v2m4-12v2m5 18v2m0 10v2m4-19v2m1-2v2m1-12v2m0 0v2m0 11v2m2-14v2m0 17v2m6-4v2m3-13v2m1-16v2m6 23v2m7-15v2m0 3v2m1-9v2m3-5v2m4 13v2m1-7v2m9-11v2m1 3v2m1 10v2m1-4v2m3-16v2m1 12v2m4-16v2m3 13v2m1-19v2m6 0v2m2 12v2m1-33v2m0 18v2m2 6v2m4-19v2m2-2v2m0 12v2m5-7v2m2-10v2m2-9v2m5 24v2m2-6v2m6-28v2m6 22v2m1-4v2m2-11v2m0 7v2m1-12v2m0 12v2m1-26v2m7 8v2m8-9v2m5 17v2m2-14v2m8-20v2m9 13v2m18 5v2m13-14v2m5 9v2m29-13v2" stroke="#0040bf" stroke-width="2" opacity="0.8"/><path d="M756 912v2m3 5v2m18-28v2m1 5v2m3 10v2m9 1v2m1 1v2m2-7v2m5-16v2m7-8v2m0 9v2m3-3v2m5 19v2m3-23v2m2 8v2m1 0v2m3-7v2m4-12v2m0-1v2m5-3v2m2 18v2m1-13v2m1 2v2m2-16v2m2 10v2m2-5v2m1-11v2m0 6v2m0-1v2m2 1v2m3 0v2m5-25v2m0 10v2m1-3v2m3-6v2m0-1v2m0 18v2m5-29v2m0 5v2m4 13v2m6-21v2m3 3v2m4-8v2m0 24v2m1-11v2m2 10v2m1-25v2m2-6v2m2 5v2m6-1v2m2-2v2m7-14v2m2 3v2m1-6v2m13 3v2m5 3v2m7-1v2m21 0v2m5-3v2m27-8v2m15-10v2m30 9v2m17 0v2m20-11v2m5-2v2" stroke="#0059a6" stroke-width="2" opacity="0.8"/><path d="M742 916v2m35-7v2m7-9v2m1 24v2m12-14v2m7 1v2m2-14v2m0 2v2m1 9v2m2-16v2m4-8v2m0 5v2m5 2v2m1-18v2m5 15v2m4 1v2m1-14v2m1 2v2m2-13v2m2-1v2m3 1v2m2-6v2m0 11v2m1-6v2m4 15v2m0 0v2m2-5v2m1-30v2m2 14v2m3-5v2m1 13v2m2-28v2m0 3v2m1-7v2m0 4v2m0 2v2m0 13v2m1-27v2m0 3v2m2 16v2m2-16v2m0 1v2m0 3v2m1-22v2m3 24v2m1-16v2m2-9v2m0 1v2m1 1v2m3 3v2m1-2v2m1-10v2m0 5v2m1-6v2m0 10v2m2-9v2m6 0v2m14-10v2m1-5v2m1 5v2m1-7v2m10 8v2m6-13v2m1-14v2m2 19v2m2-11v2m3 2v2m32-18v2m9 13v2m4-11v2m9 7v2m29-25v2" stroke="#00738c" stroke-width="2" opacity="0.8"/><path d="M758 925v2m7-22v2m29 1v2m4 14v2m5-18v2m1-4v2m1 10v2m1-16v2m4-1v2m2 10v2m3 0v2m1 4v2m2-24v2m1 9v2m2-5v2m1 5v2m3-10v2m2 4v2m2 1v2m1-24v2m0-1v2m0 23v2m2 4v2m2-6v2m4-22v2m0 8v2m0-1v2m2-17v2m0 11v2m1 1v2m0-2v2m1-16v2m4 2v2m4-1v2m2-5v2m0 5v2m5 16v2m1-18v2m1-6v2m0 6v2m1-7v2m3-8v2m4 3v2m1-18v2m3 13v2m6 4v2m1-12v2m2 9v2m1-12v2m0 0v2m1 5v2m1-7v2m10-7v2m1 7v2m1 2v2m2-26v2m2 14v2m6-8v2m10 11v2m3-8v2m5-22v2m1 8v2m6-3v2m1-6v2m4 6v2m1-6v2m15 11v2m7-16v2m17-1v2m37-13v2m2 5v2" stroke="#008c73" stroke-width="2" opacity="0.8"/><path d="M765 927v2m13-30v2m8 22v2m12-14v2m0 4v2m1-6v2m1-11v2m2 20v2m7-23v2m0 3v2m2-11v2m0 10v2m2 4v2m2-7v2m3 10v2m2-17v2m0 4v2m3-18v2m4 20v2m1-7v2m1-19v2m3 8v2m0 8v2m4-30v2m1 32v2m5-27v2m3 18v2m1-9v2m2-5v2m2-11v2m0 9v2m1-3v2m1 2v2m1-20v2m3 13v2m0 5v2m1 1v2m1-9v2m5-13v2m2 2v2m0 2v2m2 1v2m1 7v2m9-7v2m9-22v2m3 4v2m2-3v2m7 1v2m1-5v2m2-7v2m6 6v2m3 4v2m11-6v2m4 0v2m4 2v2m29-11v2m4 8v2m23-1v2m1-23v2m30 18v2" stroke="#00a659" stroke-width="2" opacity="0.8"/><path d="M745 916v2m38 16v2m17-15v2m5 0v2m2-16v2m1-4v2m0 8v2m1-1v2m0 0v2m3 1v2m0 4v2m1-17v2m4-9v2m6-9v2m1 16v2m2-15v2m3 20v2m2-7v2m1-13v2m1 13v2m6 8v2m6-24v2m5 6v2m1-5v2m7-6v2m3-10v2m0 6v2m3 11v2m3-19v2m5-4v2m6-12v2m1 10v2m0 3v2m0 5v2m3-13v2m2-15v2m11 2v2m1 6v2m1-10v2m10 18v2m5-10v2m2-4v2m1-10v2m0 9v2m3-2v2m17-12v2m2 4v2m2 5v2m11-3v2m11-17v2m8-2v2" stroke="#00bf40" stroke-width="2" opacity="0.8"/><path d="M772 921v2m26-6v2m9-12v2m2 13v2m0 5v2m2-26v2m0 15v2m0 5v2m1-27v2m1 15v2m2 3v2m6-2v2m1-10v2m3-5v2m4 0v2m0 2v2m4-19v2m2 18v2m1 17v2m2-23v2m8-4v2m6 12v2m2 1v2m1-20v2m1 8v2m2-8v2m1-15v2m2-4v2m0 2v2m4-2v2m2-8v2m4 5v2m1 0v2m4-8v2m5 2v2m2-14v2m0 25v2m5-1v2m2-20v2m10 12v2m7-8v2m3 6v2m2-10v2m1-9v2m2-4v2m1 8v2m6-9v2m5 22v2m1-35v2m0 4v2m5 14v2m4-3v2m6-2v2m2-6v2m4-11v2m25 1v2m6 13v2m38-20v2m26-12v2m1 8v2" stroke="#00d926" stroke-width="2" opacity="0.8"/><path d="M777 917v2m5 2v2m8 3v2m4-2v2m1 4v2m1-1v2m2-19v2m6 0v2m2 11v2m5-6v2m3-21v2m0 17v2m6-1v2m1-3v2m2-27v2m2 11v2m4 6v2m3-4v2m2-6v2m1-1v2m0 4v2m1 7v2m1-17v2m1-5v2m3 9v2m3-7v2m7-7v2m4 4v2m2 4v2m3-14v2m0 0v2m2-1v2m5-6v2m1 14v2m1-27v2m0 9v2m3-10v2m3 2v2m1 5v2m4 3v2m3-12v2m1 13v2m1-28v2m5 12v2m3-6v2m6 6v2m13-8v2m4 6v2m6-3v2m9-11v2m5 0v2m13-3v2m39-11v2m69-2v2" stroke="#00f20d" stroke-width="2" opacity="0.8"/><path d="M778 923v2m8 6v2m2-1v2m2-15v2m2 15v2m1-15v2m1-12v2m0 27v2m1-17v2m8-13v2m0 1v2m1-1v2m1 6v2m5 10v2m2-14v2m4-11v2m2 12v2m1-24v2m0 4v2m3 17v2m3-17v2m2-13v2m2 3v2m0 8v2m1 17v2m10-14v2m5-28v2m0 12v2m2 7v2m2-7v2m0 13v2m3-22v2m0-1v2m1 2v2m0 3v2m5-5v2m0 5v2m6-31v2m0 21v2m1-5v2m0 17v2m7-26v2m1 18v2m3-27v2m0 9v2m3-14v2m3 10v2m10 2v2m0-1v2m1 2v2m1-14v2m2-23v2m0 17v2m10 4v2m1-26v2m0 24v2m8-22v2m3 6v2m0-1v2m33-4v2m15-9v2m21 8v2m11-5v2m30 4v2m15-9v2m6-5v2" stroke="#0df200" stroke-width="2" opacity="0.8"/><path d="M737 935v2m55-22v2m0 1v2m9-1v2m0-1v2m4 17v2m0 3v2m2-19v2m1-5v2m2 3v2m3-6v2m1 15v2m2-24v2m0-2v2m2 9v2m3-2v2m3-9v2m3 13v2m5-14v2m0 21v2m3-17v2m2-7v2m2 12v2m1-23v2m2-11v2m0 6v2m2 6v2m1 0v2m2-11v2m1 7v2m2-3v2m1-9v2m0-1v2m5 7v2m4-13v2m2 4v2m2-11v2m1 3v2m4-1v2m4-1v2m1-1v2m1-15v2m2 0v2m4 13v2m1-3v2m3-9v2m2-9v2m0 13v2m2-3v2m8-24v2m0 1v2m4 10v2m8 2v2m1-12v2m0 7v2m1-4v2m2 0v2m4-9v2m1 6v2m10-2v2m20-22v2m6 25v2m26-21v2m3 6v2m35-10v2m26 1v2" stroke="#26d900" stroke-width="2" opacity="0.8"/><path d="M775 943v2m9-7v2m3 7v2m7-20v2m2 14v2m4-26v2m3 9v2m3-13v2m0 23v2m1-21v2m3 11v2m2-14v2m4 6v2m0 3v2m3 8v2m3-33v2m1-6v2m5 6v2m1 4v2m0 1v2m1 11v2m8-18v2m1 2v2m0 13v2m2-21v2m1-2v2m1 15v2m1-30v2m2-3v2m4 30v2m1-18v2m3-15v2m0 0v2m1 14v2m2 2v2m1-12v2m1-4v2m3-6v2m3 1v2m0 2v2m1-3v2m12 0v2m1 0v2m2-9v2m3-13v2m2 9v2m2-15v2m0 20v2m7-6v2m8-2v2m10-24v2m3 8v2m0 3v2m5 4v2m11 1v2m1-15v2m15-2v2m19-5v2m118-10v2" stroke="#40bf00" stroke-width="2" opacity="0.8"/><path d="M760 919v2m4 20v2m21-10v2m12 6v2m2-28v2m0 29v2m10-11v2m5 0v2m3-19v2m1 3v2m0 6v2m1-31v2m0 22v2m3-6v2m3 3v2m6-8v2m5-9v2m0 7v2m1 5v2m2-7v2m1 3v2m2-2v2m0 13v2m1-5v2m3-15v2m1 5v2m2-6v2m2-5v2m2-9v2m5 6v2m1-1v2m0 5v2m1-11v2m2 3v2m2-15v2m2-3v2m1-3v2m6 13v2m1-7v2m0-1v2m0 6v2m4-18v2m0 15v2m2-25v2m2 13v2m10-16v2m2 12v2m9-10v2m1-5v2m0 2v2m1-3v2m6 0v2m12 0v2m18-12v2m0 10v2m17 5v2m41-26v2m46 6v2" stroke="#59a600" stroke-width="2" opacity="0.8"/><path d="M761 935v2m12-13v2m0 4v2m18 0v2m2-23v2m3 17v2m0 27v2m7-25v2m4-6v2m1 17v2m3-37v2m0 26v2m6-4v2m0 4v2m2 0v2m3-16v2m2-9v2m0 6v2m2-10v2m0 4v2m1-17v2m4 17v2m2-7v2m3-4v2m2 4v2m3-13v2m6 11v2m1-7v2m1-1v2m5 7v2m3-8v2m2-15v2m0 0v2m3-1v2m8 4v2m0 2v2m5-14v2m1-6v2m5-3v2m0 5v2m3-13v2m0 15v2m2-6v2m1 4v2m0 13v2m10-21v2m4 4v2m4-7v2m3-7v2m7 18v2m7-18v2m5-6v2m0 17v2m2-22v2m3 7v2m5-7v2m2-10v2m14-13v2m5 23v2m79-7v2" stroke="#738c00" stroke-width="2" opacity="0.8"/><path d="M774 932v2m4 10v2m5-5v2m11-6v2m5 1v2m5-2v2m3-1v2m4 3v2m2-1v2m2-25v2m0 30v2m3-18v2m2-6v2m0-1v2m1 1v2m2-6v2m2-7v2m1 3v2m3 0v2m2 5v2m0 2v2m2-22v2m0-2v2m2 15v2m2-15v2m1-12v2m0 7v2m1 20v2m5-10v2m1-19v2m1-11v2m3 12v2m0 10v2m1-13v2m0 1v2m3-5v2m2 3v2m1-8v2m2 3v2m0-1v2m3-4v2m0 2v2m2-3v2m0 5v2m5-22v2m3 2v2m2 8v2m7-21v2m4 7v2m3-12v2m1 17v2m4-12v2m2-10v2m5 10v2m0 7v2m6-5v2m1-10v2m5-17v2m9 11v2m0-2v2m2-15v2m1 18v2m14-15v2m26 5v2m21 1v2m19-19v2" stroke="#8c7300" stroke-width="2" opacity="0.8"/><path d="M777 952v2m20-21v2m4-8v2m2 18v2m3 7v2m1-15v2m10-9v2m5 3v2m5-25v2m1 18v2m2-2v2m0 16v2m5-11v2m1-10v2m0 9v2m7-19v2m1-13v2m2 27v2m1-23v2m3 14v2m3-19v2m4-1v2m3 19v2m1-23v2m2 2v2m2-6v2m4 8v2m0 0v2m9-12v2m0 10v2m3-19v2m5 5v2m0 14v2m1-16v2m1-8v2m0 11v2m2-8v2m5-3v2m1 4v2m6 8v2m1-20v2m4-1v2m1 3v2m1 4v2m0 3v2m5-13v2m8-11v2m2 8v2m3-18v2m9 6v2m10 4v2m5-18v2m0 11v2m8-17v2m9 13v2m1 5v2m4-18v2m13 15v2m8-22v2" stroke="#a65900" stroke-width="2" opacity="0.8"/><path d="M734 939v2m16-4v2m5 2v2m12 25v2m7-26v2m16-4v2m0 11v2m1-16v2m1-4v2m1 8v2m4-9v2m3-5v2m9-10v2m2 23v2m1-15v2m0 19v2m2-23v2m3 13v2m3-27v2m2 24v2m3-21v2m0 0v2m2 2v2m3-25v2m1 14v2m2-17v2m1 15v2m3-1v2m0 9v2m1-21v2m4 4v2m2 11v2m1 3v2m1-47v2m0 17v2m1 10v2m0 13v2m1-25v2m1 4v2m1-2v2m4 6v2m2-12v2m2-11v2m0 13v2m1-9v2m0 8v2m3 1v2m2-9v2m2 0v2m5-3v2m1-9v2m3 6v2m7-15v2m1 22v2m1-31v2m1 15v2m12-11v2m1-1v2m3-7v2m5 14v2m7-12v2m0 1v2m11-8v2m3-8v2m4 9v2m3-5v2m10 1v2m4-15v2m10 13v2m34-13v2m9-1v2m24-8v2" stroke="#bf4000" stroke-width="2" opacity="0.8"/><path d="M750 940v2m37 1v2m5-3v2m1 3v2m3-9v2m1 9v2m8 3v2m2-20v2m0 7v2m8 3v2m9-12v2m3 2v2m2-4v2m1-11v2m0 6v2m3-20v2m0 18v2m2-4v2m1-10v2m1-13v2m2 15v2m1-7v2m1 0v2m1 20v2m1-22v2m0 15v2m1-29v2m2 12v2m1 2v2m0 6v2m1 2v2m3-14v2m1-18v2m1 2v2m5-4v2m4-1v2m1 0v2m3-12v2m4 23v2m3-9v2m0 2v2m2-12v2m3 9v2m6-17v2m0 12v2m1 2v2m1-12v2m2-2v2m2-7v2m0-1v2m1 8v2m1-3v2m14-8v2m4-10v2m1-5v2m0 19v2m1-1v2m3-21v2m0-1v2m9 1v2m14-13v2m20 2v2m33-10v2m82 8v2" stroke="#d92600" stroke-width="2" opacity="0.8"/><path d="M780 958v2m2-19v2m7 6v2m5-15v2m6-5v2m2-24v2m0 29v2m1-1v2m6-7v2m3 16v2m1-8v2m1-26v2m2 22v2m1-11v2m0 3v2m2-11v2m1 7v2m0 4v2m1-17v2m0 0v2m1 18v2m4-4v2m2-11v2m0 3v2m1-14v2m3-12v2m2 15v2m1-3v2m0 1v2m1-25v2m1 19v2m1-25v2m0 10v2m2 3v2m1 11v2m2-14v2m0 0v2m1 0v2m1 12v2m4-37v2m2 8v2m0 11v2m0 5v2m5-35v2m0 18v2m4-9v2m0 12v2m1-33v2m0 14v2m9 1v2m18 15v2m10-11v2m5-6v2m0 15v2m5-45v2m0 18v2m2-5v2m0 14v2m2-14v2m10-8v2m3 4v2m2-7v2m3 7v2m2 3v2m4-7v2m2-3v2m4-7v2m12-5v2m5 14v2m1-24v2m3-2v2m4 3v2m10 8v2m5-9v2m27-8v2m1 2v2m1-14v2" stroke="#f20d00" stroke-width="2" opacity="0.8"/><path d="M750 948v2m20-16v2m4-1v2m21 12v2m2-8v2m2-17v2m6 23v2m2-4v2m5-9v2m1 4v2m3-26v2m0 26v2m2-13v2m4-4v2m0 13v2m0 0v2m3-15v2m2-17v2m1 3v2m3 6v2m4-6v2m1 9v2m1-11v2m0 13v2m2-18v2m1-8v2m2 6v2m0 3v2m3-9v2m1-14v2m3 3v2m0 3v2m2-12v2m1 6v2m0 21v2m1-20v2m2-8v2m0 1v2m3 6v2m4-5v2m2 4v2m5-2v2m1-13v2m2-13v2m1 8v2m0 0v2m4 6v2m7-22v2m0 2v2m0 23v2m6-13v2m11-7v2m0 1v2m1-14v2m2 5v2m4-7v2m0 3v2m1-19v2m3 18v2m6-9v2m7 10v2m4-19v2m4-1v2m0 11v2m12-11v2m4-8v2m2 10v2m76-13v2" stroke="#ff0d00" stroke-width="2" opacity="0.8"/><path d="M797 942v2m3-13v2m1 7v2m0 3v2m2 6v2m5 0v2m2-29v2m4 16v2m2-9v2m1 7v2m4-7v2m0 10v2m2-23v2m3-19v2m2 26v2m3-21v2m2 11v2m1-3v2m0 15v2m1-13v2m2 1v2m1-11v2m1 9v2m2-4v2m7-16v2m0 8v2m2-13v2m2 8v2m3 8v2m2-29v2m1 16v2m0 0v2m1-12v2m0-2v2m2 15v2m2-32v2m1-3v2m0 10v2m4 2v2m5-3v2m0 14v2m4-9v2m8 0v2m5-16v2m7 10v2m2-14v2m7 17v2m1-27v2m0 24v2m3-22v2m5-5v2m0 11v2m2-1v2m2 5v2m3-19v2m11-4v2m8-13v2m5 9v2m0 1v2m5 0v2m9-5v2m28 7v2m37-3v2m5-10v2m41-8v2" stroke="#ff2600" stroke-width="2" opacity="0.8"/><path d="M762 932v2m22-1v2m7 1v2m1 15v2m1-6v2m5-1v2m1-16v2m13 10v2m1 7v2m1-5v2m1-15v2m2 13v2m2-17v2m1-5v2m2-7v2m0 4v2m1 10v2m1-15v2m0 0v2m1-6v2m1-15v2m2 25v2m3-23v2m1 15v2m5-21v2m7-4v2m1 14v2m0 0v2m0-2v2m2 6v2m1-22v2m1 2v2m0 23v2m1-30v2m0 5v2m1 6v2m8-6v2m4-8v2m0-1v2m2-5v2m3-2v2m0 9v2m1-8v2m0 0v2m2-12v2m0 2v2m0 3v2m3 7v2m9-16v2m1 1v2m1 4v2m8-23v2m0 14v2m2-6v2m3-3v2m2 14v2m4 2v2m5-33v2m3 6v2m1 2v2m10 5v2m10-7v2m0 2v2m24-6v2m10-8v2m0 7v2m12 1v2m44-13v2" stroke="#ff4000" stroke-width="2" opacity="0.8"/><path d="M786 934v2m7-5v2m0-1v2m0 15v2m1-16v2m1 9v2m13-24v2m3 6v2m1 24v2m1-38v2m1 7v2m5 4v2m2 8v2m1-16v2m0 11v2m0 12v2m4-8v2m1-11v2m1-10v2m1-7v2m1-4v2m1 9v2m1-2v2m1-6v2m1 1v2m2-4v2m3 5v2m2-15v2m0 3v2m0 6v2m1-9v2m1 0v2m2 5v2m5-3v2m1-2v2m1-16v2m0 12v2m1-3v2m1-15v2m6 5v2m6-11v2m1-5v2m0 14v2m2-19v2m1 10v2m0 0v2m1-3v2m0 0v2m5-8v2m3-7v2m0 9v2m0 17v2m2-33v2m4 1v2m0 6v2m12-11v2m2 11v2m2-17v2m1 1v2m7 16v2m1-12v2m4 0v2m14-4v2m15-13v2m78-4v2" stroke="#ff5900" stroke-width="2" opacity="0.8"/><path d="M750 943v2m2 4v2m18-24v2m13 27v2m5-15v2m8 6v2m3-29v2m13 5v2m5 1v2m0 14v2m1-12v2m1 6v2m0 6v2m2-31v2m0 0v2m2 4v2m7-7v2m1-5v2m1 14v2m2-23v2m0 17v2m4-1v2m1 4v2m1-20v2m0 6v2m1-6v2m2 2v2m2-3v2m2-11v2m2 3v2m5 2v2m4-2v2m1-13v2m1-4v2m0 8v2m4-7v2m1 19v2m4-18v2m2 0v2m0 7v2m2-14v2m0 3v2m1-15v2m2 17v2m2-14v2m1 0v2m0 10v2m3-18v2m6 5v2m0 7v2m1-9v2m0-1v2m4-7v2m3-21v2m7 12v2m3 6v2m3-15v2m2-5v2m0 6v2m11 7v2m1 4v2m5-13v2m18-1v2m16 0v2" stroke="#ff7300" stroke-width="2" opacity="0.8"/><path d="M780 940v2m9-1v2m1 4v2m6-22v2m9 30v2m10-16v2m11-7v2m0 2v2m3-6v2m2 4v2m1-7v2m1-6v2m7-15v2m1-5v2m0 7v2m1-3v2m0 0v2m1-10v2m1 6v2m0 1v2m0-1v2m2-3v2m0 1v2m0 12v2m3-32v2m1 2v2m2-14v2m4 19v2m0 0v2m1-1v2m7-11v2m6 12v2m4-22v2m3 13v2m1-11v2m0-1v2m3 5v2m4-11v2m0 11v2m4-9v2m1-8v2m2-10v2m3 16v2m24-11v2m4 3v2m2-10v2m3 6v2m1 3v2m5-1v2m20-22v2m9 13v2m14-20v2m1 10v2m11 3v2m22-9v2m5 4v2" stroke="#ff8c00" stroke-width="2" opacity="0.8"/><path d="M737 928v2m28 12v2m10-20v2m17 4v2m2 3v2m1-18v2m6 12v2m1 0v2m0 7v2m1-10v2m5 11v2m2-17v2m5-10v2m2 24v2m2-19v2m1-3v2m4 2v2m5-11v2m1-16v2m1 12v2m1-10v2m1 24v2m1-6v2m1-15v2m3-4v2m0 3v2m3-5v2m1-7v2m2 18v2m1-29v2m0 10v2m0-1v2m0 6v2m4-13v2m0 3v2m3-3v2m4-6v2m1 17v2m1-14v2m1-6v2m2-4v2m2-7v2m0 1v2m1 9v2m3-15v2m2 1v2m1-5v2m4-2v2m1 1v2m2 10v2m1 3v2m4-27v2m4 20v2m1-29v2m1 34v2m3-20v2m3-14v2m2 1v2m4-2v2m4 14v2m4-13v2m3 1v2m0-2v2m3-17v2m33 1v2m2 9v2m4-3v2m8-1v2m0 2v2m3-3v2m4-23v2m43 0v2m1 8v2m43-3v2" stroke="#ffa600" stroke-width="2" opacity="0.8"/><path d="M734 934v2m35-7v2m26-3v2m2 7v2m0 6v2m1-26v2m2 16v2m0 10v2m3-14v2m3-19v2m0 2v2m7 4v2m2-4v2m1 13v2m4-10v2m1-2v2m2-20v2m1 22v2m1-5v2m5-4v2m2-5v2m2 9v2m1-29v2m0 1v2m2 6v2m1-10v2m0 18v2m1-17v2m2 5v2m0-1v2m1-1v2m1-11v2m0 7v2m4 7v2m2-27v2m10 2v2m1-1v2m4 11v2m1-10v2m1-8v2m0 7v2m4 7v2m1-14v2m2-12v2m1 9v2m0-2v2m1-3v2m2 1v2m0 0v2m2-16v2m1 21v2m1-17v2m1-5v2m0-1v2m1-13v2m3 5v2m1-1v2m4-11v2m4 15v2m12-20v2m8 8v2m2-10v2m1 12v2m0 9v2m1-36v2m0 16v2m0 4v2m8-10v2m5 4v2m24-13v2m22 8v2" stroke="#ffbf00" stroke-width="2" opacity="0.8"/><path d="M767 934v2m10-2v2m4-15v2m17 10v2m8 3v2m5-10v2m3 1v2m1-2v2m1-12v2m4-1v2m3 2v2m0 20v2m3-37v2m3 14v2m7-10v2m2 10v2m3-10v2m0 12v2m1-27v2m3-3v2m2-1v2m0 9v2m3-3v2m2 11v2m7-13v2m3-3v2m2-16v2m1 5v2m0 3v2m1-11v2m3 24v2m8-22v2m1-1v2m1-5v2m0 4v2m0 0v2m4 6v2m0 0v2m6 0v2m8-23v2m4 17v2m4-9v2m2-13v2m2 3v2m7-6v2m1-22v2m3 18v2m1-5v2m5 4v2m2 5v2m7 9v2m1-29v2m2 0v2m3 6v2m6-9v2m7-2v2m9-3v2m21 0v2m7-14v2m4 6v2m21 9v2m19-10v2m30-1v2" stroke="#ffd900" stroke-width="2" opacity="0.8"/><path d="M771 919v2m4 2v2m18-11v2m4 13v2m6-7v2m5-4v2m8 8v2m2-17v2m4 8v2m2 3v2m3-13v2m0 4v2m0 0v2m3-24v2m0 14v2m1-4v2m0 9v2m1 15v2m1-28v2m2 5v2m1-15v2m3 6v2m6 2v2m4-14v2m2-9v2m0 8v2m14 5v2m5-11v2m4-3v2m0 1v2m0 8v2m1-2v2m1 2v2m3-1v2m4-4v2m10-23v2m1 13v2m1-3v2m3-5v2m3-4v2m5 6v2m4-5v2m5-22v2m0 11v2m1 7v2m7-6v2m7-3v2m2-1v2m18-8v2m1-18v2m2 25v2m6-13v2m7-17v2" stroke="#fff200" stroke-width="2" opacity="0.8"/><path d="M776 932v2m5-6v2m8-7v2m11-8v2m0 5v2m4 0v2m1-36v2m4 20v2m1-2v2m1 5v2m1-10v2m0 22v2m2 1v2m1-39v2m5 16v2m1 6v2m5 0v2m1-9v2m2 10v2m3 2v2m2-8v2m1-22v2m1-12v2m2 3v2m0 9v2m8 11v2m1-4v2m1-5v2m0 4v2m2-9v2m1-14v2m1-1v2m3-9v2m0 19v2m4-13v2m3 10v2m1 5v2m2-29v2m1 12v2m1-12v2m0 9v2m2-5v2m6 7v2m1-17v2m0 3v2m1 1v2m2-10v2m1 8v2m3 3v2m3-7v2m2-6v2m2-8v2m2-12v2m7 2v2m2 3v2m3-13v2m12 12v2m1-4v2m8-1v2m2 4v2m1-8v2m3-6v2m18 1v2m1-12v2m11 8v2m1 1v2m2-13v2m95-2v2m17 2v2" stroke="#f2f20d" stroke-width="2" opacity="0.8"/><path d="M786 913v2m3 5v2m16-1v2m5-1v2m2-3v2m4-3v2m1 3v2m0 0v2m1-21v2m0 20v2m3-11v2m3-3v2m1-15v2m0 17v2m1-15v2m2 2v2m0 4v2m6-9v2m1 6v2m1-2v2m2-25v2m0 15v2m1-1v2m0 0v2m0 5v2m2-17v2m0 2v2m4 4v2m0 6v2m1-31v2m1 13v2m2 6v2m0 2v2m1-18v2m3 21v2m1-18v2m1-4v2m1-19v2m0 13v2m7-2v2m2-21v2m2 23v2m5-12v2m1-10v2m1 18v2m6-13v2m1-7v2m0 22v2m15-17v2m4 10v2m4-24v2m3 19v2m5-26v2m2 11v2m8 1v2m7-14v2m16 1v2m2 7v2m6 2v2m4-9v2m15 5v2m2-4v2m23-10v2m81 4v2" stroke="#d9d926" stroke-width="2" opacity="0.8"/><path d="M744 925v2m30-15v2m0 11v2m9-21v2m0 16v2m11 3v2m9-13v2m7 13v2m1-2v2m3-30v2m1 23v2m1-15v2m2-21v2m3 18v2m0-2v2m2 1v2m6-11v2m4 1v2m4-5v2m1 0v2m0 11v2m4 11v2m2-7v2m3-14v2m1-17v2m3 11v2m0-1v2m0 5v2m2-32v2m1 21v2m1-11v2m6 1v2m1-32v2m0 30v2m1-5v2m3-6v2m3 8v2m1-9v2m3 5v2m6 0v2m7-12v2m0 1v2m4-11v2m6 4v2m9-3v2m3 6v2m2-7v2m1-4v2m1-2v2m9-2v2m3 1v2m1-8v2m0 5v2m4-30v2m0 27v2m2-16v2m1 18v2m10-10v2m3-5v2m17 12v2m6-21v2m2 6v2m20-5v2m16-17v2m15 5v2m61-1v2" stroke="#bfbf40" stroke-width="2" opacity="0.8"/><path d="M770 924v2m28-7v2m6 7v2m1-11v2m1-2v2m3-7v2m6-23v2m1 21v2m2 3v2m1-21v2m5 15v2m4-9v2m0 8v2m4-17v2m1 9v2m5-16v2m0 7v2m3 14v2m1-39v2m3 23v2m2-24v2m0 23v2m6-2v2m0 3v2m2-4v2m2-20v2m0 5v2m1 5v2m4 5v2m3-7v2m5-2v2m8-5v2m2-3v2m3-11v2m1 2v2m2-8v2m2-5v2m1 9v2m2-8v2m0 22v2m15-19v2m2-14v2m1 11v2m2-4v2m2-1v2m21-5v2m1-13v2m13-3v2m18-1v2m4-6v2m63 7v2" stroke="#a6a659" stroke-width="2" opacity="0.8"/><path d="M766 912v2m21 10v2m2-26v2m9 24v2m4-1v2m5-18v2m7-2v2m3 3v2m1-8v2m0 4v2m6 17v2m2-28v2m1-12v2m1 9v2m2 10v2m1-2v2m0 7v2m1-10v2m2-24v2m0 19v2m1-6v2m1-11v2m0 5v2m8-7v2m2-7v2m0 0v2m0 8v2m0-1v2m1-3v2m0 0v2m1-10v2m0 0v2m2 1v2m2-8v2m5-3v2m1-15v2m3 3v2m2 3v2m1-4v2m0-1v2m0 0v2m3 2v2m1-6v2m0 2v2m1-11v2m0 31v2m1-37v2m3 4v2m2 11v2m5-27v2m0 12v2m3-6v2m2-12v2m1 3v2m3 9v2m0 5v2m3-15v2m5 0v2m1 15v2m1-24v2m3 0v2m3 3v2m4-9v2m2-9v2m8 14v2m6-2v2m3 4v2m3-12v2m24-7v2m18 3v2m1-10v2m10-3v2m11 3v2m15 1v2m36-9v2" stroke="#8c8c73" stroke-width="2" opacity="0.8"/><path d="M782 920v2m5-26v2m4 19v2m2 3v2m6-11v2m4-14v2m1 20v2m9 8v2m4-29v2m1-15v2m6 20v2m3-6v2m1 2v2m0 1v2m2 1v2m4-26v2m0 3v2m1 17v2m1-19v2m4 2v2m2-14v2m4 1v2m0 2v2m1 4v2m0 4v2m6-2v2m2-11v2m3 1v2m0-1v2m2-14v2m0 12v2m3-3v2m0 0v2m13-18v2m0 5v2m0 6v2m0 1v2m2-10v2m2-9v2m3-6v2m4 14v2m8-21v2m1 20v2m1 1v2m12-12v2m6-12v2m5 9v2m11-8v2m1 9v2m2 2v2m7-22v2m4 9v2m2 9v2m46-18v2m6 3v2" stroke="#73738c" stroke-width="2" opacity="0.8"/><path d="M785 918v2m7-11v2m2-10v2m11-5v2m1 17v2m4-17v2m0 1v2m3 4v2m1 10v2m4-16v2m3-3v2m2-3v2m0 14v2m2-16v2m3-12v2m1 8v2m8-16v2m0 25v2m3-21v2m3-2v2m1-11v2m7 27v2m2-6v2m3-28v2m4 3v2m1 20v2m3-9v2m4-5v2m0 3v2m1-21v2m0 6v2m1-5v2m1 13v2m1-12v2m0 13v2m1-13v2m1-10v2m0 8v2m1-12v2m1 7v2m0 4v2m6-23v2m7 11v2m3-17v2m2 9v2m5-21v2m1 8v2m11 14v2m1-7v2m2-8v2m3-1v2m11-8v2m4 0v2m1-2v2m0 3v2m7-4v2m25 5v2m23 10v2m44-19v2m14-10v2m29 4v2" stroke="#5959a6" stroke-width="2" opacity="0.8"/><path d="M750 906v2m25 30v2m15-38v2m2 6v2m1-5v2m4 13v2m3-18v2m3-7v2m1 0v2m3-7v2m6-5v2m9 11v2m0-2v2m0 11v2m2-17v2m3-2v2m3 2v2m3-18v2m6 20v2m2-13v2m0 7v2m2-5v2m2-5v2m2-18v2m0 9v2m6 5v2m6 0v2m1-10v2m4 0v2m3-17v2m1 9v2m2-20v2m0 14v2m5-14v2m5 15v2m2 10v2m5-17v2m5 1v2m2-7v2m2 2v2m1-14v2m3 2v2m8-1v2m2 1v2m9-5v2m0 1v2m7-10v2m20 14v2m20-16v2m4 5v2m1-4v2m36-5v2m24 1v2" stroke="#4040bf" stroke-width="2" opacity="0.8"/><path d="M747 914v2m3 0v2m19-6v2m3 0v2m26-23v2m3 14v2m0 6v2m3-14v2m0 6v2m2 2v2m2-10v2m3-5v2m5 16v2m23-26v2m1-2v2m0 3v2m2-1v2m6-6v2m1 5v2m1-20v2m1 13v2m4-6v2m1 0v2m2 10v2m3-24v2m1-2v2m1-5v2m5 24v2m3-16v2m1-6v2m2 5v2m0 2v2m2-11v2m6 1v2m1-7v2m10-5v2m0 6v2m1 14v2m5-14v2m2-3v2m6 0v2m3-18v2m0 10v2m5-6v2m2-4v2m4 5v2m3-12v2m9-6v2m2 12v2m2 5v2m5-34v2m6 9v2m97 2v2m12 6v2" stroke="#2626d9" stroke-width="2" opacity="0.8"/><path d="M757 903v2m20 2v2m2-15v2m4 16v2m15-6v2m1 4v2m1-2v2m5-21v2m2 25v2m6-20v2m0 7v2m1-11v2m1 3v2m3-5v2m1-3v2m5 1v2m1 9v2m2-13v2m4 4v2m3-19v2m1 5v2m1-20v2m4 3v2m1 12v2m2-19v2m0 0v2m2 16v2m1-7v2m0 8v2m1-3v2m2-15v2m2 19v2m4-29v2m0-1v2m1 21v2m1-16v2m2-6v2m1 18v2m1-11v2m3 1v2m3-20v2m0 5v2m3-13v2m1 7v2m2 5v2m2-6v2m0-1v2m1 7v2m2-6v2m1-9v2m2 2v2m3 9v2m4-10v2m4 2v2m4-15v2m4 9v2m2-20v2m12 12v2m18-2v2m7-7v2m0 2v2m1-13v2m48 0v2m73-12v2" stroke="#0d0df2" stroke-width="2" opacity="0.8"/>
<path d="M713.1 675.7 V1057.1 H1096.4" fill="none" stroke="#888" stroke-width="1.4"/><path d="M789.8 1057.1 v-4 M713.1 980.8 h4" stroke="#888" stroke-width="1.2"/><path d="M866.4 1057.1 v-4 M713.1 904.5 h4" stroke="#888" stroke-width="1.2"/><path d="M943.1 1057.1 v-4 M713.1 828.3 h4" stroke="#888" stroke-width="1.2"/><path d="M1019.7 1057.1 v-4 M713.1 752.0 h4" stroke="#888" stroke-width="1.2"/><path d="M1096.4 1057.1 v-4 M713.1 675.7 h4" stroke="#888" stroke-width="1.2"/><text x="713.1" y="1086.1" font-size="23.5" text-anchor="middle" font-family='"Liberation Sans", sans-serif' fill="#111">0</text><text x="703.7" y="1065.4" font-size="23.5" text-anchor="end" font-family='"Liberation Sans", sans-serif' fill="#111">0</text><text x="789.8" y="1086.1" font-size="23.5" text-anchor="middle" font-family='"Liberation Sans", sans-serif' fill="#111">1</text><text x="703.7" y="989.1" font-size="23.5" text-anchor="end" font-family='"Liberation Sans", sans-serif' fill="#111">1</text><text x="866.4" y="1086.1" font-size="23.5" text-anchor="middle" font-family='"Liberation Sans", sans-serif' fill="#111">2</text><text x="703.7" y="912.8" font-size="23.5" text-anchor="end" font-family='"Liberation Sans", sans-serif' fill="#111">2</text><text x="943.1" y="1086.1" font-size="23.5" text-anchor="middle" font-family='"Liberation Sans", sans-serif' fill="#111">3</text><text x="703.7" y="836.6" font-size="23.5" text-anchor="end" font-family='"Liberation Sans", sans-serif' fill="#111">3</text><text x="1019.7" y="1086.1" font-size="23.5" text-anchor="middle" font-family='"Liberation Sans", sans-serif' fill="#111">4</text><text x="703.7" y="760.3" font-size="23.5" text-anchor="end" font-family='"Liberation Sans", sans-serif' fill="#111">4</text><text x="1096.4" y="1086.1" font-size="23.5" text-anchor="middle" font-family='"Liberation Sans", sans-serif' fill="#111">5</text><text x="703.7" y="684.0" font-size="23.5" text-anchor="end" font-family='"Liberation Sans", sans-serif' fill="#111">5</text><path d="M713.1 1057.1 L1096.4 675.7" stroke="#222" stroke-width="1.1"/><text x="904.8" y="1114.7" font-size="23" text-anchor="middle" font-family='"Liberation Sans", sans-serif' fill="#111">HS<tspan font-size="18" dx="1.2" dy="12">ADS</tspan><tspan dx="1.7" dy="-12"> [m]</tspan></text><text transform="translate(671.8,866.4) rotate(-90)" x="0" y="0" font-size="23" text-anchor="middle" font-family='"Liberation Sans", sans-serif' fill="#111">HS<tspan font-size="18" dx="1.2" dy="12">sim</tspan><tspan dx="1.7" dy="-12"> [m]</tspan></text><rect x="1117.7" y="676.00" width="29.3" height="6.34" fill="#0808f7"/><rect x="1117.7" y="681.94" width="29.3" height="6.34" fill="#1818e7"/><rect x="1117.7" y="687.88" width="29.3" height="6.34" fill="#2828d7"/><rect x="1117.7" y="693.81" width="29.3" height="6.34" fill="#3838c7"/><rect x="1117.7" y="699.75" width="29.3" height="6.34" fill="#4848b7"/><rect x="1117.7" y="705.69" width="29.3" height="6.34" fill="#5858a7"/><rect x="1117.7" y="711.62" width="29.3" height="6.34" fill="#686897"/><rect x="1117.7" y="717.56" width="29.3" height="6.34" fill="#787887"/><rect x="1117.7" y="723.50" width="29.3" height="6.34" fill="#878778"/><rect x="1117.7" y="729.44" width="29.3" height="6.34" fill="#979768"/><rect x="1117.7" y="735.38" width="29.3" height="6.34" fill="#a7a758"/><rect x="1117.7" y="741.31" width="29.3" height="6.34" fill="#b7b748"/><rect x="1117.7" y="747.25" width="29.3" height="6.34" fill="#c7c738"/><rect x="1117.7" y="753.19" width="29.3" height="6.34" fill="#d7d728"/><rect x="1117.7" y="759.12" width="29.3" height="6.34" fill="#e7e718"/><rect x="1117.7" y="765.06" width="29.3" height="6.34" fill="#f7f708"/><rect x="1117.7" y="771.00" width="29.3" height="6.34" fill="#fff700"/><rect x="1117.7" y="776.94" width="29.3" height="6.34" fill="#ffe700"/><rect x="1117.7" y="782.88" width="29.3" height="6.34" fill="#ffd700"/><rect x="1117.7" y="788.81" width="29.3" height="6.34" fill="#ffc700"/><rect x="1117.7" y="794.75" width="29.3" height="6.34" fill="#ffb700"/><rect x="1117.7" y="800.69" width="29.3" height="6.34" fill="#ffa700"/><rect x="1117.7" y="806.62" width="29.3" height="6.34" fill="#ff9700"/><rect x="1117.7" y="812.56" width="29.3" height="6.34" fill="#ff8700"/><rect x="1117.7" y="818.50" width="29.3" height="6.34" fill="#ff7800"/><rect x="1117.7" y="824.44" width="29.3" height="6.34" fill="#ff6800"/><rect x="1117.7" y="830.38" width="29.3" height="6.34" fill="#ff5800"/><rect x="1117.7" y="836.31" width="29.3" height="6.34" fill="#ff4800"/><rect x="1117.7" y="842.25" width="29.3" height="6.34" fill="#ff3800"/><rect x="1117.7" y="848.19" width="29.3" height="6.34" fill="#ff2800"/><rect x="1117.7" y="854.12" width="29.3" height="6.34" fill="#ff1800"/><rect x="1117.7" y="860.06" width="29.3" height="6.34" fill="#ff0800"/><rect x="1117.7" y="866.00" width="29.3" height="6.34" fill="#f70800"/><rect x="1117.7" y="871.94" width="29.3" height="6.34" fill="#e71800"/><rect x="1117.7" y="877.88" width="29.3" height="6.34" fill="#d72800"/><rect x="1117.7" y="883.81" width="29.3" height="6.34" fill="#c73800"/><rect x="1117.7" y="889.75" width="29.3" height="6.34" fill="#b74800"/><rect x="1117.7" y="895.69" width="29.3" height="6.34" fill="#a75800"/><rect x="1117.7" y="901.62" width="29.3" height="6.34" fill="#976800"/><rect x="1117.7" y="907.56" width="29.3" height="6.34" fill="#877800"/><rect x="1117.7" y="913.50" width="29.3" height="6.34" fill="#788700"/><rect x="1117.7" y="919.44" width="29.3" height="6.34" fill="#689700"/><rect x="1117.7" y="925.38" width="29.3" height="6.34" fill="#58a700"/><rect x="1117.7" y="931.31" width="29.3" height="6.34" fill="#48b700"/><rect x="1117.7" y="937.25" width="29.3" height="6.34" fill="#38c700"/><rect x="1117.7" y="943.19" width="29.3" height="6.34" fill="#28d700"/><rect x="1117.7" y="949.12" width="29.3" height="6.34" fill="#18e700"/><rect x="1117.7" y="955.06" width="29.3" height="6.34" fill="#08f700"/><rect x="1117.7" y="961.00" width="29.3" height="6.34" fill="#00f708"/><rect x="1117.7" y="966.94" width="29.3" height="6.34" fill="#00e718"/><rect x="1117.7" y="972.88" width="29.3" height="6.34" fill="#00d728"/><rect x="1117.7" y="978.81" width="29.3" height="6.34" fill="#00c738"/><rect x="1117.7" y="984.75" width="29.3" height="6.34" fill="#00b748"/><rect x="1117.7" y="990.69" width="29.3" height="6.34" fill="#00a758"/><rect x="1117.7" y="996.62" width="29.3" height="6.34" fill="#009768"/><rect x="1117.7" y="1002.56" width="29.3" height="6.34" fill="#008778"/><rect x="1117.7" y="1008.50" width="29.3" height="6.34" fill="#007887"/><rect x="1117.7" y="1014.44" width="29.3" height="6.34" fill="#006897"/><rect x="1117.7" y="1020.38" width="29.3" height="6.34" fill="#0058a7"/><rect x="1117.7" y="1026.31" width="29.3" height="6.34" fill="#0048b7"/><rect x="1117.7" y="1032.25" width="29.3" height="6.34" fill="#0038c7"/><rect x="1117.7" y="1038.19" width="29.3" height="6.34" fill="#0028d7"/><rect x="1117.7" y="1044.12" width="29.3" height="6.34" fill="#0018e7"/><rect x="1117.7" y="1050.06" width="29.3" height="6.34" fill="#0008f7"/><rect x="1117.7" y="676.0" width="29.3" height="380.0" fill="none" stroke="#444" stroke-width="1"/><text x="1154.3" y="683.5" font-size="21.2" font-family='"Liberation Sans", sans-serif' fill="#111">N</text><path d="M1147.0 771.0 h-3" stroke="#333" stroke-width="1"/><text x="1154.3" y="778.5" font-size="21.2" font-family='"Liberation Sans", sans-serif' fill="#111">W</text><path d="M1147.0 866.0 h-3" stroke="#333" stroke-width="1"/><text x="1154.3" y="873.5" font-size="21.2" font-family='"Liberation Sans", sans-serif' fill="#111">S</text><path d="M1147.0 961.0 h-3" stroke="#333" stroke-width="1"/><text x="1154.3" y="968.5" font-size="21.2" font-family='"Liberation Sans", sans-serif' fill="#111">E</text><text x="1154.3" y="1063.5" font-size="21.2" font-family='"Liberation Sans", sans-serif' fill="#111">N</text><text transform="translate(1197.4,866.0) rotate(-90)" x="0" y="0" font-size="21" text-anchor="middle" font-family='"Liberation Sans", sans-serif' fill="#111">Aspect</text>
<path d="M773 1585v3m16-18v3m4-4v3m2-12v3m2-12v3m7-4v3m1-5v3m3 5v3m9-19v3m1-28v3m1 12v3m6-4v3m5-9v3m1-4v3m0-1v3m1-10v3m1-1v3m3-2v3m0 1v3m1-13v3m3-7v3m0 9v3m1-14v3m0-1v3m1 5v3m8-33v3m1 1v3m2 3v3m2 6v3m1-20v3m1-9v3m3 4v3m5-3v3m1-26v3m0 5v3m2-1v3m1-16v3m0 3v3m4 6v3m2-19v3m3 5v3m0 11v3m2-20v3m5-15v3m2 4v3m2-14v3m7-13v3m1-1v3m4-20v3m3 14v3m22-35v3m4-10v3m1 34v3m11-45v3m5 1v3m12-37v3m16 21v3m7-29v3m4-27v3m37-12v3" stroke="#000df2" stroke-width="3" opacity="0.8"/><path d="M773 1581v3m0 2v3m8-15v3m2-9v3m12-1v3m0-1v3m2-4v3m2-1v3m9-39v3m2-2v3m0 15v3m1-16v3m4-9v3m2-2v3m2-17v3m5 2v3m2 10v3m9-6v3m8-32v3m2 5v3m2-14v3m3-26v3m0 19v3m1-11v3m3-8v3m3-9v3m3 8v3m2-3v3m1-18v3m2-8v3m1 21v3m2-14v3m1-9v3m2-15v3m4-3v3m2-16v3m24-23v3m0 9v3m1-4v3m14-21v3m1-14v3m0 6v3m7-20v3m7 19v3m1-25v3m13-10v3m7-2v3m30-66v3m38-34v3m7-6v3m31-5v3" stroke="#0026d9" stroke-width="3" opacity="0.8"/><path d="M729 1628v3m4-7v3m52-56v3m8-4v3m9-26v3m3-5v3m14 1v3m1-15v3m3-17v3m1 6v3m1 18v3m1-35v3m8 0v3m5-4v3m1-3v3m1-28v3m1 11v3m0 1v3m1 8v3m1-26v3m2 8v3m1-20v3m0 1v3m2-5v3m7-6v3m1-15v3m0 23v3m1-26v3m4 13v3m4-24v3m4-11v3m0 11v3m2-14v3m6-29v3m2 17v3m3-8v3m2-5v3m0 5v3m0 4v3m1-22v3m11 0v3m0 5v3m3-20v3m9-25v3m8-3v3m2 2v3m15-32v3m1 2v3m12-11v3m0 4v3m2-10v3m5-12v3m26-31v3" stroke="#0040bf" stroke-width="3" opacity="0.8"/><path d="M779 1579v3m4-13v3m9-9v3m4-3v3m6-9v3m1-7v3m4-12v3m2 12v3m3-22v3m1 6v3m1-5v3m0 0v3m5-14v3m3-15v3m2 9v3m1-17v3m2 0v3m2 1v3m1-4v3m1-1v3m1-14v3m1 12v3m2-3v3m6-14v3m2-21v3m1 1v3m2-23v3m4 29v3m8-32v3m1-6v3m0-2v3m9 7v3m1-14v3m0-2v3m2-16v3m1-10v3m3 5v3m3 11v3m3-32v3m6 21v3m15-41v3m1-13v3m4 4v3m3 8v3m2-16v3m7-22v3m2 2v3m5-9v3m2-8v3m3 30v3m1-53v3m5 34v3m1-47v3m12-9v3" stroke="#0059a6" stroke-width="3" opacity="0.8"/><path d="M746 1622v3m8-18v3m0-2v3m5-12v3m1 0v3m24-15v3m7-10v3m3-21v3m12-21v3m1 12v3m1-26v3m3 14v3m3-24v3m3 1v3m1 0v3m7-28v3m18 0v3m4 1v3m1-23v3m2 13v3m3-14v3m0 1v3m3-23v3m5-4v3m2 5v3m1-4v3m1-7v3m1-13v3m5 6v3m1-13v3m5-28v3m1 24v3m1-33v3m2 17v3m7-16v3m5-13v3m0 8v3m0-1v3m0 6v3m1-22v3m14-3v3m15-19v3m0 9v3m28-40v3m7-3v3m12-40v3m4-12v3m10-5v3m13-22v3" stroke="#00738c" stroke-width="3" opacity="0.8"/><path d="M759 1605v3m18-9v3m14-28v3m4-13v3m3-13v3m2 6v3m0 3v3m2-9v3m1-12v3m3-6v3m3-9v3m2-9v3m2-3v3m0 5v3m3-8v3m3-4v3m1 3v3m3-18v3m1 0v3m0 3v3m4-9v3m0 3v3m2-11v3m0 1v3m3-4v3m5-21v3m1 10v3m3-15v3m0 6v3m3-9v3m2-18v3m1 19v3m3-18v3m2 8v3m3-26v3m4 1v3m6-16v3m0 4v3m0 2v3m5-6v3m3-15v3m4-17v3m4 20v3m6-25v3m13-25v3m4 8v3m11-27v3m1-1v3m1 1v3m6-34v3m11 2v3m23-28v3m3-21v3m1 19v3m2-11v3m32-51v3" stroke="#008c73" stroke-width="3" opacity="0.8"/><path d="M777 1575v3m6 3v3m25-26v3m3-22v3m2-9v3m3 5v3m1 1v3m3-9v3m13-15v3m3-3v3m2-22v3m1 20v3m9-18v3m1 9v3m2-29v3m0 9v3m8-18v3m2-9v3m2-3v3m1 6v3m1 13v3m2-24v3m4-7v3m1 3v3m1-31v3m0 12v3m1 2v3m3-16v3m9 13v3m4-17v3m6-38v3m4 14v3m5-11v3m0-2v3m0 3v3m2-13v3m0 13v3m15-53v3m4 15v3m9-30v3m12-2v3" stroke="#00a659" stroke-width="3" opacity="0.8"/><path d="M782 1598v3m1-25v3m0 28v3m3-11v3m15-46v3m5 0v3m2 5v3m5-20v3m7-9v3m3-19v3m1 31v3m2-22v3m4-23v3m3 5v3m2-7v3m5-14v3m0 13v3m2-11v3m1 5v3m1-16v3m3-15v3m5 12v3m2-12v3m2 2v3m2-3v3m2-20v3m9 5v3m2-7v3m3-4v3m15-38v3m2-7v3m13-21v3m0 9v3m0 0v3m8-8v3m59-71v3m19-32v3m8 4v3m59-71v3" stroke="#00bf40" stroke-width="3" opacity="0.8"/><path d="M747 1631v3m20-41v3m16-10v3m6 1v3m5-24v3m12 1v3m1-25v3m1 1v3m1-7v3m5 3v3m2-5v3m2 4v3m1-13v3m1-10v3m8-10v3m2-12v3m3 17v3m5-22v3m0 0v3m3-12v3m6-9v3m7 2v3m14-20v3m3-9v3m2-6v3m3 1v3m1 0v3m3-19v3m8-8v3m1-17v3m1-2v3m0 8v3m22-42v3m9 3v3m12-15v3m2 0v3m7-10v3m7-21v3m16-15v3m102-103v3" stroke="#00d926" stroke-width="3" opacity="0.8"/><path d="M769 1593v3m9-2v3m2-6v3m8-7v3m8-22v3m10-18v3m4 17v3m2-22v3m0-3v3m0 8v3m0-1v3m1-16v3m0 0v3m4-13v3m0 9v3m1-11v3m2 9v3m1-9v3m2-1v3m4-1v3m10-31v3m5-3v3m1-8v3m1 4v3m2-4v3m5-8v3m2-33v3m1 15v3m6 3v3m7-11v3m2-14v3m2-17v3m0 14v3m5-31v3m3 1v3m3 4v3m3-26v3m0 23v3m2 1v3m1-17v3m0 0v3m3-22v3m0 5v3m1-3v3m2-4v3m1 0v3m7-7v3m8-41v3m7 32v3m15-48v3m19-8v3m36-48v3m29-26v3" stroke="#00f20d" stroke-width="3" opacity="0.8"/><path d="M758 1624v3m17-34v3m9-6v3m4-8v3m8-26v3m5 25v3m2-23v3m11 4v3m1-16v3m3-2v3m5-13v3m1-21v3m0 22v3m3-15v3m4-17v3m5-10v3m1 20v3m1-24v3m1 6v3m1-16v3m2-9v3m0 26v3m2-3v3m2-26v3m1-1v3m2 0v3m2-21v3m2-9v3m3 6v3m1 8v3m5-27v3m2 7v3m2-8v3m3-13v3m1 2v3m0 3v3m1 0v3m1-22v3m7-2v3m2-19v3m0 21v3m4-21v3m10-6v3m6-12v3m32-46v3m64-69v3m27-23v3" stroke="#0df200" stroke-width="3" opacity="0.8"/><path d="M741 1636v3m45-46v3m4-7v3m0-1v3m1-23v3m5 11v3m8-10v3m0 3v3m9-31v3m6-8v3m2 12v3m1 1v3m2-19v3m2 3v3m3-19v3m1 2v3m0 0v3m1 7v3m13-34v3m2-10v3m1-3v3m4 4v3m1 5v3m3-19v3m5-6v3m2-16v3m1 1v3m2 4v3m3-3v3m1-22v3m3 12v3m3 4v3m8-21v3m1 7v3m3-36v3m1 8v3m4-9v3m2 1v3m5-10v3m5-7v3m1-1v3m6-22v3m8-3v3m27-23v3m14-5v3m2-28v3m11-23v3m3 23v3m28-48v3m52-51v3" stroke="#26d900" stroke-width="3" opacity="0.8"/><path d="M763 1611v3m27-23v3m6-5v3m7-21v3m1 4v3m4-7v3m1-8v3m4 0v3m1-18v3m0 4v3m1-3v3m4-4v3m1 0v3m1-3v3m2-3v3m1-9v3m2-13v3m0 6v3m2-16v3m0 10v3m1-10v3m2-18v3m0-1v3m1 13v3m1-4v3m2-4v3m3-18v3m2 1v3m10-16v3m3 1v3m1-13v3m1 1v3m4-11v3m2-3v3m9-25v3m3 13v3m5-31v3m47-38v3m16 7v3m5-16v3m6-32v3m3 3v3m16-20v3m7-13v3m22-30v3m1 2v3m30-30v3" stroke="#40bf00" stroke-width="3" opacity="0.8"/><path d="M763 1607v3m10 9v3m8-22v3m3-12v3m2-9v3m6-2v3m1 5v3m10-27v3m1 0v3m1-2v3m5 13v3m2-30v3m1 5v3m3-3v3m2 2v3m3-17v3m4-3v3m2-2v3m1-7v3m1-8v3m2-5v3m5 16v3m2-17v3m1-11v3m8-9v3m4-10v3m1 6v3m3-24v3m0 5v3m2-2v3m1-1v3m6-27v3m3-13v3m3 8v3m2 7v3m0 0v3m1 6v3m4-35v3m3 20v3m2-10v3m3-1v3m26-57v3m9-8v3m6-1v3m1-13v3m8-3v3m0-1v3m10-5v3m13-53v3m27-16v3" stroke="#59a600" stroke-width="3" opacity="0.8"/><path d="M761 1617v3m13-9v3m5-8v3m20-25v3m3-10v3m6-2v3m1-4v3m3-16v3m1 10v3m13-22v3m4-11v3m5 11v3m0-2v3m7-27v3m4 8v3m5-21v3m1 16v3m8-38v3m2 17v3m2-30v3m4-14v3m0 33v3m1-18v3m5-11v3m0-2v3m4-10v3m0 3v3m1-12v3m0 1v3m1-3v3m1-10v3m18-6v3m8-1v3m2-16v3m23-24v3m4-5v3m1-19v3m39-34v3m7-21v3m6 23v3m21-39v3m18-15v3" stroke="#738c00" stroke-width="3" opacity="0.8"/><path d="M771 1611v3m16-9v3m4-24v3m10 0v3m3-8v3m2-9v3m6-1v3m1 3v3m3-10v3m1-17v3m4-13v3m6 11v3m6-28v3m0 10v3m1-18v3m4 5v3m0 12v3m6-30v3m0 5v3m4-8v3m1 2v3m1-7v3m6-12v3m1 3v3m5-14v3m3-3v3m2-16v3m5 8v3m3-23v3m6 6v3m12-15v3m3 8v3m13-23v3m7-6v3m1-1v3m6-28v3m4-1v3m3-3v3m0 2v3m10-24v3m5-6v3m27-49v3m12-8v3m0 10v3m1 2v3m22-32v3" stroke="#8c7300" stroke-width="3" opacity="0.8"/><path d="M739 1649v3m47-56v3m7 1v3m3 1v3m1-9v3m3-17v3m0 11v3m12-16v3m1-9v3m1-2v3m3-8v3m1-18v3m3 16v3m2-5v3m2-23v3m1-2v3m2 6v3m13-19v3m1-25v3m0 10v3m3 13v3m5-10v3m2-16v3m3-1v3m4-6v3m2-9v3m9-42v3m0 37v3m10-25v3m9-10v3m6-11v3m2 10v3m4-19v3m6 6v3m0 1v3m9-9v3m10-40v3m7 0v3m2 15v3m2-30v3m7 10v3m25-56v3m11 12v3m15-21v3" stroke="#a65900" stroke-width="3" opacity="0.8"/><path d="M770 1629v3m10-27v3m2 3v3m12-14v3m3-6v3m2-5v3m0 6v3m3-20v3m1-14v3m0 21v3m2-9v3m2-28v3m6 4v3m7 2v3m1-11v3m5-2v3m4-22v3m7-8v3m0 0v3m3-8v3m1 6v3m1-9v3m1-3v3m10-10v3m2-1v3m9-23v3m2-5v3m1-8v3m0 21v3m4-19v3m3-11v3m3-7v3m6-14v3m1-1v3m2-13v3m2 7v3m3 1v3m1-19v3m5 0v3m2 16v3m3-18v3m6-3v3m12-26v3m1-34v3m9 26v3m4-19v3m31-31v3m13-18v3m16-17v3m48-29v3" stroke="#bf4000" stroke-width="3" opacity="0.8"/><path d="M772 1607v3m6 5v3m7-24v3m12-5v3m3-2v3m2-10v3m9-10v3m6-20v3m4 13v3m2-26v3m0 28v3m3-18v3m3-9v3m1 1v3m0 1v3m6-22v3m0 8v3m4-14v3m1 7v3m4-35v3m3 7v3m1 3v3m2-12v3m2-8v3m0 5v3m5-11v3m3-5v3m2-13v3m2 15v3m3-10v3m1-30v3m1 9v3m11 5v3m10 1v3m4-39v3m9-13v3m2 9v3m3-16v3m18 12v3m2-21v3m14-30v3m25 6v3m16-62v3m12 17v3" stroke="#d92600" stroke-width="3" opacity="0.8"/><path d="M775 1615v3m7-10v3m17-26v3m1 14v3m1-10v3m1-12v3m5-7v3m2 2v3m2-16v3m0 14v3m3-8v3m1-16v3m1-11v3m5 0v3m6-14v3m1 16v3m0 2v3m3-13v3m3-25v3m0 8v3m5-7v3m0-2v3m4-14v3m3-2v3m6-5v3m0-2v3m0 3v3m1-16v3m3 0v3m2-8v3m8-1v3m1-7v3m5-16v3m1-7v3m7 0v3m0 5v3m3-26v3m0 6v3m5-23v3m0 14v3m4-17v3m2 6v3m7-4v3m5-9v3m6-19v3m7-1v3m11-37v3m4 17v3m3-8v3m4 0v3m2-28v3m4 10v3m98-110v3" stroke="#f20d00" stroke-width="3" opacity="0.8"/><path d="M781 1617v3m16-37v3m7 11v3m1-18v3m1-2v3m2-9v3m2-11v3m10 1v3m1-13v3m11-8v3m0 11v3m5-7v3m2-21v3m5-9v3m1 8v3m1-17v3m2-7v3m6-3v3m1 0v3m6-22v3m2 10v3m1-16v3m2 7v3m0 2v3m5-32v3m1 17v3m4 8v3m5-22v3m1-6v3m0 11v3m4-30v3m0 4v3m0-3v3m4-4v3m5-16v3m0 17v3m7-21v3m11-2v3m9-14v3m8-19v3m1-13v3m10 2v3m16-42v3m2 14v3m15-29v3" stroke="#ff0d00" stroke-width="3" opacity="0.8"/><path d="M743 1636v3m38-37v3m3-5v3m6 4v3m2-4v3m2-21v3m5-1v3m9 5v3m1-5v3m1-19v3m3-4v3m3-13v3m2-7v3m0 4v3m3-9v3m1-4v3m3-5v3m1-13v3m2 6v3m1-1v3m6-14v3m0 13v3m5-32v3m2 7v3m3 0v3m5-8v3m1-2v3m1-33v3m1 24v3m1-21v3m0 2v3m2-8v3m1 5v3m1-6v3m1 3v3m4-13v3m1-11v3m0 23v3m4-31v3m0 1v3m1-3v3m0 1v3m10-24v3m5 2v3m3-12v3m0-2v3m0-2v3m1-7v3m6 8v3m8-1v3m4-38v3m0-3v3m9-15v3m0 19v3m2-15v3m1 11v3m7-32v3m9 11v3m1-11v3m76-86v3" stroke="#ff2600" stroke-width="3" opacity="0.8"/><path d="M732 1653v3m43-41v3m2-14v3m3 6v3m15-15v3m2 0v3m2-24v3m2-4v3m3 23v3m1-38v3m3 5v3m2-3v3m2-11v3m0-1v3m4-6v3m5-2v3m1 2v3m1-17v3m1 2v3m0 1v3m3-9v3m1-5v3m6-8v3m4-19v3m2 12v3m0 0v3m0 4v3m2-12v3m4-14v3m1 0v3m2-1v3m0-1v3m5-24v3m1 0v3m1-9v3m1 4v3m1-5v3m4-1v3m1-10v3m3-15v3m5 0v3m4 5v3m2-7v3m0 3v3m3-24v3m4 0v3m1 8v3m2-17v3m6-19v3m2 4v3m12-18v3m11-10v3m3-14v3m6-11v3m0-2v3m1-7v3m3 18v3m14-25v3m1-10v3m23 2v3m101-102v3" stroke="#ff4000" stroke-width="3" opacity="0.8"/><path d="M748 1637v3m45-39v3m7-21v3m2 15v3m4-24v3m1-2v3m3-3v3m1-15v3m0 28v3m2-26v3m2-9v3m5-1v3m3-9v3m0 6v3m1-20v3m0 5v3m1-1v3m7-21v3m0 1v3m2 3v3m2-6v3m4-17v3m2 1v3m0-3v3m1 3v3m3-23v3m3 0v3m0 2v3m1-6v3m1-8v3m0 1v3m5 11v3m1-21v3m2 1v3m3-17v3m1-1v3m1 1v3m0 13v3m3-25v3m1-13v3m1-7v3m7-4v3m4-12v3m3 12v3m4-14v3m10-4v3m5 6v3m10-45v3m2 11v3m3-11v3m11-7v3m2-12v3m3 7v3m50-64v3" stroke="#ff5900" stroke-width="3" opacity="0.8"/><path d="M758 1612v3m5 19v3m18-28v3m2-7v3m10-12v3m6-13v3m3 3v3m4-5v3m0-2v3m1-19v3m3-7v3m1-1v3m1 4v3m2-11v3m0 1v3m1-9v3m1 3v3m2-9v3m7-5v3m17-25v3m9-20v3m0 15v3m1-21v3m0 18v3m4-10v3m4-21v3m5 13v3m3-3v3m3-27v3m0 1v3m3 0v3m0-1v3m2-28v3m9-6v3m4-10v3m3-9v3m0 5v3m5-3v3m1-4v3m11-9v3m4-10v3m1 0v3m4-2v3m4-13v3m0 8v3m15-19v3m17-24v3m17-57v3m9 23v3m19-19v3" stroke="#ff7300" stroke-width="3" opacity="0.8"/><path d="M781 1595v3m2-7v3m4 8v3m2-5v3m7-3v3m3-19v3m4 2v3m4-11v3m0 4v3m11-21v3m0 6v3m1-16v3m2-4v3m0 3v3m4-29v3m0 15v3m2-23v3m1 7v3m5-2v3m2-6v3m1-21v3m0 9v3m1-4v3m2 3v3m0 11v3m1-16v3m4-12v3m3 1v3m6-7v3m2-9v3m1-9v3m3 1v3m1-8v3m3-6v3m0-3v3m2-2v3m2-17v3m1-9v3m3 19v3m10-28v3m4-1v3m2 1v3m0 2v3m2-27v3m0 4v3m2-1v3m1-2v3m20-25v3m17-22v3m0 12v3m5-43v3m10-1v3m6-5v3m1 2v3m1 11v3m4-14v3m29-40v3" stroke="#ff8c00" stroke-width="3" opacity="0.8"/><path d="M787 1583v3m0 16v3m24-30v3m3-21v3m3 15v3m0-2v3m2-17v3m0 1v3m3-11v3m1-9v3m1 6v3m3-9v3m2 2v3m1-5v3m4-3v3m6-27v3m0-2v3m0-2v3m6-4v3m10 4v3m6-29v3m2 15v3m14-57v3m4 26v3m7-21v3m9-10v3m8-10v3m1-13v3m7 2v3m6-2v3m1-25v3m0 3v3m23-20v3m13-22v3m2-14v3m1 4v3m3-6v3m26-18v3" stroke="#ffa600" stroke-width="3" opacity="0.8"/><path d="M755 1617v3m12-6v3m1 0v3m27-37v3m0 0v3m4-5v3m1-17v3m4 4v3m2-14v3m1-2v3m3-11v3m0 3v3m1-11v3m6 18v3m1-11v3m1-20v3m6 4v3m1-17v3m0 12v3m3-6v3m1-7v3m8-11v3m5-12v3m1-6v3m4-27v3m1 31v3m2-30v3m2 4v3m4-8v3m4 3v3m6-24v3m5 11v3m1-10v3m1-5v3m4 6v3m5-24v3m0 0v3m6-16v3m3 4v3m2-8v3m14-37v3m2 20v3m20-43v3m11-9v3m1-4v3m6 22v3m4-25v3m76-76v3" stroke="#ffbf00" stroke-width="3" opacity="0.8"/><path d="M779 1610v3m4-29v3m7-11v3m0 15v3m6-18v3m4-3v3m8-6v3m0-2v3m1-16v3m0-3v3m0 4v3m4-15v3m0 0v3m0 6v3m2-7v3m0-2v3m6-15v3m2 2v3m1-10v3m0-3v3m3 1v3m1-10v3m0 1v3m5-19v3m2 3v3m3-2v3m0 1v3m3-16v3m1 12v3m1-18v3m2-8v3m1-7v3m0-2v3m0-1v3m6-8v3m0 7v3m2-29v3m1-2v3m2 3v3m3-7v3m0 4v3m1-21v3m2 20v3m1-7v3m1-17v3m4-9v3m1 14v3m0 0v3m1-8v3m6-14v3m4-31v3m3 23v3m2 0v3m6-24v3m6-20v3m2 2v3m0 1v3m1-2v3m4-18v3m2-7v3m9-1v3m13-19v3m0 17v3m15-28v3m17-22v3m95-108v3" stroke="#ffd900" stroke-width="3" opacity="0.8"/><path d="M777 1596v3m10-1v3m2-25v3m4 3v3m6-31v3m0 17v3m3-7v3m4 8v3m2-29v3m3-11v3m1 5v3m1-2v3m1 3v3m0 0v3m1-6v3m1-2v3m5-22v3m0 1v3m3-2v3m4-10v3m1-3v3m0 6v3m5-1v3m7-34v3m12 3v3m4-26v3m1 16v3m4-7v3m3-4v3m1-22v3m1-14v3m0 0v3m3 22v3m1-18v3m3-6v3m2-2v3m3-10v3m6-8v3m2 9v3m0-2v3m1-20v3m2-2v3m2-10v3m1 16v3m1-28v3m5 4v3m2-13v3m2 4v3m26-26v3m6-11v3m10-22v3m14-15v3m14-1v3m13-44v3m34-4v3" stroke="#fff200" stroke-width="3" opacity="0.8"/><path d="M773 1594v3m1 5v3m15-22v3m9-18v3m3-5v3m3 4v3m5-10v3m1-10v3m2-10v3m3 5v3m1-10v3m3 4v3m1-13v3m1-3v3m1-7v3m6-1v3m1-22v3m0 20v3m4-20v3m2-8v3m1-6v3m2 12v3m2-27v3m1 3v3m5-13v3m1 6v3m5 0v3m0-1v3m8-33v3m0 1v3m6-11v3m2 18v3m2-9v3m6-3v3m7-21v3m14-4v3m10-25v3m10-11v3m15-13v3m3-27v3m0 11v3m38-34v3m45-63v3m10-13v3m6 5v3" stroke="#f2f20d" stroke-width="3" opacity="0.8"/><path d="M758 1609v3m28-25v3m2-12v3m7 6v3m4-21v3m3-11v3m4-2v3m1-3v3m2 9v3m4-15v3m2-21v3m2 8v3m3-9v3m1-26v3m1 28v3m1-16v3m2-4v3m7-10v3m9-1v3m2-10v3m6-10v3m1-16v3m2-7v3m5-1v3m1 4v3m9-34v3m1 26v3m3-7v3m14-21v3m1-7v3m0 5v3m2-32v3m4-13v3m12-13v3m2 20v3m1-23v3m6-14v3m7 6v3m1-18v3m0 4v3m4 0v3m3 4v3m7-41v3m11 14v3m41-53v3m5 18v3m15-45v3m71-72v3" stroke="#d9d926" stroke-width="3" opacity="0.8"/><path d="M774 1604v3m11-21v3m2-13v3m11-25v3m4-1v3m2 7v3m0-3v3m1-11v3m5-9v3m0 0v3m7-20v3m0-3v3m1 9v3m0 10v3m3-31v3m1 18v3m6-18v3m1-13v3m2 11v3m1-8v3m1-12v3m4-8v3m0 0v3m1-19v3m2 4v3m3-2v3m3-8v3m5 3v3m2 3v3m1-30v3m0 7v3m0 16v3m3-7v3m3-21v3m3-12v3m1-20v3m1 28v3m2-28v3m0 11v3m1-7v3m2-6v3m6-23v3m3-9v3m1 22v3m1-4v3m8-16v3m6-21v3m0-2v3m0 0v3m0 5v3m4-15v3m3 2v3m2-31v3m0 15v3m3-4v3m3 6v3m11-23v3m12-22v3m0 1v3m5-1v3m10-27v3m32-29v3m3-6v3m16-24v3m15 5v3" stroke="#bfbf40" stroke-width="3" opacity="0.8"/><path d="M764 1595v3m18-24v3m7-1v3m7-8v3m5-19v3m5-2v3m3-9v3m0 16v3m2-18v3m2-19v3m0 20v3m6-7v3m4-35v3m0 10v3m8-9v3m0 3v3m4-14v3m0-1v3m1-4v3m2 1v3m1-5v3m3-4v3m3-26v3m0-2v3m3 4v3m3-9v3m4-18v3m5 10v3m1-1v3m6-10v3m2-6v3m13-14v3m10-11v3m1-29v3m1 36v3m2-50v3m8 28v3m1-12v3m17-50v3m3 15v3m49-39v3m4-8v3m5-19v3m4-13v3m33-44v3m46-52v3" stroke="#a6a659" stroke-width="3" opacity="0.8"/><path d="M764 1595v3m10-1v3m17-23v3m1-24v3m9 2v3m3-9v3m2 4v3m5-16v3m1-5v3m0 11v3m4-10v3m5-26v3m1 6v3m2-11v3m7-4v3m1 1v3m2-4v3m3-23v3m0 8v3m3-1v3m6-31v3m5-2v3m1 0v3m2-9v3m0-3v3m1 10v3m0 2v3m5-20v3m2-23v3m5 11v3m7-15v3m4-16v3m10 7v3m2-21v3m0 21v3m6-22v3m11-23v3m5 8v3m20-32v3m6-22v3m8 10v3m10-31v3m17-2v3" stroke="#8c8c73" stroke-width="3" opacity="0.8"/><path d="M757 1603v3m29-23v3m1-15v3m5-19v3m16 3v3m5-24v3m0 4v3m9-19v3m2-5v3m3-6v3m2-7v3m1-7v3m1-2v3m2 15v3m1-4v3m1-3v3m4-12v3m3-18v3m4-12v3m1 4v3m1-12v3m0 12v3m4-14v3m2-1v3m2-14v3m12-20v3m2 11v3m3-15v3m1-6v3m1 9v3m3-10v3m7-10v3m3 2v3m1-17v3m3-1v3m5-7v3m4-26v3m8 13v3m3-2v3m2-28v3m0 18v3m3-22v3m4-1v3m1-10v3m1 5v3m16-28v3m20-11v3m1-7v3" stroke="#73738c" stroke-width="3" opacity="0.8"/><path d="M776 1579v3m5-7v3m7-1v3m5-23v3m11 2v3m3-17v3m1-9v3m6-14v3m0 4v3m7-5v3m7-12v3m6-15v3m0 8v3m1-8v3m3-14v3m1-13v3m1 0v3m0 12v3m2-7v3m1 3v3m1-2v3m2-4v3m8-34v3m0 14v3m3-12v3m2-16v3m3-7v3m2 18v3m3-4v3m1-10v3m5-16v3m6-1v3m5-19v3m2 17v3m5-39v3m0 20v3m1-5v3m2-26v3m2-2v3m0 0v3m0 19v3m16-35v3m6-7v3m5-7v3m1-5v3m7-27v3m25-27v3m18-29v3m19 1v3" stroke="#5959a6" stroke-width="3" opacity="0.8"/><path d="M755 1610v3m6-5v3m27-51v3m5 9v3m1-35v3m2 10v3m2-9v3m3 5v3m3-16v3m1-2v3m7-11v3m4-4v3m0 1v3m1-5v3m1 0v3m2 0v3m2-22v3m2 13v3m8-14v3m1-7v3m15-26v3m2 8v3m3-38v3m0 19v3m0 6v3m4-5v3m1-17v3m4 4v3m3-5v3m2-20v3m1 9v3m3-9v3m0 17v3m4-17v3m1-23v3m4-14v3m0 5v3m3-3v3m4-10v3m23-6v3m2-1v3m15-44v3m23-31v3m5 7v3m3-12v3m39-47v3m17-25v3" stroke="#4040bf" stroke-width="3" opacity="0.8"/><path d="M773 1581v3m21-19v3m8-21v3m2 13v3m4-27v3m0 11v3m3-11v3m9-14v3m0 1v3m2-2v3m3-15v3m1 6v3m3-9v3m1-9v3m0 2v3m1 0v3m1-18v3m1 4v3m1-9v3m2 2v3m2-17v3m1 4v3m6-5v3m3-13v3m7-13v3m0 2v3m3-8v3m7-12v3m4 0v3m4-10v3m4-18v3m1 6v3m1-13v3m2 7v3m6 3v3m10-63v3m1 16v3m2 25v3m6-34v3m9 1v3m3 2v3m4-15v3m17-43v3m16 19v3m14-39v3m37-72v3m13-8v3m0 5v3" stroke="#2626d9" stroke-width="3" opacity="0.8"/><path d="M730 1623v3m45-46v3m8-5v3m8-30v3m2 14v3m4-13v3m3 5v3m1-20v3m1 10v3m6-23v3m1-7v3m6 1v3m4 3v3m1-14v3m0-2v3m3-14v3m4 0v3m1 4v3m1-13v3m1-11v3m6-5v3m4-7v3m0 8v3m1-11v3m1-7v3m3 0v3m1-19v3m6 5v3m11-9v3m1-34v3m0 21v3m3-8v3m1-4v3m2-9v3m2-9v3m5-8v3m0 13v3m8-24v3m2-19v3m0 12v3m0 6v3m5-10v3m1 8v3m11-17v3m11-44v3m1 5v3m4 0v3m4-25v3m13-11v3m11-26v3m3 18v3m4-2v3m2-13v3m13-31v3m2 1v3m58-67v3m24-25v3m19-7v3" stroke="#0d0df2" stroke-width="3" opacity="0.8"/><path d="M761 1596v3m12-8v3m3-8v3m17-12v3m7-13v3m1-15v3m1 0v3m4-16v3m3-3v3m3-6v3m10-16v3m2-11v3m8-4v3m9-23v3m3 0v3m0 1v3m2-6v3m3-2v3m7-19v3m9-17v3m0 20v3m2-19v3m0 16v3m6-25v3m1-13v3m0 1v3m2-2v3m2-15v3m3 12v3m4-15v3m15-39v3m0 17v3m0 0v3m23-34v3m2-4v3m6-4v3m3-28v3m42-17v3" stroke="#000df2" stroke-width="3" opacity="0.8"/><path d="M738 1615v3m42-47v3m2 3v3m9-20v3m0 8v3m5-10v3m0 18v3m3-23v3m1-30v3m2 20v3m4-30v3m4 0v3m0 3v3m0-2v3m0 5v3m0-2v3m3-11v3m2 5v3m7-24v3m4-25v3m0 12v3m4-13v3m1-3v3m1-3v3m5 10v3m5-3v3m1-13v3m1 5v3m2-26v3m1-6v3m0 8v3m5-5v3m11-18v3m1-19v3m0 0v3m1 8v3m5-17v3m15-24v3m11-16v3m7 6v3m18-25v3m1 0v3m8-14v3m36-27v3m39-60v3m4 21v3" stroke="#0026d9" stroke-width="3" opacity="0.8"/><path d="M776 1588v3m14-21v3m23-28v3m2-10v3m2-9v3m1 17v3m6-22v3m1 5v3m2-27v3m1-11v3m0 4v3m0 7v3m1 7v3m4-8v3m1-12v3m0-2v3m2-10v3m3 5v3m1-22v3m5-2v3m0 10v3m0-1v3m1-24v3m8-3v3m2-14v3m3 1v3m3-13v3m1 15v3m2-22v3m0 8v3m1-20v3m1 12v3m2-8v3m6-2v3m5-13v3m3-13v3m0 2v3m1-3v3m1-13v3m5-9v3m1 9v3m2-3v3m2-25v3m1 32v3m6-36v3m3-32v3m7 26v3m4-34v3m8-15v3m8 4v3m17-4v3m21-27v3" stroke="#0040bf" stroke-width="3" opacity="0.8"/><path d="M775 1583v3m17-25v3m2 7v3m2-12v3m0-3v3m1-16v3m10-7v3m0 6v3m6-15v3m2-3v3m2-3v3m2-13v3m3 4v3m3-17v3m2-9v3m2 2v3m0-3v3m1-5v3m0-3v3m5-1v3m1-1v3m2-17v3m0 13v3m4-11v3m1-13v3m1 7v3m5-9v3m3-5v3m2-16v3m1-5v3m7 5v3m2-22v3m2 17v3m1-31v3m1 5v3m3-4v3m2-3v3m3-17v3m3-1v3m5-1v3m1-6v3m11-25v3m1-4v3m1 4v3m4 5v3m1-19v3m1-12v3m5 5v3m10-13v3m11-12v3m5-26v3m25-4v3m26-16v3m13-50v3" stroke="#0059a6" stroke-width="3" opacity="0.8"/><path d="M771 1591v3m7-11v3m14-14v3m0-3v3m2-12v3m1 5v3m13-22v3m3-4v3m3-8v3m13-17v3m1-23v3m0 23v3m6-17v3m3-10v3m1 19v3m3-38v3m0 15v3m1-15v3m0 24v3m6-22v3m5-14v3m2 10v3m2-26v3m0 16v3m1-15v3m1-1v3m1-25v3m5 2v3m1 2v3m3-6v3m1-13v3m3 4v3m2-22v3m10-7v3m4 26v3m1-23v3m1-14v3m0-1v3m4 14v3m1-19v3m1-16v3m1 9v3m9-13v3m2-4v3m6-31v3m34-29v3m21-19v3m87-99v3" stroke="#00738c" stroke-width="3" opacity="0.8"/><path d="M743 1619v3m4 0v3m41-53v3m14 4v3m1-31v3m5 8v3m2-27v3m0 10v3m2 10v3m2-12v3m8-28v3m10-15v3m1-1v3m0 7v3m0-2v3m0 5v3m4-19v3m4-14v3m1 6v3m3-12v3m3 6v3m1-11v3m0 8v3m1-21v3m8-16v3m0 13v3m5-11v3m2-10v3m1 0v3m2 4v3m6-16v3m2-19v3m2 30v3m8-49v3m10 18v3m3-30v3m6-3v3m20-24v3m13-27v3m2 9v3m6-3v3m30-21v3m28-67v3m24-14v3m4-31v3" stroke="#008c73" stroke-width="3" opacity="0.8"/><path d="M756 1613v3m23-26v3m11-24v3m4 9v3m9-35v3m4-2v3m3-11v3m1 2v3m0 7v3m1-24v3m4 12v3m1-6v3m0-3v3m2-10v3m1-1v3m4-9v3m0 3v3m2-9v3m0 1v3m2 2v3m2-7v3m6-13v3m4-32v3m1 22v3m7-9v3m1-35v3m2 13v3m1 3v3m2-15v3m4 1v3m2 0v3m1 2v3m1-32v3m5 10v3m2 21v3m1-17v3m1-9v3m2-5v3m17-36v3m0 18v3m1-15v3m1 12v3m1-32v3m11-20v3m4 4v3m2-17v3m5 4v3m4 18v3m0-1v3m8-23v3m5-34v3m12-10v3m4-13v3m11-6v3m66-65v3m13-7v3" stroke="#00a659" stroke-width="3" opacity="0.8"/><path d="M747 1629v3m18-44v3m9 1v3m1-1v3m8-4v3m1-18v3m9-7v3m2-16v3m2 10v3m1-6v3m4-14v3m3-1v3m5-4v3m5-23v3m5-11v3m10-4v3m0-2v3m2 8v3m1-14v3m1-8v3m4 2v3m0 0v3m4-13v3m6-1v3m3-20v3m2 2v3m0 0v3m4-25v3m2 3v3m3-2v3m1-9v3m1 7v3m1-26v3m0 18v3m3-4v3m1-1v3m3-10v3m1 6v3m10-42v3m6 0v3m1-3v3m3 4v3m2 7v3m5-14v3m1-25v3m1 6v3m5-25v3m11-21v3m9-5v3m1-2v3m5 4v3m23-34v3m3 6v3m3-2v3m5-8v3m36-38v3m40-48v3" stroke="#00bf40" stroke-width="3" opacity="0.8"/><path d="M751 1627v3m18-36v3m19-4v3m6-27v3m0 7v3m12-19v3m7-11v3m2 10v3m2-22v3m2-11v3m0 7v3m0 11v3m4-2v3m1-14v3m2-12v3m4-18v3m4 5v3m1-9v3m2-8v3m3 0v3m1-3v3m0-1v3m7-29v3m9-6v3m0 13v3m3-19v3m5-10v3m8-14v3m1 2v3m1 0v3m3-2v3m5-27v3m3 13v3m0 4v3m2-9v3m3-15v3m5-11v3m4-5v3m5 9v3m7-22v3m10-17v3" stroke="#00d926" stroke-width="3" opacity="0.8"/><path d="M734 1632v3m53-70v3m0 27v3m9-14v3m2-20v3m2 7v3m3-18v3m0 13v3m10-12v3m2-11v3m1-10v3m2 4v3m2-16v3m1-1v3m2-5v3m2 16v3m3-13v3m2-12v3m1-19v3m0 25v3m4-18v3m2-13v3m0 4v3m2-12v3m4 6v3m6-9v3m1-22v3m0 0v3m1 2v3m2-7v3m4-9v3m5-21v3m1 2v3m1-21v3m0 19v3m0-2v3m1-4v3m6-3v3m2-4v3m5-7v3m5-2v3m2-45v3m6 13v3m1 2v3m2-5v3m9-19v3m5 5v3m1-17v3m1 9v3m10-17v3m2-12v3m9-9v3m0 0v3m19-15v3m11-30v3m2-11v3m19 5v3" stroke="#00f20d" stroke-width="3" opacity="0.8"/><path d="M730 1641v3m48-48v3m7 4v3m9-12v3m1 6v3m11-49v3m8-3v3m1-5v3m1 1v3m0 7v3m8-29v3m2 2v3m1 0v3m1-15v3m1 8v3m3 0v3m4-20v3m7-10v3m4-4v3m0 3v3m1-18v3m0 3v3m0 2v3m1-14v3m2 9v3m5-14v3m0 4v3m4-25v3m5 4v3m1-12v3m1 14v3m3-36v3m0 13v3m4 6v3m4-2v3m2-39v3m0 20v3m2-4v3m2-15v3m0 2v3m22-28v3m8-7v3m1-19v3m3 8v3m3-11v3m4-4v3m5-32v3m13 21v3m4-31v3m19-33v3m56-21v3m27-44v3" stroke="#0df200" stroke-width="3" opacity="0.8"/><path d="M777 1595v3m17-20v3m7-4v3m4-11v3m10-4v3m1 3v3m5-9v3m4-3v3m1-16v3m1-15v3m1 7v3m1-3v3m4-29v3m0 0v3m2-7v3m6 13v3m1 3v3m1-17v3m1 6v3m3-12v3m7-31v3m0 26v3m2-12v3m1 1v3m1-10v3m3-3v3m3-5v3m5-14v3m0-3v3m4-14v3m9-5v3m3-4v3m2-19v3m2 0v3m0 22v3m1 8v3m5-35v3m2 7v3m5-14v3m2 0v3m5-32v3m15-9v3m8 2v3m2-33v3m6 14v3m3-25v3m10 2v3m1-32v3m33-19v3" stroke="#26d900" stroke-width="3" opacity="0.8"/><path d="M736 1643v3m39-61v3m15 6v3m3-20v3m4 3v3m1 1v3m3-4v3m1-1v3m1-17v3m4-8v3m1 0v3m5-7v3m1 3v3m1-11v3m1-5v3m1 1v3m4-18v3m2-17v3m2 8v3m3-11v3m2 5v3m5-9v3m0 6v3m1-17v3m1-10v3m8 11v3m1-16v3m5-10v3m1 0v3m0 4v3m1-7v3m3-4v3m6-26v3m8-11v3m6-12v3m7 7v3m6-8v3m9-20v3m2 16v3m3-35v3m8-2v3m1-10v3m0 9v3m2-23v3m3 3v3m1 3v3m7-15v3m2 3v3m13 4v3m72-104v3" stroke="#40bf00" stroke-width="3" opacity="0.8"/><path d="M775 1610v3m10-9v3m2-12v3m3-5v3m15-7v3m1-18v3m1 6v3m1-8v3m3-21v3m0 18v3m1-11v3m3-2v3m4 0v3m4-17v3m4-16v3m0 10v3m1-12v3m6-4v3m0 7v3m4-23v3m6-11v3m2-23v3m2 10v3m2 2v3m0 10v3m3-24v3m2 7v3m1-2v3m2-9v3m11-10v3m5-5v3m1-21v3m3 11v3m10-17v3m6-16v3m1-6v3m9-17v3m3 8v3m0 4v3m3-34v3m1 1v3m3-8v3m0 13v3m3-13v3m10-28v3m0 24v3m3-21v3m10-12v3m14-22v3m4 4v3m0 15v3m8-34v3m1 4v3m71-68v3" stroke="#59a600" stroke-width="3" opacity="0.8"/><path d="M745 1640v3m5-3v3m23-24v3m9-14v3m1-5v3m6-9v3m1-7v3m0 12v3m4-27v3m8 5v3m1-11v3m1-9v3m1-7v3m4 4v3m1-12v3m0 6v3m4-31v3m3 19v3m5-13v3m1-16v3m3 7v3m0 7v3m3-21v3m3 2v3m5-19v3m0 3v3m0 1v3m0-1v3m4-18v3m1-6v3m1 5v3m0 8v3m2-10v3m2-20v3m0 9v3m1-7v3m1-4v3m3-12v3m0 6v3m5-16v3m0 4v3m5-25v3m7-9v3m1 5v3m2-11v3m5-12v3m6 6v3m5-16v3m2 8v3m3-17v3m1 7v3m7-22v3m4 1v3m3 12v3m3-24v3m11-4v3m8-17v3m5-36v3m5 2v3m1 4v3m60-75v3" stroke="#738c00" stroke-width="3" opacity="0.8"/><path d="M777 1620v3m3-27v3m12-5v3m4-13v3m1-4v3m3 4v3m1 2v3m1-11v3m2-2v3m4-15v3m0 14v3m1-22v3m2 12v3m1-24v3m5 1v3m3-15v3m1 2v3m6-13v3m5 8v3m4-19v3m0 2v3m1 3v3m1-4v3m1-37v3m1 5v3m2 7v3m3-7v3m0-3v3m0 2v3m1-5v3m4-5v3m3-24v3m1 5v3m5-3v3m9-6v3m3-11v3m4-3v3m2-20v3m7-1v3m1 11v3m5-28v3m7-2v3m4 12v3m5-27v3m0 18v3m1-2v3m2-35v3m2 3v3m3-5v3m3-1v3m1-4v3m0 9v3m11-37v3m5-3v3m12 4v3m4-36v3m0 12v3m1 3v3m19-39v3m107-91v3" stroke="#8c7300" stroke-width="3" opacity="0.8"/><path d="M766 1614v3m0 0v3m20-14v3m3-19v3m2-6v3m0 7v3m7-15v3m11-1v3m1-28v3m0 17v3m7-21v3m0 16v3m2-10v3m2-9v3m3-11v3m3-8v3m1-13v3m4 4v3m3 3v3m2-17v3m3-3v3m2-5v3m3-22v3m4 10v3m1-2v3m1-4v3m4-8v3m5-1v3m3-12v3m9-16v3m1-2v3m2 12v3m7-10v3m8-43v3m1 30v3m11-26v3m1 18v3m5-37v3m3-7v3m1 6v3m22-15v3m8-22v3m4 3v3m23-49v3m1-24v3m15 2v3m2 5v3" stroke="#a65900" stroke-width="3" opacity="0.8"/><path d="M758 1635v3m8-1v3m6-34v3m19-3v3m1-27v3m6 7v3m13-18v3m5-11v3m1-2v3m3-16v3m3 10v3m1-18v3m0 3v3m2 12v3m1-17v3m0-1v3m0-1v3m3-6v3m3-15v3m0 2v3m2-14v3m1 11v3m6 6v3m1-18v3m8-19v3m4 1v3m1-24v3m2 12v3m0 8v3m4-26v3m0 1v3m5 0v3m0 4v3m1-35v3m3 17v3m3-10v3m0 16v3m1-15v3m1-11v3m4 5v3m4-10v3m15-15v3m15-3v3m2-28v3m9-18v3m51-32v3" stroke="#bf4000" stroke-width="3" opacity="0.8"/><path d="M774 1618v3m5-9v3m5-10v3m5-8v3m3 7v3m0 2v3m1-20v3m4-13v3m4 2v3m0-3v3m3-9v3m2 5v3m19-26v3m2-11v3m1 3v3m1 6v3m1-19v3m3-6v3m0 9v3m1-20v3m2 5v3m1-4v3m1-10v3m0-1v3m0-1v3m10-13v3m3-1v3m2-28v3m0 10v3m0 0v3m2-3v3m1-25v3m1 17v3m5-18v3m0 14v3m2-6v3m3-13v3m6-14v3m0 4v3m4-8v3m5-20v3m3 22v3m3-23v3m10-18v3m1 6v3m1 3v3m1-10v3m1 8v3m4-14v3m4-15v3m1-17v3m2 3v3m5-8v3m1-15v3m5-2v3m32-23v3m0 0v3m36-26v3" stroke="#d92600" stroke-width="3" opacity="0.8"/><path d="M776 1631v3m16-42v3m2 8v3m8-11v3m8-17v3m11-20v3m7-10v3m0 8v3m3-9v3m1-4v3m1-4v3m2-1v3m14-25v3m2-3v3m0 3v3m1-26v3m1 15v3m0 2v3m1-16v3m1 3v3m3-3v3m3-7v3m1-15v3m4 20v3m2-23v3m4-15v3m0 4v3m2-10v3m1 21v3m2-22v3m8-8v3m2-13v3m12-16v3m4 10v3m3-34v3m0 17v3m4-6v3m13-8v3m9-15v3m5-7v3m13-24v3m3 8v3m14-39v3" stroke="#f20d00" stroke-width="3" opacity="0.8"/><path d="M764 1613v3m7-5v3m16-7v3m3-7v3m0-3v3m0 1v3m6-18v3m14-16v3m6-5v3m4-3v3m4 7v3m6-39v3m4 9v3m3-2v3m4-19v3m0 10v3m3-11v3m7-10v3m1-18v3m1 25v3m2-49v3m6 21v3m2-14v3m6-22v3m1 22v3m1-16v3m5 27v3m4-47v3m1-2v3m1-8v3m8-13v3m0 26v3m2-31v3m8-13v3m4 3v3m2-5v3m0 7v3m5-1v3m2-30v3m23-25v3m28 9v3" stroke="#ff0d00" stroke-width="3" opacity="0.8"/><path d="M743 1647v3m44-45v3m5-10v3m10-4v3m8-15v3m2-6v3m2-15v3m0 7v3m2-12v3m1 4v3m1-12v3m4 3v3m2-10v3m1-9v3m1 4v3m0-2v3m2-1v3m7-12v3m0-3v3m3-13v3m0 9v3m1-19v3m0 6v3m3-6v3m2-11v3m3-4v3m10-21v3m4-14v3m6 15v3m3-8v3m1-6v3m13-5v3m1-20v3m6-6v3m4-1v3m13-28v3m1 24v3m3-31v3m0 1v3m2-7v3m1-26v3m9 13v3m8-10v3m43-45v3m4 7v3m3-7v3m1-18v3m10-10v3m19-22v3" stroke="#ff2600" stroke-width="3" opacity="0.8"/><path d="M762 1628v3m10-13v3m6-7v3m3-7v3m14-16v3m0-2v3m8-19v3m6-7v3m0 8v3m2-25v3m2-1v3m0 14v3m3-7v3m3-7v3m0 0v3m1-15v3m0 3v3m6-13v3m0 5v3m2-13v3m1 7v3m1-14v3m12-10v3m1 1v3m7-11v3m6-16v3m6-12v3m2 0v3m10-21v3m1 15v3m1-29v3m1 8v3m8-11v3m2-18v3m18-4v3m3-5v3m0 3v3m13-41v3m7 3v3m13-13v3m9-1v3m19-28v3m21-24v3m8-1v3" stroke="#ff4000" stroke-width="3" opacity="0.8"/><path d="M762 1625v3m23-25v3m9-9v3m5-16v3m1 1v3m8-15v3m2-8v3m3 6v3m5-17v3m2-7v3m3 2v3m4-6v3m2-16v3m0-1v3m9-5v3m1 4v3m3-11v3m1-4v3m4-5v3m0 5v3m1 5v3m3-34v3m2 16v3m8-27v3m2 1v3m1-27v3m0 8v3m5-9v3m3 8v3m4 7v3m3-25v3m3-7v3m0 16v3m0 1v3m3-42v3m1 18v3m1 1v3m0 1v3m3-17v3m6-5v3m2 0v3m6-17v3m2-16v3m6-12v3m0 19v3m4-10v3m5-33v3m5-9v3m0 10v3m1-1v3m32-19v3m12-11v3" stroke="#ff5900" stroke-width="3" opacity="0.8"/><path d="M774 1617v3m3-9v3m3-9v3m17-23v3m6-13v3m3 6v3m10-20v3m1 1v3m7-9v3m6-2v3m2-5v3m2-10v3m0 2v3m2-32v3m3 28v3m4-22v3m1-8v3m2 1v3m2-23v3m5 2v3m1-12v3m1 20v3m3-10v3m1-12v3m7-6v3m1 4v3m9-28v3m10 7v3m15-25v3m2-26v3m1 1v3m0 1v3m5-12v3m18-14v3m2-3v3m0 4v3m0 2v3m20-30v3m13-22v3m3-12v3m0 21v3m1-26v3m4-2v3m43-44v3m14-27v3" stroke="#ff7300" stroke-width="3" opacity="0.8"/><path d="M738 1645v3m3-14v3m47-48v3m1-2v3m2 1v3m1-3v3m4 2v3m6-12v3m1-5v3m1 0v3m2-19v3m0 8v3m4-17v3m3-10v3m4-5v3m2 3v3m4-17v3m1 6v3m3-6v3m2 3v3m5-23v3m0-3v3m2 14v3m5-15v3m1-24v3m0 14v3m1-11v3m3 8v3m1-26v3m8-4v3m2 6v3m2-3v3m3-18v3m5 10v3m1-16v3m0 5v3m1-27v3m2 20v3m9-22v3m6-11v3m1-1v3m1 19v3m3-26v3m0 6v3m18-36v3m1-8v3m14 2v3m26-25v3m71-89v3" stroke="#ff8c00" stroke-width="3" opacity="0.8"/><path d="M797 1579v3m0 0v3m3-5v3m2-7v3m8-11v3m4-2v3m7-9v3m1 14v3m7-20v3m5-13v3m5-8v3m0 0v3m0 0v3m3-25v3m4-9v3m2 1v3m1 16v3m7-8v3m3-18v3m2 8v3m2-1v3m2-30v3m7-15v3m1 6v3m0 10v3m1-6v3m11-12v3m1-22v3m21-12v3m10-4v3m7 4v3m9-47v3m5 3v3m58-72v3" stroke="#ffa600" stroke-width="3" opacity="0.8"/><path d="M734 1636v3m33-19v3m9-17v3m1-21v3m3 20v3m6-8v3m1-13v3m3-14v3m8 8v3m3-25v3m9-13v3m4 6v3m2-22v3m3 3v3m1-5v3m0 11v3m2-15v3m2-7v3m5-17v3m2 21v3m4-22v3m1-18v3m1 13v3m2 7v3m0 2v3m8-24v3m2-10v3m0 0v3m1 4v3m3-17v3m5-12v3m2 7v3m2-14v3m1-19v3m1 9v3m5-17v3m1 14v3m2-25v3m0 6v3m1 2v3m4-12v3m1 5v3m3-13v3m1-7v3m0 3v3m16-43v3m8 5v3m3 17v3m8-32v3m14-10v3m4 2v3m4-14v3m12-19v3m25-37v3m8-3v3" stroke="#ffbf00" stroke-width="3" opacity="0.8"/><path d="M790 1586v3m3-10v3m1 12v3m5-30v3m5 5v3m2-2v3m0-3v3m4-8v3m3-9v3m4-6v3m2-7v3m4-8v3m2-12v3m1 4v3m0 1v3m5-10v3m3-10v3m1-1v3m3-18v3m2 7v3m3-5v3m1-23v3m5 24v3m3-11v3m1-22v3m2 9v3m1-22v3m6 12v3m2-18v3m5 4v3m9-2v3m1-30v3m7-23v3m0 24v3m0 0v3m6-17v3m1-22v3m6 27v3m6-22v3m5-23v3m6 12v3m20-28v3m9-17v3m39-42v3m17-33v3" stroke="#ffd900" stroke-width="3" opacity="0.8"/><path d="M763 1613v3m21-24v3m2-8v3m16-32v3m5 4v3m1 5v3m1-34v3m3 30v3m5-23v3m0-2v3m3-2v3m2 3v3m1-32v3m1 12v3m9-24v3m1 12v3m1 2v3m0-3v3m2-17v3m5 0v3m2-31v3m1 33v3m1-18v3m3-17v3m1 11v3m2-4v3m2 1v3m1-21v3m0 1v3m2-10v3m0 17v3m4-29v3m2 2v3m2-9v3m10-3v3m1-2v3m2-8v3m4-24v3m0-1v3m1 9v3m10-23v3m1 15v3m2-29v3m14-9v3m2-6v3m15 10v3m5-44v3m8-16v3m4 15v3m44-43v3" stroke="#fff200" stroke-width="3" opacity="0.8"/><path d="M747 1623v3m24-27v3m5-5v3m8-14v3m19-16v3m1-9v3m1-3v3m4-8v3m1 7v3m1-6v3m0-1v3m5 1v3m3-29v3m2-3v3m1-11v3m0 8v3m2-20v3m0 25v3m2-17v3m8-19v3m0 0v3m0 7v3m1-15v3m5-20v3m2 24v3m2-12v3m2-28v3m1 21v3m1 4v3m1-32v3m2-1v3m1-6v3m2-11v3m1 9v3m1 4v3m11-32v3m3 15v3m5-11v3m1-23v3m0 13v3m5 11v3m20-43v3m2-6v3m5-22v3m6 19v3m12-38v3m3 12v3m4 1v3m13-23v3m6-8v3m56-61v3m31-35v3" stroke="#f2f20d" stroke-width="3" opacity="0.8"/><path d="M734 1646v3m40-58v3m4-3v3m1 0v3m3-1v3m8-14v3m0 4v3m0-3v3m10-41v3m3-1v3m0 0v3m5-4v3m2-2v3m4-16v3m2 9v3m6-23v3m0 16v3m2-21v3m4-4v3m5 3v3m1-10v3m1 3v3m0-1v3m3-17v3m3-8v3m3-24v3m2 19v3m1-12v3m2-8v3m0 2v3m1 0v3m1-9v3m2 1v3m1-3v3m1-22v3m4 1v3m1 27v3m4-21v3m5-29v3m11 6v3m10 0v3m1-34v3m6 12v3m3-15v3m4-11v3m1-17v3m7 5v3m11 12v3m2-15v3m10-22v3m3-17v3m8-17v3m24-40v3m2 18v3m8-28v3m41-29v3" stroke="#d9d926" stroke-width="3" opacity="0.8"/><path d="M728 1646v3m62-65v3m1-21v3m5 8v3m4-6v3m1-11v3m3 0v3m4-12v3m0 0v3m1-16v3m7-8v3m2-15v3m3 3v3m3-7v3m8-11v3m0 15v3m1-24v3m1-1v3m1 1v3m8-30v3m2 22v3m7-16v3m1-1v3m1-13v3m1-1v3m2-4v3m2-6v3m1 6v3m2-28v3m4 4v3m1-7v3m1-2v3m1-1v3m2 7v3m5-41v3m3 1v3m3 17v3m2-12v3m3-12v3m0 12v3m4 1v3m2-17v3m3-7v3m5-3v3m0 10v3m10-25v3m1-40v3m0 29v3m13-25v3m3-6v3m11-21v3m62-41v3m12-4v3" stroke="#bfbf40" stroke-width="3" opacity="0.8"/><path d="M763 1597v3m9-1v3m14-32v3m2 11v3m0 2v3m1-20v3m0 3v3m3-14v3m4-6v3m1 0v3m3-2v3m2 2v3m5-18v3m4-12v3m5 2v3m2-11v3m0 14v3m1-22v3m0-2v3m1 2v3m4-19v3m0 11v3m4-18v3m2-9v3m1 1v3m5 11v3m4-25v3m0 10v3m2-26v3m4 4v3m2 2v3m1-23v3m12-17v3m6 10v3m8-31v3m3 2v3m4-1v3m0 1v3m3 0v3m2-17v3m1 0v3m1-5v3m1-11v3m1-9v3m4 1v3m4 3v3m2-24v3m1 10v3m3-21v3m9 5v3m2-28v3m5-4v3m2 22v3m4-3v3m16-45v3m9 8v3m4-15v3m12-31v3m3 13v3m49-38v3m40-59v3" stroke="#a6a659" stroke-width="3" opacity="0.8"/><path d="M740 1627v3m26-28v3m13-23v3m6-2v3m7-16v3m16-29v3m2 13v3m2-13v3m2-16v3m0 8v3m0-1v3m9-15v3m1 1v3m2-12v3m3-6v3m2-1v3m1 4v3m11-30v3m2 7v3m1-6v3m4-12v3m5-18v3m2-12v3m4 27v3m11-26v3m2 6v3m3-27v3m1-8v3m3-1v3m1 12v3m3-16v3m3-12v3m1 0v3m2-18v3m3 20v3m1-4v3m4-31v3m11-3v3m6 2v3m1-16v3m16-4v3m2-38v3m5 14v3m19-42v3m2 20v3m20-13v3m8-24v3" stroke="#8c8c73" stroke-width="3" opacity="0.8"/><path d="M791 1577v3m7-20v3m4-7v3m1-5v3m5-12v3m4 10v3m3-21v3m9 1v3m0-1v3m3-26v3m2 2v3m3 2v3m1-8v3m5-26v3m0 1v3m3 3v3m0 12v3m13-24v3m2-27v3m0 14v3m0 4v3m1-1v3m4-33v3m2 17v3m1-10v3m12-7v3m3-22v3m8-11v3m5 6v3m3-18v3m4 3v3m3-19v3m2-14v3m2 3v3m0 6v3m9 11v3m1-31v3m3-8v3m1-16v3m9 5v3m6-14v3m18-9v3m3-17v3m12-9v3m24-28v3m2-8v3m2-31v3m26-15v3" stroke="#73738c" stroke-width="3" opacity="0.8"/><path d="M740 1626v3m38-48v3m7 8v3m4-22v3m0 3v3m8-25v3m1 3v3m2 1v3m5-17v3m1-1v3m2 3v3m9-17v3m1-18v3m1 5v3m0 0v3m2-28v3m1 7v3m7-16v3m8-2v3m0 6v3m2-15v3m7-3v3m0-1v3m2-24v3m1 1v3m1 1v3m5-26v3m0 21v3m2 0v3m4-31v3m1 18v3m3-15v3m1-10v3m2-5v3m1-4v3m0 2v3m2-5v3m0-1v3m11-20v3m3-17v3m10-1v3m2-22v3m0 13v3m5 6v3m5-16v3m2-17v3m5-7v3m12-19v3m7 18v3m86-113v3" stroke="#5959a6" stroke-width="3" opacity="0.8"/><path d="M777 1572v3m8-5v3m4 1v3m1-9v3m8-3v3m1 1v3m2-24v3m0 8v3m1-19v3m2-2v3m9-8v3m3-4v3m2-25v3m0 24v3m0 3v3m5-21v3m1-1v3m4 0v3m1-11v3m9 1v3m11-39v3m1-1v3m2 11v3m1-15v3m3-11v3m8 1v3m8-24v3m7-12v3m1 6v3m5-13v3m0-1v3m7-23v3m0 4v3m1 5v3m10-23v3m12-5v3m8-25v3m21-24v3m22-25v3m5-15v3m2 26v3m64-78v3" stroke="#4040bf" stroke-width="3" opacity="0.8"/><path d="M767 1599v3m38-55v3m3 0v3m1-7v3m1-8v3m0 5v3m2-9v3m3-20v3m1 8v3m10 0v3m1-25v3m0 4v3m1-15v3m1 16v3m3-22v3m0 4v3m0 6v3m5-10v3m1-7v3m0-3v3m1-11v3m0 2v3m1-19v3m13-17v3m0 19v3m1-11v3m0-3v3m7-23v3m2 2v3m1 13v3m2-19v3m2-9v3m3 2v3m0-1v3m4-11v3m3 4v3m2-23v3m4-6v3m0 7v3m3-15v3m4-28v3m4 17v3m16-33v3m13 1v3m1-3v3m7-20v3m13-24v3m1 10v3m9-19v3m7-12v3" stroke="#2626d9" stroke-width="3" opacity="0.8"/><path d="M746 1619v3m20-24v3m15-25v3m1-5v3m6-21v3m2 8v3m2-1v3m1-19v3m1-4v3m11-1v3m2-13v3m1 5v3m2-5v3m3-27v3m0 16v3m0 0v3m0 1v3m2-30v3m3-8v3m2 14v3m2-6v3m3 2v3m1-14v3m6-25v3m2 4v3m1 14v3m1-17v3m0 7v3m0-3v3m0-1v3m1-11v3m3-3v3m3-11v3m3-15v3m6 1v3m2 2v3m1-12v3m8-22v3m1 14v3m2-25v3m3 15v3m3-32v3m9-5v3m1 8v3m4-8v3m1-22v3m2 24v3m1-12v3m1-20v3m1 20v3m4-12v3m0 7v3m1-48v3m2 14v3m0 5v3m2-2v3m7-4v3m3-12v3m6-31v3m3 4v3m4 9v3m35-47v3m27-33v3" stroke="#0d0df2" stroke-width="3" opacity="0.8"/><path d="M780 1573v3m13 2v3m1-32v3m0 15v3m5-18v3m0-3v3m2-7v3m3-4v3m0 3v3m1 0v3m2-15v3m1 1v3m0-2v3m3-13v3m12-1v3m2-23v3m1 18v3m1-18v3m0 1v3m3-15v3m0 0v3m1-5v3m2-3v3m0 5v3m6-11v3m1 1v3m5-16v3m3-8v3m1-9v3m0 20v3m1-21v3m7-7v3m1-25v3m0 21v3m2-23v3m12-18v3m1-13v3m2 16v3m1-19v3m0 12v3m3-10v3m1-10v3m6-9v3m0-1v3m1 10v3m2-13v3m2-30v3m2 25v3m2-21v3m22-8v3m2-20v3m11 4v3m28-36v3m3-10v3m3-8v3m14-34v3m20-26v3m5 6v3" stroke="#000df2" stroke-width="3" opacity="0.8"/><path d="M771 1596v3m15-44v3m0 10v3m7-15v3m2 0v3m0 2v3m2 3v3m9-38v3m4 3v3m9-11v3m9 13v3m1-34v3m0 0v3m3 1v3m1-13v3m4-1v3m1-17v3m4 8v3m0-1v3m4-19v3m0 3v3m2 6v3m3-15v3m1-11v3m1 15v3m6 0v3m3-38v3m4 5v3m1-20v3m1 14v3m1 7v3m8-35v3m2-5v3m11 12v3m1-23v3m6-23v3m1 4v3m6-4v3m2-1v3m0 0v3m6-23v3m4 15v3m4-31v3m13-20v3m2 1v3m4-21v3m0 20v3m6-2v3m3-22v3m8-6v3m83-94v3" stroke="#0026d9" stroke-width="3" opacity="0.8"/><path d="M763 1601v3m10-16v3m12-20v3m10-7v3m1-21v3m9-6v3m8-17v3m6-17v3m0 10v3m2 3v3m1-9v3m0 0v3m0 14v3m4-31v3m5-11v3m2 5v3m4-11v3m0 4v3m1-9v3m1-7v3m0 0v3m2-1v3m6-12v3m1-12v3m2 4v3m0 4v3m7-11v3m5-3v3m1-31v3m6 11v3m2-32v3m1 28v3m3-19v3m4 12v3m3-37v3m6-32v3m3 24v3m20-5v3m3-31v3m5-15v3m4 2v3m1-3v3m10-29v3m2 25v3m7-10v3m39-65v3m10 28v3m1-28v3m68-79v3" stroke="#0040bf" stroke-width="3" opacity="0.8"/><path d="M728 1635v3m33-31v3m20-38v3m9 5v3m12-36v3m2 11v3m4-7v3m2-9v3m7 0v3m2-14v3m1-9v3m2-7v3m2-2v3m7-20v3m2-12v3m2 22v3m2-5v3m1-17v3m6-7v3m3 11v3m1-24v3m2 11v3m4-22v3m1-14v3m3 5v3m1-13v3m1 3v3m4-9v3m3 0v3m0 3v3m5-18v3m1 2v3m3-29v3m7 15v3m5-26v3m7 15v3m2-16v3m7-30v3m0 20v3m13-40v3m10 5v3m4 0v3m12-14v3m2-20v3m6-9v3m6 11v3m7-38v3m5-6v3m14-3v3" stroke="#0059a6" stroke-width="3" opacity="0.8"/><path d="M796 1556v3m6-9v3m6-20v3m2 28v3m1-8v3m1-17v3m12-15v3m3-23v3m0 7v3m1 22v3m2-31v3m1-3v3m1 17v3m6-22v3m1 3v3m2-11v3m1-20v3m1-2v3m0 1v3m1 2v3m4-20v3m1-5v3m2 19v3m6-45v3m1 43v3m3-41v3m1 0v3m0 5v3m4-19v3m3 3v3m0 3v3m2-2v3m1-7v3m1-12v3m3 3v3m8-18v3m1 1v3m4 5v3m4-26v3m6-31v3m0 42v3m1-29v3m4 9v3m5-15v3m2 4v3m7-9v3m13-22v3m8-17v3m10-11v3m22-28v3m42-53v3m4-2v3m28-36v3" stroke="#00738c" stroke-width="3" opacity="0.8"/><path d="M771 1591v3m9-8v3m2-19v3m19-15v3m15-25v3m2 2v3m4 4v3m1-9v3m4-10v3m7-5v3m1-10v3m1-8v3m2-15v3m0-2v3m1 14v3m1-1v3m1-39v3m0 33v3m3-4v3m2-9v3m1-12v3m1-3v3m0-1v3m1 3v3m0 2v3m3-32v3m2 4v3m1-11v3m2-2v3m1 4v3m6-5v3m3-9v3m10-14v3m1-2v3m4-2v3m2-24v3m0 14v3m3-13v3m9-7v3m4-23v3m12 4v3m3-2v3m10-35v3m5 12v3m6-14v3m0-1v3m29-43v3m10 2v3m25-23v3m43-67v3" stroke="#008c73" stroke-width="3" opacity="0.8"/><path d="M782 1585v3m3-4v3m5-26v3m2 20v3m4-24v3m14-18v3m6 11v3m1-12v3m7-13v3m4-18v3m0 7v3m3-10v3m0 18v3m6-27v3m2 1v3m2-20v3m0 6v3m2-9v3m4-27v3m2 6v3m0 0v3m1-8v3m3-11v3m19 9v3m3-24v3m1 14v3m10-9v3m1-41v3m3 18v3m1-2v3m3-20v3m2 7v3m14-22v3m5-17v3m6 23v3m17-56v3m12-16v3m0 1v3m19-47v3m3 32v3m11-12v3" stroke="#00a659" stroke-width="3" opacity="0.8"/><path d="M799 1566v3m1-6v3m1 4v3m1-11v3m1 0v3m3-26v3m3 28v3m5-32v3m4 7v3m1-16v3m1 15v3m1-24v3m2 11v3m2-5v3m1-20v3m5-14v3m0-2v3m2 21v3m2-42v3m0 20v3m6-9v3m4 4v3m5-21v3m0 1v3m2-23v3m0 14v3m1-10v3m4-3v3m3-14v3m0 16v3m6-11v3m4-28v3m3 10v3m0-1v3m2-4v3m1-22v3m3 4v3m3 11v3m2-31v3m0 18v3m3-19v3m2 5v3m5-11v3m2-12v3m4 4v3m4-23v3m1 10v3m14-22v3m15-10v3m6-24v3m6-36v3m23 11v3m17-34v3m16-3v3" stroke="#00bf40" stroke-width="3" opacity="0.8"/><path d="M742 1620v3m30-38v3m3 0v3m27-27v3m6-16v3m2 14v3m6-19v3m1-4v3m8-8v3m3-14v3m1-10v3m1 5v3m3 6v3m3-11v3m1-16v3m6-10v3m0 8v3m1 8v3m1-24v3m3 3v3m1-7v3m2-6v3m2-25v3m5-1v3m5 19v3m2-9v3m2-14v3m1-5v3m1-8v3m0 9v3m3-19v3m6 2v3m1-9v3m4-3v3m1 8v3m1-45v3m1 23v3m3-15v3m0 6v3m3 1v3m14-24v3m4-20v3m5 5v3m1-12v3m6-11v3m1 7v3m9-7v3m3-15v3m2-36v3m3 33v3m31-55v3m5 8v3m8-16v3m2-3v3m14-16v3m41-65v3" stroke="#00d926" stroke-width="3" opacity="0.8"/><path d="M770 1599v3m25-35v3m2-8v3m1 13v3m6-22v3m0 1v3m8-2v3m10-19v3m3-8v3m0 9v3m2-12v3m0-3v3m4-20v3m9-5v3m0-2v3m0 10v3m3-11v3m4-15v3m1-18v3m0 15v3m5-5v3m8-19v3m1 6v3m6-5v3m1-18v3m8 0v3m0 3v3m13-33v3m13-14v3m7-17v3m10-5v3m5 17v3m1-14v3m12-49v3m33 8v3m12-37v3m1-14v3m51-55v3" stroke="#00f20d" stroke-width="3" opacity="0.8"/><path d="M772 1599v3m3 5v3m8-2v3m1-11v3m13-38v3m3 1v3m0 2v3m0 7v3m7-8v3m2-11v3m5-11v3m1-13v3m0-2v3m4 10v3m6-19v3m2-9v3m2-17v3m4-9v3m8 13v3m1-13v3m3-12v3m1 3v3m0 12v3m2-24v3m2 10v3m5 1v3m3-32v3m3 21v3m8-36v3m10-5v3m3-10v3m4-9v3m4-5v3m0 2v3m10-11v3m0 10v3m2-16v3m7-24v3m6-10v3m35-35v3m14-11v3m5 0v3m2 16v3m31-57v3m9-32v3" stroke="#0df200" stroke-width="3" opacity="0.8"/><path d="M763 1617v3m12-21v3m6-16v3m7 11v3m7-24v3m0 7v3m2-13v3m1 4v3m1 10v3m9-38v3m4 9v3m2-19v3m1 4v3m3-17v3m5 1v3m4-6v3m2 8v3m1-21v3m9-6v3m1-7v3m7-11v3m3-6v3m1 7v3m1-5v3m4-20v3m1-23v3m0 16v3m1-10v3m1-6v3m1 8v3m1 2v3m6-22v3m2-1v3m2-22v3m8-1v3m4-5v3m1-6v3m0 13v3m0-2v3m1-3v3m1-44v3m5 22v3m6 0v3m2-4v3m0-2v3m1 0v3m3-16v3m18-14v3m2-17v3m4-6v3m1-9v3m0 19v3m13-31v3m15-29v3m7 0v3m3 4v3m26-33v3" stroke="#26d900" stroke-width="3" opacity="0.8"/><path d="M772 1613v3m5-13v3m17-17v3m6-15v3m2 3v3m7-8v3m2-4v3m2-1v3m5-22v3m0 8v3m3-6v3m4-21v3m4-13v3m1 22v3m4-41v3m8 0v3m1 7v3m2-4v3m2-1v3m5-19v3m0 5v3m3-3v3m3-1v3m3-29v3m0 14v3m1-13v3m4-2v3m1-13v3m3-3v3m2 8v3m2-22v3m8-3v3m2 11v3m2-23v3m2-6v3m13-3v3m2-9v3m7-23v3m2 2v3m11 10v3m1-13v3m20-35v3m7-18v3m2-10v3m2 28v3m8-36v3m28 0v3m27-38v3" stroke="#40bf00" stroke-width="3" opacity="0.8"/><path d="M766 1614v3m11-5v3m7-18v3m4-4v3m11-20v3m1 11v3m1-9v3m1 3v3m5-21v3m3-3v3m4-2v3m1-17v3m1 0v3m0 13v3m1-22v3m2 5v3m1-23v3m2 3v3m3-1v3m0 8v3m1-12v3m2-14v3m1-2v3m3-8v3m3 1v3m4 1v3m6-26v3m1-10v3m1-4v3m0-1v3m0 3v3m1 2v3m5-1v3m2-2v3m4-5v3m6-5v3m2-29v3m1-10v3m0 8v3m6 3v3m3-12v3m9-24v3m5 12v3m2-16v3m8-4v3m2-17v3m5-18v3m2 7v3m13-16v3m3-29v3m16 17v3m2-16v3m1 5v3m29-27v3m19-39v3m13-9v3m71-67v3" stroke="#59a600" stroke-width="3" opacity="0.8"/><path d="M762 1618v3m13-5v3m15-29v3m9 0v3m2-19v3m1 15v3m7-35v3m1-1v3m0 8v3m2-19v3m3 22v3m1-10v3m3-1v3m7-35v3m4-6v3m2 9v3m4-14v3m6-8v3m3-5v3m2 4v3m3-23v3m1 21v3m0 5v3m2-20v3m1-18v3m2 19v3m1-18v3m1-10v3m0 14v3m1-26v3m3-4v3m0 6v3m1-5v3m2-22v3m6 17v3m1-15v3m4-2v3m2 2v3m8-27v3m2 8v3m2-21v3m5 11v3m1-21v3m1 0v3m4-6v3m3-21v3m0 28v3m3-26v3m0 4v3m8-8v3m11-14v3m1-28v3m8 14v3m27-37v3m3-15v3m0 18v3m1-11v3m12-29v3m10 17v3" stroke="#738c00" stroke-width="3" opacity="0.8"/><path d="M736 1639v3m14 4v3m30-49v3m8-8v3m9-7v3m0-2v3m1-1v3m2 0v3m4-21v3m0-1v3m1 4v3m1-4v3m4 0v3m1-30v3m5 10v3m5-5v3m4-21v3m0 17v3m0-3v3m4-12v3m5-4v3m4-25v3m2 2v3m1 6v3m1-18v3m1-11v3m1 0v3m1-2v3m7-18v3m4 12v3m8-9v3m3-14v3m3-8v3m1-13v3m1-1v3m4 10v3m16-29v3m3-7v3m4-10v3m4 8v3m4-5v3m4-11v3m15-1v3m2-25v3m9-12v3m11-19v3m35-5v3m6-11v3m13-48v3" stroke="#8c7300" stroke-width="3" opacity="0.8"/><path d="M748 1630v3m4-3v3m33-39v3m10-1v3m1-5v3m6-4v3m1-31v3m5 11v3m3-17v3m0 7v3m2-3v3m8-10v3m1-1v3m6-15v3m2 5v3m7-12v3m4-10v3m1-2v3m4-11v3m1-11v3m0 2v3m3-20v3m2-3v3m0 19v3m1-2v3m3-7v3m1 1v3m6-35v3m0 4v3m7 1v3m1-11v3m9-6v3m8-16v3m4-1v3m19-29v3m6-16v3m0 0v3m35 0v3m16-49v3m24-33v3m8-1v3" stroke="#a65900" stroke-width="3" opacity="0.8"/><path d="M779 1615v3m8-18v3m5-13v3m2 20v3m3-7v3m2-27v3m8-5v3m6-8v3m1 11v3m2-19v3m3-12v3m4-6v3m0 14v3m3-42v3m2 13v3m4-20v3m0 2v3m3 1v3m3-6v3m2 5v3m6-5v3m2-13v3m0 7v3m1-14v3m2-14v3m1-9v3m4 10v3m0 6v3m1-24v3m2 4v3m3-6v3m2 14v3m1-32v3m8 18v3m2-14v3m1-13v3m14-20v3m7-25v3m0 26v3m10-28v3m2 1v3m1 11v3m8-44v3m3 8v3m14 1v3m8-24v3m3-1v3m6-8v3m2-9v3m52-62v3" stroke="#bf4000" stroke-width="3" opacity="0.8"/><path d="M781 1608v3m9-25v3m13-16v3m1-3v3m2 3v3m2-8v3m9 7v3m1 9v3m5-18v3m1-11v3m0-2v3m1-7v3m2-2v3m0-3v3m4-4v3m2-16v3m0 7v3m1-37v3m0 19v3m1-1v3m0-1v3m1 8v3m3-22v3m0 3v3m0 10v3m0-1v3m2-24v3m3-6v3m0 1v3m3-15v3m1 7v3m4-7v3m0 14v3m3-32v3m0 2v3m3 8v3m2-10v3m1-25v3m4-2v3m1 11v3m5-15v3m1-18v3m6 3v3m7-4v3m6 14v3m6-47v3m4 3v3m0 3v3m1-22v3m2 11v3m0 10v3m9-12v3m2-29v3m10-1v3m5 1v3m9-13v3m8-12v3m53-58v3" stroke="#d92600" stroke-width="3" opacity="0.8"/><path d="M779 1623v3m10-15v3m4-9v3m3-11v3m0 6v3m0-2v3m11-38v3m0 20v3m5-21v3m0 7v3m1-4v3m4-19v3m0 3v3m1 0v3m2-6v3m8-9v3m1 0v3m3-4v3m1 3v3m6-31v3m0 2v3m0 6v3m1-21v3m5-5v3m0 4v3m3-11v3m2-19v3m1 3v3m0 17v3m2-23v3m1-5v3m4 10v3m1-13v3m1 4v3m0 5v3m1-17v3m5-19v3m0 31v3m3-42v3m2 4v3m1-4v3m9-18v3m0 3v3m1 0v3m9-19v3m1-10v3m1 22v3m5-27v3m5-1v3m34-16v3m3-28v3m4-5v3m26-14v3m1-1v3" stroke="#f20d00" stroke-width="3" opacity="0.8"/><path d="M777 1622v3m3-13v3m16-21v3m5-15v3m3 7v3m0 0v3m4-9v3m3-12v3m4-9v3m2 12v3m6-20v3m1-17v3m2-18v3m5 24v3m1-14v3m2 4v3m6-33v3m0 16v3m2-8v3m4-6v3m3-6v3m1-12v3m1 11v3m1-4v3m1-6v3m4-14v3m2 3v3m7-31v3m0 21v3m1-29v3m0 5v3m6-6v3m1 23v3m0-2v3m4-25v3m1-5v3m2-3v3m5-16v3m0 19v3m1 3v3m2-36v3m3 14v3m3-34v3m0 12v3m26-17v3m1-10v3m0 5v3m4-9v3m27-43v3m77-74v3" stroke="#ff0d00" stroke-width="3" opacity="0.8"/><path d="M780 1606v3m12-18v3m7-10v3m0 1v3m8-15v3m1-4v3m3-3v3m4 5v3m0 3v3m4-37v3m5 9v3m3-9v3m4 14v3m4-6v3m1-22v3m1 1v3m4-16v3m4-5v3m0 1v3m3 8v3m6-44v3m3 21v3m1-7v3m2-10v3m2 4v3m1-19v3m6 11v3m1-16v3m6-18v3m2 2v3m0-1v3m3-2v3m6-1v3m1-6v3m1-4v3m1-21v3m2 9v3m2-12v3m1-18v3m12-1v3m1-8v3m3 14v3m9-21v3m6-7v3m4-1v3m7-4v3m4-25v3m2-9v3m5 18v3m2-21v3m3-13v3m1-6v3m1-6v3m32-20v3m77-79v3" stroke="#ff2600" stroke-width="3" opacity="0.8"/><path d="M746 1636v3m46-46v3m7-16v3m0 17v3m1 6v3m11-36v3m3 5v3m1-8v3m10-10v3m1-15v3m1-6v3m3-6v3m1 2v3m1-4v3m3 17v3m8-28v3m1-6v3m9-7v3m0 1v3m1-18v3m0-1v3m4-10v3m2 8v3m1-8v3m1-6v3m2-5v3m1-12v3m3 10v3m7-15v3m27-40v3m2 18v3m19-38v3m5 5v3m52-92v3" stroke="#ff4000" stroke-width="3" opacity="0.8"/><path d="M762 1630v3m24-26v3m6-9v3m3-4v3m2-14v3m0 16v3m4-24v3m0 8v3m2-25v3m1 6v3m14 0v3m4-13v3m1-18v3m0 3v3m6-22v3m4-1v3m1 4v3m1 4v3m1-9v3m4-13v3m1-7v3m2-10v3m0 1v3m3 6v3m1-30v3m1 20v3m1-10v3m6-18v3m2 17v3m7-25v3m5-4v3m3-13v3m1 14v3m2-11v3m3 2v3m2-26v3m1-1v3m1 18v3m1-24v3m8 7v3m1-30v3m5-6v3m2-5v3m14-10v3m3-8v3m0 4v3m4-5v3m1 9v3m5-4v3m10-18v3m1-28v3m1 12v3m55-59v3m2-18v3m3 10v3m26-11v3" stroke="#ff5900" stroke-width="3" opacity="0.8"/><path d="M734 1656v3m46-48v3m1-6v3m10-19v3m8-5v3m2 7v3m5-11v3m1-18v3m4-5v3m2 8v3m2-18v3m0 4v3m0-3v3m2-9v3m2-1v3m6-26v3m0 11v3m1-9v3m0-1v3m2 11v3m2-20v3m1 20v3m7-30v3m3-2v3m2-16v3m7 7v3m3-18v3m3-23v3m0 15v3m3-22v3m1 3v3m1-9v3m3 2v3m6-15v3m2 0v3m3-3v3m1-3v3m4 9v3m2-17v3m0 4v3m0 8v3m4-21v3m1-24v3m6-1v3m0 0v3m5-4v3m2-7v3m8-10v3m8 4v3m9-23v3m22-11v3m9-29v3" stroke="#ff7300" stroke-width="3" opacity="0.8"/><path d="M765 1629v3m3-24v3m15-13v3m1-3v3m3-9v3m6-5v3m2-3v3m5-10v3m3 2v3m2-21v3m3-1v3m4 14v3m1-24v3m2 4v3m7-17v3m5-4v3m2-12v3m2-10v3m0 4v3m4-8v3m1 13v3m3-8v3m3-10v3m0 0v3m1-11v3m5 2v3m1-24v3m2 7v3m3-11v3m4-20v3m3 18v3m1-20v3m3 2v3m0 3v3m3-8v3m0 12v3m6-24v3m2 8v3m1-19v3m2-5v3m1-7v3m6-22v3m0 8v3m0 0v3m0 6v3m3-20v3m0 8v3m2-20v3m0 19v3m2-2v3m6-15v3m6-35v3m0 17v3m13-25v3m1 5v3" stroke="#ff8c00" stroke-width="3" opacity="0.8"/><path d="M752 1623v3m42-52v3m4-6v3m3 12v3m2 1v3m2-15v3m3-15v3m1-8v3m1 10v3m4-11v3m1-19v3m7 0v3m0 0v3m1 1v3m3-3v3m0 0v3m4-5v3m1-3v3m2-9v3m5-3v3m2-22v3m3-3v3m0 4v3m0-3v3m15-5v3m1-11v3m1-28v3m0 8v3m1 2v3m2-15v3m0 2v3m6-2v3m0 7v3m1-10v3m1-5v3m3 2v3m1-19v3m4-16v3m1 15v3m1-9v3m28-36v3m5 14v3m3-6v3m6-26v3m2-16v3m12-15v3m10-5v3m7-13v3m13-1v3m0 21v3m4-16v3" stroke="#ffa600" stroke-width="3" opacity="0.8"/><path d="M736 1639v3m27-24v3m10-27v3m5 13v3m9-28v3m1 13v3m23-36v3m5 6v3m2-9v3m3-31v3m5-7v3m0 11v3m2-16v3m0 18v3m2-14v3m1-7v3m1 8v3m2-25v3m3 6v3m4-14v3m3 8v3m0 7v3m3-4v3m1-35v3m1 1v3m0-1v3m0 1v3m1 13v3m2-16v3m1 3v3m1-16v3m0 0v3m2-10v3m0 8v3m3-10v3m17-20v3m2-13v3m9-12v3m0-2v3m1 0v3m1 0v3m1-21v3m0 9v3m2-5v3m25-33v3m3 11v3m13-21v3m6-37v3m18 20v3m11-24v3m104-132v3" stroke="#ffbf00" stroke-width="3" opacity="0.8"/><path d="M750 1619v3m40-38v3m0-3v3m1 6v3m2-6v3m5-7v3m3-22v3m1 6v3m3-7v3m1-20v3m1 10v3m11-12v3m1 1v3m0-1v3m1-8v3m1-18v3m7 11v3m2-21v3m1 10v3m1-21v3m0 13v3m2 0v3m5-15v3m1-6v3m2 5v3m1-20v3m3-3v3m0 7v3m1-10v3m2-19v3m0 15v3m4-39v3m5 23v3m2-14v3m1-12v3m0 8v3m8-14v3m0 0v3m1-1v3m3-14v3m1-9v3m1 5v3m0 19v3m5-35v3m6 6v3m1-17v3m7-3v3m7-20v3m25-28v3m2-2v3m4-13v3m4 5v3m6-14v3m23-21v3m9-2v3m17-24v3m74-73v3" stroke="#ffd900" stroke-width="3" opacity="0.8"/><path d="M729 1649v3m14-13v3m14-30v3m13 0v3m40-49v3m1-3v3m1-8v3m0-2v3m2-7v3m1 17v3m2-12v3m1-19v3m10-12v3m1-11v3m2-15v3m10 12v3m5-17v3m1-13v3m1 1v3m8 0v3m4-3v3m2-10v3m3-18v3m0 3v3m1-4v3m1 1v3m4-7v3m4 2v3m4-29v3m12-25v3m4 27v3m1-15v3m11 4v3m1-39v3m1-5v3m1 11v3m2-13v3m0 0v3m56-36v3m6-24v3" stroke="#fff200" stroke-width="3" opacity="0.8"/><path d="M749 1630v3m18-20v3m17-35v3m1 12v3m8-23v3m20-25v3m1-7v3m4-14v3m0 2v3m2 6v3m3-4v3m2-15v3m1-11v3m1 3v3m9-3v3m11-9v3m4-7v3m0-2v3m4-13v3m1-26v3m0 8v3m4-2v3m3 12v3m2-20v3m0 1v3m7-12v3m0 1v3m4-19v3m5-7v3m0 5v3m10-1v3m1-30v3m6-2v3m5-3v3m9-1v3m14-19v3m3-26v3m79-73v3m3-53v3" stroke="#f2f20d" stroke-width="3" opacity="0.8"/><path d="M734 1637v3m20-30v3m5-21v3m6 23v3m32-58v3m0 9v3m7-11v3m1-4v3m2-9v3m0 1v3m4 2v3m3-10v3m2-14v3m0-3v3m0 5v3m5-10v3m3-18v3m5 17v3m1-26v3m4 4v3m5-6v3m1 0v3m3-23v3m2 11v3m9-6v3m18-37v3m4-28v3m0 28v3m14-34v3m11 15v3m6-31v3m4-18v3m0 33v3m40-62v3m83-91v3m31-29v3" stroke="#d9d926" stroke-width="3" opacity="0.8"/><path d="M748 1616v3m3 12v3m16-20v3m22-37v3m7-16v3m8-5v3m12-21v3m1-7v3m2 2v3m1-20v3m1 16v3m4-10v3m2-10v3m8-5v3m1-7v3m0 4v3m14-26v3m1-13v3m0 4v3m5-3v3m2-3v3m7-3v3m0 8v3m4-36v3m2-15v3m0 27v3m2-23v3m7-11v3m12-8v3m8 4v3m9-18v3m1-35v3m0 28v3m4-21v3m0 7v3m1 0v3m7 2v3m22-62v3m6 7v3m7-29v3m10-14v3m35-35v3m1 29v3" stroke="#bfbf40" stroke-width="3" opacity="0.8"/><path d="M735 1631v3m15-21v3m25-29v3m1-1v3m11-22v3m9 8v3m4-24v3m3-16v3m0 9v3m18-30v3m1-6v3m0 20v3m5-19v3m1-13v3m6-3v3m1 12v3m1-33v3m0 15v3m2-2v3m1 1v3m3-25v3m5 16v3m2-41v3m2 22v3m4-20v3m0 2v3m4-3v3m2-17v3m23-29v3m6 5v3m1-5v3m1-30v3m3 12v3m5 14v3m1-33v3m0 1v3m1 29v3m2-27v3m63-63v3m5 2v3m20-44v3m1 4v3" stroke="#a6a659" stroke-width="3" opacity="0.8"/><path d="M758 1614v3m10-25v3m8-12v3m2-10v3m4 8v3m10-20v3m4-7v3m3 4v3m3-13v3m4-2v3m1-1v3m2-29v3m1 13v3m1-7v3m4-20v3m0 8v3m5-5v3m2-1v3m0 6v3m1-16v3m5 0v3m6-9v3m3-9v3m2-10v3m1-3v3m2 5v3m1-13v3m1-13v3m1 19v3m1-22v3m0 11v3m1-20v3m8-23v3m0-1v3m3-3v3m8-25v3m3-2v3m2-3v3m1 8v3m0 24v3m1-27v3m1 1v3m1-35v3m0 18v3m1-4v3m0 0v3m1-16v3m1 5v3m4-5v3m0-2v3m3-5v3m2-12v3m3 14v3m12-27v3m3-6v3m0-1v3m14-21v3m15-16v3m2-2v3m8-9v3m21-38v3m0 11v3m1-15v3m0 12v3m38-61v3m19-10v3" stroke="#8c8c73" stroke-width="3" opacity="0.8"/><path d="M766 1599v3m17-29v3m8-5v3m2-20v3m3-7v3m0 14v3m4-11v3m6-6v3m6-12v3m1 2v3m2-17v3m1-12v3m3 6v3m0 0v3m2-6v3m7-7v3m1-2v3m1-1v3m3-14v3m1 7v3m1-27v3m3-20v3m0 27v3m4-22v3m0 1v3m5-5v3m0 4v3m1 0v3m2-25v3m0 0v3m1-1v3m1 12v3m3-30v3m3 15v3m1-8v3m0 0v3m6 3v3m6-22v3m2-10v3m2 3v3m7-23v3m5-11v3m0-1v3m9-22v3m1 10v3m2-10v3m0-3v3m4-12v3m4-1v3m3 12v3m3-23v3m6-6v3m3-30v3m5 5v3m4 14v3m15-16v3m1-14v3m3-24v3m8 0v3m6-1v3" stroke="#73738c" stroke-width="3" opacity="0.8"/><path d="M772 1594v3m3-5v3m24-36v3m1-3v3m6-24v3m0 25v3m1-14v3m8-22v3m1-6v3m3 2v3m2-4v3m1-7v3m5-5v3m1-7v3m4-11v3m0 8v3m2-37v3m0 31v3m5-18v3m3 11v3m2-23v3m1 13v3m4-11v3m4-9v3m1-24v3m0 1v3m1 11v3m7-19v3m2-7v3m1 12v3m4-37v3m7 8v3m2-2v3m0 1v3m5-2v3m3-24v3m2-12v3m4 8v3m3 4v3m17-45v3m11 0v3m8-4v3m1-26v3m3 12v3m6-15v3m1-2v3m17-24v3m2-1v3m16-2v3m49-72v3" stroke="#5959a6" stroke-width="3" opacity="0.8"/><path d="M782 1573v3m16-13v3m1-1v3m3-17v3m4-10v3m1 11v3m5-35v3m2 17v3m4-20v3m0 30v3m1-39v3m3-6v3m0 1v3m0 11v3m19-35v3m0 4v3m2-14v3m0 20v3m9-20v3m2-10v3m8-7v3m2-25v3m0 11v3m0 2v3m1-21v3m6-1v3m1 12v3m3-25v3m1-5v3m0 30v3m4-42v3m4 9v3m1-23v3m0 2v3m11-20v3m2 3v3m1 13v3m5-30v3m2 3v3m3 0v3m6-26v3m5 16v3m1-37v3m0 6v3m0 7v3m2-15v3m25-37v3m1 11v3m13-7v3m2-13v3" stroke="#4040bf" stroke-width="3" opacity="0.8"/><path d="M749 1615v3m6-21v3m7-2v3m10-27v3m20-4v3m4-10v3m4-9v3m3-8v3m2-4v3m5-9v3m3 9v3m4-26v3m4-4v3m1-17v3m1 9v3m8-14v3m5-10v3m0 10v3m1-26v3m5 7v3m3-8v3m3-7v3m1 0v3m6-10v3m4-22v3m2 13v3m2-18v3m5-2v3m1-18v3m11 3v3m3 5v3m3-3v3m3-25v3m1-20v3m4 7v3m7 6v3m6-24v3m2-7v3m3-25v3m0 35v3m6-40v3m3 3v3m54-58v3m6 7v3m24-45v3m19-19v3" stroke="#2626d9" stroke-width="3" opacity="0.8"/><path d="M783 1567v3m10 2v3m1-24v3m2 9v3m9-22v3m1 12v3m1-8v3m2-4v3m5-17v3m1 0v3m1-8v3m1-3v3m3 6v3m2-10v3m4-5v3m4-12v3m1-12v3m3-9v3m2-2v3m3 0v3m1 4v3m1-10v3m1-5v3m4-23v3m0 14v3m8-27v3m4 16v3m6-34v3m3 8v3m1-6v3m5-16v3m5 4v3m1-4v3m3-24v3m4-6v3m4 11v3m1-12v3m17-25v3m6-6v3m1 2v3m9-18v3m6-7v3m3 2v3m5-19v3m5-3v3m47-59v3m5 9v3m14-46v3m24-15v3" stroke="#0d0df2" stroke-width="3" opacity="0.8"/><path d="M762 1599v3m11-43v3m4 15v3m14 2v3m10-31v3m0 9v3m7-20v3m1-15v3m0 14v3m2-20v3m5-7v3m4-9v3m0 5v3m2-11v3m3 3v3m1 0v3m1-20v3m5 5v3m2-7v3m0 3v3m4-20v3m1-17v3m1 14v3m3-18v3m1 28v3m2-32v3m3-4v3m0 14v3m1-21v3m1-3v3m0 7v3m4-12v3m1-9v3m1-2v3m9-21v3m2 4v3m1 4v3m1-18v3m1-12v3m0 13v3m1 2v3m0-2v3m2-20v3m2 6v3m0 2v3m5-11v3m8-31v3m2 14v3m2-20v3m2-3v3m5-5v3m0 16v3m4-41v3m3 11v3m3 2v3m2-4v3m5-11v3m38-60v3m18-29v3m1 0v3m23-9v3m53-61v3" stroke="#000df2" stroke-width="3" opacity="0.8"/><path d="M781 1568v3m14-5v3m4-13v3m6-5v3m1-7v3m1-13v3m3 14v3m9-29v3m3-5v3m1-5v3m2 5v3m4-26v3m0 16v3m1-17v3m0 18v3m2-9v3m6-37v3m1 2v3m0 0v3m2-3v3m4-24v3m3 12v3m0 0v3m1 8v3m2 1v3m5-21v3m6 3v3m4-31v3m2 11v3m4-29v3m1 7v3m3-9v3m6-7v3m4 0v3m0 15v3m10-24v3m3-20v3m1-5v3m0-1v3m3-10v3m0 31v3m5-39v3m4 9v3m1-8v3m3-11v3m27-27v3m5-32v3m2 14v3m7 4v3m13-36v3m45-36v3m6-16v3" stroke="#0026d9" stroke-width="3" opacity="0.8"/><path d="M774 1583v3m9-21v3m5 9v3m1-10v3m3-11v3m5-9v3m6-11v3m1-3v3m0 6v3m4-8v3m2-17v3m1-12v3m10-2v3m2 11v3m2-25v3m1 8v3m3-16v3m7-6v3m0-2v3m6-4v3m1-3v3m2-19v3m1 17v3m5-26v3m1-16v3m3 24v3m6-25v3m1 15v3m4-20v3m11-29v3m5 9v3m1-26v3m0 14v3m5 2v3m1-32v3m1 4v3m2 2v3m4-1v3m2-15v3m12-10v3m1 7v3m2-17v3m10-19v3m2-1v3m2 5v3m1-6v3m9-19v3m23-42v3m90-88v3" stroke="#0040bf" stroke-width="3" opacity="0.8"/><path d="M783 1574v3m3-5v3m10-10v3m8-21v3m5 0v3m0 9v3m3-18v3m1-11v3m0 22v3m1-22v3m10-26v3m3 0v3m6-5v3m2-11v3m1-20v3m7 11v3m2-2v3m1-6v3m3-2v3m4-18v3m5-1v3m5-9v3m1 3v3m2-3v3m1-16v3m7-17v3m4 6v3m2-19v3m0 0v3m3 2v3m14-12v3m5 4v3m1-26v3m15-7v3m2-11v3m5-33v3m7 11v3" stroke="#0059a6" stroke-width="3" opacity="0.8"/><path d="M761 1604v3m16-27v3m13-9v3m1 4v3m5-13v3m9-9v3m1-19v3m5 4v3m1-4v3m1-17v3m0 1v3m1 2v3m1-28v3m0 9v3m1 5v3m2-28v3m4 11v3m0 2v3m1 7v3m1-24v3m4-6v3m0 8v3m4-5v3m1-1v3m1-2v3m9-31v3m6-10v3m1 2v3m5 0v3m2-6v3m4-15v3m1-5v3m0 7v3m2-26v3m0 3v3m1-3v3m1 12v3m4-14v3m2 8v3m1-16v3m0 14v3m2-30v3m4 1v3m2-4v3m1-24v3m3-2v3m0 24v3m8-25v3m1-14v3m16-16v3m31-18v3m14-39v3m0 9v3m5 4v3m45-74v3m12-9v3m5-6v3m27-15v3" stroke="#00738c" stroke-width="3" opacity="0.8"/><path d="M772 1593v3m1-6v3m14-17v3m3 5v3m4-25v3m12-30v3m3 15v3m1-11v3m2 1v3m0 6v3m2-41v3m2 18v3m4-6v3m4 14v3m2-29v3m1-9v3m2 8v3m8-22v3m3 6v3m0-1v3m1-13v3m1-9v3m1 2v3m5-9v3m1-3v3m4 4v3m5-18v3m2 3v3m5-22v3m0 11v3m2 0v3m2-35v3m0 17v3m2-25v3m1 11v3m4 2v3m6-13v3m0 0v3m1-22v3m0 16v3m5-21v3m1-1v3m3 11v3m2-32v3m5-9v3m5-6v3m6 1v3m2-6v3m6-8v3m1-13v3m8 1v3m1 1v3m2-23v3m10-16v3m2 17v3m4 5v3m5-50v3m5 19v3m11-17v3m10 11v3m36-62v3" stroke="#008c73" stroke-width="3" opacity="0.8"/><path d="M780 1576v3m0 6v3m6-7v3m1-5v3m7-24v3m10-8v3m5-3v3m1-8v3m1-4v3m1-13v3m4 10v3m2-20v3m0 0v3m1 8v3m2-6v3m4-13v3m0 5v3m4-17v3m0 0v3m0 3v3m1-5v3m4 3v3m1-14v3m0 4v3m1-17v3m0 11v3m0-2v3m2-21v3m0 1v3m1-6v3m2 8v3m7-2v3m1-16v3m1 2v3m2-25v3m2-3v3m2-12v3m0 15v3m4 1v3m1-17v3m1-21v3m0 10v3m1-8v3m1 7v3m1-10v3m3 0v3m3-4v3m0 6v3m3-16v3m1-5v3m0-2v3m2-19v3m0-2v3m6-11v3m1 2v3m4-17v3m2 2v3m0 10v3m0 11v3m3-34v3m2-4v3m0-3v3m2-2v3m3 6v3m1-14v3m1 3v3m1-18v3m8-16v3m1 30v3m14-57v3m1 12v3m1-13v3m15-13v3m12 1v3m21-35v3m108-103v3" stroke="#00a659" stroke-width="3" opacity="0.8"/><path d="M739 1634v3m15-17v3m36-62v3m1-1v3m0 9v3m2-14v3m2 16v3m6-28v3m2-1v3m1-7v3m5-11v3m3 0v3m4-10v3m4 3v3m2-17v3m0 5v3m2-11v3m2-1v3m5-22v3m0 0v3m0 14v3m3-11v3m14-21v3m4-2v3m5-16v3m2-11v3m2-3v3m11-1v3m3-19v3m3 2v3m5-11v3m2 1v3m0 5v3m8 4v3m3-25v3m3-11v3m2-11v3m4-15v3m12-26v3m17 26v3m4-42v3m1-1v3m9-10v3" stroke="#00bf40" stroke-width="3" opacity="0.8"/><path d="M772 1589v3m0 8v3m4-13v3m13-7v3m0 5v3m8-32v3m0 15v3m1-8v3m2-14v3m16-30v3m2 5v3m0 1v3m1-4v3m0 0v3m4-6v3m1-1v3m4-19v3m1-7v3m2-2v3m3 15v3m7-21v3m5-7v3m1-11v3m3-23v3m8 13v3m8-31v3m13-11v3m2 1v3m2-15v3m1 16v3m1-21v3m3-7v3m2 19v3m2-24v3m1 8v3m7-11v3m3-9v3m10-8v3m14-23v3m20-24v3m3 2v3m11-4v3" stroke="#00d926" stroke-width="3" opacity="0.8"/><path d="M730 1649v3m40-50v3m22-32v3m1 3v3m4-13v3m1 3v3m2-8v3m7-19v3m1 8v3m1-19v3m5 8v3m3-22v3m4-12v3m2 23v3m1-13v3m0 4v3m2-12v3m0 8v3m4-23v3m2-6v3m1 4v3m1-24v3m2 7v3m5 3v3m0-1v3m6-11v3m1-16v3m1-14v3m4 8v3m0-1v3m1 0v3m8-22v3m1-10v3m0 28v3m3-20v3m8-17v3m2 9v3m1-2v3m9-26v3m2-5v3m1-9v3m5 13v3m10-18v3m2-28v3m20-9v3m1-1v3m3 12v3m10-32v3m7-12v3m42-32v3m13-31v3m5-10v3m23-6v3m6-23v3m4-25v3" stroke="#00f20d" stroke-width="3" opacity="0.8"/><path d="M782 1591v3m9-15v3m1-1v3m4 4v3m4-19v3m4-17v3m2-10v3m0 14v3m3 8v3m1-8v3m4-26v3m3 8v3m1-15v3m3 14v3m2-23v3m0 2v3m1 0v3m2-6v3m3-7v3m0 0v3m4-1v3m10 2v3m3-24v3m2-6v3m2-7v3m7-37v3m0 21v3m1-5v3m1 0v3m9-23v3m1-16v3m5-1v3m4-3v3m6-2v3m1-14v3m6 6v3m4-26v3m0 11v3m1 6v3m4-1v3m1-27v3m1 27v3m1-39v3m1 2v3m6-10v3m0 20v3m1-37v3m8-11v3m9 8v3m0-2v3m11-13v3m4-15v3m31-26v3m13-23v3m2-10v3m28 1v3m54-68v3" stroke="#0df200" stroke-width="3" opacity="0.8"/><path d="M743 1633v3m34-34v3m23-6v3m10-39v3m12-13v3m4-2v3m6-4v3m1-19v3m2 2v3m1 11v3m2-21v3m1 4v3m2-8v3m0 1v3m3-1v3m1-23v3m1-11v3m0-2v3m1 3v3m1 16v3m1-14v3m2 6v3m1-11v3m2-12v3m10-16v3m0 10v3m1-17v3m3-7v3m1 12v3m6-41v3m7-2v3m0 6v3m2-11v3m1-15v3m7 14v3m3-26v3m0 26v3m12-33v3m0 5v3m9-24v3m5 4v3m9-11v3m1-9v3m10 1v3m3-17v3m2-4v3m18-18v3m20-45v3m2-19v3m4 14v3m19-16v3m19-20v3m7 1v3" stroke="#26d900" stroke-width="3" opacity="0.8"/><path d="M732 1646v3m27-36v3m2-9v3m21-14v3m0 11v3m7-29v3m8-6v3m8-13v3m1 0v3m5-5v3m3-10v3m1-11v3m0-2v3m5 8v3m1-10v3m4-1v3m3-21v3m6-8v3m2 8v3m1-16v3m0 0v3m0 9v3m9-14v3m3-2v3m1-27v3m0 14v3m1-16v3m3 7v3m1-10v3m0 4v3m1-5v3m1-15v3m5-22v3m6 21v3m1-16v3m2-4v3m0 8v3m3-8v3m1-20v3m6 13v3m1-26v3m0 0v3m3 13v3m2-15v3m0-2v3m4-13v3m0 1v3m8-27v3m1 7v3m3-13v3m6 3v3m33-31v3m48-66v3m4-1v3m21-8v3" stroke="#40bf00" stroke-width="3" opacity="0.8"/><path d="M791 1586v3m5-13v3m3 1v3m3-13v3m0 19v3m9-33v3m1 0v3m3-2v3m1-1v3m5-28v3m2 3v3m12-3v3m2-6v3m1 5v3m11-15v3m7-3v3m2-16v3m8-13v3m11-17v3m9 5v3m5-15v3m12-18v3m9-13v3m0 15v3m4-15v3m1-32v3m5 1v3m1 15v3m5-28v3m13 11v3m1-31v3m10 14v3m5-29v3m16 2v3m5-28v3m0 8v3m4-15v3m30-46v3" stroke="#59a600" stroke-width="3" opacity="0.8"/><path d="M790 1590v3m3-8v3m0 2v3m0 8v3m1-18v3m5-10v3m0 2v3m2 0v3m2-12v3m0 4v3m6-13v3m1 2v3m6-22v3m2-1v3m10-3v3m2-6v3m1-16v3m0 6v3m2-24v3m2 15v3m2 2v3m4-14v3m1-4v3m4 11v3m2-19v3m4-11v3m3 5v3m2-9v3m2-23v3m2 14v3m7-32v3m2 26v3m5-17v3m1-5v3m2-16v3m1 2v3m27-30v3m5-17v3m8 30v3m1-35v3m20-19v3m3-32v3m2 25v3m9-12v3m10-28v3" stroke="#738c00" stroke-width="3" opacity="0.8"/><path d="M758 1628v3m32-28v3m1-16v3m0 21v3m2-28v3m1 9v3m9-13v3m1-19v3m0 6v3m1 3v3m4-18v3m2 1v3m1-3v3m3-14v3m2 6v3m5-14v3m8-18v3m0 10v3m1 2v3m2-35v3m2 22v3m2-17v3m1-7v3m3 4v3m0-2v3m3-24v3m3 3v3m5 2v3m1-3v3m2-13v3m6-13v3m0 6v3m1-11v3m2-13v3m0 4v3m0 12v3m3-8v3m4-6v3m10-24v3m3-4v3m2-18v3m3 23v3m15-13v3m8-35v3m13-39v3m4 40v3m5-21v3m12-10v3m11-25v3m9-20v3m11 3v3m3 2v3" stroke="#8c7300" stroke-width="3" opacity="0.8"/><path d="M758 1625v3m5 3v3m22-40v3m1 26v3m7-22v3m10-20v3m4-20v3m6 2v3m2-2v3m1-15v3m2-5v3m1 13v3m3-7v3m1-5v3m4-31v3m2 8v3m8 5v3m7-26v3m2 8v3m3-9v3m0 2v3m1-20v3m1 11v3m4-28v3m3 25v3m3-21v3m2-7v3m15-31v3m1 11v3m0 3v3m3-3v3m6-15v3m3-7v3m3-9v3m13 0v3m8-39v3m4 0v3m0 21v3m6-21v3m2-12v3m0 1v3m1-20v3m13-11v3m2 12v3m3-17v3m3-16v3m5 10v3m23-30v3m41-40v3" stroke="#a65900" stroke-width="3" opacity="0.8"/><path d="M780 1604v3m2 8v3m9-26v3m1-4v3m11-2v3m5-5v3m3-19v3m0 8v3m2-3v3m0 2v3m2-22v3m4-1v3m3-7v3m2 1v3m8-8v3m6-26v3m5 17v3m1-18v3m1-5v3m2 9v3m13-20v3m1-23v3m0 8v3m4-15v3m5 9v3m1-21v3m3-1v3m4 5v3m2-23v3m11 6v3m19-28v3m22-28v3m4-11v3m11-11v3m21-13v3m10-29v3m7 18v3m17-38v3" stroke="#bf4000" stroke-width="3" opacity="0.8"/><path d="M746 1645v3m34-39v3m3-4v3m0-2v3m21-15v3m3-21v3m0-2v3m0 4v3m3-12v3m0 2v3m6-10v3m2-18v3m8-3v3m0-1v3m0 0v3m1-15v3m0 12v3m2 4v3m2-20v3m1-11v3m1 8v3m3-3v3m4-14v3m0 1v3m3-11v3m4-3v3m2-28v3m2 24v3m2-10v3m2-1v3m4-15v3m5 26v3m18-58v3m2-9v3m8-7v3m4-1v3m0-1v3m4-19v3m4 0v3m0 4v3m1 12v3m24-47v3m7-14v3m1-2v3m0 5v3m13 9v3m13-42v3m2 4v3m12-25v3" stroke="#d92600" stroke-width="3" opacity="0.8"/><path d="M756 1629v3m22-24v3m0 4v3m1 1v3m11-25v3m9-3v3m3-12v3m4-16v3m0 16v3m1-12v3m2-24v3m0 10v3m6-9v3m1 0v3m0 8v3m4-8v3m1-4v3m1-11v3m3-11v3m1 0v3m1-10v3m4-2v3m5-8v3m2 1v3m1-14v3m1-5v3m2 5v3m2-18v3m2 4v3m4-3v3m2 4v3m2-9v3m3-23v3m1 4v3m4-2v3m2-11v3m2-7v3m1-6v3m4 8v3m4-3v3m6-25v3m9-20v3m0 21v3m4 4v3m1-29v3m0 5v3m3-18v3m3-5v3m4 21v3m1-21v3m16-16v3m3-23v3m1-7v3m8 4v3m6 1v3m5-32v3m9 12v3m21-9v3m14-33v3m48-70v3m25-20v3" stroke="#f20d00" stroke-width="3" opacity="0.8"/><path d="M772 1620v3m5-14v3m12-12v3m3-16v3m3 5v3m12-4v3m1-11v3m7-23v3m4 9v3m4-11v3m1 3v3m1-6v3m3-31v3m1 18v3m0 9v3m1-22v3m1-7v3m5-18v3m0 17v3m2-5v3m1-11v3m1 3v3m1-7v3m1 5v3m1-35v3m0 15v3m2 7v3m5-17v3m0-1v3m0 5v3m6-10v3m9-9v3m10-34v3m5-13v3m2 15v3m1 3v3m2-12v3m6-3v3m10-32v3m9-13v3m0 16v3m3-16v3m3 3v3m6-8v3m10-32v3m18-20v3m0 41v3m8-48v3m30-33v3m21-24v3m57-47v3" stroke="#ff0d00" stroke-width="3" opacity="0.8"/><path d="M732 1653v3m4 1v3m11-17v3m42-34v3m4-12v3m2-23v3m7-14v3m1 5v3m4 4v3m4-13v3m0 7v3m2-15v3m1 8v3m2 4v3m1-39v3m0 22v3m1-12v3m2 2v3m2-4v3m1 9v3m2-30v3m8-21v3m2 4v3m0 5v3m2-5v3m4 3v3m1-24v3m3 10v3m9-14v3m9-29v3m5-9v3m2-4v3m0 15v3m3-22v3m14 1v3m0 7v3m2-1v3m3-8v3m6-15v3m4-10v3m2-10v3m5-34v3m6-4v3m5 12v3m0 1v3m2-4v3m1-6v3m4-25v3m20-16v3m23-31v3" stroke="#ff2600" stroke-width="3" opacity="0.8"/><path d="M767 1624v3m17-29v3m4 0v3m1-7v3m7-7v3m2-8v3m6 9v3m4-9v3m2 0v3m4-25v3m7-1v3m2-7v3m2-11v3m5-3v3m2-16v3m4 2v3m1-5v3m2-19v3m6 10v3m3-12v3m0 4v3m7-32v3m0 6v3m0 1v3m0-2v3m1-5v3m1 15v3m6 0v3m2-25v3m0 4v3m1-5v3m4-14v3m2-8v3m3 10v3m1-33v3m5 8v3m8-11v3m4-21v3m8-3v3m6-13v3m0 0v3m0 3v3m4-9v3m0 1v3m0 21v3m6-18v3m17-45v3m2-14v3m14 24v3m124-148v3" stroke="#ff4000" stroke-width="3" opacity="0.8"/><path d="M761 1630v3m12-19v3m1 17v3m8-34v3m0 8v3m6-9v3m1-14v3m3-2v3m12-5v3m10-19v3m1-21v3m2-3v3m5 6v3m4 0v3m2-20v3m1-7v3m1 16v3m2-7v3m0 1v3m4-28v3m1 1v3m1-2v3m6-22v3m9-11v3m2-17v3m2 24v3m1-6v3m10-15v3m1 7v3m1-15v3m3-15v3m1 15v3m3-14v3m0 3v3m2-6v3m7 4v3m1-17v3m0 9v3m1-9v3m10-14v3m6-21v3m6-31v3m0 45v3m4-28v3m8-8v3m17-27v3m5-32v3m20 10v3m5 1v3m13-26v3m11-22v3m9-4v3" stroke="#ff5900" stroke-width="3" opacity="0.8"/><path d="M764 1612v3m19 0v3m5-6v3m1-21v3m11-18v3m1 1v3m4-1v3m8-6v3m2 1v3m2-19v3m2-9v3m4-5v3m1-4v3m1 12v3m4-19v3m0 4v3m1 3v3m5-25v3m1-8v3m0 4v3m0 1v3m0 4v3m2-13v3m0 0v3m5-23v3m0 8v3m3-5v3m2-7v3m7-14v3m4-7v3m0 15v3m1-18v3m1 4v3m2-10v3m0-1v3m4-13v3m0 3v3m2-3v3m1-6v3m1-10v3m2-5v3m0 4v3m3-29v3m0 14v3m0 0v3m0 0v3m3 0v3m1-15v3m3-3v3m2 0v3m3-32v3m1 8v3m1-1v3m16-13v3m4-28v3m0 11v3m9-15v3m0-2v3m11 2v3m2-20v3m21-20v3m24-17v3" stroke="#ff7300" stroke-width="3" opacity="0.8"/><path d="M773 1619v3m8-17v3m7-4v3m7-9v3m1-15v3m0 8v3m5-13v3m5-26v3m4 15v3m0-1v3m8-22v3m2-16v3m0 0v3m0 3v3m1-7v3m0 5v3m1-7v3m5 9v3m1-4v3m6-19v3m6-14v3m14-15v3m1-10v3m3-18v3m3 16v3m2 13v3m1-35v3m0 4v3m3-1v3m2 6v3m2-12v3m4-19v3m1-6v3m2 0v3m3-6v3m6 6v3m2-32v3m9 9v3m26-51v3m7 6v3m10 3v3m0-1v3m10-38v3m8 11v3m6-12v3m77-104v3" stroke="#ff8c00" stroke-width="3" opacity="0.8"/><path d="M736 1648v3m42-48v3m10-9v3m5 2v3m1-5v3m10-30v3m0 21v3m1-9v3m3-36v3m0 13v3m5-3v3m1-17v3m3-6v3m1 8v3m3-8v3m8-7v3m8-33v3m1 19v3m3-1v3m3-13v3m0-2v3m1-1v3m2-19v3m4-12v3m11-6v3m20-2v3m18-33v3m7 1v3m3-20v3m3-1v3m18-15v3m1-24v3m3 0v3m4-19v3m10 17v3m1-32v3m65-44v3" stroke="#ffa600" stroke-width="3" opacity="0.8"/><path d="M785 1601v3m2-6v3m11-21v3m2-10v3m5-7v3m5 1v3m3 0v3m3-30v3m2 0v3m0 2v3m4-17v3m1 10v3m11-33v3m3-5v3m2 6v3m1 15v3m2-28v3m2-2v3m1-7v3m1 1v3m2 5v3m1 17v3m8-48v3m0 18v3m7-23v3m0 6v3m5-20v3m3-6v3m1 15v3m2-11v3m1-1v3m1-14v3m3 3v3m0 5v3m3 1v3m5-16v3m1-25v3m0 4v3m2-3v3m2-1v3m7-8v3m9-29v3m14 14v3m2-9v3m6-24v3m6 5v3m5-22v3m13-6v3m10-35v3m100-89v3" stroke="#ffbf00" stroke-width="3" opacity="0.8"/><path d="M743 1633v3m42-47v3m4-1v3m10-10v3m1-20v3m21-15v3m3 6v3m0-2v3m2-26v3m7-9v3m2 17v3m3-24v3m1 6v3m16-24v3m2 0v3m1 1v3m15-30v3m6-21v3m11 10v3m0 2v3m2-17v3m7-27v3m1 19v3m6-7v3m3-27v3m2-9v3m3-10v3m8 13v3m12-31v3m16 3v3m17-24v3m27-37v3m54-43v3" stroke="#ffd900" stroke-width="3" opacity="0.8"/><path d="M788 1594v3m5-25v3m9-6v3m5-9v3m0-1v3m2 5v3m1-3v3m0 4v3m1-17v3m2-7v3m1-8v3m1 3v3m8-9v3m1-14v3m5 2v3m3-12v3m1 7v3m1-13v3m1-16v3m1 16v3m3-12v3m1-11v3m7-2v3m1 3v3m1-26v3m1-6v3m3 20v3m4-11v3m1-18v3m10-4v3m3-19v3m6 3v3m0-3v3m3-11v3m11-19v3m0 10v3m0 8v3m0-2v3m3-26v3m0 1v3m0 15v3m12-26v3m12-14v3m3-6v3m0 10v3m14-25v3m57-72v3m10-6v3m41-50v3m25 0v3" stroke="#fff200" stroke-width="3" opacity="0.8"/><path d="M786 1576v3m7-5v3m0-2v3m4-21v3m1 13v3m0 3v3m7-18v3m3-4v3m2-8v3m1-4v3m2 1v3m4-7v3m0-3v3m2-8v3m6-6v3m2-10v3m1 2v3m3-28v3m2-4v3m2 15v3m7-13v3m0 0v3m2-11v3m2-10v3m5-4v3m0 0v3m1-6v3m2-3v3m2 0v3m1-10v3m5 3v3m2-2v3m1-20v3m3-16v3m0 26v3m5-37v3m8-7v3m2 4v3m3-18v3m0 20v3m5-10v3m9-22v3m1-1v3m8-5v3m14-25v3m7-9v3m2 1v3m13-23v3m7-24v3m2 2v3m5 1v3m17-14v3m38-58v3" stroke="#f2f20d" stroke-width="3" opacity="0.8"/><path d="M736 1632v3m60-58v3m5 2v3m2-13v3m5-2v3m8-32v3m1 20v3m6-31v3m2 4v3m1-6v3m0 9v3m2-11v3m2-12v3m2-3v3m2-19v3m2 9v3m1-5v3m1-2v3m1-17v3m0-1v3m0 12v3m2-9v3m0-2v3m4-4v3m3-15v3m2 6v3m2-13v3m1-3v3m1-19v3m1 6v3m9-23v3m0 19v3m4-14v3m8-9v3m1-8v3m1 9v3m6-26v3m10-2v3m5 4v3m4-29v3m7-2v3m1 15v3m3-31v3m4 1v3m3-6v3m9-39v3m1 30v3m1-34v3m0 8v3m17-23v3m2-11v3m6 18v3m6-22v3" stroke="#d9d926" stroke-width="3" opacity="0.8"/><path d="M777 1603v3m5-24v3m11-6v3m4-21v3m1 17v3m5-17v3m2-5v3m4-8v3m4 0v3m3-4v3m3-20v3m3-5v3m0-2v3m4-15v3m5-1v3m0 2v3m1 1v3m1-20v3m0 14v3m1-23v3m1 4v3m0-1v3m2-2v3m0 8v3m2-26v3m0 14v3m3-23v3m1-3v3m0-2v3m2-3v3m5-10v3m1-6v3m2-12v3m0 11v3m0 2v3m4-10v3m1-12v3m2-23v3m6 15v3m1-7v3m2-23v3m0 13v3m9-11v3m0 3v3m1-5v3m5-10v3m4-22v3m0 5v3m5 14v3m11-20v3m2-14v3m14-21v3m8 0v3m2-8v3m4-2v3m4-42v3m22-7v3m8-19v3m12-11v3m2-6v3m32-49v3m14 12v3m5-25v3" stroke="#bfbf40" stroke-width="3" opacity="0.8"/><path d="M761 1609v3m7-9v3m31-37v3m7-14v3m16-7v3m1-13v3m3-15v3m0 0v3m2-18v3m0 3v3m5-2v3m6-1v3m0 6v3m3-22v3m4 4v3m9-9v3m3-28v3m0 1v3m0 0v3m2-10v3m7-12v3m3-3v3m11-12v3m0 10v3m5-21v3m5-12v3m5-7v3m18-8v3m5 1v3m32-67v3m6 20v3m2-16v3m5 0v3m24-28v3" stroke="#a6a659" stroke-width="3" opacity="0.8"/><path d="M767 1580v3m19-9v3m4-12v3m6-1v3m1-18v3m4 3v3m5-11v3m3-4v3m17-3v3m6-32v3m9-2v3m3-19v3m0 7v3m2-14v3m4 1v3m4-2v3m5-16v3m0 8v3m4-24v3m3 18v3m1-11v3m8-18v3m1-1v3m3-18v3m2 1v3m8-14v3m7-19v3m7 3v3m12-14v3m19-27v3m30-28v3" stroke="#8c8c73" stroke-width="3" opacity="0.8"/><path d="M775 1579v3m9-4v3m4-8v3m1-2v3m5-7v3m6-23v3m4 3v3m1-3v3m0 1v3m8-21v3m2 0v3m2 3v3m0 1v3m1-13v3m4-18v3m0 2v3m5-15v3m0-2v3m4 12v3m0-1v3m1-27v3m0 6v3m0 5v3m0 1v3m0-3v3m1-27v3m0 21v3m3-16v3m1-3v3m1 0v3m1-6v3m1-17v3m1 20v3m5-36v3m2 8v3m7 1v3m3-19v3m0 12v3m1-25v3m0 4v3m4-5v3m0 2v3m3-24v3m0 0v3m16-13v3m11-22v3m12 7v3m16-49v3m2-2v3m0 4v3m22-27v3m2-8v3m41-24v3m14-30v3m4-24v3m26-22v3" stroke="#73738c" stroke-width="3" opacity="0.8"/><path d="M768 1597v3m6-12v3m8-16v3m5 6v3m1-4v3m4-6v3m4-26v3m2-7v3m1 14v3m6-22v3m1-21v3m3 7v3m3-4v3m7-11v3m4-11v3m4-7v3m1 13v3m4 2v3m2-22v3m2-8v3m2-23v3m0 26v3m6-1v3m1-34v3m0 12v3m0-3v3m1-21v3m4 11v3m8-26v3m1 0v3m8 2v3m4-28v3m3 14v3m2-5v3m6-9v3m2-16v3m2-15v3m7 32v3m3-28v3m4-8v3m1-22v3m5 2v3m0 25v3m4-51v3m16 4v3m4-28v3m3-14v3m10 4v3m0-1v3m34-40v3m12-1v3m11-20v3m32-42v3" stroke="#5959a6" stroke-width="3" opacity="0.8"/><path d="M730 1620v3m41-25v3m16-26v3m1-7v3m0 2v3m2-7v3m4-19v3m0 6v3m9-24v3m8 3v3m2-12v3m2 0v3m9-13v3m0 0v3m5-27v3m1 21v3m2-18v3m2 9v3m6-20v3m1-2v3m1-7v3m2-11v3m1-9v3m1 18v3m1-25v3m2-7v3m3 8v3m4-2v3m2-1v3m6-16v3m3-17v3m4-19v3m0 23v3m2-19v3m3 8v3m2 4v3m1-17v3m0-1v3m2-17v3m5 8v3m3-20v3m1-13v3m0 17v3m5-12v3m3-19v3m6 10v3m6-37v3m25-20v3m3-2v3m26-22v3m5 1v3m40-88v3" stroke="#4040bf" stroke-width="3" opacity="0.8"/><path d="M734 1619v3m52-55v3m8-7v3m0 7v3m3-19v3m1 5v3m10-11v3m2-21v3m3 0v3m2-13v3m4 3v3m10-24v3m9-4v3m3 2v3m3-5v3m2-22v3m0 1v3m0 6v3m6-22v3m0 10v3m1-10v3m3 5v3m2-14v3m1-11v3m1-6v3m2-13v3m2 5v3m8-17v3m0 14v3m11-41v3m2 15v3m4 4v3m8-33v3m7 10v3m1-7v3m4-40v3m7 3v3m28-12v3m14-21v3m5-16v3m38-60v3m15-15v3" stroke="#2626d9" stroke-width="3" opacity="0.8"/><path d="M729 1635v3m20-28v3m26-29v3m10-22v3m13-9v3m1-9v3m3-1v3m1-12v3m0-1v3m0-1v3m0 1v3m4-14v3m0 0v3m5-9v3m3-3v3m0-1v3m1-1v3m4-12v3m6-28v3m9 13v3m1 0v3m3-27v3m1 1v3m2 1v3m3-10v3m1 9v3m1-13v3m1-10v3m6 5v3m1-10v3m3-23v3m10-3v3m1-15v3m3 8v3m0 6v3m2-5v3m1-17v3m17-25v3m0-3v3m3 2v3m10-18v3m4 11v3m1-31v3m6 6v3m4-20v3m2 17v3m16-50v3m5 5v3m1-2v3" stroke="#0d0df2" stroke-width="3" opacity="0.8"/>
<path d="M708.5 1280.7 V1662.3 H1091.6" fill="none" stroke="#888" stroke-width="1.4"/><path d="M785.1 1662.3 v-4 M708.5 1586.0 h4" stroke="#888" stroke-width="1.2"/><path d="M861.7 1662.3 v-4 M708.5 1509.7 h4" stroke="#888" stroke-width="1.2"/><path d="M938.4 1662.3 v-4 M708.5 1433.3 h4" stroke="#888" stroke-width="1.2"/><path d="M1015.0 1662.3 v-4 M708.5 1357.0 h4" stroke="#888" stroke-width="1.2"/><path d="M1091.6 1662.3 v-4 M708.5 1280.7 h4" stroke="#888" stroke-width="1.2"/><text x="708.5" y="1691.3" font-size="23.5" text-anchor="middle" font-family='"Liberation Sans", sans-serif' fill="#111">0</text><text x="699.1" y="1670.6" font-size="23.5" text-anchor="end" font-family='"Liberation Sans", sans-serif' fill="#111">0</text><text x="785.1" y="1691.3" font-size="23.5" text-anchor="middle" font-family='"Liberation Sans", sans-serif' fill="#111">1</text><text x="699.1" y="1594.3" font-size="23.5" text-anchor="end" font-family='"Liberation Sans", sans-serif' fill="#111">1</text><text x="861.7" y="1691.3" font-size="23.5" text-anchor="middle" font-family='"Liberation Sans", sans-serif' fill="#111">2</text><text x="699.1" y="1518.0" font-size="23.5" text-anchor="end" font-family='"Liberation Sans", sans-serif' fill="#111">2</text><text x="938.4" y="1691.3" font-size="23.5" text-anchor="middle" font-family='"Liberation Sans", sans-serif' fill="#111">3</text><text x="699.1" y="1441.6" font-size="23.5" text-anchor="end" font-family='"Liberation Sans", sans-serif' fill="#111">3</text><text x="1015.0" y="1691.3" font-size="23.5" text-anchor="middle" font-family='"Liberation Sans", sans-serif' fill="#111">4</text><text x="699.1" y="1365.3" font-size="23.5" text-anchor="end" font-family='"Liberation Sans", sans-serif' fill="#111">4</text><text x="1091.6" y="1691.3" font-size="23.5" text-anchor="middle" font-family='"Liberation Sans", sans-serif' fill="#111">5</text><text x="699.1" y="1289.0" font-size="23.5" text-anchor="end" font-family='"Liberation Sans", sans-serif' fill="#111">5</text><path d="M708.5 1662.3 L1091.6 1280.7" stroke="#222" stroke-width="1.1"/><text x="900.0" y="1719.9" font-size="23" text-anchor="middle" font-family='"Liberation Sans", sans-serif' fill="#111">HS<tspan font-size="18" dx="1.2" dy="12">ADS</tspan><tspan dx="1.7" dy="-12"> [m]</tspan></text><text transform="translate(667.2,1471.5) rotate(-90)" x="0" y="0" font-size="23" text-anchor="middle" font-family='"Liberation Sans", sans-serif' fill="#111">HS<tspan font-size="18" dx="1.2" dy="12">sim</tspan><tspan dx="1.7" dy="-12"> [m]</tspan></text><rect x="1112.8" y="1281.00" width="29.2" height="6.36" fill="#0808f7"/><rect x="1112.8" y="1286.96" width="29.2" height="6.36" fill="#1818e7"/><rect x="1112.8" y="1292.92" width="29.2" height="6.36" fill="#2828d7"/><rect x="1112.8" y="1298.87" width="29.2" height="6.36" fill="#3838c7"/><rect x="1112.8" y="1304.83" width="29.2" height="6.36" fill="#4848b7"/><rect x="1112.8" y="1310.79" width="29.2" height="6.36" fill="#5858a7"/><rect x="1112.8" y="1316.75" width="29.2" height="6.36" fill="#686897"/><rect x="1112.8" y="1322.70" width="29.2" height="6.36" fill="#787887"/><rect x="1112.8" y="1328.66" width="29.2" height="6.36" fill="#878778"/><rect x="1112.8" y="1334.62" width="29.2" height="6.36" fill="#979768"/><rect x="1112.8" y="1340.58" width="29.2" height="6.36" fill="#a7a758"/><rect x="1112.8" y="1346.54" width="29.2" height="6.36" fill="#b7b748"/><rect x="1112.8" y="1352.49" width="29.2" height="6.36" fill="#c7c738"/><rect x="1112.8" y="1358.45" width="29.2" height="6.36" fill="#d7d728"/><rect x="1112.8" y="1364.41" width="29.2" height="6.36" fill="#e7e718"/><rect x="1112.8" y="1370.37" width="29.2" height="6.36" fill="#f7f708"/><rect x="1112.8" y="1376.33" width="29.2" height="6.36" fill="#fff700"/><rect x="1112.8" y="1382.28" width="29.2" height="6.36" fill="#ffe700"/><rect x="1112.8" y="1388.24" width="29.2" height="6.36" fill="#ffd700"/><rect x="1112.8" y="1394.20" width="29.2" height="6.36" fill="#ffc700"/><rect x="1112.8" y="1400.16" width="29.2" height="6.36" fill="#ffb700"/><rect x="1112.8" y="1406.11" width="29.2" height="6.36" fill="#ffa700"/><rect x="1112.8" y="1412.07" width="29.2" height="6.36" fill="#ff9700"/><rect x="1112.8" y="1418.03" width="29.2" height="6.36" fill="#ff8700"/><rect x="1112.8" y="1423.99" width="29.2" height="6.36" fill="#ff7800"/><rect x="1112.8" y="1429.95" width="29.2" height="6.36" fill="#ff6800"/><rect x="1112.8" y="1435.90" width="29.2" height="6.36" fill="#ff5800"/><rect x="1112.8" y="1441.86" width="29.2" height="6.36" fill="#ff4800"/><rect x="1112.8" y="1447.82" width="29.2" height="6.36" fill="#ff3800"/><rect x="1112.8" y="1453.78" width="29.2" height="6.36" fill="#ff2800"/><rect x="1112.8" y="1459.73" width="29.2" height="6.36" fill="#ff1800"/><rect x="1112.8" y="1465.69" width="29.2" height="6.36" fill="#ff0800"/><rect x="1112.8" y="1471.65" width="29.2" height="6.36" fill="#f70800"/><rect x="1112.8" y="1477.61" width="29.2" height="6.36" fill="#e71800"/><rect x="1112.8" y="1483.57" width="29.2" height="6.36" fill="#d72800"/><rect x="1112.8" y="1489.52" width="29.2" height="6.36" fill="#c73800"/><rect x="1112.8" y="1495.48" width="29.2" height="6.36" fill="#b74800"/><rect x="1112.8" y="1501.44" width="29.2" height="6.36" fill="#a75800"/><rect x="1112.8" y="1507.40" width="29.2" height="6.36" fill="#976800"/><rect x="1112.8" y="1513.35" width="29.2" height="6.36" fill="#877800"/><rect x="1112.8" y="1519.31" width="29.2" height="6.36" fill="#788700"/><rect x="1112.8" y="1525.27" width="29.2" height="6.36" fill="#689700"/><rect x="1112.8" y="1531.23" width="29.2" height="6.36" fill="#58a700"/><rect x="1112.8" y="1537.19" width="29.2" height="6.36" fill="#48b700"/><rect x="1112.8" y="1543.14" width="29.2" height="6.36" fill="#38c700"/><rect x="1112.8" y="1549.10" width="29.2" height="6.36" fill="#28d700"/><rect x="1112.8" y="1555.06" width="29.2" height="6.36" fill="#18e700"/><rect x="1112.8" y="1561.02" width="29.2" height="6.36" fill="#08f700"/><rect x="1112.8" y="1566.97" width="29.2" height="6.36" fill="#00f708"/><rect x="1112.8" y="1572.93" width="29.2" height="6.36" fill="#00e718"/><rect x="1112.8" y="1578.89" width="29.2" height="6.36" fill="#00d728"/><rect x="1112.8" y="1584.85" width="29.2" height="6.36" fill="#00c738"/><rect x="1112.8" y="1590.81" width="29.2" height="6.36" fill="#00b748"/><rect x="1112.8" y="1596.76" width="29.2" height="6.36" fill="#00a758"/><rect x="1112.8" y="1602.72" width="29.2" height="6.36" fill="#009768"/><rect x="1112.8" y="1608.68" width="29.2" height="6.36" fill="#008778"/><rect x="1112.8" y="1614.64" width="29.2" height="6.36" fill="#007887"/><rect x="1112.8" y="1620.60" width="29.2" height="6.36" fill="#006897"/><rect x="1112.8" y="1626.55" width="29.2" height="6.36" fill="#0058a7"/><rect x="1112.8" y="1632.51" width="29.2" height="6.36" fill="#0048b7"/><rect x="1112.8" y="1638.47" width="29.2" height="6.36" fill="#0038c7"/><rect x="1112.8" y="1644.43" width="29.2" height="6.36" fill="#0028d7"/><rect x="1112.8" y="1650.38" width="29.2" height="6.36" fill="#0018e7"/><rect x="1112.8" y="1656.34" width="29.2" height="6.36" fill="#0008f7"/><rect x="1112.8" y="1281.0" width="29.2" height="381.3" fill="none" stroke="#444" stroke-width="1"/><text x="1149.3" y="1288.5" font-size="21.2" font-family='"Liberation Sans", sans-serif' fill="#111">N</text><path d="M1142.0 1376.3 h-3" stroke="#333" stroke-width="1"/><text x="1149.3" y="1383.8" font-size="21.2" font-family='"Liberation Sans", sans-serif' fill="#111">W</text><path d="M1142.0 1471.7 h-3" stroke="#333" stroke-width="1"/><text x="1149.3" y="1479.2" font-size="21.2" font-family='"Liberation Sans", sans-serif' fill="#111">S</text><path d="M1142.0 1567.0 h-3" stroke="#333" stroke-width="1"/><text x="1149.3" y="1574.5" font-size="21.2" font-family='"Liberation Sans", sans-serif' fill="#111">E</text><text x="1149.3" y="1669.8" font-size="21.2" font-family='"Liberation Sans", sans-serif' fill="#111">N</text><text transform="translate(1192.4,1471.7) rotate(-90)" x="0" y="0" font-size="21" text-anchor="middle" font-family='"Liberation Sans", sans-serif' fill="#111">Aspect</text>
<path d="M774 2201v3m30-41v3m10-9v3m10-12v3m9-11v3m3-6v3m6-12v3m6-12v3m2-2v3m4-2v3m4-13v3m6-4v3m4-20v3m0 6v3m3-2v3m10-16v3m1-13v3m21-17v3m5-11v3m14-14v3m8-16v3m31-28v3m19-30v3m1-4v3m74-79v3" stroke="#000df2" stroke-width="3" opacity="0.6"/><path d="M759 2214v3m33-40v3m5-1v3m1-13v3m4-4v3m7-12v3m14-19v3m7-10v3m0 3v3m2-6v3m2-8v3m11-13v3m5-4v3m1-4v3m3-9v3m11-11v3m8-16v3m6-9v3m4-2v3m11-16v3m13-15v3m75-82v3m65-67v3" stroke="#0026d9" stroke-width="3" opacity="0.6"/><path d="M783 2188v3m10-12v3m4-10v3m6-10v3m1 1v3m3-5v3m3-10v3m1-8v3m4-2v3m4-9v3m1 0v3m6-8v3m2-9v3m3-10v3m7-4v3m6-14v3m26-24v3m3-13v3m0 5v3m4-10v3m12-24v3m6-2v3m3-9v3m6-7v3m11-20v3m21-12v3m25-38v3m4 2v3m41-47v3" stroke="#0040bf" stroke-width="3" opacity="0.6"/><path d="M811 2160v3m6-9v3m6-9v3m6-10v3m11-16v3m1-1v3m1-1v3m6-12v3m8-9v3m8-13v3m1 4v3m2-21v3m2 0v3m9-10v3m14-20v3m0 0v3m0 1v3m23-32v3m2-5v3m3-12v3m0 1v3m10-10v3m30-33v3" stroke="#0059a6" stroke-width="3" opacity="0.6"/><path d="M767 2201v3m34-39v3m15-12v3m14-15v3m3-8v3m2-4v3m4-11v3m6-9v3m2-3v3m3-6v3m0-3v3m4-5v3m6-9v3m2-3v3m5-15v3m8-4v3m2-12v3m1-2v3m2-11v3m22-24v3m2-3v3m25-32v3m11-12v3m16-17v3m27-29v3" stroke="#00738c" stroke-width="3" opacity="0.6"/><path d="M745 2229v3m35-38v3m1-4v3m11-17v3m1-3v3m1-6v3m4-5v3m3-8v3m7-8v3m18-21v3m2-5v3m3-5v3m1-8v3m1-1v3m5-11v3m1-4v3m3-2v3m3-14v3m2-1v3m4-7v3m3-6v3m6-2v3m11-24v3m8-4v3m1-6v3m8-5v3m4-13v3m2-7v3m5-9v3m1-7v3m52-47v3m16-16v3m20-36v3" stroke="#008c73" stroke-width="3" opacity="0.6"/><path d="M766 2204v3m1-2v3m14-16v3m8-17v3m9-5v3m8-13v3m10-16v3m0-1v3m13-10v3m1-10v3m25-25v3m19-26v3m5-8v3m1-2v3m7-9v3m23-25v3m13-24v3m24-20v3m42-53v3m1 0v3" stroke="#00a659" stroke-width="3" opacity="0.6"/><path d="M757 2216v3m22-28v3m6-11v3m16-13v3m15-16v3m3-15v3m4 4v3m8-17v3m16-16v3m1-7v3m19-21v3m5-9v3m3-4v3m14-23v3m3 1v3m12-24v3m2 8v3m5-16v3m1-1v3m26-28v3m5-5v3m2-8v3m11-15v3m12-22v3m23-20v3m90-91v3" stroke="#00bf40" stroke-width="3" opacity="0.6"/><path d="M809 2163v3m4-7v3m3-4v3m1-6v3m2-4v3m6-5v3m1-6v3m11-16v3m5-6v3m1-8v3m4-6v3m0 0v3m0-2v3m2-10v3m5-2v3m2-8v3m0-1v3m3-6v3m3-11v3m1-5v3m2-7v3m5-6v3m0-2v3m2-9v3m2 3v3m10-20v3m9-11v3m3 1v3m1-11v3m6-8v3m1-2v3m8-10v3m35-36v3m5-17v3" stroke="#00d926" stroke-width="3" opacity="0.6"/><path d="M794 2180v3m2-7v3m5-1v3m14-26v3m7-15v3m5-3v3m1 2v3m1-7v3m10-9v3m5-14v3m0-1v3m6-9v3m10-13v3m1-4v3m3-5v3m4-4v3m2-11v3m16-22v3m1 0v3m3-6v3m7-9v3m31-41v3m55-49v3" stroke="#00f20d" stroke-width="3" opacity="0.6"/><path d="M789 2184v3m1-8v3m5-8v3m28-26v3m8-10v3m3-8v3m22-25v3m0-3v3m8-6v3m5-11v3m6-6v3m7-22v3m0 5v3m1-2v3m39-47v3m15-4v3m24-35v3m11-14v3m37-37v3" stroke="#0df200" stroke-width="3" opacity="0.6"/><path d="M789 2189v3m3-11v3m9-12v3m14-16v3m13-22v3m13-11v3m2-8v3m0 2v3m4-7v3m7-7v3m17-20v3m2-1v3m6-17v3m1-5v3m1 3v3m6-12v3m13-19v3m11-16v3m5-7v3m15-14v3m5-9v3m7-9v3m2 4v3m18-32v3" stroke="#26d900" stroke-width="3" opacity="0.6"/><path d="M732 2242v3m40-43v3m12-14v3m3-7v3m10-10v3m2-6v3m0-2v3m2-5v3m2-4v3m2-9v3m1-6v3m12-12v3m2-2v3m6-12v3m3-3v3m1-1v3m4-11v3m1-6v3m0-2v3m5-12v3m7-9v3m3-3v3m8-13v3m0 0v3m4-4v3m18-25v3m3-1v3m10-16v3m2-11v3m2-1v3m0 3v3m3-10v3m8-5v3m3-13v3m10-21v3m0 6v3m8-10v3m11-14v3m21-27v3m15-19v3m2 2v3m23-33v3" stroke="#40bf00" stroke-width="3" opacity="0.6"/><path d="M769 2201v3m14-10v3m11-18v3m17-16v3m1-7v3m1 1v3m3-10v3m0-1v3m1-4v3m1-1v3m2-14v3m0 0v3m1-6v3m5-4v3m2-6v3m6-15v3m3-3v3m1-3v3m0 1v3m1-7v3m1-7v3m0 2v3m2-10v3m2-3v3m0 2v3m3-9v3m0-2v3m1-5v3m11-10v3m3-16v3m5-7v3m0 9v3m3-16v3m0 3v3m17-17v3m15-21v3m11-8v3m2-13v3m4-11v3m11-1v3m17-28v3m13-14v3m15-14v3m9-12v3" stroke="#59a600" stroke-width="3" opacity="0.6"/><path d="M773 2200v3m13-11v3m8-13v3m27-31v3m1-3v3m3-2v3m4-10v3m4-9v3m0 0v3m1-8v3m3-5v3m2-2v3m3-16v3m8-2v3m2-4v3m0 1v3m1-13v3m4-1v3m2-10v3m17-13v3m2-12v3m3 1v3m3-12v3m1-3v3m13-17v3m18-10v3m18-14v3m14-28v3m2-2v3m3-5v3m73-83v3" stroke="#738c00" stroke-width="3" opacity="0.6"/><path d="M784 2188v3m2-4v3m8-11v3m4-2v3m7-11v3m5-11v3m5 1v3m3-15v3m2-7v3m1 2v3m6-6v3m14-19v3m10-15v3m8-4v3m4-11v3m8-11v3m3-6v3m1-3v3m10-18v3m0 2v3m10-23v3m0 2v3m8-3v3m10-16v3m10-15v3m3-7v3m1-2v3m0 4v3m4-12v3m1-12v3m1 1v3m7-6v3m4-5v3" stroke="#8c7300" stroke-width="3" opacity="0.6"/><path d="M784 2194v3m13-21v3m9-9v3m11-14v3m11-13v3m3-7v3m2-3v3m14-15v3m2-11v3m4-2v3m3-8v3m2-2v3m5-8v3m17-23v3m4-4v3m0-1v3m11-18v3m9-17v3m8 5v3m10-24v3m4-11v3m2 3v3m6-11v3m4-5v3m16-20v3m24-23v3" stroke="#a65900" stroke-width="3" opacity="0.6"/><path d="M771 2206v3m13-19v3m9-14v3m6-3v3m10-16v3m19-16v3m2-8v3m5-17v3m4 5v3m9-14v3m2-1v3m7-17v3m2-4v3m4-1v3m2-6v3m2-6v3m9-10v3m3-12v3m8-11v3m14-9v3m10-17v3m23-18v3m147-148v3" stroke="#bf4000" stroke-width="3" opacity="0.6"/><path d="M740 2237v3m14-18v3m22-24v3m7-10v3m6-7v3m9-14v3m3-11v3m6-2v3m2-2v3m2-14v3m1 1v3m9-15v3m0-1v3m2-5v3m2-3v3m7-11v3m1-1v3m18-23v3m5-14v3m3-3v3m12-14v3m6-4v3m4-6v3m11-21v3m4-3v3m2-7v3m3-5v3m3-4v3m11-5v3m11-25v3m7-8v3m2-3v3m11-15v3m9-13v3m46-46v3m2 0v3m13-23v3" stroke="#d92600" stroke-width="3" opacity="0.6"/><path d="M771 2204v3m14-13v3m25-30v3m2-7v3m12-17v3m1 4v3m6-15v3m1-1v3m4-8v3m12-16v3m3-2v3m1-4v3m3-11v3m2 4v3m3-11v3m2-4v3m1-2v3m8-12v3m4-5v3m6-6v3m6-14v3m8-13v3m2-2v3m13-15v3m28-33v3m10-13v3m14-16v3" stroke="#f20d00" stroke-width="3" opacity="0.6"/><path d="M731 2242v3m33-36v3m29-28v3m7-7v3m2-10v3m25-31v3m2-1v3m2 0v3m1-12v3m2-2v3m4 0v3m3-9v3m3-6v3m2-6v3m1-1v3m2-11v3m5 0v3m8-10v3m3-7v3m11-20v3m0 4v3m7-13v3m7-13v3m2-7v3m20-15v3m3-6v3m1-5v3m17-20v3m82-75v3" stroke="#ff0d00" stroke-width="3" opacity="0.6"/><path d="M815 2168v3m1-11v3m5-5v3m7-13v3m0 3v3m3-12v3m2-2v3m6-12v3m8-11v3m0-1v3m3-6v3m4-1v3m3-13v3m5 0v3m11-22v3m4-7v3m6-6v3m1-9v3m18-19v3m0 2v3m4-9v3m15-21v3m1-4v3m1-3v3m8-3v3m20-32v3m1 1v3m18-21v3m1 0v3" stroke="#ff2600" stroke-width="3" opacity="0.6"/><path d="M791 2183v3m9-8v3m16-22v3m9-12v3m9-8v3m11-9v3m4-16v3m1-3v3m16-11v3m15-20v3m7-14v3m2-5v3m16-14v3m11-13v3m6-12v3m20-19v3m2-12v3m28-27v3m83-79v3m5-7v3" stroke="#ff4000" stroke-width="3" opacity="0.6"/><path d="M753 2224v3m50-57v3m0-1v3m7-8v3m8-10v3m7-8v3m1-8v3m2-1v3m2-13v3m3 4v3m14-23v3m7-10v3m9-6v3m1-10v3m6-5v3m5-14v3m9-9v3m6 1v3m1-15v3m4 2v3m25-32v3m15-17v3m16-21v3m12-15v3m76-67v3" stroke="#ff5900" stroke-width="3" opacity="0.6"/><path d="M783 2191v3m6-7v3m24-30v3m1 1v3m19-26v3m11-11v3m5-7v3m2-3v3m2-9v3m4-5v3m2-2v3m1-3v3m9-14v3m10-8v3m2-11v3m13-14v3m8-16v3m3-7v3m5 5v3m1-9v3m30-38v3" stroke="#ff7300" stroke-width="3" opacity="0.6"/><path d="M798 2180v3m7-8v3m10-20v3m0 1v3m15-18v3m2-10v3m0 5v3m9-18v3m2 2v3m3-9v3m4-8v3m11-16v3m7-2v3m3-9v3m1-6v3m4-10v3m0 6v3m1-10v3m4-9v3m5 0v3m5-15v3m7-6v3m5-11v3m3 1v3m3-17v3m13-14v3m19-26v3m66-63v3" stroke="#ff8c00" stroke-width="3" opacity="0.6"/><path d="M762 2210v3m19-21v3m7-8v3m4-8v3m24-29v3m2-3v3m0-2v3m9-12v3m17-23v3m10-10v3m6-10v3m2-2v3m4-6v3m3-6v3m1-1v3m10-14v3m1-2v3m9-17v3m1-4v3m1-5v3m6-6v3m5-11v3m1-1v3m2-3v3m21-17v3m7-23v3m1-4v3m27-20v3m3-14v3" stroke="#ffa600" stroke-width="3" opacity="0.6"/><path d="M757 2216v3m37-42v3m0 2v3m10-13v3m5-9v3m3-5v3m3-8v3m4-2v3m10-17v3m3-9v3m2 0v3m7-10v3m2-1v3m5-15v3m3-12v3m0 7v3m3-8v3m5-8v3m5-8v3m2-7v3m14-8v3m5-10v3m5-13v3m12-19v3m15-15v3m11-13v3m34-37v3m63-58v3" stroke="#ffbf00" stroke-width="3" opacity="0.6"/><path d="M785 2189v3m4-6v3m18-21v3m0-1v3m1-6v3m4-9v3m2-5v3m12-13v3m11-18v3m1-2v3m0 0v3m1-2v3m5-14v3m2-6v3m0 0v3m4-13v3m5-1v3m5-9v3m5-4v3m6-17v3m1 4v3m1-11v3m5-2v3m2-8v3m5-6v3m8-16v3m4-5v3m10-11v3m18-18v3m8-14v3m62-69v3" stroke="#ffd900" stroke-width="3" opacity="0.6"/><path d="M786 2185v3m5-4v3m3-13v3m9-7v3m11-17v3m16-18v3m3-8v3m2 1v3m2-5v3m3-7v3m2-7v3m7-6v3m4-4v3m9-18v3m5 0v3m5-15v3m7-9v3m5-5v3m7-11v3m6-12v3m3-5v3m11-14v3m17-19v3m4-7v3m21-27v3m19-20v3m10-5v3" stroke="#fff200" stroke-width="3" opacity="0.6"/><path d="M747 2224v3m26-29v3m31-31v3m6-12v3m1-3v3m9-12v3m3-7v3m0-1v3m1-1v3m4-7v3m4-12v3m0 0v3m10-10v3m3-11v3m3-8v3m2 1v3m1-5v3m2 2v3m2-10v3m6-10v3m2-9v3m0-1v3m9-13v3m6-7v3m10-10v3m19-29v3m16-11v3m10-18v3m19-19v3m14-14v3m26-33v3" stroke="#f2f20d" stroke-width="3" opacity="0.6"/><path d="M794 2180v3m5-9v3m2-4v3m1-6v3m0-1v3m3-7v3m0-1v3m2-10v3m1-2v3m9-7v3m9-19v3m0 1v3m4-6v3m0 0v3m4-12v3m10-14v3m0-1v3m0-3v3m5-8v3m7-16v3m4-6v3m3-1v3m1-4v3m6-12v3m8-3v3m2-8v3m9-15v3m13-16v3m13-16v3m12-17v3m52-54v3" stroke="#d9d926" stroke-width="3" opacity="0.6"/><path d="M765 2214v3m16-27v3m26-32v3m3-5v3m8-3v3m8-17v3m4-7v3m1-5v3m3-2v3m1-8v3m13-11v3m13-22v3m10-12v3m8-9v3m8-13v3m6 0v3m12-23v3m7-9v3m4-6v3m26-25v3m8-21v3m34-31v3" stroke="#bfbf40" stroke-width="3" opacity="0.6"/><path d="M781 2188v3m16-17v3m2-3v3m9-14v3m2-6v3m7-11v3m0 0v3m1-8v3m0 4v3m13-16v3m1-8v3m1-6v3m2-5v3m3-7v3m6-7v3m1 3v3m1-11v3m5-5v3m1-5v3m2 1v3m3-10v3m3-11v3m1-1v3m0 0v3m15-19v3m34-41v3m3-6v3m19-21v3m22-37v3m2 7v3m5-19v3m41-39v3m2-3v3" stroke="#a6a659" stroke-width="3" opacity="0.6"/><path d="M764 2208v3m37-36v3m5-13v3m8-11v3m3-6v3m5-12v3m0 3v3m9-17v3m1 0v3m10-15v3m5-10v3m8-12v3m10-10v3m4-8v3m2-4v3m5-8v3m2-1v3m3-8v3m1-2v3m2-10v3m7-5v3m15-16v3m1-13v3m0 3v3m4-13v3m0 0v3m2-2v3m20-33v3m7 1v3" stroke="#8c8c73" stroke-width="3" opacity="0.6"/><path d="M790 2182v3m16-22v3m15-21v3m2-2v3m5-6v3m2-9v3m2-2v3m2-6v3m7-16v3m18-13v3m5-10v3m3 0v3m23-32v3m2-7v3m5-12v3m4-10v3m4 7v3m5-7v3m5-15v3m8-11v3m8-10v3m17-22v3" stroke="#73738c" stroke-width="3" opacity="0.6"/><path d="M757 2215v3m5-10v3m14-14v3m17-18v3m20-31v3m6-5v3m0-3v3m1 2v3m3-10v3m2-1v3m9-20v3m0-1v3m2-8v3m3-6v3m2 0v3m2-6v3m1-5v3m4-12v3m9-13v3m3 0v3m1-3v3m8-11v3m3-10v3m0 4v3m7-16v3m9-14v3m7-15v3m3-1v3m4-7v3m23-24v3m13-21v3m4-2v3" stroke="#5959a6" stroke-width="3" opacity="0.6"/><path d="M731 2241v3m4-6v3m48-49v3m11-18v3m1-6v3m13-15v3m7-9v3m7-12v3m2-3v3m7-13v3m2-4v3m5-5v3m6-12v3m2-3v3m0 4v3m1-13v3m1-1v3m2-5v3m10-10v3m5-22v3m0 3v3m1-2v3m3-11v3m4-6v3m6-3v3m6-15v3m2 4v3m10-20v3m9-14v3m1-9v3m0 5v3m6-12v3m29-31v3m61-66v3m0 4v3" stroke="#4040bf" stroke-width="3" opacity="0.6"/><path d="M747 2224v3m39-37v3m3-8v3m15-23v3m1-4v3m9-7v3m1-7v3m9-16v3m8-7v3m2 0v3m1-14v3m5 3v3m1-7v3m10-17v3m1-5v3m11-8v3m12-23v3m2-9v3m3 1v3m1-9v3m4 0v3m4-14v3m3 1v3m0 3v3m1-17v3m11-12v3m54-48v3m37-50v3" stroke="#2626d9" stroke-width="3" opacity="0.6"/><path d="M789 2182v3m13-15v3m1-9v3m8-10v3m2-8v3m9-9v3m2-2v3m1-7v3m5-12v3m9-7v3m16-18v3m3-5v3m3-5v3m6-10v3m4-12v3m1-1v3m8-10v3m4-6v3m7-11v3m8-13v3m2-2v3m2-14v3m0 5v3m1-3v3m5-7v3m14-19v3m1-7v3m55-59v3" stroke="#0d0df2" stroke-width="3" opacity="0.6"/><path d="M750 2223v3m60-64v3m3-4v3m3-9v3m3-9v3m7-8v3m0-3v3m12-21v3m2-2v3m4-1v3m2-11v3m6-6v3m11-11v3m1-10v3m5-9v3m2-8v3m6 3v3m2-5v3m3-8v3m4-15v3m0 0v3m11-13v3m4-10v3m0 4v3m1-10v3m4-1v3m5-16v3m1 0v3m1-3v3m8-15v3m1-9v3m10-8v3m21-22v3m1 1v3m14-27v3m14-17v3" stroke="#000df2" stroke-width="3" opacity="0.6"/><path d="M790 2176v3m8-10v3m12-9v3m6-10v3m2-8v3m9-14v3m2 0v3m7-12v3m1 1v3m1-10v3m4-3v3m3-7v3m7-12v3m1-5v3m17-18v3m6-9v3m6-12v3m3-3v3m1-11v3m8-10v3m3-4v3m6-6v3m52-60v3m7-11v3m0-3v3m41-47v3" stroke="#0026d9" stroke-width="3" opacity="0.6"/><path d="M783 2185v3m24-28v3m13-11v3m0 1v3m7-23v3m0 5v3m1-7v3m11-12v3m6-6v3m4-14v3m5-1v3m8-19v3m4-9v3m0 6v3m1-6v3m15-15v3m1-9v3m12-16v3m7-1v3m2-15v3m2-7v3m13-14v3m1-15v3m1 10v3m31-30v3m24-37v3m8-3v3m3-11v3m32-31v3" stroke="#0040bf" stroke-width="3" opacity="0.6"/><path d="M748 2223v3m32-35v3m15-22v3m23-22v3m7-14v3m4-7v3m2-4v3m1-3v3m0 2v3m11-18v3m4-9v3m4-2v3m1-9v3m0-1v3m1-7v3m4-5v3m2-9v3m0 6v3m11-32v3m4 5v3m3-5v3m21-26v3m3-7v3m6-7v3m1-5v3m1-3v3m10-9v3m9-8v3m11-21v3" stroke="#0059a6" stroke-width="3" opacity="0.6"/><path d="M744 2228v3m69-74v3m5-6v3m5-7v3m6-13v3m2-1v3m1-6v3m4-4v3m1-2v3m10-17v3m1-6v3m3-10v3m3-6v3m8-4v3m2-8v3m13-18v3m3-10v3m4-4v3m2-2v3m19-22v3m39-39v3m2-13v3m16-24v3m31-20v3m45-60v3" stroke="#00738c" stroke-width="3" opacity="0.6"/><path d="M782 2192v3m18-21v3m3-10v3m5-5v3m0-1v3m1-7v3m1-2v3m1-11v3m6-2v3m11-17v3m2-4v3m7-15v3m12-11v3m2-8v3m8-12v3m0-2v3m6-2v3m3-10v3m10-14v3m2-3v3m20-21v3m13-19v3m10-10v3m14-23v3" stroke="#008c73" stroke-width="3" opacity="0.6"/><path d="M776 2198v3m21-26v3m15-19v3m6-12v3m1 1v3m6-16v3m12-4v3m1-5v3m2-13v3m2 0v3m2 0v3m2-7v3m1-10v3m5-4v3m7-16v3m7-16v3m5-1v3m4-11v3m7-1v3m5-19v3m28-27v3m20-29v3m2 2v3m10-2v3m18-36v3" stroke="#00a659" stroke-width="3" opacity="0.6"/><path d="M815 2160v3m7-15v3m5-8v3m2 0v3m2-5v3m1-1v3m3-16v3m16-18v3m9-3v3m7-21v3m2-2v3m0-2v3m3-5v3m18-21v3m1-9v3m11-6v3m4-5v3m12-24v3m8-4v3m28-38v3m38-39v3m28-24v3" stroke="#00bf40" stroke-width="3" opacity="0.6"/><path d="M749 2226v3m45-50v3m7-8v3m2-8v3m1-6v3m5-7v3m3-7v3m0 3v3m6-14v3m13-12v3m0-2v3m2-14v3m3 3v3m4-9v3m9-15v3m0-2v3m11-19v3m10-9v3m8-6v3m0 1v3m4-17v3m18-16v3m10-11v3m3-10v3m29-26v3m19-34v3m44-48v3" stroke="#00d926" stroke-width="3" opacity="0.6"/><path d="M808 2169v3m1-6v3m12-20v3m11-12v3m0 2v3m3-10v3m1-2v3m5-12v3m2-10v3m5-3v3m5-8v3m2-4v3m0-2v3m17-20v3m5-8v3m6-8v3m3-7v3m3-2v3m2-20v3m10-4v3m0-2v3m9-8v3m5-4v3m4-11v3m10-15v3m9-16v3" stroke="#00f20d" stroke-width="3" opacity="0.6"/><path d="M804 2173v3m2-7v3m4-10v3m0-2v3m2-2v3m6-12v3m0 4v3m2-12v3m5-3v3m4-5v3m5-17v3m2-1v3m0 1v3m2-9v3m1-5v3m1-1v3m4-15v3m3 1v3m3-9v3m5-16v3m5 1v3m2-3v3m1-3v3m3-12v3m2-1v3m11-17v3m0-2v3m3-1v3m9-10v3m2-9v3m1-3v3m10-15v3m7-12v3m3-5v3m0-1v3m11-17v3m10-11v3m4-8v3m5-4v3m51-59v3" stroke="#0df200" stroke-width="3" opacity="0.6"/><path d="M809 2168v3m2-7v3m7-14v3m5-7v3m1-4v3m4-5v3m1-7v3m8-11v3m4-6v3m2-8v3m0 1v3m11-10v3m6-8v3m4-10v3m7-7v3m7-15v3m10-3v3m6-12v3m9-14v3m4-9v3m10-11v3m1-2v3m2-8v3m3-6v3m14-19v3" stroke="#26d900" stroke-width="3" opacity="0.6"/><path d="M738 2238v3m50-54v3m13-22v3m13-12v3m3-4v3m2-1v3m3-11v3m2 1v3m3-9v3m5-9v3m5-13v3m3-2v3m7-12v3m1 0v3m0-3v3m17-28v3m2 5v3m7-18v3m2-2v3m2 2v3m18-20v3m3-14v3m11-7v3m5-11v3m15-11v3m1-7v3m1-15v3m2 2v3m8-9v3m21-28v3m25-29v3" stroke="#40bf00" stroke-width="3" opacity="0.6"/><path d="M793 2183v3m7-7v3m15-24v3m7-4v3m7-14v3m1 1v3m19-25v3m4-5v3m3-12v3m5-8v3m0 0v3m5 0v3m9-13v3m6-14v3m3-10v3m9-8v3m5-12v3m6 3v3m2-15v3m18-15v3m5-4v3m1-16v3m75-66v3m5-13v3" stroke="#59a600" stroke-width="3" opacity="0.6"/><path d="M769 2199v3m16-14v3m23-23v3m7-9v3m1-11v3m5-5v3m0 2v3m1-6v3m0-3v3m0 1v3m2-8v3m7-9v3m3-9v3m2-5v3m3 0v3m3-13v3m7-13v3m3 6v3m2-12v3m5-1v3m5-20v3m0 0v3m9-10v3m5-9v3m7-15v3m0 6v3m10-13v3m16-14v3m27-29v3m7-18v3m15-14v3m4-10v3" stroke="#738c00" stroke-width="3" opacity="0.6"/><path d="M798 2180v3m2-9v3m5-8v3m2-3v3m5-6v3m11-14v3m8-8v3m2-13v3m1-1v3m0 1v3m1-8v3m3-2v3m1-12v3m2-5v3m1 3v3m1-6v3m3-6v3m9-15v3m1 5v3m5-12v3m0-1v3m11-19v3m1 0v3m2-3v3m4-11v3m19-20v3m10-17v3" stroke="#8c7300" stroke-width="3" opacity="0.6"/><path d="M756 2222v3m11-19v3m4-6v3m8-8v3m18-21v3m2-6v3m22-18v3m1-11v3m10-15v3m0 0v3m3-7v3m7-5v3m4-4v3m3-12v3m1-4v3m2-4v3m3-5v3m3-15v3m6-1v3m2-10v3m2 4v3m1-10v3m6-8v3m8-11v3m9-10v3m5-8v3m6-7v3m10-14v3m10-14v3m20-19v3m14-27v3m2 1v3m41-37v3m56-67v3m16-8v3" stroke="#a65900" stroke-width="3" opacity="0.6"/><path d="M758 2217v3m10-14v3m20-22v3m3-3v3m12-19v3m9-7v3m11-16v3m1 0v3m1-6v3m9-12v3m4-10v3m1-6v3m3-6v3m6-5v3m4-5v3m3-8v3m1-8v3m3 2v3m6-18v3m2 7v3m4-16v3m3 1v3m2-8v3m3-9v3m12-4v3m3-15v3m2 1v3m7-11v3m6-7v3m8-21v3m39-36v3m4-5v3m14-23v3" stroke="#bf4000" stroke-width="3" opacity="0.6"/><path d="M768 2209v3m32-33v3m11-17v3m6-9v3m2-1v3m5-9v3m1-3v3m3-8v3m8-16v3m2-6v3m4-4v3m8-7v3m3-8v3m0 0v3m1-7v3m5-5v3m4-7v3m1-4v3m5-11v3m1 0v3m3-9v3m2-3v3m2-3v3m4-11v3m0-2v3m17-21v3m5-2v3m11-12v3m17-21v3m119-133v3" stroke="#d92600" stroke-width="3" opacity="0.6"/><path d="M781 2193v3m7-4v3m13-20v3m3-4v3m11-18v3m19-13v3m1-7v3m1-8v3m5-7v3m0-2v3m2-5v3m5-10v3m4-7v3m4-7v3m1-5v3m9-10v3m2-4v3m5-6v3m12-16v3m3-4v3m3-5v3m1-2v3m7-9v3m5-13v3m0 2v3m3-6v3m6-14v3m11-11v3m11-17v3m6-5v3m69-67v3m38-40v3" stroke="#f20d00" stroke-width="3" opacity="0.6"/><path d="M777 2203v3m21-25v3m1-9v3m7-10v3m0-1v3m1-3v3m9-10v3m3-5v3m11-13v3m1-12v3m1 2v3m3-6v3m0 0v3m1-5v3m8-12v3m18-20v3m0-2v3m3-10v3m6-7v3m9-13v3m6-6v3m2-11v3m1 1v3m4-13v3m17-17v3m2 1v3m17-28v3m2-2v3m1 1v3m24-24v3m2-1v3m6-21v3m49-48v3" stroke="#ff0d00" stroke-width="3" opacity="0.6"/><path d="M799 2178v3m2-5v3m3-5v3m7-11v3m1-6v3m10-15v3m2-6v3m2 2v3m3-8v3m10-8v3m11-13v3m1-10v3m5-2v3m10-20v3m2-2v3m3-6v3m1-3v3m5-10v3m16-17v3m3-3v3m0-2v3m8-13v3m0 2v3m2-8v3m6-10v3m1-4v3m16-21v3m29-30v3" stroke="#ff2600" stroke-width="3" opacity="0.6"/><path d="M738 2241v3m64-68v3m4-10v3m11-9v3m10-14v3m1-1v3m5-10v3m3-5v3m2-9v3m1-7v3m4-4v3m2-3v3m9-12v3m1-4v3m3-10v3m0 1v3m9-9v3m5-12v3m48-48v3m1-4v3m18-16v3m1-10v3m18-24v3m9-7v3" stroke="#ff4000" stroke-width="3" opacity="0.6"/><path d="M788 2188v3m9-15v3m1-5v3m10-10v3m6-10v3m26-24v3m16-26v3m2 0v3m5-3v3m5-15v3m32-30v3m2-9v3m9-9v3m0 0v3" stroke="#ff5900" stroke-width="3" opacity="0.6"/><path d="M770 2204v3m5-8v3m2-6v3m7-5v3m22-29v3m5-5v3m16-19v3m3-4v3m12-15v3m2-3v3m5-15v3m0 3v3m4-16v3m1 4v3m10-14v3m3-2v3m7-11v3m12-18v3m3-3v3m14-22v3m2-11v3m7-1v3m9-17v3m38-41v3" stroke="#ff7300" stroke-width="3" opacity="0.6"/><path d="M789 2180v3m2 2v3m33-35v3m2-6v3m5-8v3m4-9v3m8-7v3m2-6v3m1-3v3m1-1v3m1-2v3m5-18v3m4-4v3m5-7v3m8-12v3m1 0v3m1-7v3m14-20v3m2 1v3m1-8v3m11-11v3m5-7v3m30-32v3m112-111v3" stroke="#ff8c00" stroke-width="3" opacity="0.6"/><path d="M800 2177v3m1-6v3m10-7v3m7-13v3m2-4v3m1-9v3m5-10v3m4-3v3m3-8v3m5-5v3m5-9v3m6-9v3m0-1v3m2-5v3m1-9v3m0 1v3m26-30v3m1 0v3m6-13v3m16-13v3m1-3v3m2-12v3m15-21v3m39-32v3m26-34v3" stroke="#ffa600" stroke-width="3" opacity="0.6"/><path d="M789 2184v3m11-9v3m5-9v3m1-7v3m0 3v3m2-10v3m0-1v3m2-7v3m5-7v3m16-20v3m6-12v3m12-14v3m4-9v3m0 0v3m4-8v3m4 0v3m6-10v3m1-3v3m2-11v3m1-2v3m2-11v3m7-1v3m2-6v3m2-13v3m1 3v3m11-14v3m1-3v3m9-12v3m30-33v3m30-35v3m5-6v3" stroke="#ffbf00" stroke-width="3" opacity="0.6"/><path d="M781 2197v3m20-27v3m4-8v3m1-7v3m4-6v3m2-4v3m1-8v3m2 2v3m1-5v3m1-6v3m2-7v3m2-2v3m1-1v3m1-6v3m1 1v3m2-9v3m0-3v3m5-13v3m1 1v3m11-17v3m15-22v3m4-1v3m8-12v3m5-6v3m1-1v3m39-48v3m4-7v3m16-15v3m10-4v3m96-108v3m5-10v3" stroke="#ffd900" stroke-width="3" opacity="0.6"/><path d="M784 2186v3m6-5v3m3 0v3m9-17v3m9-13v3m8-17v3m2 5v3m2-9v3m7-8v3m6-11v3m1 0v3m2-11v3m3-6v3m3-2v3m9-8v3m2-16v3m4-2v3m3-7v3m4-8v3m11-13v3m0 1v3m2-6v3m3-9v3m9-14v3m19-19v3m5-5v3m6-17v3m37-41v3m21-18v3m10-12v3m16-17v3" stroke="#fff200" stroke-width="3" opacity="0.6"/><path d="M736 2236v3m69-73v3m1-2v3m2-8v3m18-24v3m0 4v3m2-5v3m0 0v3m12-21v3m2 0v3m10-17v3m11-8v3m1-8v3m1-2v3m3-4v3m3-8v3m1-7v3m4-7v3m30-32v3m5-11v3m7-6v3m51-64v3m8-10v3" stroke="#f2f20d" stroke-width="3" opacity="0.6"/><path d="M782 2191v3m30-33v3m2-9v3m5-2v3m3-6v3m5-10v3m1-2v3m10-16v3m2-1v3m3-6v3m14-18v3m10-14v3m6-9v3m1-3v3m1-4v3m4-9v3m0-3v3m8-13v3m6-6v3m1-4v3m8-5v3m19-29v3m5-9v3m1 2v3m4-5v3m9-15v3m18-24v3m16-21v3m2-4v3" stroke="#d9d926" stroke-width="3" opacity="0.6"/><path d="M755 2217v3m11-10v3m4-10v3m5-9v3m0-2v3m23-30v3m0 1v3m1-3v3m2-6v3m6-9v3m5-5v3m6-15v3m20-20v3m5-11v3m3-11v3m2 3v3m5-10v3m0 2v3m5-11v3m2-7v3m6-6v3m2-7v3m4-8v3m8-13v3m12-10v3m42-45v3m10-20v3m3-1v3m9-17v3m1 2v3m50-58v3m61-61v3" stroke="#bfbf40" stroke-width="3" opacity="0.6"/><path d="M787 2187v3m10-12v3m2-6v3m4-9v3m10-10v3m1-9v3m5-4v3m9-17v3m5 0v3m4-19v3m4 4v3m3-5v3m10-13v3m15-26v3m2-2v3m3-8v3m6-7v3m6-12v3m2-7v3m5-9v3m2-1v3m4-10v3m3-2v3m3-2v3m3-2v3m9-17v3m27-40v3m5 0v3m6-18v3m43-46v3" stroke="#a6a659" stroke-width="3" opacity="0.6"/><path d="M793 2177v3m1-2v3m7-9v3m3-9v3m11-12v3m4-10v3m5-10v3m11-8v3m0-2v3m0-1v3m7-17v3m1 0v3m5-13v3m1-1v3m7-10v3m10-7v3m8-10v3m3-10v3m1-8v3m3-1v3m0 0v3m9-29v3m1 1v3m7-3v3m1-6v3m2-2v3m5-10v3m2 1v3m14-32v3m4 7v3m5-7v3m6-20v3m19-18v3m0 3v3" stroke="#8c8c73" stroke-width="3" opacity="0.6"/><path d="M735 2240v3m46-55v3m6-6v3m7-13v3m1-4v3m7-10v3m1 1v3m4-7v3m17-21v3m4-10v3m16-17v3m4-11v3m2-3v3m11-12v3m2-3v3m6-16v3m2-8v3m0-2v3m10-6v3m0-2v3m5-11v3m8-3v3m4-12v3m14-19v3m14-20v3m6-1v3m6-16v3m25-33v3" stroke="#73738c" stroke-width="3" opacity="0.6"/><path d="M791 2182v3m10-16v3m17-19v3m6-10v3m0-1v3m4-5v3m2-11v3m4-5v3m9-8v3m1-6v3m1-7v3m1-2v3m3-10v3m1 2v3m10-15v3m13-19v3m4-6v3m21-22v3m17-26v3m39-45v3" stroke="#5959a6" stroke-width="3" opacity="0.6"/><path d="M763 2211v3m5-8v3m24-35v3m10-5v3m6-11v3m2-5v3m7-12v3m2-3v3m2-3v3m2-5v3m2-13v3m0 1v3m0-2v3m11-12v3m10-13v3m5-14v3m9-10v3m3-5v3m1-6v3m3-6v3m5-2v3m7-15v3m7-10v3m7-11v3m2-13v3m3 2v3m6-12v3m35-29v3m88-98v3" stroke="#4040bf" stroke-width="3" opacity="0.6"/><path d="M747 2224v3m50-57v3m2-2v3m14-14v3m5-9v3m3-11v3m1-5v3m0 1v3m6-15v3m4-5v3m0-2v3m3-4v3m15-21v3m0 0v3m0-2v3m1 1v3m8-23v3m1 3v3m4-1v3m2-11v3m1-6v3m23-24v3m6-6v3m1-6v3m6-11v3m45-44v3m28-48v3" stroke="#2626d9" stroke-width="3" opacity="0.6"/><path d="M781 2189v3m2-5v3m9-11v3m4-6v3m2-6v3m9-14v3m10-11v3m9-20v3m6-2v3m4-3v3m3-14v3m4-1v3m1-2v3m8-17v3m4-1v3m2-10v3m2-9v3m0 2v3m3-13v3m12-5v3m15-27v3m1 4v3m1-5v3m2-8v3m1-11v3m2 2v3m6-18v3m4-1v3m14-7v3m13-22v3" stroke="#0d0df2" stroke-width="3" opacity="0.6"/><path d="M781 2189v3m5-8v3m17-19v3m17-18v3m1-7v3m1-2v3m2-9v3m3-6v3m2-2v3m1-6v3m10-15v3m8-9v3m4-8v3m1-5v3m0 2v3m1-11v3m3 1v3m0-1v3m21-30v3m8-12v3m5-6v3m6-10v3m5-7v3m9-22v3m16-6v3m19-24v3m1-16v3m125-117v3" stroke="#000df2" stroke-width="3" opacity="0.6"/><path d="M779 2194v3m19-21v3m5-10v3m1-4v3m10-13v3m6-12v3m0 4v3m11-23v3m2-2v3m1-6v3m2-6v3m7-4v3m1-10v3m3-7v3m11-9v3m1-9v3m2 2v3m9-19v3m0-1v3m0-2v3m7-9v3m2-4v3m4-12v3m2-3v3m7-6v3m3-6v3m2-13v3m15-15v3m1 5v3m16-32v3m4 5v3m1-17v3m6-11v3m15-12v3m63-73v3" stroke="#0026d9" stroke-width="3" opacity="0.6"/><path d="M733 2240v3m55-58v3m10-16v3m1-2v3m10-19v3m3-6v3m4 0v3m8-7v3m3-13v3m2-6v3m3 1v3m6-10v3m4-12v3m2-7v3m13-13v3m13-13v3m1-6v3m6-13v3m2-1v3m2-1v3m10-24v3m26-24v3m7-14v3m2-5v3m27-26v3m77-90v3" stroke="#0040bf" stroke-width="3" opacity="0.6"/><path d="M808 2158v3m4 0v3m2-2v3m8-11v3m1-7v3m1-7v3m3-6v3m7-9v3m10-14v3m1-5v3m0-2v3m1-6v3m3-3v3m2-3v3m24-30v3m5-10v3m5-9v3m4 0v3m5-11v3m3-9v3m6-7v3m6-10v3m8-16v3m2 7v3m9-21v3m10-15v3" stroke="#0059a6" stroke-width="3" opacity="0.6"/><path d="M777 2192v3m5-5v3m10-11v3m5-10v3m0-1v3m4-12v3m3-4v3m6-5v3m10-16v3m0 3v3m19-32v3m1-2v3m0 0v3m20-29v3m3-1v3m8-9v3m3-7v3m15-26v3m12-8v3m2-12v3m16-13v3m22-22v3m12-24v3m22-24v3" stroke="#00738c" stroke-width="3" opacity="0.6"/><path d="M777 2194v3m3-7v3m8-6v3m30-36v3m12-17v3m5-13v3m0 0v3m5-6v3m7-7v3m10-14v3m5-13v3m3-4v3m4-8v3m1-2v3m27-32v3m7-2v3m5-13v3m9-14v3m8-7v3m6-11v3m6-10v3m3-6v3m35-42v3m13-17v3m19-15v3m3-11v3" stroke="#008c73" stroke-width="3" opacity="0.6"/><path d="M791 2177v3m23-18v3m6-17v3m1-3v3m2-1v3m1-3v3m1-6v3m3-5v3m5-8v3m4-10v3m0 0v3m6-10v3m8-15v3m29-28v3m1-9v3m10-10v3m13-11v3m6-11v3m10-16v3m35-32v3m67-73v3" stroke="#00a659" stroke-width="3" opacity="0.6"/><path d="M780 2191v3m7-12v3m19-16v3m3-9v3m12-17v3m1-2v3m1-4v3m4-6v3m6-8v3m6-12v3m0 0v3m12-18v3m2-6v3m1-4v3m3-7v3m1-4v3m2-2v3m1-5v3m14-17v3m13-7v3m18-25v3m7-9v3m10-20v3m7-14v3m8-11v3m0 4v3m10-12v3m18-26v3m0-1v3m3-7v3m9-20v3m26-20v3m8-12v3m33-38v3" stroke="#00bf40" stroke-width="3" opacity="0.6"/><path d="M775 2196v3m9-11v3m4-6v3m17-23v3m5-7v3m2 0v3m1-13v3m7-2v3m2-10v3m9-9v3m8-10v3m2-2v3m1-8v3m2-3v3m1-12v3m0-3v3m11-3v3m1-8v3m1-3v3m1-10v3m9-4v3m3-14v3m3 0v3m5-7v3m7-11v3m12-15v3m7-15v3m12-16v3m4 3v3m15-24v3m5-13v3m2 3v3m9-19v3m32-34v3m7-9v3" stroke="#00d926" stroke-width="3" opacity="0.6"/><path d="M805 2168v3m3-6v3m2-3v3m6-11v3m1-4v3m5-13v3m16-18v3m3 1v3m4-15v3m0-3v3m2 6v3m5-15v3m4-1v3m3-14v3m3-2v3m5-7v3m14-17v3m11-9v3m9-24v3m2 0v3m2-3v3m8-10v3m9-20v3m8 3v3m2-11v3m19-23v3m10-17v3m13-7v3m12-23v3" stroke="#00f20d" stroke-width="3" opacity="0.6"/><path d="M801 2176v3m1-9v3m14-13v3m10-15v3m1-3v3m1-4v3m1-4v3m3-4v3m1-9v3m6-8v3m1-5v3m10-14v3m3 0v3m6-17v3m5-2v3m2-5v3m17-22v3m22-23v3m5-8v3m4-17v3m13-9v3m2-2v3m5-3v3m6-9v3" stroke="#0df200" stroke-width="3" opacity="0.6"/><path d="M784 2193v3m15-23v3m0-3v3m1 3v3m2-13v3m15-16v3m1-1v3m5-11v3m14-13v3m1-8v3m4-5v3m4-6v3m1-7v3m2-3v3m5-3v3m0-2v3m2-8v3m15-16v3m1-6v3m3-11v3m12-15v3m2-6v3m6-5v3m1 0v3m21-30v3m1-2v3m21-26v3m27-25v3" stroke="#26d900" stroke-width="3" opacity="0.6"/><path d="M785 2192v3m9-12v3m3-10v3m7-6v3m2-12v3m3 1v3m12-17v3m0-1v3m1-5v3m1 1v3m3-10v3m6-10v3m5-10v3m11-8v3m7-21v3m14-11v3m23-25v3m2-2v3m1-14v3m13-14v3m2 0v3m6-6v3m2-7v3m6-3v3m19-30v3m22-10v3m7-28v3" stroke="#40bf00" stroke-width="3" opacity="0.6"/><path d="M733 2240v3m65-69v3m3-2v3m0-2v3m7-9v3m6-17v3m1 1v3m12-12v3m10-16v3m19-14v3m13-26v3m0 3v3m2-10v3m1-4v3m3 1v3m5-9v3m4-7v3m7-12v3m2 1v3m4-13v3m12-13v3m5-14v3m51-54v3m12-6v3m54-60v3" stroke="#59a600" stroke-width="3" opacity="0.6"/><path d="M812 2161v3m9-9v3m3-8v3m2-1v3m0-1v3m3-4v3m2-15v3m1 1v3m5-6v3m9-15v3m2-5v3m2-6v3m4-1v3m3-11v3m3-4v3m2-9v3m2 1v3m1-8v3m1-3v3m3-7v3m32-27v3m45-41v3m43-54v3m30-39v3" stroke="#738c00" stroke-width="3" opacity="0.6"/><path d="M786 2189v3m7-7v3m1-10v3m0 1v3m10-15v3m2-3v3m6-10v3m5-3v3m6-17v3m6-7v3m2-3v3m2-6v3m3-4v3m0-2v3m0-2v3m6-10v3m3-11v3m6-4v3m14-18v3m8-7v3m7-8v3m21-31v3m4-4v3m2-9v3m0 8v3m6-17v3m6-11v3m13-11v3m6-3v3m21-33v3m108-100v3" stroke="#8c7300" stroke-width="3" opacity="0.6"/><path d="M789 2188v3m5-8v3m1-5v3m15-17v3m8-10v3m4-11v3m6-7v3m2-6v3m6-7v3m0 2v3m1-9v3m9-10v3m18-16v3m6-10v3m1-6v3m1-5v3m0 3v3m6-17v3m4-5v3m22-21v3m3-13v3m2 1v3m3-12v3m2 0v3m2-1v3m106-105v3" stroke="#a65900" stroke-width="3" opacity="0.6"/><path d="M753 2222v3m39-41v3m17-18v3m11-16v3m15-21v3m6-5v3m8-7v3m10-15v3m2 1v3m4-15v3m6-7v3m2-13v3m1 7v3m21-27v3m14-12v3m4-10v3m3-15v3m16-15v3m2 3v3m68-60v3" stroke="#bf4000" stroke-width="3" opacity="0.6"/><path d="M757 2219v3m22-26v3m6-7v3m23-25v3m3-13v3m3-1v3m3-7v3m1-1v3m8-13v3m2 1v3m2-12v3m0 1v3m4-8v3m1-2v3m8-7v3m7-19v3m3-6v3m1-2v3m5-8v3m1-4v3m1-2v3m4-7v3m7-6v3m3-9v3m5-14v3m4 4v3m5-12v3m1-6v3m4-4v3m4-8v3m24-30v3m18-18v3m7-11v3m10-13v3" stroke="#d92600" stroke-width="3" opacity="0.6"/><path d="M732 2242v3m49-50v3m6-9v3m9-16v3m0 3v3m2-6v3m1-6v3m17-16v3m4-12v3m4-1v3m2-9v3m5-5v3m1-1v3m1-5v3m5-18v3m3 0v3m3-9v3m0 2v3m2-5v3m6-12v3m0-1v3m23-21v3m1-10v3m4-8v3m14-18v3m9-2v3m2-8v3m7-9v3m2-14v3m15-6v3" stroke="#f20d00" stroke-width="3" opacity="0.6"/><path d="M754 2219v3m41-40v3m5-3v3m7-13v3m9-21v3m0-1v3m4-1v3m9-14v3m0-2v3m2-4v3m4-6v3m2-12v3m2 3v3m3-6v3m4-7v3m2-3v3m16-23v3m0 6v3m1-11v3m1-1v3m10-14v3m4 4v3m2-16v3m2-5v3m9-17v3m13-13v3m10-7v3m3-9v3m2-4v3m10-19v3m22-21v3m11-27v3m10 1v3m16-15v3" stroke="#ff0d00" stroke-width="3" opacity="0.6"/><path d="M802 2175v3m3-10v3m19-19v3m0 2v3m0 0v3m1-9v3m1-3v3m11-13v3m1-10v3m0-2v3m2-8v3m0 2v3m3-14v3m5 1v3m2-8v3m15-19v3m2 4v3m3-6v3m4 0v3m6-18v3m3-10v3m2 0v3m2-11v3m0-2v3m4-4v3m3-10v3m6-10v3m0 4v3m5-17v3m24-13v3m5-12v3m16-14v3m8-19v3m2-2v3m22-19v3m5-14v3" stroke="#ff2600" stroke-width="3" opacity="0.6"/><path d="M754 2221v3m44-47v3m10-13v3m7-6v3m4-12v3m2-5v3m6-7v3m4-3v3m3-11v3m2-1v3m3-7v3m4-7v3m0 0v3m3-5v3m9-15v3m3 0v3m2-9v3m0 3v3m23-27v3m1-10v3m1-6v3m15-19v3m5-5v3m14-17v3m3-10v3m10-9v3m33-35v3m41-33v3" stroke="#ff4000" stroke-width="3" opacity="0.6"/><path d="M741 2231v3m35-34v3m3-8v3m10-9v3m8-13v3m5-5v3m13-19v3m0-1v3m0-2v3m18-20v3m3-11v3m2-7v3m3-1v3m0 0v3m2-2v3m10-18v3m3-3v3m11-14v3m9-15v3m5-6v3m1-5v3m8-14v3m7-4v3m4-11v3m0 6v3m8-24v3m3 1v3m27-28v3m12-12v3m16-30v3" stroke="#ff5900" stroke-width="3" opacity="0.6"/><path d="M754 2219v3m34-35v3m17-19v3m4-3v3m9-16v3m18-17v3m1-3v3m2-6v3m6-21v3m28-18v3m1-8v3m5-6v3m1-7v3m2-2v3m9-13v3m0 2v3m52-62v3m15-16v3m5-3v3" stroke="#ff7300" stroke-width="3" opacity="0.6"/><path d="M743 2232v3m29-34v3m23-25v3m1-1v3m1-8v3m5-4v3m22-26v3m14-9v3m2-14v3m3-5v3m6-9v3m6 3v3m1-11v3m5-10v3m1-10v3m4-5v3m2-3v3m2-2v3m2-6v3m0-2v3m3-12v3m3 1v3m3-15v3m4 6v3m7-18v3m2-4v3m6-13v3m14-21v3m2 7v3m1-4v3m24-32v3m5-7v3m7-12v3m54-50v3" stroke="#ff8c00" stroke-width="3" opacity="0.6"/><path d="M777 2198v3m27-31v3m8-7v3m2-9v3m3-2v3m1-8v3m12-12v3m7-11v3m1-9v3m2-3v3m3-7v3m12-17v3m8-4v3m1-5v3m4-6v3m4-3v3m0-3v3m5-18v3m0 5v3m1-9v3m7-1v3m9-24v3m2-5v3m3 3v3m3-14v3m13-7v3m8-9v3m22-25v3m4-10v3m127-129v3" stroke="#ffa600" stroke-width="3" opacity="0.6"/><path d="M794 2181v3m1-3v3m2-8v3m7-7v3m4-10v3m10-10v3m2-11v3m3-2v3m5-9v3m5-5v3m13-19v3m7-10v3m11-15v3m1 1v3m1-10v3m0 0v3m5-6v3m0 6v3m1-11v3m9-15v3m1-1v3m4-10v3m4 3v3m2-16v3m11-8v3m5-5v3m15-25v3m1-1v3m5-11v3m25-27v3m15-9v3" stroke="#ffbf00" stroke-width="3" opacity="0.6"/><path d="M764 2210v3m10-12v3m27-29v3m1-4v3m19-26v3m7-8v3m1-3v3m0-1v3m6-11v3m2-8v3m0 0v3m3-7v3m4-8v3m7-2v3m2-9v3m11-16v3m7-11v3m3-3v3m5-18v3m5-3v3m11-13v3m2-3v3m32-30v3m7-12v3m4-7v3m17-22v3" stroke="#ffd900" stroke-width="3" opacity="0.6"/><path d="M778 2198v3m15-19v3m11-18v3m7-7v3m9-8v3m3-11v3m6-7v3m1-5v3m3-6v3m1 1v3m1-12v3m2 1v3m3-3v3m2-13v3m9-14v3m0 1v3m5-7v3m1-6v3m2-5v3m1-6v3m9-5v3m9-16v3m0 0v3m5-7v3m31-41v3m4-5v3m17-20v3m7-8v3m2-6v3" stroke="#fff200" stroke-width="3" opacity="0.6"/><path d="M778 2198v3m19-18v3m14-27v3m4-4v3m9-9v3m1-7v3m1 0v3m9-18v3m3-6v3m7-9v3m1-3v3m13-21v3m2-4v3m14-9v3m2-6v3m6-7v3m8-12v3m10-14v3m7-15v3m28-28v3m22-22v3m20-17v3m14-27v3m67-72v3" stroke="#f2f20d" stroke-width="3" opacity="0.6"/><path d="M777 2197v3m11-13v3m18-22v3m6-8v3m4-6v3m2-7v3m17-23v3m9-5v3m13-20v3m0-1v3m12-21v3m7-7v3m1-2v3m9-14v3m2-6v3m7-4v3m3-11v3m6-10v3m13-13v3m1-9v3m1-13v3m0 6v3m56-59v3m19-20v3m20-31v3" stroke="#d9d926" stroke-width="3" opacity="0.6"/><path d="M783 2190v3m12-15v3m5-12v3m0 2v3m15-19v3m7-15v3m3-3v3m2-2v3m1-9v3m0 0v3m7-14v3m2 2v3m19-35v3m3 5v3m8-9v3m2-7v3m1 0v3m5-14v3m6-7v3m1-8v3m2-6v3m1-3v3m0-2v3m20-26v3m8-8v3m11-16v3m106-101v3" stroke="#bfbf40" stroke-width="3" opacity="0.6"/><path d="M774 2199v3m18-22v3m1-6v3m4-5v3m0-3v3m15-22v3m6-9v3m2 4v3m2-8v3m1-5v3m16-16v3m1-8v3m1-4v3m3-12v3m5-3v3m13-17v3m6-10v3m1-1v3m3-14v3m1 1v3m2-3v3m7-8v3m0 3v3m25-36v3m0-1v3m1-7v3m9-9v3m2-10v3m4-1v3m23-27v3m1-17v3m30-23v3m3-4v3" stroke="#a6a659" stroke-width="3" opacity="0.6"/><path d="M797 2176v3m27-29v3m7-12v3m0-2v3m18-21v3m2-6v3m2-11v3m4-2v3m5-13v3m1 0v3m4 1v3m2-15v3m0-2v3m0 2v3m1-12v3m2 3v3m2-8v3m3-7v3m13-19v3m5-6v3m7-12v3m9-10v3m5-4v3m5-18v3m9-13v3m2 8v3m7-18v3m48-45v3m89-94v3" stroke="#8c8c73" stroke-width="3" opacity="0.6"/><path d="M791 2177v3m6-4v3m1-8v3m2-2v3m14-18v3m9-9v3m9-20v3m3-3v3m3-4v3m0 0v3m6-14v3m3-12v3m4 3v3m1-8v3m0-2v3m2-3v3m9-12v3m4-8v3m18-22v3m2-8v3m2-6v3m16-19v3m5-7v3m12-8v3m19-36v3m0 7v3m18-24v3m1-3v3" stroke="#73738c" stroke-width="3" opacity="0.6"/><path d="M813 2161v3m1-4v3m5-11v3m1-4v3m13-19v3m2-3v3m3-3v3m2-10v3m5-4v3m0 0v3m1-2v3m9-20v3m6-8v3m3-4v3m1-4v3m1-6v3m2-7v3m6-7v3m2-12v3m1 6v3m14-21v3m5 1v3m2-15v3m4-3v3m2-7v3m16-27v3m0 5v3m18-22v3m2-4v3m42-44v3m1-21v3m28-19v3" stroke="#5959a6" stroke-width="3" opacity="0.6"/><path d="M791 2182v3m7-8v3m9-11v3m5-11v3m2-5v3m8-19v3m3-1v3m2-4v3m10-19v3m0-1v3m7-2v3m3-6v3m1-8v3m16-19v3m5-9v3m16-26v3m9-4v3m12-16v3m7-17v3m13-9v3m27-33v3m8-16v3m6 1v3m58-68v3" stroke="#4040bf" stroke-width="3" opacity="0.6"/><path d="M779 2190v3m10-13v3m27-30v3m2-2v3m3-11v3m1-3v3m7-6v3m1-5v3m2-8v3m5-9v3m3-7v3m3-5v3m2 1v3m5-16v3m5-1v3m7-16v3m3-1v3m0 0v3m2-12v3m0 4v3m7-8v3m1-7v3m3-16v3m3-2v3m0-3v3m1-4v3m15-13v3m2-10v3m5-2v3m6-8v3m3-8v3m100-101v3" stroke="#2626d9" stroke-width="3" opacity="0.6"/><path d="M779 2193v3m11-14v3m9-18v3m3-4v3m6-5v3m8-13v3m34-38v3m6-6v3m4-11v3m1-4v3m0-3v3m9-9v3m1 0v3m3-11v3m9-13v3m27-37v3m1 3v3m9-15v3m31-26v3m68-78v3" stroke="#0d0df2" stroke-width="3" opacity="0.6"/><path d="M812 2156v3m1 0v3m4-8v3m2-3v3m3-10v3m4-9v3m2-2v3m3-6v3m1-2v3m8-15v3m12-11v3m4-10v3m1 1v3m7-21v3m1 7v3m2-13v3m6-5v3m3-7v3m10-18v3m3-4v3m10-14v3m3-4v3m9-12v3m8-5v3m1-11v3m38-46v3m1 3v3m12-20v3" stroke="#000df2" stroke-width="3" opacity="0.6"/><path d="M770 2199v3m17-23v3m5-5v3m0 0v3m2-6v3m15-21v3m9-5v3m1-11v3m2-6v3m1-2v3m3-7v3m5-6v3m6-10v3m2-3v3m18-22v3m4-6v3m2-5v3m1-6v3m2-8v3m5-10v3m2-1v3m2-5v3m6-6v3m1-8v3m3-7v3m6-8v3m1 5v3m5-15v3m2-11v3m11-13v3m7-5v3m3-3v3" stroke="#0026d9" stroke-width="3" opacity="0.6"/><path d="M785 2184v3m1-3v3m13-13v3m1-5v3m3-6v3m8-10v3m3-5v3m1-2v3m6-14v3m5-3v3m1-10v3m1-6v3m14-17v3m6-6v3m4-12v3m2-8v3m2 2v3m3-6v3m2-8v3m12-13v3m43-42v3m37-49v3m2-5v3m47-53v3m47-42v3" stroke="#0040bf" stroke-width="3" opacity="0.6"/><path d="M746 2228v3m40-45v3m8-9v3m18-29v3m5-6v3m3-3v3m4-6v3m1-9v3m3-7v3m0 1v3m9-12v3m0-2v3m5-7v3m10-16v3m6-8v3m3-5v3m3-10v3m2 1v3m4-16v3m8-6v3m1-1v3m0-1v3m12-24v3m7-8v3m2-3v3m2-8v3m2-9v3m2 0v3m5-5v3m6-3v3m18-36v3m21-18v3m1-2v3m8-14v3m1-11v3" stroke="#0059a6" stroke-width="3" opacity="0.6"/><path d="M761 2212v3m34-38v3m0-2v3m6-8v3m3-7v3m1-7v3m7-10v3m1-5v3m2-9v3m2-1v3m6-6v3m11-17v3m1-4v3m0-2v3m3-9v3m0-1v3m10-13v3m8-5v3m17-19v3m2-12v3m3-3v3m3-4v3m4-14v3m8-7v3m1-5v3m2-1v3m2-11v3m5-12v3m4 0v3m5-17v3m0 0v3m7-2v3m38-45v3" stroke="#00738c" stroke-width="3" opacity="0.6"/><path d="M780 2197v3m16-24v3m11-13v3m16-15v3m6-9v3m7-19v3m23-29v3m0 3v3m0-1v3m6-11v3m5-10v3m6-8v3m5-6v3m2-14v3m4-4v3m9-4v3m9-20v3m2-1v3m8-13v3m9-9v3m24-31v3m38-34v3m32-36v3m13-28v3" stroke="#008c73" stroke-width="3" opacity="0.6"/><path d="M785 2189v3m3-8v3m25-24v3m3-16v3m1 4v3m5-8v3m1-4v3m11-15v3m4-11v3m2-1v3m1-1v3m9-14v3m2-10v3m1 2v3m10-20v3m10-12v3m2-6v3m9-8v3m1-7v3m6-11v3m0 1v3m3-9v3m4-6v3m5-1v3m18-18v3m3-13v3m11-14v3m13-18v3m7-8v3m14-22v3m107-106v3" stroke="#00a659" stroke-width="3" opacity="0.6"/><path d="M786 2189v3m6-10v3m8-14v3m16-20v3m7-15v3m13-9v3m2-5v3m5-6v3m0-2v3m1-9v3m7-10v3m0-1v3m1-7v3m10-5v3m3-9v3m17-23v3m1-7v3m3-3v3m12-17v3m5-3v3m33-38v3m2-11v3m17-11v3m3-6v3m12-20v3m36-27v3m55-76v3" stroke="#00bf40" stroke-width="3" opacity="0.6"/><path d="M761 2214v3m11-17v3m17-23v3m5-6v3m1 2v3m13-20v3m1-3v3m3-5v3m3-6v3m1-7v3m2-4v3m8-10v3m2-2v3m6-9v3m9-15v3m2-8v3m0-1v3m3-2v3m2-13v3m3 1v3m21-32v3m2 0v3m2-12v3m0 4v3m6-7v3m5-7v3m51-59v3m27-30v3m1-5v3m2 1v3m2 2v3" stroke="#00d926" stroke-width="3" opacity="0.6"/><path d="M808 2166v3m16-22v3m2-2v3m12-15v3m2-5v3m5-8v3m2-1v3m4-7v3m1-10v3m2-8v3m1 1v3m3-6v3m4-10v3m1 4v3m5-11v3m10-18v3m9-11v3m24-30v3m3-2v3m9 1v3m13-22v3m56-62v3" stroke="#00f20d" stroke-width="3" opacity="0.6"/><path d="M745 2227v3m14-19v3m47-42v3m8-17v3m21-22v3m1 0v3m3-11v3m0 3v3m9-17v3m2-4v3m2-7v3m3-3v3m2-5v3m12-18v3m10-13v3m0-2v3m2 1v3m15-23v3m12-12v3m1-3v3m38-46v3m17-15v3m35-43v3" stroke="#0df200" stroke-width="3" opacity="0.6"/><path d="M773 2203v3m10-23v3m2 4v3m22-24v3m0-1v3m5-6v3m1-10v3m3 1v3m1-12v3m19-18v3m0-3v3m2-7v3m5-6v3m6-6v3m1-10v3m2 4v3m3-17v3m10-9v3m2-6v3m1 1v3m1-13v3m1 2v3m1-12v3m4-2v3m15-16v3m14-16v3m20-17v3m13-24v3m9-14v3m4-3v3m6-7v3m4-13v3m123-112v3" stroke="#26d900" stroke-width="3" opacity="0.6"/><path d="M792 2181v3m2-6v3m1 0v3m7-8v3m6-9v3m4-11v3m2-6v3m6-8v3m13-15v3m3-9v3m3-3v3m2-9v3m1 5v3m13-18v3m2-4v3m2-7v3m12-14v3m2-2v3m3-17v3m10-6v3m3-5v3m14-26v3m2 7v3m6-13v3m31-32v3" stroke="#40bf00" stroke-width="3" opacity="0.6"/><path d="M774 2200v3m8-10v3m13-14v3m5-11v3m9-11v3m15-20v3m2-5v3m2-5v3m8-14v3m15-13v3m6-8v3m2-7v3m6-5v3m22-28v3m8-11v3m4-7v3m1-3v3m3 5v3m7-25v3m16-12v3m40-45v3m17-11v3m55-62v3m12-11v3" stroke="#59a600" stroke-width="3" opacity="0.6"/><path d="M790 2180v3m10-8v3m5-6v3m9-11v3m12-14v3m2-5v3m5-4v3m8-13v3m7-16v3m3-4v3m1-1v3m7-15v3m11-16v3m5-4v3m5-3v3m2-16v3m0 7v3m2-8v3m1-8v3m6-5v3m8-11v3m14-16v3m36-45v3m7 2v3" stroke="#738c00" stroke-width="3" opacity="0.6"/><path d="M807 2167v3m2-12v3m9-7v3m6-2v3m7-13v3m4-4v3m2-13v3m6-3v3m9-14v3m2-2v3m2-6v3m8-13v3m2-4v3m6-4v3m13-18v3m2-11v3m0 1v3m2-1v3m2-7v3m3-2v3m3-14v3m33-26v3m1-6v3m7-9v3m12-14v3" stroke="#8c7300" stroke-width="3" opacity="0.6"/><path d="M737 2237v3m37-40v3m41-36v3m13-21v3m2-9v3m9-5v3m11-19v3m9-9v3m8-11v3m12-13v3m5-9v3m2-2v3m2-11v3m0 4v3m6-9v3m17-24v3m26-30v3m9-5v3" stroke="#a65900" stroke-width="3" opacity="0.6"/><path d="M789 2186v3m10-12v3m13-13v3m8-12v3m2-6v3m1-3v3m2-13v3m0 5v3m7-13v3m4-8v3m2 1v3m1-6v3m3-10v3m2 0v3m14-18v3m1-5v3m2-7v3m6-12v3m0 1v3m0 4v3m10-15v3m3-2v3m2-12v3m0 2v3m5-10v3m3-3v3m19-21v3m6-17v3m2 0v3m37-32v3" stroke="#bf4000" stroke-width="3" opacity="0.6"/><path d="M778 2198v3m7-14v3m7-3v3m5-9v3m10-11v3m1-10v3m0-2v3m4-7v3m0 0v3m4-9v3m1-3v3m6-5v3m3-14v3m7-3v3m16-25v3m6-5v3m1 0v3m2-9v3m1 1v3m3-10v3m1-7v3m2 2v3m2-4v3m6-9v3m7-16v3m5-13v3m1-1v3m14-18v3m4-3v3m52-56v3m39-33v3" stroke="#d92600" stroke-width="3" opacity="0.6"/><path d="M738 2235v3m63-64v3m3-11v3m10-9v3m0 3v3m10-12v3m1-1v3m9-19v3m0 0v3m0-1v3m6-13v3m1-3v3m4-13v3m0 5v3m10-18v3m15-21v3m34-27v3m1-8v3m0 3v3m3-10v3m5-20v3m8 2v3m13-10v3m15-22v3m10-8v3m28-42v3m7-3v3" stroke="#f20d00" stroke-width="3" opacity="0.6"/><path d="M784 2187v3m32-30v3m2 0v3m1-5v3m11-14v3m10-12v3m3-8v3m11-14v3m4-5v3m4-6v3m1-7v3m11-14v3m2-2v3m4-5v3m4-9v3m2-6v3m2-13v3m14-8v3m15-16v3m14-10v3m30-37v3" stroke="#ff0d00" stroke-width="3" opacity="0.6"/><path d="M774 2202v3m7-11v3m15-20v3m9-10v3m8-6v3m2-9v3m4-2v3m8-12v3m3-8v3m2-9v3m4 2v3m5-13v3m1-1v3m5-13v3m8-11v3m5-5v3m6-9v3m2 4v3m5-19v3m4-6v3m2-7v3m11-7v3m6-3v3m7-20v3m18-16v3m9-17v3m6-15v3m10-5v3m57-52v3" stroke="#ff2600" stroke-width="3" opacity="0.6"/><path d="M780 2200v3m4-7v3m2-6v3m6-10v3m1-6v3m1-3v3m1-5v3m8-7v3m4-7v3m3-12v3m3-7v3m13-14v3m10-10v3m2-7v3m7-10v3m3-4v3m3-5v3m16-21v3m0 0v3m1-8v3m5-1v3m3-9v3m2-9v3m13-8v3m13-13v3m7-15v3m10-9v3m14-21v3m40-42v3" stroke="#ff4000" stroke-width="3" opacity="0.6"/><path d="M788 2185v3m22-25v3m0-3v3m5-3v3m6-11v3m4-7v3m5-5v3m3-11v3m2 3v3m3-12v3m1-4v3m3-1v3m3-11v3m1-1v3m3-10v3m6-1v3m1-7v3m2-5v3m8-18v3m1 3v3m2-2v3m10-14v3m4-4v3m13-20v3m2-11v3m7-4v3m11-12v3m12-19v3" stroke="#ff5900" stroke-width="3" opacity="0.6"/><path d="M765 2210v3m22-26v3m16-18v3m3-6v3m5-9v3m5-6v3m2-6v3m3-3v3m2-10v3m1-3v3m1-2v3m1-6v3m8-9v3m2-3v3m6-11v3m1-5v3m7-2v3m8-10v3m1-7v3m0-3v3m22-30v3m10-9v3m8-13v3m13-17v3m2 1v3m29-36v3m1-6v3" stroke="#ff7300" stroke-width="3" opacity="0.6"/><path d="M748 2223v3m14-12v3m31-31v3m18-25v3m11-12v3m2-7v3m6-16v3m3 3v3m3-8v3m1-4v3m8-17v3m5 1v3m1-3v3m2-9v3m1-6v3m2-5v3m3-6v3m1-3v3m7-5v3m7-14v3m12-16v3m8-14v3m1 5v3m0-2v3m1-6v3m3-4v3m1-5v3m10-11v3m3-5v3m3 1v3m3-17v3m0 5v3m41-49v3" stroke="#ff8c00" stroke-width="3" opacity="0.6"/><path d="M760 2213v3m51-54v3m7-4v3m1-11v3m0 3v3m1-4v3m10-12v3m3-7v3m1-4v3m1-8v3m0 0v3m6-7v3m1-10v3m5-2v3m2-8v3m10-16v3m1-2v3m14-23v3m1 4v3m6-10v3m0 5v3m6-12v3m4-15v3m9-6v3m20-18v3m35-44v3m12-10v3m50-54v3m18-21v3" stroke="#ffa600" stroke-width="3" opacity="0.6"/><path d="M745 2229v3m8-9v3m59-64v3m0-2v3m14-14v3m2-10v3m1-1v3m0 2v3m9-23v3m4-5v3m1-6v3m3-2v3m3-7v3m5-7v3m6 0v3m12-25v3m4-8v3m2 2v3m2-6v3m3-15v3m18-14v3m6-3v3m11-20v3m13-21v3m5-9v3m2 10v3m10-18v3m11-16v3m29-36v3m37-43v3" stroke="#ffbf00" stroke-width="3" opacity="0.6"/><path d="M781 2197v3m10-17v3m14-20v3m1 0v3m1-10v3m4-5v3m0 2v3m4-7v3m10-15v3m3-4v3m15-19v3m2-8v3m2 0v3m0-1v3m24-30v3m6-14v3m0-2v3m2 1v3m1-12v3m2 1v3m27-31v3m0-1v3m4-8v3m0 7v3m31-47v3m3-2v3m2-4v3m6-4v3m1-11v3" stroke="#ffd900" stroke-width="3" opacity="0.6"/><path d="M735 2237v3m53-53v3m5-11v3m0-2v3m4-7v3m12-10v3m6-18v3m8-8v3m0 0v3m0-2v3m4-8v3m0-2v3m5-13v3m5-3v3m2 0v3m14-19v3m2-11v3m0 3v3m1-12v3m9-6v3m3-5v3m1-10v3m8-8v3m2-4v3m7-9v3m6-13v3m2-8v3m2 4v3m32-40v3m9-5v3m3-15v3m0 1v3m15-15v3" stroke="#fff200" stroke-width="3" opacity="0.6"/><path d="M785 2187v3m4-5v3m15-18v3m12-19v3m0-2v3m0-1v3m6-8v3m2 1v3m2-9v3m3-12v3m0-1v3m7-5v3m1-10v3m3-3v3m7-14v3m2-7v3m1 5v3m9-16v3m1-3v3m5-11v3m2-7v3m2 2v3m6-12v3m10-12v3m1 2v3m17-26v3m4-11v3m10-10v3m1-9v3m5-3v3m11-11v3m8-22v3" stroke="#f2f20d" stroke-width="3" opacity="0.6"/><path d="M773 2199v3m13-15v3m9-10v3m4-5v3m7-11v3m3-7v3m22-25v3m3-10v3m1 0v3m2-8v3m13-20v3m1-7v3m0 3v3m1-4v3m3-5v3m4-8v3m7-6v3m6-6v3m3-8v3m4-8v3m13-19v3m6-13v3m1-8v3m7-2v3m1-8v3m24-19v3m16-18v3m1-3v3m19-32v3m24-18v3" stroke="#d9d926" stroke-width="3" opacity="0.6"/><path d="M776 2197v3m1-5v3m8-13v3m7-2v3m3-14v3m10-11v3m6-7v3m5-14v3m0 1v3m4-5v3m7-17v3m10-9v3m1-6v3m4-5v3m0-3v3m2-1v3m2-13v3m0 3v3m0-3v3m16-22v3m7-9v3m2-10v3m6 1v3m16-22v3m1-7v3m3-6v3m13-15v3m3-4v3m9-18v3m6 7v3m32-56v3" stroke="#bfbf40" stroke-width="3" opacity="0.6"/><path d="M778 2192v3m9-13v3m5-6v3m8-10v3m3-3v3m5-18v3m13-12v3m1-3v3m25-21v3m6-13v3m7-13v3m12-14v3m1 0v3m1-14v3m16-8v3m1-7v3m11-17v3m7-9v3m47-47v3m0-3v3" stroke="#a6a659" stroke-width="3" opacity="0.6"/><path d="M820 2147v3m2 4v3m1-11v3m11-9v3m10-19v3m4-2v3m9-17v3m0 0v3m8-11v3m4-9v3m0-2v3m2-2v3m22-25v3m7-13v3m9-6v3m17-25v3m4-9v3m10-17v3m6-11v3" stroke="#8c8c73" stroke-width="3" opacity="0.6"/><path d="M778 2196v3m5-6v3m1-8v3m25-29v3m0 1v3m1-10v3m6-5v3m7-11v3m0 0v3m9-16v3m3-4v3m2-4v3m7-14v3m5-6v3m2-7v3m0-1v3m3-13v3m1 5v3m2-7v3m5-12v3m2-4v3m5-12v3m0 5v3m0-2v3m6-20v3m6-5v3m0 1v3m3-12v3m17-15v3m5-11v3m4-2v3m13-20v3m6-9v3m13-19v3m7-12v3m12-7v3" stroke="#73738c" stroke-width="3" opacity="0.6"/><path d="M777 2195v3m9-11v3m16-18v3m3-8v3m5-5v3m4-10v3m9-15v3m3-6v3m3-4v3m0-3v3m10-19v3m11-7v3m7-6v3m7-11v3m2-9v3m1-6v3m0-2v3m4-6v3m3-10v3m4 0v3m4-9v3m1-5v3m29-32v3m4-8v3m15-25v3m1 4v3m85-91v3m25-23v3m23-33v3" stroke="#5959a6" stroke-width="3" opacity="0.6"/><path d="M762 2208v3m14-18v3m25-26v3m6-10v3m11-13v3m2-8v3m10-10v3m2-9v3m4-5v3m6-7v3m5-6v3m5-12v3m6-5v3m2-10v3m0 1v3m3-10v3m1 3v3m1-13v3m1-3v3m7-5v3m3-8v3m9-18v3m9-10v3m1-4v3m4-4v3m6-8v3m8-11v3m33-34v3m6-22v3m22-16v3" stroke="#4040bf" stroke-width="3" opacity="0.6"/><path d="M778 2195v3m7-4v3m12-23v3m12-16v3m6-11v3m9-7v3m1-9v3m0 1v3m3-10v3m2-3v3m6-10v3m2-7v3m2-1v3m2-6v3m2-2v3m9-17v3m5-11v3m3-6v3m2 3v3m1-1v3m5-18v3m1 4v3m5-20v3m13-6v3m5-15v3m3 0v3m1-3v3m1-12v3m16-14v3m9-12v3m63-65v3m92-92v3" stroke="#2626d9" stroke-width="3" opacity="0.6"/><path d="M785 2183v3m9-11v3m15-17v3m1-7v3m2-1v3m3-8v3m14-22v3m16-9v3m5-11v3m8-15v3m4-2v3m2-4v3m1-7v3m3-7v3m2-4v3m4-9v3m4-9v3m9-16v3m2 4v3m1-11v3m12-17v3m10-10v3m13-17v3m11-12v3m9-8v3m20-24v3m12-18v3m2-10v3m8-5v3" stroke="#0d0df2" stroke-width="3" opacity="0.6"/>
<path d="M711.6 1886.3 V2265.4 H1094.9" fill="none" stroke="#333" stroke-width="1.4"/><path d="M788.3 2265.4 v-4 M711.6 2189.6 h4" stroke="#333" stroke-width="1.2"/><path d="M864.9 2265.4 v-4 M711.6 2113.8 h4" stroke="#333" stroke-width="1.2"/><path d="M941.6 2265.4 v-4 M711.6 2037.9 h4" stroke="#333" stroke-width="1.2"/><path d="M1018.2 2265.4 v-4 M711.6 1962.1 h4" stroke="#333" stroke-width="1.2"/><path d="M1094.9 2265.4 v-4 M711.6 1886.3 h4" stroke="#333" stroke-width="1.2"/><text x="711.6" y="2294.4" font-size="23.5" text-anchor="middle" font-family='"Liberation Sans", sans-serif' fill="#111">0</text><text x="702.2" y="2273.7" font-size="23.5" text-anchor="end" font-family='"Liberation Sans", sans-serif' fill="#111">0</text><text x="788.3" y="2294.4" font-size="23.5" text-anchor="middle" font-family='"Liberation Sans", sans-serif' fill="#111">1</text><text x="702.2" y="2197.9" font-size="23.5" text-anchor="end" font-family='"Liberation Sans", sans-serif' fill="#111">1</text><text x="864.9" y="2294.4" font-size="23.5" text-anchor="middle" font-family='"Liberation Sans", sans-serif' fill="#111">2</text><text x="702.2" y="2122.1" font-size="23.5" text-anchor="end" font-family='"Liberation Sans", sans-serif' fill="#111">2</text><text x="941.6" y="2294.4" font-size="23.5" text-anchor="middle" font-family='"Liberation Sans", sans-serif' fill="#111">3</text><text x="702.2" y="2046.2" font-size="23.5" text-anchor="end" font-family='"Liberation Sans", sans-serif' fill="#111">3</text><text x="1018.2" y="2294.4" font-size="23.5" text-anchor="middle" font-family='"Liberation Sans", sans-serif' fill="#111">4</text><text x="702.2" y="1970.4" font-size="23.5" text-anchor="end" font-family='"Liberation Sans", sans-serif' fill="#111">4</text><text x="1094.9" y="2294.4" font-size="23.5" text-anchor="middle" font-family='"Liberation Sans", sans-serif' fill="#111">5</text><text x="702.2" y="1894.6" font-size="23.5" text-anchor="end" font-family='"Liberation Sans", sans-serif' fill="#111">5</text><path d="M711.6 2265.4 L1094.9 1886.3" stroke="#222" stroke-width="1.1"/><text x="903.2" y="2323.0" font-size="23" text-anchor="middle" font-family='"Liberation Sans", sans-serif' fill="#111">HS<tspan font-size="18" dx="1.2" dy="12">ADS</tspan><tspan dx="1.7" dy="-12"> [m]</tspan></text><text transform="translate(670.3,2075.8) rotate(-90)" x="0" y="0" font-size="23" text-anchor="middle" font-family='"Liberation Sans", sans-serif' fill="#111">HS<tspan font-size="18" dx="1.2" dy="12">sim</tspan><tspan dx="1.7" dy="-12"> [m]</tspan></text><rect x="1114.8" y="1885.50" width="29.6" height="6.35" fill="#0808f7"/><rect x="1114.8" y="1891.45" width="29.6" height="6.35" fill="#1818e7"/><rect x="1114.8" y="1897.39" width="29.6" height="6.35" fill="#2828d7"/><rect x="1114.8" y="1903.34" width="29.6" height="6.35" fill="#3838c7"/><rect x="1114.8" y="1909.28" width="29.6" height="6.35" fill="#4848b7"/><rect x="1114.8" y="1915.23" width="29.6" height="6.35" fill="#5858a7"/><rect x="1114.8" y="1921.17" width="29.6" height="6.35" fill="#686897"/><rect x="1114.8" y="1927.12" width="29.6" height="6.35" fill="#787887"/><rect x="1114.8" y="1933.06" width="29.6" height="6.35" fill="#878778"/><rect x="1114.8" y="1939.01" width="29.6" height="6.35" fill="#979768"/><rect x="1114.8" y="1944.95" width="29.6" height="6.35" fill="#a7a758"/><rect x="1114.8" y="1950.90" width="29.6" height="6.35" fill="#b7b748"/><rect x="1114.8" y="1956.84" width="29.6" height="6.35" fill="#c7c738"/><rect x="1114.8" y="1962.79" width="29.6" height="6.35" fill="#d7d728"/><rect x="1114.8" y="1968.73" width="29.6" height="6.35" fill="#e7e718"/><rect x="1114.8" y="1974.68" width="29.6" height="6.35" fill="#f7f708"/><rect x="1114.8" y="1980.62" width="29.6" height="6.35" fill="#fff700"/><rect x="1114.8" y="1986.57" width="29.6" height="6.35" fill="#ffe700"/><rect x="1114.8" y="1992.52" width="29.6" height="6.35" fill="#ffd700"/><rect x="1114.8" y="1998.46" width="29.6" height="6.35" fill="#ffc700"/><rect x="1114.8" y="2004.41" width="29.6" height="6.35" fill="#ffb700"/><rect x="1114.8" y="2010.35" width="29.6" height="6.35" fill="#ffa700"/><rect x="1114.8" y="2016.30" width="29.6" height="6.35" fill="#ff9700"/><rect x="1114.8" y="2022.24" width="29.6" height="6.35" fill="#ff8700"/><rect x="1114.8" y="2028.19" width="29.6" height="6.35" fill="#ff7800"/><rect x="1114.8" y="2034.13" width="29.6" height="6.35" fill="#ff6800"/><rect x="1114.8" y="2040.08" width="29.6" height="6.35" fill="#ff5800"/><rect x="1114.8" y="2046.02" width="29.6" height="6.35" fill="#ff4800"/><rect x="1114.8" y="2051.97" width="29.6" height="6.35" fill="#ff3800"/><rect x="1114.8" y="2057.91" width="29.6" height="6.35" fill="#ff2800"/><rect x="1114.8" y="2063.86" width="29.6" height="6.35" fill="#ff1800"/><rect x="1114.8" y="2069.80" width="29.6" height="6.35" fill="#ff0800"/><rect x="1114.8" y="2075.75" width="29.6" height="6.35" fill="#f70800"/><rect x="1114.8" y="2081.70" width="29.6" height="6.35" fill="#e71800"/><rect x="1114.8" y="2087.64" width="29.6" height="6.35" fill="#d72800"/><rect x="1114.8" y="2093.59" width="29.6" height="6.35" fill="#c73800"/><rect x="1114.8" y="2099.53" width="29.6" height="6.35" fill="#b74800"/><rect x="1114.8" y="2105.48" width="29.6" height="6.35" fill="#a75800"/><rect x="1114.8" y="2111.42" width="29.6" height="6.35" fill="#976800"/><rect x="1114.8" y="2117.37" width="29.6" height="6.35" fill="#877800"/><rect x="1114.8" y="2123.31" width="29.6" height="6.35" fill="#788700"/><rect x="1114.8" y="2129.26" width="29.6" height="6.35" fill="#689700"/><rect x="1114.8" y="2135.20" width="29.6" height="6.35" fill="#58a700"/><rect x="1114.8" y="2141.15" width="29.6" height="6.35" fill="#48b700"/><rect x="1114.8" y="2147.09" width="29.6" height="6.35" fill="#38c700"/><rect x="1114.8" y="2153.04" width="29.6" height="6.35" fill="#28d700"/><rect x="1114.8" y="2158.98" width="29.6" height="6.35" fill="#18e700"/><rect x="1114.8" y="2164.93" width="29.6" height="6.35" fill="#08f700"/><rect x="1114.8" y="2170.88" width="29.6" height="6.35" fill="#00f708"/><rect x="1114.8" y="2176.82" width="29.6" height="6.35" fill="#00e718"/><rect x="1114.8" y="2182.77" width="29.6" height="6.35" fill="#00d728"/><rect x="1114.8" y="2188.71" width="29.6" height="6.35" fill="#00c738"/><rect x="1114.8" y="2194.66" width="29.6" height="6.35" fill="#00b748"/><rect x="1114.8" y="2200.60" width="29.6" height="6.35" fill="#00a758"/><rect x="1114.8" y="2206.55" width="29.6" height="6.35" fill="#009768"/><rect x="1114.8" y="2212.49" width="29.6" height="6.35" fill="#008778"/><rect x="1114.8" y="2218.44" width="29.6" height="6.35" fill="#007887"/><rect x="1114.8" y="2224.38" width="29.6" height="6.35" fill="#006897"/><rect x="1114.8" y="2230.33" width="29.6" height="6.35" fill="#0058a7"/><rect x="1114.8" y="2236.27" width="29.6" height="6.35" fill="#0048b7"/><rect x="1114.8" y="2242.22" width="29.6" height="6.35" fill="#0038c7"/><rect x="1114.8" y="2248.16" width="29.6" height="6.35" fill="#0028d7"/><rect x="1114.8" y="2254.11" width="29.6" height="6.35" fill="#0018e7"/><rect x="1114.8" y="2260.05" width="29.6" height="6.35" fill="#0008f7"/><rect x="1114.8" y="1885.5" width="29.6" height="380.5" fill="none" stroke="#444" stroke-width="1"/><text x="1151.7" y="1893.0" font-size="21.2" font-family='"Liberation Sans", sans-serif' fill="#111">N</text><path d="M1144.4 1980.6 h-3" stroke="#333" stroke-width="1"/><text x="1151.7" y="1988.1" font-size="21.2" font-family='"Liberation Sans", sans-serif' fill="#111">W</text><path d="M1144.4 2075.8 h-3" stroke="#333" stroke-width="1"/><text x="1151.7" y="2083.2" font-size="21.2" font-family='"Liberation Sans", sans-serif' fill="#111">S</text><path d="M1144.4 2170.9 h-3" stroke="#333" stroke-width="1"/><text x="1151.7" y="2178.4" font-size="21.2" font-family='"Liberation Sans", sans-serif' fill="#111">E</text><text x="1151.7" y="2273.5" font-size="21.2" font-family='"Liberation Sans", sans-serif' fill="#111">N</text><text transform="translate(1194.9,2075.8) rotate(-90)" x="0" y="0" font-size="21" text-anchor="middle" font-family='"Liberation Sans", sans-serif' fill="#111">Aspect</text>
</svg></body></html>
